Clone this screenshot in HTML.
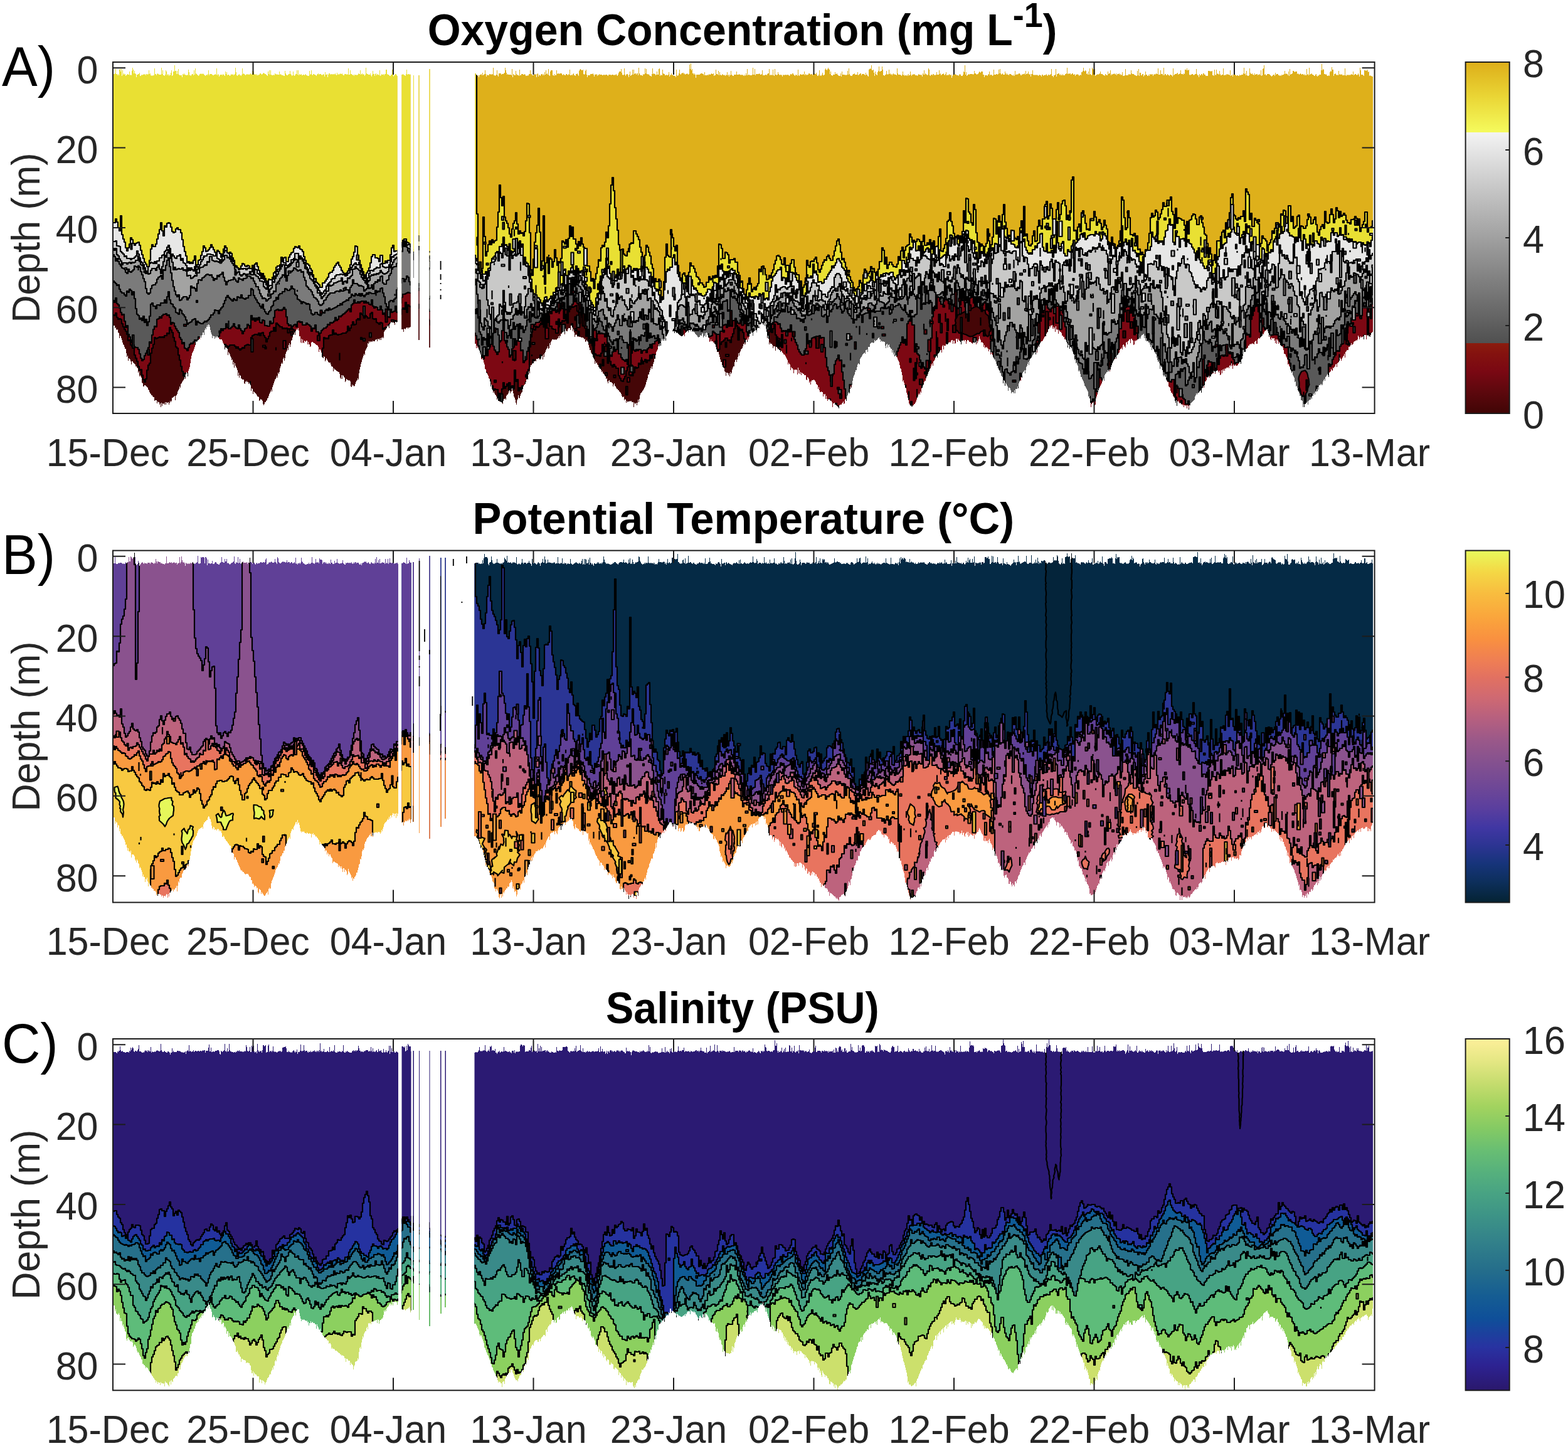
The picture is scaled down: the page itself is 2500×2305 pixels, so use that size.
<!DOCTYPE html>
<html lang="en"><head><meta charset="utf-8"><title>Oxygen, temperature and salinity time series</title>
<style>html,body{margin:0;padding:0;background:#fff}svg{display:block}text{font-family:"Liberation Sans", sans-serif}</style></head><body>
<svg xmlns="http://www.w3.org/2000/svg" width="2500" height="2305" viewBox="0 0 2500 2305">
<rect width="2500" height="2305" fill="#fff"/>
<defs>
<linearGradient id="cbA" x1="0" y1="1" x2="0" y2="0"><stop offset="0%" stop-color="#400505"/><stop offset="6%" stop-color="#5c080d"/><stop offset="12%" stop-color="#7a0813"/><stop offset="17%" stop-color="#84120f"/><stop offset="20%" stop-color="#8b1c0e"/><stop offset="20%" stop-color="#505050"/><stop offset="50%" stop-color="#a0a0a0"/><stop offset="80%" stop-color="#f3f3f3"/><stop offset="80%" stop-color="#f5fb5d"/><stop offset="90%" stop-color="#ead636"/><stop offset="100%" stop-color="#ddae1a"/></linearGradient>
<linearGradient id="cbB" x1="0" y1="1" x2="0" y2="0"><stop offset="0%" stop-color="#042333"/><stop offset="5.9%" stop-color="#0d2f5c"/><stop offset="11%" stop-color="#16347a"/><stop offset="16.1%" stop-color="#2c3492"/><stop offset="21.2%" stop-color="#4037a3"/><stop offset="26.9%" stop-color="#5b3f9e"/><stop offset="33.3%" stop-color="#704896"/><stop offset="40%" stop-color="#85518f"/><stop offset="46.1%" stop-color="#9a5889"/><stop offset="51.8%" stop-color="#b45f80"/><stop offset="58.2%" stop-color="#cf6972"/><stop offset="64.1%" stop-color="#e27161"/><stop offset="68.4%" stop-color="#ee7d55"/><stop offset="74.8%" stop-color="#f99040"/><stop offset="81.2%" stop-color="#faa63c"/><stop offset="87.9%" stop-color="#f8bd3f"/><stop offset="94%" stop-color="#f4d845"/><stop offset="100%" stop-color="#e8f95c"/></linearGradient>
<linearGradient id="cbC" x1="0" y1="1" x2="0" y2="0"><stop offset="0%" stop-color="#2a186c"/><stop offset="7%" stop-color="#2d2291"/><stop offset="12.4%" stop-color="#2833a1"/><stop offset="20.4%" stop-color="#0f4f99"/><stop offset="26.8%" stop-color="#155d93"/><stop offset="34.4%" stop-color="#256e8b"/><stop offset="42.7%" stop-color="#33828a"/><stop offset="49%" stop-color="#3c9287"/><stop offset="56.1%" stop-color="#48a383"/><stop offset="61.8%" stop-color="#55b07d"/><stop offset="68.2%" stop-color="#68be73"/><stop offset="74.5%" stop-color="#84ca64"/><stop offset="80.9%" stop-color="#a3d35f"/><stop offset="87.3%" stop-color="#c5dc6e"/><stop offset="93.6%" stop-color="#e4e783"/><stop offset="100%" stop-color="#fdef9a"/></linearGradient>
</defs>
<clipPath id="clipA"><path d="M181 118h2v-1h1v-7h1v8h2v2h1v-2h1v2h1v-9h1v-1h1v4h1v-4h1v11h1v-9h1v7h1v-2h1v2h1v-1h1v3h1v-1h1v-1h1v-1h1v1h2v-5h1v6h1v-1h1v1h1v-7h1v-5h1v3h1v6h1v-4h1v4h1v1h1v5h1v-4h2v-1h2v-2h1v5h2v-2h1v1h1v-1h2v-1h1v1h1v-1h1v2h1v-2h2v1h1v-1h1v-6h1v6h1v-1h1v3h1v1h1v-1h1v1h1v-1h2v-11h1v9h2v2h1v-2h1v-1h1v1h1v1h4v-11h1v10h1v-6h1v8h2v1h1v-2h1v-7h1v2h1v6h1v-2h1v1h1v2h1v-2h1v1h1v-4h1v-4h1v9h1v-1h1v-6h2v-10h1v9h2v5h1v-5h1v5h1v-8h1v9h1v1h4v3h1v-5h1v1h1v-2h1v2h2v1h2v-1h1v1h1v-9h1v4h1v5h2v1h1v-2h1v-1h2v2h1v-8h1v7h1v-10h1v8h1v1h1v1h1v1h1v1h1v-1h1v-2h2v-1h1v1h2v-1h1v1h1v1h1v1h1v1h1v-1h1v-1h1v1h1v-2h1v-6h1v8h1v-2h4v1h1v1h2v-1h2v-1h1v1h1v-10h1v11h1v-2h1v1h1v3h1v-2h1v-1h3v1h1v-2h1v1h1v1h1v1h1v-7h1v4h1v-3h1v5h1v-1h2v1h1v1h1v-1h1v-2h1v1h2v-1h1v2h1v-1h1v-1h1v-10h1v7h1v5h1v1h1v-1h1v-1h1v-1h1v2h2v1h1v-2h1v-10h1v9h1v-1h1v1h1v1h1v1h1v-1h1v-1h1v1h1v-1h1v1h2v-1h1v-1h1v2h1v-1h1v-5h1v5h1v-4h1v4h1v1h1v-1h1v2h1v-2h1v2h2v-1h2v-2h2v1h1v1h1v-1h1v-1h1v-1h1v1h1v1h2v1h1v1h1v1h1v-7h1v4h1v-6h1v7h1v-7h1v7h1v1h3v-1h1v1h1v-3h1v1h1v1h1v-1h1v1h3v-5h1v5h1v-1h1v1h1v1h3v1h2v-8h1v4h1v2h1v1h2v-1h1v-1h2v-5h1v5h1v1h1v2h1v-1h1v-6h1v6h1v1h1v-1h1v-2h2v-6h1v7h1v-7h1v8h1v-2h1v1h2v-1h1v2h2v-1h2v1h1v-1h1v-1h1v2h2v1h3v-8h1v6h1v-1h1v-6h1v7h1v1h1v-2h2v1h2v1h1v1h1v-2h1v-1h1v-1h1v2h1v-1h3v1h1v1h1v-1h1v-1h1v1h1v3h1v-7h1v4h2v-1h1v5h1v-4h1v-2h2v2h1v-1h2v1h1v-1h2v1h1v-1h1v-1h1v2h1v1h1v-4h1v3h1v-1h1v1h1v-1h1v-1h1v1h2v-1h1v2h1v1h2v-2h3v1h1v-1h1v1h1v-10h1v10h2v-7h1v6h2v1h1v1h1v-1h1v2h1v-2h2v1h1v-1h1v1h1v-1h1v-2h1v1h2v-6h1v7h1v-1h1v-1h1v2h1v-1h1v1h1v2h1v-2h1v-11h1v9h1v1h2v1h3v-2h1v3h1v2h1v-3h1v-6h1v5h2v3h1v-3h1v-1h1v3h1v-2h1v1h2v1h1v-8h1v9h1v-1h1v-2h1v1h2v-1h1v2h1v-2h2v-7h2v7h1v1h2v1h1v1h2v-2h2v-8h1v8h1v3h1v-2h2v-2h2v2h1v1h.5v392h-.5v1h-1v-1h-2v5h-1v-3h-1v-1h-4v-1h-1v2h-1v2h-1v6h-1v-4h-1v2h-1v-2h-1v4h-1v2h-1v1h-1v1h-1v2h-1v10h-1v-2h-1v2h-1v-1h-1v4h-1v-3h-1v3h-1v-2h-1v1h-1v-1h-1v4h-1v-3h-2v1h-1v2h-3v-1h-1v2h-1v-1h-1v1h-1v-1h-1v2h-1v-2h-1v4h-1v-1h-1v6h-1v2h-1v2h-1v2h-1v7h-1v-2h-1v3h-1v3h-1v3h-1v4h-1v3h-1v5h-1v4h-1v6h-1v10h-1v-2h-1v3h-1v1h-1v2h-1v3h-1v3h-1v1h-1v-2h-1v1h-1v-2h-1v4h-1v-1h-1v-8h-1v-2h-1v1h-1v-1h-2v-1h-1v-1h-1v3h-1v2h-1v-7h-1v-1h-1v-2h-1v-1h-1v6h-1v-6h-1v6h-1v-2h-1v-6h-1v-3h-2v-1h-2v-1h-1v-1h-1v-1h-2v-2h-1v5h-1v-7h-1v-1h-2v-3h-1v-3h-3v-1h-1v-2h-1v-2h-1v-2h-1v3h-1v2h-1v-7h-1v-1h-1v3h-1v-1h-1v-1h-1v-7h-1v-3h-1v-2h-2v4h-1v-8h-1v-2h-1v-1h-2v-1h-1v-1h-1v-1h-2v-1h-1v-1h-2v1h-1v6h-1v1h-1v-4h-2v-4h-1v4h-1v-6h-2v2h-1v-1h-1v-1h-1v4h-1v-1h-1v-5h-1v6h-1v-7h-1v6h-1v-10h-2v-9h-1v-4h-1v3h-1v-2h-1v2h-1v2h-1v6h-1v-4h-1v3h-1v1h-1v4h-1v4h-1v1h-1v6h-1v4h-1v-6h-1v3h-1v8h-1v-3h-1v4h-1v2h-1v3h-1v7h-1v4h-1v-5h-1v2h-1v8h-1v-2h-1v2h-1v4h-1v3h-1v6h-1v3h-1v-2h-1v8h-1v-3h-1v3h-1v2h-1v1h-1v3h-1v3h-1v3h-1v3h-1v7h-1v-3h-1v3h-1v2h-1v2h-1v3h-1v3h-1v1h-1v3h-1v1h-1v2h-2v3h-1v2h-1v-2h-1v-5h-1v-2h-2v-1h-1v2h-1v1h-1v-6h-1v-1h-2v-2h-1v-2h-1v-1h-1v-1h-1v-1h-1v-1h-1v4h-1v-8h-1v-1h-1v4h-1v-9h-1v-2h-1v-2h-1v2h-1v-3h-2v-2h-1v2h-1v-1h-1v4h-1v-1h-1v-6h-3v-1h-1v-1h-1v-4h-1v-1h-1v4h-1v-8h-1v5h-1v-9h-1v-3h-1v-2h-1v-2h-1v-4h-1v7h-1v-9h-1v4h-1v-8h-1v1h-1v-4h-1v-2h-1v-3h-1v-2h-1v-2h-1v5h-1v-10h-1v-1h-1v-1h-2v3h-1v-7h-1v-2h-1v-2h-1v-3h-1v-2h-4v-1h-1v-2h-2v-2h-2v2h-1v-2h-1v4h-1v-4h-2v-1h-1v4h-1v-6h-1v-3h-1v-4h-1v-5h-1v-3h-1v-1h-1v4h-1v-3h-1v3h-1v4h-1v-2h-1v3h-1v8h-1v-4h-2v4h-1v1h-1v3h-1v-3h-1v6h-1v-1h-1v2h-2v2h-1v1h-1v-1h-1v6h-1v3h-1v3h-1v3h-1v2h-1v2h-1v4h-1v5h-1v7h-1v6h-1v3h-1v3h-1v9h-1v-5h-1v-2h-1v5h-1v6h-1v-3h-1v3h-1v2h-1v1h-1v2h-1v2h-1v1h-1v6h-1v-2h-1v4h-1v2h-1v2h-1v4h-1v2h-1v1h-1v7h-1v-7h-1v1h-1v1h-1v1h-2v5h-1v2h-1v-2h-1v3h-1v3h-1v-4h-1v1h-2v-1h-1v4h-1v-4h-1v4h-1v-2h-1v1h-1v-1h-1v4h-1v-5h-1v7h-1v-6h-1v2h-1v-4h-2v-1h-1v3h-1v-5h-3v1h-1v-6h-2v-1h-1v-2h-2v-2h-1v-1h-1v-2h-1v-3h-1v-1h-1v-3h-1v-1h-1v-1h-1v-1h-1v-1h-2v2h-2v-5h-1v-1h-1v-8h-1v-2h-1v-2h-1v2h-1v-8h-1v2h-1v-7h-1v-1h-1v-2h-2v-3h-1v-1h-1v-1h-1v-1h-1v-2h-2v5h-1v-5h-1v-3h-1v-1h-1v-1h-1v4h-1v-8h-1v2h-1v-6h-1v-7h-2v-3h-1v-3h-1v-1h-1v-3h-1v-4h-1v-3h-1v-3h-1v-1h-1v4h-1v-8h-1v-1h-1v-5h-1v1h-1v-1h-1v-3h-1v1h-1v-4h-2ZM640.5 119h1.5v-1h1v1h1v1h2v1h1v-3h1v-7h1v8h1v-1h2v1h1v-1h1v1h.5v402h-.5v1h-3v2h-1v-2h-2v1h-1v2h-1v-1h-2v5h-1v-4h-2.5ZM757.5 117h1.5v2h1v1h1v1h1v-1h1v3h1v-3h1v-1h2v-1h1v2h1v-4h1v4h1v-1h1v-1h1v-6h1v6h1v4h1v-3h1v1h3v-2h2v1h1v-1h1v1h1v-1h1v-10h1v12h2v1h1v-1h1v-1h1v-7h1v8h1v2h1v-5h4v2h1v-1h3v-1h1v-1h1v-8h1v4h1v4h1v3h1v-1h1v1h5v1h1v-10h1v13h1v-5h1v1h1v1h2v-7h1v5h1v2h1v-1h1v1h1v1h1v-10h1v9h2v-2h3v1h2v-1h1v1h1v2h2v-1h1v1h1v-1h1v-2h2v-6h1v6h2v2h3v-1h1v-1h1v1h1v-1h1v5h1v-5h1v-1h1v5h1v-3h1v1h1v1h1v-2h1v-1h2v2h1v-2h1v2h1v-5h1v4h1v-7h1v6h1v-1h1v2h1v-9h1v10h1v1h1v-7h1v-2h3v8h2v1h1v-3h1v2h2v-8h1v6h1v-1h2v1h1v-1h4v2h1v1h1v-2h1v1h1v1h2v-2h2v1h1v1h1v-2h1v1h1v-8h1v9h2v-1h1v1h1v-2h1v-1h1v3h2v1h1v-3h2v-1h1v2h1v2h1v-8h1v-2h1v-1h1v1h1v1h2v-1h1v7h1v1h1v-1h1v-5h1v-2h1v8h1v4h1v-3h4v-2h4v-1h1v2h1v3h1v-3h2v-1h1v1h1v2h1v-2h1v1h1v-2h1v1h4v1h2v-1h2v1h1v-1h3v1h1v1h1v-2h4v1h1v-1h3v1h1v-1h1v1h1v-1h1v-1h1v2h1v1h1v-2h1v-3h1v-2h3v-4h1v6h1v3h1v1h1v-1h1v-10h1v10h1v2h1v-2h1v-1h2v2h1v3h1v-4h1v-5h1v7h1v-1h1v-1h1v-8h1v8h1v-8h1v7h1v-1h2v2h1v-2h2v3h1v-12h1v9h1v2h1v1h3v1h1v-3h1v1h1v-1h1v-9h1v8h1v-7h1v8h2v1h1v-1h1v2h1v1h2v1h1v-4h1v-9h1v9h1v-1h1v1h2v2h1v-1h1v-5h1v5h2v-9h1v-1h1v12h1v-2h1v1h2v-9h1v6h1v1h2v2h2v-1h1v1h2v-1h1v-4h1v7h1v-3h1v1h1v-3h1v2h1v1h2v1h3v2h1v-12h1v9h1v1h1v-1h1v-3h1v-6h1v7h1v1h1v-2h2v-1h2v2h1v-1h1v2h1v-1h2v-1h1v1h1v1h1v-1h1v-15h1v7h1v-9h1v11h1v-2h1v7h2v2h1v-2h1v2h1v5h1v-5h6v-1h1v-1h3v1h2v2h1v-5h1v5h4v-1h1v1h1v-2h1v1h2v-1h1v-1h1v1h2v-1h1v4h1v-1h2v-9h1v7h2v1h1v-6h1v7h1v-5h1v4h1v1h2v-2h1v1h1v1h1v-1h1v1h1v1h1v-2h1v1h1v-5h1v5h1v-1h1v3h1v-3h1v1h1v-7h1v6h1v1h1v1h2v-2h4v-5h1v5h3v-1h1v1h2v1h1v-1h2v1h1v1h1v-2h1v2h1v-1h1v-3h1v3h1v-10h1v10h1v-1h2v1h4v-1h1v-11h1v11h2v-9h1v10h1v-2h5v-1h1v1h1v1h2v-1h1v-6h1v8h4v-1h2v1h1v-2h1v-1h2v-7h1v10h1v-1h1v1h1v-1h1v1h1v-9h1v9h1v1h1v-11h1v9h2v1h1v-1h1v-4h1v3h1v1h1v1h1v-1h2v1h1v2h1v-3h1v1h1v-1h1v1h1v-1h2v1h1v-1h2v1h1v1h1v-1h1v-2h2v1h1v-2h2v2h1v1h1v1h1v-2h1v1h1v-1h1v2h1v-10h1v9h1v1h1v-2h1v-1h1v1h3v-1h1v1h1v-5h1v6h1v-2h1v1h1v1h1v-1h2v-2h2v1h1v1h1v-1h2v2h1v-2h2v-1h1v1h2v-2h1v3h1v2h2v-2h1v-7h1v9h1v-1h1v1h1v-2h1v-3h1v4h2v-1h1v-8h1v-2h1v2h1v1h1v-2h1v-2h1v2h1v1h1v7h1v-4h1v6h2v1h1v-2h3v-4h1v3h2v-1h1v2h1v1h1v1h3v-4h1v5h1v-8h1v5h4v1h1v-1h1v1h1v-1h1v-6h1v6h1v-10h1v9h1v2h1v1h3v-2h1v-1h2v-1h1v2h4v-4h1v5h1v-1h1v-1h1v-1h2v3h1v-2h4v1h1v1h1v-4h1v3h2v2h1v1h1v-11h1v-1h1v-1h1v1h1v-6h1v8h2v-1h1v5h1v5h1v-7h1v4h1v1h1v1h1v-5h1v-2h1v-7h1v8h2v-1h2v-7h1v5h1v9h2v1h1v-2h2v-6h1v5h1v1h1v-1h1v-7h1v7h1v-1h1v2h1v-1h1v2h1v-2h1v-1h1v2h1v-1h1v1h2v1h1v-11h1v8h1v2h4v1h1v1h1v-2h1v-5h1v6h1v-1h1v2h1v-1h2v1h1v-2h1v2h1v-3h1v2h2v-6h1v5h1v2h1v-2h2v-1h1v1h1v-1h1v2h3v1h1v-1h1v-2h1v1h3v1h1v-1h1v3h1v-5h1v2h1v-7h1v7h1v-2h1v1h1v1h1v1h1v-1h1v-10h1v2h1v9h1v1h1v-2h2v1h1v-2h2v2h1v-1h1v1h1v-1h1v-4h1v4h3v-7h1v6h1v-1h1v3h1v-1h1v-1h2v-1h1v2h1v1h1v-2h1v-3h1v5h2v-1h1v1h1v-2h1v1h1v1h1v-1h1v5h1v-3h1v-2h1v-1h1v1h2v-1h1v1h1v1h3v1h1v-2h1v-1h1v1h1v2h3v-2h1v-5h1v1h1v-11h1v15h1v-4h1v6h1v-1h1v-1h1v-1h1v1h1v-1h5v1h1v-1h1v-5h1v4h2v1h1v1h1v-1h2v-2h1v-2h1v1h1v1h1v-2h3v5h2v4h1v-3h4v1h1v-2h1v-1h1v-4h1v6h1v-1h2v1h1v1h1v-1h1v-9h1v8h3v-1h2v1h1v-1h1v-7h1v6h1v-7h1v7h1v2h1v-1h1v-1h1v2h3v-5h1v3h1v2h1v-2h1v2h2v1h1v-2h3v1h1v1h2v1h1v-2h1v2h1v-8h1v6h2v-1h1v1h1v-1h1v-1h2v1h1v2h2v-2h1v1h1v-1h2v-1h1v2h1v-6h1v5h2v-1h1v-3h1v4h1v1h1v-1h1v4h1v-4h2v-6h1v7h1v1h1v-1h1v1h1v-1h1v1h1v-1h1v1h1v1h1v-1h1v-1h1v1h2v2h1v-3h2v2h1v-1h2v-1h1v1h1v-2h1v2h1v1h1v-2h2v1h1v-1h1v-1h1v-8h1v11h2v2h1v-3h2v-1h1v-9h1v12h1v-4h2v-1h2v2h1v1h1v-2h1v2h2v-2h1v2h3v-2h2v-1h1v-9h1v10h1v-1h1v1h1v-1h2v2h1v-1h1v-1h2v2h2v-1h1v3h1v-2h2v-1h1v1h2v2h1v-1h1v-1h1v1h1v-5h2v-2h1v-5h1v5h1v1h1v-2h1v1h1v5h1v-1h1v2h1v-5h1v5h1v-10h1v9h1v1h1v1h1v-12h1v2h1v1h2v-1h1v11h1v-1h1v-1h2v-1h1v1h1v-1h1v-1h1v-3h1v4h3v1h1v1h2v1h1v-3h1v1h1v1h2v-6h1v4h1v-1h2v-5h1v8h1v-2h1v1h1v-1h2v-1h1v1h1v1h1v-2h1v3h1v-2h3v-1h1v2h1v-1h1v2h1v-1h1v-4h1v6h3v-1h1v-10h1v10h4v-2h1v1h1v-1h1v1h1v-7h1v5h1v1h3v1h1v1h2v1h2v-8h1v7h1v-10h1v11h1v-5h2v4h2v-2h2v4h1v-2h2v-6h1v5h2v2h2v-2h1v2h1v-3h1v1h1v-1h1v1h1v-1h1v3h1v-2h1v-1h1v1h1v-1h1v-1h1v1h2v-9h1v10h3v-7h1v6h3v2h1v-12h1v12h1v-2h2v2h2v-2h1v1h1v1h1v1h1v-2h2v1h2v2h1v-13h1v11h1v-1h1v-1h3v-1h1v-1h1v3h1v-1h2v-1h1v-5h1v6h3v1h1v-2h1v1h1v-7h2v1h1v-3h1v3h2v-1h1v8h1v1h1v-1h2v-1h2v1h1v1h1v-1h1v-1h2v-8h1v8h1v2h2v3h1v-5h1v2h2v-2h2v2h1v-3h2v2h2v2h4v-8h3v1h1v-1h1v1h1v-1h1v7h2v1h1v-10h1v8h1v1h1v-9h1v7h1v-1h1v1h1v1h1v-6h1v5h1v2h2v-1h2v-10h1v11h2v-1h1v1h1v-2h1v1h1v-1h1v1h2v1h1v-8h1v9h1v-1h1v-1h1v3h1v-3h1v-2h1v1h1v1h1v1h1v1h1v-1h2v1h2v-2h1v1h2v-1h3v-2h1v-9h1v10h1v-1h1v3h1v-7h1v7h1v1h2v-1h1v-11h1v7h1v2h2v-1h1v2h2v1h1v-3h1v2h2v-1h2v2h1v-1h2v-1h1v2h1v-8h1v9h1v-1h1v-10h1v-1h1v-5h1v15h1v-1h1v2h2v-2h4v1h1v1h1v1h1v1h1v-1h1v-1h1v-1h2v2h1v-5h1v3h1v-1h3v2h2v1h1v-1h1v1h1v-2h1v1h1v-1h2v-1h1v-5h1v5h1v-1h1v1h2v2h1v-6h1v7h1v-11h1v9h1v-1h2v-1h1v-4h2v1h1v1h1v-1h3v4h1v-1h1v1h1v1h1v-1h1v-1h1v1h1v1h1v-1h2v1h1v1h1v-2h1v2h2v-10h1v9h1v-1h1v2h1v-12h1v11h1v-1h2v-1h1v2h2v1h1v1h2v-2h1v-1h1v3h1v1h1v-2h1v1h1v-2h3v-7h1v-10h1v10h1v-2h1v1h1v7h2v1h1v-1h1v2h1v1h2v-1h1v1h1v-6h1v-2h1v1h1v-7h1v4h2v10h1v-3h2v-1h1v2h1v1h1v-1h1v1h1v-7h1v6h1v-1h1v1h2v-1h1v2h4v-11h1v11h1v1h1v-2h1v1h1v-1h1v1h1v-1h1v1h1v-1h1v-1h1v1h2v-5h1v6h1v-1h1v-1h2v1h1v1h1v-1h1v-2h1v2h1v3h1v-14h1v4h1v7h3v1h1v1h1v-9h2v1h1v-1h1v1h1v-2h1v4h1v-1h1v7h1v-1h1v1h2v1h2v407h-1v1h-1v1h-1v3h-1v3h-1v-1h-2v-2h-1v1h-1v-1h-1v7h-1v-7h-3v7h-1v-5h-1v1h-2v1h-1v-2h-1v2h-1v3h-1v-4h-1v-2h-1v6h-1v2h-1v-1h-1v1h-1v1h-2v1h-1v3h-1v1h-1v1h-1v-3h-1v3h-1v2h-1v1h-2v5h-3v2h-1v1h-1v9h-1v-6h-1v3h-1v1h-1v2h-1v2h-1v3h-1v-3h-1v-2h-1v5h-1v2h-1v1h-1v1h-1v6h-1v-5h-1v1h-1v3h-1v1h-1v2h-1v-1h-1v5h-1v-1h-1v-2h-1v4h-1v1h-1v1h-1v7h-1v-3h-1v-2h-1v2h-1v2h-1v1h-1v6h-1v-3h-1v2h-1v2h-1v6h-1v-2h-1v2h-1v-2h-1v2h-2v7h-1v-4h-1v7h-1v-4h-1v5h-1v-1h-1v5h-1v-3h-1v2h-1v3h-2v5h-1v-2h-1v3h-2v1h-1v1h-1v6h-1v-5h-1v2h-2v2h-2v5h-1v-5h-1v5h-1v-10h-1v-1h-2v-7h-2v-4h-1v-3h-1v-2h-1v-4h-1v-3h-1v1h-1v-8h-1v1h-1v-7h-1v-2h-1v-2h-1v-6h-1v2h-1v-3h-1v-2h-1v-4h-1v-2h-1v-3h-1v1h-1v-8h-1v-3h-1v-2h-1v-3h-1v-1h-2v-6h-1v-4h-1v-2h-2v-1h-1v-1h-1v-3h-1v-2h-1v3h-1v-5h-1v-2h-1v7h-1v-7h-1v6h-1v-4h-1v-4h-2v1h-1v-1h-1v-1h-1v4h-1v-2h-1v-6h-1v3h-1v-6h-1v-3h-1v-3h-2v2h-2v1h-1v2h-1v3h-1v-1h-1v3h-1v1h-1v1h-1v1h-1v2h-1v-1h-2v2h-1v7h-2v-5h-1v1h-1v1h-1v4h-1v-1h-2v-1h-1v1h-1v1h-1v-1h-1v1h-1v2h-2v3h-1v1h-1v1h-2v5h-3v3h-1v3h-1v5h-1v1h-1v7h-1v-3h-2v2h-1v1h-1v2h-1v1h-3v-2h-1v2h-2v-2h-1v7h-1v-5h-1v-4h-1v5h-1v-2h-1v1h-1v4h-1v-2h-1v1h-3v2h-1v-1h-1v4h-1v-3h-1v3h-1v-2h-1v6h-1v-5h-1v7h-1v1h-1v-7h-1v3h-1v-2h-1v-2h-1v1h-2v1h-1v4h-1v-4h-1v-1h-1v4h-2v1h-1v1h-1v3h-2v2h-1v-3h-1v2h-1v1h-1v-1h-1v5h-1v2h-2v6h-1v4h-1v-3h-1v3h-1v1h-1v7h-1v-4h-1v1h-1v1h-1v2h-2v1h-1v2h-1v-2h-1v3h-1v2h-1v5h-1v1h-1v1h-1v1h-1v1h-1v1h-1v1h-1v3h-2v7h-1v-6h-1v-1h-1v5h-1v-5h-1v1h-1v-1h-2v3h-1v-4h-1v1h-1v-2h-1v1h-1v-2h-1v-1h-1v1h-1v-2h-1v-2h-1v1h-1v7h-1v-9h-1v4h-1v-3h-1v-5h-1v-1h-1v-2h-1v-3h-1v-2h-2v-3h-1v-5h-1v-1h-1v-1h-1v-7h-2v-2h-1v-2h-1v-4h-1v-1h-1v-2h-1v2h-1v-2h-1v-8h-1v-5h-2v-2h-1v5h-1v-9h-1v-3h-1v1h-1v-3h-1v-4h-1v-5h-1v-1h-1v-2h-1v-1h-1v-4h-1v-1h-1v-2h-1v4h-1v-8h-1v3h-1v-4h-1v-3h-2v-2h-1v-1h-1v1h-1v-5h-1v4h-1v-8h-1v4h-1v-7h-1v1h-1v1h-2v2h-1v4h-1v-2h-1v2h-2v1h-2v2h-1v-1h-1v2h-1v-1h-1v6h-1v1h-1v-7h-1v-1h-1v-2h-2v7h-1v-6h-2v2h-1v1h-1v5h-1v-4h-1v1h-1v8h-1v-3h-1v2h-1v-4h-1v1h-1v7h-1v-3h-1v2h-2v2h-1v4h-1v1h-1v2h-1v1h-1v1h-1v5h-1v-3h-1v3h-1v1h-1v2h-1v2h-1v2h-1v3h-1v3h-1v4h-1v3h-1v-3h-1v3h-1v-2h-1v3h-2v2h-1v1h-1v2h-1v9h-1v-4h-1v2h-1v3h-1v3h-1v2h-1v2h-1v2h-1v2h-1v3h-1v3h-1v4h-1v3h-1v3h-1v10h-1v1h-1v-5h-2v1h-2v2h-1v5h-1v-7h-1v-7h-1v-4h-1v1h-1v-8h-1v-2h-1v-2h-1v-2h-1v-2h-1v-1h-1v-4h-1v-3h-1v-2h-1v-2h-1v-3h-2v-5h-1v-4h-1v-2h-1v2h-1v-9h-1v-2h-1v-3h-1v1h-1v-7h-1v2h-1v-8h-1v-2h-1v-3h-1v-2h-1v-4h-1v-2h-2v3h-1v-6h-2v4h-1v-7h-1v-2h-1v-3h-1v-2h-1v1h-1v-4h-2v-2h-2v-4h-1v-2h-2v-1h-1v-2h-1v6h-1v-7h-1v1h-1v-1h-1v-5h-1v9h-1v-7h-1v2h-1v-3h-1v3h-1v-6h-1v1h-2v3h-1v-2h-1v4h-1v1h-1v4h-1v1h-1v2h-1v4h-2v1h-1v2h-1v2h-1v2h-1v1h-2v1h-1v2h-1v2h-1v4h-1v-2h-1v3h-1v8h-1v-5h-1v8h-1v-4h-1v1h-1v1h-1v2h-1v1h-1v2h-1v2h-1v1h-1v1h-1v3h-1v7h-1v-5h-1v3h-1v3h-1v2h-1v5h-1v5h-1v-5h-1v2h-1v1h-1v2h-1v7h-1v-1h-1v6h-1v-1h-1v2h-1v3h-1v8h-1v-3h-1v4h-3v7h-1v-5h-1v5h-1v-2h-3v2h-1v-5h-1v-3h-1v-1h-2v5h-1v-7h-1v-2h-1v-2h-1v-2h-1v5h-1v-8h-1v-1h-1v5h-1v-10h-1v-1h-1v-1h-1v-4h-1v-1h-1v-3h-1v-2h-1v-2h-1v-4h-2v-3h-1v-4h-1v-3h-2v-2h-1v-2h-1v-3h-1v-2h-1v-3h-1v4h-1v-8h-2v3h-1v-4h-1v-1h-1v-2h-1v1h-1v-1h-1v2h-1v-5h-1v3h-1v-6h-1v-1h-1v-1h-1v1h-1v-4h-1v-2h-1v-4h-1v5h-1v3h-1v3h-1v-4h-1v6h-1v-4h-1v1h-4v2h-1v-1h-1v-1h-1v-1h-3v-2h-1v-1h-2v2h-1v4h-1v-6h-2v2h-1v-2h-1v1h-3v6h-1v-4h-1v-1h-1v-1h-1v-1h-1v-2h-1v5h-1v-5h-2v7h-1v1h-1v-5h-2v5h-1v-6h-2v1h-1v3h-1v-1h-1v1h-2v2h-1v1h-2v-1h-1v3h-3v6h-1v-7h-1v2h-1v10h-1v-4h-2v2h-1v2h-1v1h-1v1h-1v6h-1v-3h-1v1h-1v2h-1v3h-1v2h-1v1h-1v7h-1v-4h-1v2h-1v3h-1v3h-1v1h-1v3h-1v2h-1v3h-1v3h-1v1h-1v3h-1v4h-2v2h-1v4h-1v2h-1v3h-1v1h-1v7h-1v-2h-1v5h-1v-2h-1v2h-1v3h-1v2h-1v3h-1v3h-1v2h-1v2h-2v2h-2v2h-2v-2h-1v1h-1v-2h-1v-2h-1v-5h-1v-4h-1v-5h-1v-3h-1v-7h-1v-1h-1v-4h-1v-4h-1v-4h-1v2h-1v-10h-1v-5h-1v-5h-1v-1h-1v-5h-1v-5h-1v-2h-1v-2h-1v-3h-1v-1h-1v-3h-1v1h-1v1h-1v-6h-1v3h-1v-7h-1v4h-1v-6h-2v-2h-1v-1h-1v-4h-1v1h-1v4h-1v-6h-1v1h-1v6h-1v-4h-1v-6h-2v-1h-1v1h-1v-1h-1v-1h-1v2h-1v-4h-2v-3h-1v1h-1v1h-1v2h-2v1h-1v1h-1v-2h-1v4h-1v1h-1v-1h-3v1h-1v1h-1v5h-3v8h-1v-4h-1v1h-2v6h-1v-2h-1v1h-1v1h-1v1h-1v2h-1v2h-1v1h-1v2h-1v9h-1v-1h-1v-1h-1v2h-1v4h-1v5h-2v3h-1v4h-1v2h-1v3h-1v5h-1v6h-1v5h-1v-2h-1v4h-1v7h-1v-2h-1v2h-1v3h-1v2h-1v7h-1v-3h-1v1h-1v6h-1v1h-1v-4h-1v2h-1v1h-1v2h-3v1h-1v5h-1v-2h-1v-1h-1v-1h-1v-1h-1v-1h-2v-3h-1v1h-2v6h-1v-8h-1v-2h-2v-1h-1v-2h-1v1h-1v-1h-1v3h-1v-3h-1v-5h-1v5h-1v-8h-1v1h-1v-1h-1v4h-1v-7h-2v-1h-1v1h-2v-3h-1v-5h-1v3h-1v-6h-1v-1h-1v-1h-1v-3h-1v-2h-1v-1h-1v-1h-1v1h-3v2h-1v5h-1v-5h-1v2h-1v-6h-1v-2h-1v-1h-1v5h-1v-1h-1v-7h-3v-2h-2v-1h-1v-1h-1v4h-1v-5h-1v3h-1v-6h-1v5h-1v-9h-1v11h-1v-7h-1v-1h-2v1h-1v-1h-1v6h-1v-6h-1v-2h-2v-2h-1v5h-1v-9h-1v-1h-1v-2h-1v3h-1v-7h-1v-2h-1v-2h-1v-2h-1v-2h-1v-1h-2v-2h-1v-1h-1v-2h-1v-1h-1v2h-1v-3h-2v-2h-1v1h-1v-2h-1v-2h-2v6h-1v-7h-3v3h-1v-5h-1v-2h-3v-2h-1v3h-1v-9h-1v-5h-1v4h-1v-10h-1v-5h-1v-4h-1v-1h-1v1h-1v-2h-1v-1h-1v-2h-1v-1h-1v2h-1v2h-1v6h-1v-2h-1v1h-1v-1h-1v2h-1v6h-1v-4h-1v1h-2v1h-1v1h-1v6h-1v-5h-2v-3h-1v5h-2v5h-1v4h-1v-3h-1v7h-1v-4h-1v1h-1v7h-1v-3h-1v3h-1v-1h-1v4h-1v3h-1v1h-1v1h-1v3h-1v2h-1v5h-1v-4h-1v6h-1v4h-1v4h-1v-4h-1v1h-1v3h-1v7h-2v2h-1v3h-1v5h-1v2h-1v-3h-1v7h-1v-5h-1v3h-1v-3h-1v-1h-2v5h-1v-6h-1v-1h-1v-5h-1v-1h-1v-1h-1v-3h-1v-5h-2v-4h-1v-4h-1v-4h-1v-4h-3v-4h-1v-4h-1v-4h-1v-1h-1v-2h-2v-2h-3v-3h-1v3h-1v1h-1v-6h-1v-1h-1v-4h-1v-3h-1v-1h-1v7h-1v-6h-1v4h-1v1h-1v2h-1v-7h-1v1h-1v3h-2v-1h-1v3h-2v1h-1v-1h-1v-2h-1v-1h-1v-1h-1v-1h-1v-2h-1v-1h-2v-1h-1v1h-1v-4h-1v1h-1v2h-1v-2h-2v4h-1v-3h-1v1h-1v1h-1v1h-1v1h-1v5h-1v-3h-1v1h-1v1h-1v1h-2v-1h-2v-1h-1v-1h-1v-1h-1v-1h-1v-1h-1v1h-1v-2h-1v-1h-1v3h-1v-3h-3v-1h-1v-1h-1v-1h-1v-2h-1v2h-1v2h-1v3h-1v2h-1v2h-1v2h-1v7h-1v-4h-1v1h-1v3h-1v-3h-1v3h-1v-2h-1v3h-1v7h-1v-4h-1v5h-1v-3h-1v3h-1v5h-1v2h-1v2h-1v5h-1v6h-2v5h-1v3h-1v4h-1v4h-1v-4h-1v3h-1v3h-1v3h-1v4h-2v6h-1v3h-1v3h-1v4h-1v3h-1v2h-1v2h-1v2h-1v1h-1v2h-1v1h-1v1h-1v3h-1v6h-1v5h-1v-4h-1v5h-1v4h-1v-4h-1v1h-1v1h-1v-2h-1v7h-1v-8h-3v-2h-1v1h-1v-1h-1v1h-3v1h-1v-2h-1v3h-1v-5h-1v-1h-1v2h-1v-6h-1v1h-2v-2h-1v-3h-1v-2h-1v-1h-1v-1h-1v-2h-2v-2h-2v-2h-1v-2h-1v-1h-1v-4h-1v2h-1v3h-1v-5h-1v-1h-1v-1h-3v-3h-1v1h-1v4h-1v-3h-1v-5h-1v1h-1v-4h-1v-1h-1v-2h-1v-1h-1v-1h-1v-3h-1v1h-1v-3h-1v-2h-2v-2h-1v-1h-1v-3h-1v-1h-1v-3h-1v1h-1v-3h-1v4h-1v-7h-1v-2h-1v-2h-1v-4h-1v-1h-1v-2h-1v-4h-2v-4h-1v-4h-1v-5h-1v-1h-1v-2h-1v2h-1v1h-1v-5h-1v1h-1v-2h-1v-1h-4v-1h-3v-1h-1v1h-1v-1h-1v-2h-1v-1h-1v1h-1v3h-1v-7h-1v-5h-1v3h-1v-6h-1v-3h-2v7h-1v-3h-3v2h-1v3h-2v-1h-1v-3h-1v9h-1v-5h-1v1h-2v1h-1v2h-2v4h-1v-1h-1v4h-1v-3h-1v3h-1v1h-1v1h-1v1h-1v-1h-2v1h-1v-1h-3v2h-1v2h-1v5h-1v-3h-1v8h-1v1h-1v-4h-1v3h-1v1h-1v2h-1v3h-1v2h-1v6h-1v-4h-1v8h-1v-6h-1v1h-1v3h-1v2h-2v-2h-2v1h-3v4h-1v-1h-1v1h-2v3h-2v1h-1v2h-2v3h-1v10h-1v-3h-1v5h-1v8h-1v-1h-1v1h-1v4h-1v3h-1v1h-1v1h-1v2h-1v4h-1v5h-1v1h-1v2h-1v3h-1v4h-1v-1h-1v-4h-1v6h-1v2h-1v7h-1v-3h-1v-5h-1v-3h-1v-2h-1v-5h-1v-4h-1v-4h-1v5h-2v3h-1v-5h-1v2h-1v3h-1v2h-2v2h-1v6h-1v-2h-1v1h-2v3h-1v5h-1v-2h-1v-1h-2v-1h-2v-1h-2v-4h-1v2h-1v-5h-1v-2h-1v-1h-1v-2h-1v-3h-1v2h-1v-4h-1v-2h-1v-7h-1v3h-1v-8h-1v-4h-1v-1h-1v-4h-1v-2h-1v-2h-1v-1h-1v-5h-1v-1h-1v-7h-1v-3h-1v-4h-1v-3h-1v2h-1v-1h-1v-7h-1v-3h-1v-3h-1v-2h-1v-3h-2v-3h-1v4h-1v-7h-1.5ZM659 120h1v323h-1ZM667.5 120h1v422h-1ZM684.5 110h1v444h-1Z"/></clipPath>
<g clip-path="url(#clipA)" stroke="#000" stroke-width="2.2" stroke-linejoin="round">
<rect x="180" y="99" width="2011.6" height="560" fill="#deb01b" stroke="none"/>
<path d="M160 69h600v272h2v80h2v2h2v6h2v-1h2v-82h2v31h2v31h2v-7h2v-11h2v-6h2v6h2v-8h2v5h2v-3h2v-1h2v-21h2v-24h2v-43h2v20h2v13h2v-15h2v33h2v6h2v4h2v7h2v10h2v5h2v-13h2v-9h2v-4h2v-13h2v18h2v16h2v-5h2v4h2v-1h2v5h2v-7h2v-17h2v-28h2v1h2v46h2v59h2v9h2v-26h2v-27h2v-15h2v-12h2v-27h2v38h2v61h2v-15h2v-72h2v109h2v-34h2v-9h2v26h2v-25h2v2h2v13h2v-9h2v-19h2v13h2v12h2v-6h2v2h2v-7h2v-28h2v2h2v3h2v-7h2v12h2v-14h2v-20h2v17h2v-15h2v19h4v8h2v7h2v-11h2v7h2v-13h2v10h2v5h2v10h2v10h2v10h4v9h2v15h2v-4h2v5h2v-4h2v-9h2v-10h2v-12h2v2h2v-21h2v-4h2v2h2v-7h2v-16h2v9h2v-19h2v-35h2v-30h2v-12h2v21h2v27h2v18h2v18h2v23h2v9h2v3h2v-5h2v8h2v2h2v1h2v-7h2v-5h2v-7h2v-2h2v1h2v-20h4v5h2v4h2v5h2v12h2v8h2v9h2v8h2v-12h2v-16h2v3h2v8h2v6h2v13h2v7h2v18h2v-2h2v5h4v-4h2v18h2v15h2v-5h2v-24h2v-39h2v-21h2v18h2v2h2v1h2v-37h2v6h2v14h2v7h2v-9h2v32h2v11h2v9h2v3h2v-9h2v-2h2v5h2v1h2v-2h2v-5h2v-15h2v5h4v4h2v6h2v7h2v1h2v3h2v6h4v3h2v4h2v-1h2v-7h4v-9h2v5h2v-2h2v-4h2v3h2v-4h2v3h2v-18h2v-35h2v1h2v6h2v16h4v-10h2v1h2v3h2v12h2v-4h6v-2h2v6h4v16h2v5h2v11h2v-2h2v12h2v9h2v5h2v-12h2v-10h2v-6h2v6h2v13h2v-4h2v-3h2v4h2v-6h2v-4h2v-23h2v4h2v-8h2v-1h2v4h2v10h2v8h2v-1h2v-6h2v4h2v-8h2v-5h2v-9h2v-6h2v-7h2v-1h2v2h2v5h2v7h2v1h2v-11h2v15h2v7h2v9h2v-10h2v-12h2v-6h4v12h2v9h2v3h4v13h2v-3h2v24h2v-14h2v-4h2v-11h2v-28h2v8h2v3h2v-9h2v-1h2v1h2v-4h2v-3h2v9h2v11h2v4h2v-5h2v-6h2v-5h2v-4h2v1h2v-6h2v-2h2v5h2v3h4v-7h2v-8h2v-8h2v-8h2v-3h2v9h2v12h2v12h2v-2h2v6h2v8h2v11h2v2h2v2h2v6h2v3h2v8h2v6h2v-3h2v-1h2v-3h2v-10h2v4h2v8h2v-21h2v-9h2v3h2v8h2v-4h2v-3h2v-8h2v4h2v-1h2v6h2v4h2v-5h2v-4h2v-12h4v-22h2v4h2v22h2v-11h2v18h2v-6h2v-4h4v4h2v3h4v1h2v-5h2v-12h2v6h2v-15h2v-6h2v17h2v-12h2v-6h2v-2h2v-1h2v-17h2v5h2v8h2v-3h2v3h2v-1h2v-4h2v1h2v3h2v20h2v-20h2v-10h2v16h4v-4h2v3h2v-8h2v15h2v-10h2v-3h2v9h4v-1h2v-15h2v-12h2v35h2v1h2v-5h2v-6h2v-10h2v-27h2v-2h2v-12h2v14h2v7h2v12h2v5h2v1h2v-3h2v6h2v-5h2v2h2v-9h2v-33h2v19h2v-39h2v1h2v21h2v3h2v14h2v4h2v-33h2v8h2v37h2v15h2v1h2v6h2v-4h2v3h2v13h2v-12h2v-5h2v-23h2v19h2v13h2v-7h2v-12h2v-30h2v1h2v24h2v-21h2v-2h2v3h2v10h2v-21h2v-16h2v28h2v10h2v13h2v-2h2v2h2v-10h2v7h2v4h2v2h2v2h2v-5h2v13h2v-27h2v-11h2v25h2v-48h2v47h2v-3h2v11h2v7h2v1h2v-3h2v-13h2v-8h2v17h2v-1h2v-23h2v-10h2v9h2v5h2v-16h4v-23h2v-5h2v28h2v-5h2v-19h2v7h2v17h2v5h2v-5h2v-15h2v-11h2v26h2v-7h2v-17h2v-5h2v-1h2v9h2v22h2v-7h2v8h2v-13h2v-51h2v-5h2v86h2v-1h2v15h2v-20h2v-5h2v12h2v-30h2v-3h2v7h2v13h2v10h2v-1h2v2h2v-18h2v2h2v-2h2v-12h2v9h2v13h2v-5h2v-4h2v6h2v10h2v-4h2v-11h2v8h2v6h2v20h2v12h2v-10h2v-9h2v10h2v1h2v19h2v-14h2v-3h2v-7h2v-16h2v-54h2v5h2v28h2v19h2v-3h2v-27h2v11h2v27h4v2h2v-4h2v17h2v-13h2v22h2v-1h2v9h2v-4h2v4h2v3h2v-11h4v-11h2v-15h2v-25h2v-7h2v6h2v-2h2v-9h2v3h2v12h2v-3h2v-6h2v-7h2v-11h2v6h4v-5h2v4h2v-9h2v-5h2v23h2v5h2v22h2v-32h2v24h2v-9h2v1h2v1h2v2h4v8h2v34h2v-40h2v20h2v-22h2v-1h2v-6h2v-3h2v1h2v7h2v9h4v-12h2v-2h2v11h2v7h2v11h2v2h2v13h2v16h2v-9h2v10h2v18h2v-8h2v-9h2v13h2v-35h6v-7h2v-7h2v-3h2v12h2v-24h2v10h2v-15h2v-11h2v-24h2v-6h2v33h2v2h2v5h2v2h2v-4h2v2h2v-4h4v-9h2v17h2v-52h2v5h2v4h2v40h2v-10h2v21h4v-13h2v3h2v4h2v2h2v36h2v-5h2v-12h2v4h2v1h2v3h2v16h2v-10h2v-3h2v-5h2v-14h2v4h2v-8h2v-9h4v2h2v5h2v-21h2v2h2v-8h2v1h2v16h2v-4h2v-20h4v25h2v-8h2v19h2v-2h2v-2h2v-15h2v-2h2v36h2v-19h2v1h2v3h4v-4h2v-10h2v-6h2v2h2v11h2v-1h2v-6h2v-4h2v12h2v12h2v5h2v-9h2v-5h2v-3h2v6h2v-27h2v17h2v2h2v-1h2v-13h2v-9h2v9h2v13h2v-6h2v-18h2v5h2v11h2v-10h2v8h2v-2h2v-3h2v3h2v8h2v4h4v2h2v-7h4v-1h2v-4h2v3h2v11h2v-10h2v20h2v-6h2v-5h2v-5h2v-15h4v32h2v-7h4v-2h2v-9h2v-2h2v5h19.5v344h-2051.5Z" fill="#e9e033"/>
<path d="M160 355h24v-6h2v5h2v9h2v5h2v-24h2v30h2v7h2v5h2v9h2v5h2v-5h2v-6h2v-10h2v3h2v6h2v3h2v-3h2v-1h2v-1h2v5h2v8h2v7h2v6h2v6h2v3h2v4h4v-10h2v-18h2v-7h2v3h4v-4h2v-8h2v-8h2v-7h2v-11h2v13h2v8h2v-16h2v2h2v-6h2v-1h2v1h2v6h2v7h2v2h2v-1h2v-5h2v-2h2v3h4v5h2v11h2v11h2v8h2v7h2v11h2v-2h2v3h2v-2h2v2h2v-5h2v-7h2v18h2v-4h2v-7h2v-1h2v-7h2v-6h2v-9h2v3h2v6h2v-1h2v-2h2v-3h2v-5h2v4h2v4h2v4h2v4h2v-7h2v2h2v3h2v6h2v-5h2v-8h2v-5h2v3h2v8h2v1h2v-2h2v2h2v7h2v4h2v8h2v1h2v3h2v2h2v-1h2v-4h2v-4h2v1h2v3h2v1h2v-2h2v1h2v4h4v-5h4v-2h2v-2h2v6h2v6h2v4h2v6h2v-5h2v4h2v4h2v4h2v7h2v-10h2v1h4v-4h2v-7h2v-2h2v-7h2v-2h4v-2h2v-12h2v6h2v-5h2v-1h2v7h4v-7h2v-4h2v-3h2v-1h2v-6h2v-3h2v1h2v1h2v-3h2v5h2v1h2v3h2v8h2v6h2v5h2v1h2v2h2v5h2v3h2v7h2v7h2v-1h2v6h2v2h2v2h2v4h4v-7h4v-3h2v-3h2v-3h2v-6h2v-2h4v-3h2v-5h2v-3h2v-3h2v-2h2v5h2v3h2v5h2v3h2v2h2v4h2v-5h2v-3h2v-4h2v-6h2v-9h2v-4h2v-7h2v-10h2v1h2v14h2v8h2v7h2v6h2v5h2v5h2v5h2v-8h2v-3h2v-5h2v-8h2v-10h2v-3h4v5h4v1h2v5h2v-10h4v13h4v-4h2v3h2v-4h4v-9h2v-11h2v-4h2v10h2v-1h4v-1h2v-4h2v-5h2v-3h2v-4h2v-2h4v5h2v1h2v2h2v5h2v3h2v5h2v1h2v-2h2v-4h2v-21h2v8h2v5h2v-2h2v35h2v-1h2v-17h2v-1h2v-1h2v-1h2v1h2v3h2v7h2v-8h2v15h2v-9h2v-1h2v4h4v1h2v-2h2v-1h2v-1h2v5h2v3h2v-11h2v3h2v2h2v3h2v3h2v1h4v-1h2v-4h2v18h2v2h2v-18h2v2h2v-3h2v-2h2v7h2v-4h2v-1h2v-2h2v1h2v-7h2v5h2v4h2v10h2v3h2v9h2v-1h6v-4h2v7h2v-12h2v-1h2v-8h2v-7h4v-4h2v-5h2v-2h2v4h2v-12h4v-4h2v-11h2v13h2v-1h2v3h2v6h2v4h2v-3h2v3h2v-2h2v-4h2v6h2v-17h2v10h2v-12h2v10h2v-5h2v33h2v-12h2v8h2v2h2v6h2v10h2v9h2v17h2v6h2v1h2v2h2v3h2v1h2v3h2v5h4v6h2v-15h2v-1h2v8h2v-3h2v-2h2v-4h4v-6h4v-7h2v-1h4v-5h2v1h2v-2h2v-21h2v-2h2v10h2v8h2v-15h2v1h2v-6h2v-3h2v10h2v-3h2v-7h2v10h2v-2h2v3h2v-3h2v-1h2v4h2v14h2v5h2v10h2v5h2v10h2v3h2v4h2v4h4v-15h2v-7h2v-1h2v-18h2v-2h2v-17h4v-2h2v-13h2v13h2v-4h2v12h2v8h2v3h2v-6h2v2h2v-5h2v-9h2v5h2v5h2v-5h2v-8h2v-2h2v27h2v-22h2v-2h2v-4h2v2h2v6h2v3h2v-6h2v3h2v-3h2v13h2v-12h4v-3h2v1h2v1h2v-2h4v3h2v6h2v-1h2v7h2v11h2v-6h2v14h2v4h2v-3h2v9h2v12h2v-4h2v-1h2v-15h2v-12h2v-17h2v-4h2v2h2v-5h4v-15h2v-5h2v16h2v-4h2v18h2v5h2v6h2v-1h2v12h2v-2h2v3h2v-2h4v-1h2v-3h2v-7h2v10h2v5h2v-2h2v4h2v4h2v3h2v-2h2v3h2v1h4v-2h2v-4h2v-5h4v1h2v18h2v-23h2v-7h2v1h2v12h2v-11h2v-29h2v6h2v-8h2v11h2v6h2v-5h4v1h2v-2h2v-2h2v-2h2v3h4v5h2v2h2v3h2v10h2v8h2v1h2v6h2v3h2v8h2v-4h2v7h2v-13h2v6h2v1h2v-1h2v3h2v-4h2v1h2v4h2v-9h2v4h2v-2h2v-3h2v11h2v-2h2v-1h2v3h2v-13h2v-7h2v-10h2v-7h2v-2h2v-3h2v-4h2v-2h4v-4h2v21h2v-5h2v1h2v10h2v-10h2v6h2v-8h2v-4h2v-3h2v1h2v2h2v5h2v5h2v3h2v9h2v-6h2v19h2v-1h2v2h2v-6h2v-29h2v5h4v-3h2v3h2v-22h2v14h2v-3h2v6h2v12h2v-1h4v3h2v-1h2v-6h4v-4h2v-4h2v-3h2v-3h2v-7h2v3h2v-4h2v-4h2v-6h2v-1h2v4h2v3h2v7h2v2h2v3h2v7h2v6h2v5h2v2h2v8h4v8h2v4h2v4h2v-10h2v5h2v-3h4v-6h2v-3h2v2h2v-6h2v-4h2v1h2v-3h2v-6h2v5h2v2h2v1h2v-11h2v-6h2v10h2v-1h2v-4h2v3h2v-2h2v-3h2v-1h2v1h2v2h2v-3h2v-1h4v7h2v5h2v-3h2v-4h2v-1h2v-8h2v3h2v-18h4v5h2v6h2v-12h2v-10h2v-10h2v4h2v-3h2v-12h2v3h2v14h2v-1h2v-7h2v3h2v17h2v-20h2v11h2v-2h2v-4h2v-2h2v2h4v33h2v-25h2v-20h2v21h4v-9h2v1h2v14h2v-1h2v-2h2v-2h2v-1h2v5h2v-24h2v-3h2v-1h2v5h2v-9h2v2h2v-4h2v2h2v10h2v3h2v-14h2v9h2v-18h4v15h2v-17h2v1h2v12h2v3h2v-1h2v6h2v-4h2v20h2v-2h2v17h2v-7h2v-1h2v-10h2v3h2v4h2v-3h2v6h2v-9h2v-6h2v5h2v-2h2v-4h2v8h2v-15h2v1h2v12h2v-39h2v16h2v-2h2v2h2v-2h2v2h2v2h2v-3h2v8h2v-5h2v9h4v1h2v4h2v1h2v-3h2v3h2v-24h2v-3h2v17h2v-4h2v13h2v5h2v4h2v2h2v-2h2v2h2v-7h4v-6h2v3h2v-7h2v-1h2v-14h2v-1h2v22h2v6h2v1h2v-5h2v7h2v-1h2v1h2v-4h2v11h2v-19h2v12h2v-50h2v34h2v10h2v3h2v-12h2v-3h2v19h2v4h4v-10h2v3h2v1h2v-10h2v-3h2v2h2v-3h2v-2h2v-3h2v-2h2v-7h2v-2h2v6h2v-7h2v11h2v-2h2v-4h2v-1h2v-1h6v2h2v-7h2v4h4v2h2v9h2v-3h2v-8h2v-1h2v4h2v5h2v9h2v7h2v11h2v-20h2v3h2v5h2v12h2v-12h2v-3h4v-5h2v-26h2v30h2v-6h2v-5h2v9h2v-3h2v6h4v-13h2v20h2v-1h2v4h2v6h2v-5h2v13h2v16h2v-15h2v-9h4v-9h2v-2h2v1h4v-6h2v-23h2v8h2v3h2v4h2v-12h2v15h2v-4h2v2h2v-2h2v6h2v-12h2v-10h2v-1h2v-9h2v-9h2v10h2v-1h2v28h2v4h2v-19h2v6h4v17h2v-13h4v-1h2v4h2v9h2v-7h2v-4h2v6h2v1h2v5h2v3h2v6h2v12h2v-15h2v11h2v3h2v5h4v5h2v4h4v-4h2v-8h2v6h2v2h2v17h2v-5h4v1h2v-23h2v-5h2v-12h2v-20h2v19h2v-6h2v-2h2v-1h2v-10h2v-5h2v6h2v-8h2v-6h2v-2h2v9h2v2h2v-17h2v5h2v27h2v-9h2v-5h2v-5h2v8h2v-20h2v15h2v1h2v13h2v14h2v-15h2v4h2v-11h2v12h6v23h2v2h2v-20h2v2h2v12h2v-5h2v9h2v-11h2v1h2v-5h2v3h2v-17h2v-3h2v-4h2v2h2v1h2v-7h2v-12h2v11h2v-3h2v-15h2v-1h2v-5h2v23h2v5h2v-1h2v2h2v1h2v9h2v-9h2v7h2v-21h2v15h2v5h2v15h2v-25h2v7h2v15h2v-7h2v2h2v-16h2v15h2v-1h2v3h2v-8h4v4h2v1h2v5h2v-16h2v5h2v2h2v-4h2v5h2v-2h2v1h4v-14h2v-3h2v7h2v-4h4v6h2v-2h2v-12h2v12h2v-1h2v7h4v-1h2v4h2v2h2v-1h2v-4h2v4h2v3h2v-3h2v4h2v-2h2v-1h4v7h2v-6h2v3h2v1h2v-1h2v-2h2v-1h2v6h2v-10h2v-6h2v3h2v12h19.5v307h-2051.5Z" fill="#e7e7e6"/>
<path d="M160 385h24v-1h2v8h4v1h2v8h2v2h2v2h2v4h2v-1h2v4h6v2h2v-2h4v-2h2v-2h2v-8h2v5h2v6h2v6h2v2h2v3h2v5h2v5h2v1h2v-8h2v-5h2v-2h2v1h2v1h2v-3h2v3h2v-4h4v-5h4v-4h2v-1h2v-5h2v-2h2v-5h2v-3h2v5h2v14h2v-5h2v3h2v3h2v1h2v-4h4v-2h2v9h2v-3h2v7h2v1h2v3h2v9h2v-5h2v4h2v-4h2v3h2v2h2v-7h2v11h2v-7h2v-4h2v-3h2v-5h2v-3h2v-4h2v-2h4v-3h6v1h4v2h4v-2h2v6h2v1h2v2h2v-1h2v-5h2v-6h2v-4h2v1h2v3h2v1h2v4h2v5h2v2h2v2h2v9h2v-1h2v2h2v3h2v-1h2v-1h2v1h2v-1h4v2h2v-2h2v-1h2v1h4v5h2v-10h2v6h2v1h2v6h2v1h2v2h2v5h2v-8h2v9h2v5h2v4h2v7h2v-5h2v-1h4v-10h2v-3h2v-2h2v-7h2v-4h4v-6h2v-9h2v3h2v2h4v4h2v1h2v-2h2v-2h2v-6h4v-2h2v-8h6v4h4v3h2v2h2v5h2v4h2v4h2v3h2v7h2v-2h2v4h2v3h2v7h2v6h2v2h2v2h2v5h2v3h2v3h2v-2h2v-3h2v-2h2v-6h2v-3h2v-2h2v-2h2v-4h2v-1h4v-4h2v-2h6v-1h4v1h4v2h2v-1h2v-3h2v-1h2v-5h2v-4h2v-3h2v-2h2v-2h2v3h4v-4h2v9h2v7h2v5h2v5h2v-1h2v7h2v-7h2v-7h2v-5h4v1h2v-3h2v-1h2v-2h2v1h4v-6h2v-1h2v5h2v1h2v1h2v-1h4v-4h2v-5h2v-8h2v1h2v-3h2v-1h2v-1h2v-3h2v-4h2v-7h2v-4h2v-4h2v3h2v-2h2v7h2v-1h2v-1h2v5h2v8h2v3h2v3h2v-7h2v-2h2v-6h4v13h2v-1h2v17h2v-1h2v-11h6v-2h2v5h2v10h2v4h2v-7h2v-1h2v-9h2v-1h2v10h4v-1h4v23h2v-5h2v-2h2v-10h2v-8h2v3h2v1h2v1h2v-3h2v7h6v6h2v3h2v7h2v-17h4v-2h2v-4h2v5h2v-4h2v8h4v-7h2v-13h2v13h2v2h2v9h2v5h2v8h2v-4h2v8h2v-1h2v-6h2v4h2v-5h2v-9h2v-12h2v-1h4v-2h2v-13h2v-2h2v15h2v-14h2v2h2v1h2v-26h2v22h2v4h2v3h4v-1h2v-5h2v10h2v-5h2v-2h2v3h2v-2h2v-2h2v-8h2v11h4v15h2v-2h2v4h2v1h2v14h2v11h2v8h2v7h2v8h2v1h2v8h2v-2h2v9h2v-8h2v2h2v4h2v2h2v-11h2v8h4v1h2v3h2v-10h2v-6h2v8h2v-12h2v-5h2v-7h4v4h2v6h2v-15h2v3h2v-20h2v3h2v18h2v-19h2v-5h2v2h2v-3h2v6h2v-2h2v-5h2v3h2v6h2v-1h2v3h2v6h2v3h2v6h2v10h4v6h2v6h2v10h2v1h2v6h2v-1h2v-7h2v-7h2v-13h2v-7h2v-14h2v-4h2v-5h2v-4h2v-8h2v15h2v2h2v2h2v7h2v6h2v-10h2v-1h2v1h2v-13h2v10h4v-5h2v-5h2v-5h2v21h2v-15h4v-13h2v2h2v17h2v-3h2v15h2v-10h2v2h2v-3h2v5h2v-7h2v5h2v-1h2v-5h2v6h4v2h2v8h2v-2h2v4h2v13h2v-5h2v12h2v2h2v3h2v6h2v4h2v2h2v11h2v4h2v6h2v19h2v-8h2v2h2v1h2v-1h2v-1h2v-3h2v-16h2v-12h2v-15h2v-3h2v-2h2v-7h2v-4h2v2h2v6h2v-1h2v-1h2v2h2v-4h2v1h2v-2h2v2h2v3h2v8h2v-1h2v-2h2v7h4v4h2v-4h2v-2h2v-5h2v-4h2v5h2v-12h2v13h2v-15h2v1h2v-2h2v12h2v-7h2v-21h2v-7h2v4h2v-8h2v15h2v-9h2v-11h2v9h2v-10h2v4h4v5h2v-7h2v3h2v6h2v10h2v21h2v-9h2v5h2v4h2v3h2v6h4v8h2v-13h2v10h2v-4h4v16h4v6h2v6h2v4h2v-1h2v-14h2v7h2v-24h2v10h2v2h2v-6h2v-2h2v-5h2v-2h2v-4h2v-6h2v-17h2v12h2v-5h2v1h2v-3h2v-1h2v-1h4v2h2v2h2v-3h2v-1h2v-11h2v11h2v-1h2v13h2v-2h2v-3h2v-2h2v-3h2v21h2v-5h2v9h2v-11h2v-4h2v-20h2v18h2v-3h2v-6h2v-7h2v-5h2v5h4v5h2v-1h2v8h2v1h2v6h2v-1h4v4h2v1h2v-8h2v-2h2v-4h2v-3h2v1h2v-16h2v-4h2v-2h4v2h2v5h2v18h2v-5h2v6h2v2h2v-4h2v8h2v4h2v-4h2v7h2v3h2v5h2v4h2v-12h2v3h2v-2h2v-6h2v-2h2v-6h2v-2h6v-5h2v1h2v4h6v3h2v-1h2v-7h2v-11h2v7h2v1h2v1h2v-6h2v3h2v-2h2v4h2v-3h2v-5h2v-3h2v6h2v4h2v1h2v28h2v-26h2v-16h2v-8h2v12h2v-3h2v-9h2v9h2v-8h2v3h2v-16h2v-13h2v7h4v3h4v9h2v-14h2v9h2v-5h2v-2h2v-14h2v10h2v-1h2v2h2v3h2v1h2v1h2v16h2v-15h2v-3h2v2h2v2h2v-1h2v-4h2v12h2v-3h2v2h2v3h4v-14h2v-23h2v19h2v9h2v-3h2v-5h2v7h2v-10h2v4h2v-1h6v-8h2v-5h2v-19h2v18h2v-19h2v17h2v9h2v-3h2v-14h2v19h2v7h2v3h2v-9h2v26h2v-6h2v1h2v-9h2v2h2v7h2v-12h2v7h2v-7h2v-17h2v34h2v-10h2v-7h2v-10h2v1h2v-1h2v-1h2v-9h2v-3h2v2h2v6h2v6h2v4h2v-7h2v1h2v-2h2v3h2v1h2v-3h2v-1h4v14h2v1h2v2h2v-30h2v-2h2v23h2v9h2v-7h2v1h2v10h2v19h2v-12h4v-3h2v-4h2v-1h2v1h2v11h2v19h2v-35h2v7h2v3h2v1h2v3h2v-2h2v2h2v1h2v-14h2v-4h2v7h2v28h2v-33h2v3h4v2h2v28h2v1h2v-27h2v-4h2v1h2v-3h2v5h2v3h4v-26h2v4h2v32h2v-40h2v5h2v-3h2v13h2v-14h2v2h2v9h2v1h2v-4h2v5h2v-7h2v-2h2v3h2v-3h2v-5h2v3h2v-2h2v2h2v-3h2v-6h2v6h2v5h2v-4h2v4h4v6h2v13h4v2h2v-7h2v-6h2v2h2v-1h2v31h2v-23h2v-8h2v3h2v-28h2v25h2v-10h2v3h2v6h2v7h2v-5h2v2h2v4h2v-2h2v1h2v7h2v5h2v-2h2v15h2v-6h2v2h2v-25h2v38h2v-2h2v-4h2v-21h4v-1h2v1h2v1h2v-6h2v1h2v9h2v4h2v-23h2v17h2v7h2v-6h2v16h2v12h2v3h2v-28h2v12h2v1h2v1h2v20h2v9h2v-29h2v-10h2v-13h2v5h2v-4h2v-8h2v-4h2v13h2v6h2v-6h2v1h2v11h2v2h2v6h2v7h2v5h2v6h2v-5h2v4h2v1h2v6h2v-4h2v-3h2v4h2v-3h2v-12h2v-4h4v-3h2v13h2v-3h2v-7h2v31h2v-54h2v4h2v27h2v-8h4v-13h2v16h2v-4h2v-1h2v-14h2v6h2v-4h2v4h2v-4h6v11h2v-16h2v14h2v-16h2v-16h2v4h2v-7h2v-11h2v11h2v-6h2v19h2v-2h2v14h2v2h2v-35h2v17h2v13h2v-6h2v16h2v8h2v-19h2v-9h2v-6h2v-5h2v27h4v4h2v-6h2v-8h2v1h2v3h2v34h2v-1h2v-38h2v-18h2v-3h2v9h2v-2h2v6h2v1h2v-1h2v4h2v4h2v-2h2v2h2v-31h2v22h2v-1h2v35h2v4h2v22h2v-6h2v11h2v5h2v5h2v-6h2v-8h2v-3h2v-7h2v-1h2v-1h2v-5h2v25h2v-32h2v-5h2v-14h2v1h2v-2h4v-1h2v-8h2v-6h2v4h4v3h2v-4h2v-15h6v-12h2v16h2v-21h2v16h2v9h2v-13h2v21h2v2h2v-4h2v1h2v3h4v-1h2v2h2v-5h4v-2h2v19h2v-11h2v13h2v-10h2v-6h2v3h2v-4h2v-6h2v6h2v-19h2v15h2v-6h2v-3h2v8h2v-11h19.5v298h-2051.5Z" fill="#c9c9c8"/>
<path d="M160 396h22v3h2v-3h2v10h2v2h2v5h2v3h2v6h2v-3h6v2h2v-2h2v-1h2v2h2v-2h2v1h2v-1h2v-3h4v-7h2v9h2v5h2v1h2v6h2v-2h2v9h2v-3h2v4h2v-1h2v-5h2v-3h6v3h2v-5h2v-4h2v7h2v7h2v-11h2v-8h2v-10h2v3h2v-7h2v-5h2v6h2v8h2v6h2v12h2v-4h2v4h2v-1h2v-1h2v1h4v-2h2v4h2v-1h2v2h2v8h2v-1h4v5h2v-1h2v-2h2v-2h2v1h2v-5h4v-8h2v-1h4v-2h2v-2h2v1h2v-6h2v1h2v-9h4v6h2v1h2v1h2v-1h2v1h2v1h2v-1h2v1h2v-2h2v-2h2v-7h4v4h2v-1h2v3h2v4h2v3h2v3h2v6h2v7h2v-2h2v-1h2v5h2v2h2v-2h2v-2h2v1h2v3h2v-3h4v-4h2v5h4v-8h2v8h2v2h2v1h2v3h2v4h4v1h2v8h2v2h2v2h4v5h2v-5h2v-2h2v-10h2v1h2v-6h2v-4h2v-3h2v-5h2v-3h2v-4h2v-3h4v20h2v-15h2v-1h2v-1h2v-2h2v-3h2v-2h2v-3h2v-2h2v1h2v2h2v-8h2v5h2v-1h2v4h2v4h2v8h2v1h2v6h2v3h2v6h2v2h2v2h2v4h2v4h2v3h2v8h4v4h2v5h2v-3h2v-2h2v-3h2v-4h4v-10h2v2h2v-1h2v-1h2v-3h4v-1h2v-1h2v-1h4v-5h2v10h2v-4h2v-1h2v3h2v-8h2v1h2v-3h2v-2h2v-10h4v-4h2v3h2v1h2v2h2v6h2v5h2v3h2v2h2v4h2v2h2v-4h2v-2h2v-7h2v-2h2v1h2v-2h2v1h2v-2h2v1h2v-2h2v-4h2v3h2v2h2v1h2v-1h2v-1h2v-2h2v-9h2v3h2v-5h2v-4h2v-4h2v-2h2v-2h2v6h2v-14h2v-8h2v-3h2v-8h2v9h2v-8h2v10h2v2h2v1h2v-1h2v6h2v8h2v-1h2v-6h2v2h2v-12h2v5h2v8h2v-1h2v19h2v-3h2v-11h6v6h2v9h2v-2h2v4h2v-3h2v-2h2v7h2v-4h2v4h2v-3h2v3h2v1h2v11h2v-5h2v-2h2v4h2v1h2v-7h2v-1h2v2h2v-5h2v4h2v8h2v-8h2v-1h2v17h2v-5h2v-12h2v-6h2v11h2v-7h2v4h6v3h2v2h2v-3h2v-6h2v7h2v12h2v2h2v7h2v3h2v-1h2v-6h2v-9h2v34h2v9h2v14h2v8h2v1h2v3h2v-4h2v-2h2v-3h2v-2h2v-17h2v3h2v2h2v-27h2v19h2v15h2v4h2v-3h2v3h2v-3h2v-8h2v-6h2v-1h4v-2h2v-9h2v3h2v14h2v8h2v2h2v-10h2v-17h2v-3h2v-9h4v5h4v14h2v5h2v6h2v-1h4v4h2v-1h2v3h2v-6h2v-3h2v5h6v-1h2v-6h2v-7h2v6h2v-8h2v-5h2v-2h2v-5h4v5h2v-5h2v-1h2v-7h2v-1h2v7h2v-16h2v-2h2v7h2v-8h4v1h2v-8h2v9h2v6h2v-3h2v-5h2v12h2v3h2v4h2v10h2v8h2v8h2v1h2v6h2v-1h2v8h2v2h2v-9h2v-9h2v-9h2v2h2v-11h2v-3h2v4h2v12h2v-4h2v14h2v5h2v-4h2v12h2v2h2v-11h2v-5h2v-9h2v-10h2v7h2v-3h2v-2h2v7h2v-1h2v8h2v3h2v5h2v-1h2v-17h2v3h2v4h2v1h2v-4h2v-2h2v-3h2v-7h2v9h2v-9h2v-6h2v6h2v-7h2v1h2v17h2v-3h2v-1h2v21h2v-10h4v7h2v-2h2v4h2v2h2v6h2v4h2v16h2v-2h2v-5h2v19h2v6h2v-8h2v-3h2v9h4v-1h2v-18h2v-14h2v-13h2v-5h2v-2h4v1h2v2h2v1h2v3h2v-11h2v21h2v-2h4v-7h2v-2h2v4h2v1h2v6h2v10h2v-10h2v1h2v4h2v-6h2v-5h2v-1h2v-12h2v8h2v4h2v-11h2v-4h2v1h2v-5h2v9h2v-5h2v-18h2v-8h2v5h2v-1h2v-6h2v3h2v-3h2v-2h2v-5h6v-5h2v6h2v5h2v3h2v4h2v15h2v2h2v-2h2v10h2v4h2v5h2v15h2v-7h2v-12h2v10h2v-2h2v4h2v9h4v9h2v3h2v4h2v2h2v-9h2v-5h2v-9h2v6h2v-3h2v-8h2v-4h2v-3h2v-5h4v-7h2v-2h2v-7h2v6h2v-3h2v-1h4v-7h2v-1h2v6h2v-5h2v6h2v-6h4v-7h2v17h2v2h2v1h4v2h2v4h2v-4h2v14h4v-3h2v-7h2v-14h2v21h2v-10h2v-4h2v2h2v-10h2v2h2v-1h2v7h2v1h2v-2h6v2h4v5h2v8h2v-13h2v-3h2v-7h2v-4h2v-3h2v-1h2v2h4v-7h2v-5h2v12h2v5h2v3h2v4h4v-4h2v4h2v7h2v-3h2v6h4v4h2v3h2v-16h2v9h2v-5h2v3h2v-9h2v2h2v-1h2v2h2v-5h2v-1h2v-7h2v7h2v-5h2v-6h2v17h2v-6h2v-3h2v3h2v-2h2v2h4v-7h2v3h2v1h4v-7h2v-1h2v-2h2v5h2v-1h2v5h2v12h2v-14h2v-4h2v-3h4v-5h2v-9h2v25h2v-22h2v-4h2v-1h2v-14h4v7h2v5h2v3h2v-2h2v-2h2v-4h2v1h2v24h2v-12h2v1h2v-7h2v-10h2v4h2v7h2v-14h2v29h2v-27h2v3h2v7h2v-5h2v12h2v-15h2v12h2v1h2v1h2v3h2v-7h2v2h2v-5h2v7h2v-1h4v-5h2v-5h2v-4h2v3h2v-14h2v5h2v9h2v6h2v-4h2v6h2v15h2v-17h2v3h2v2h2v1h2v-5h2v15h4v-14h2v10h2v16h2v-22h2v1h2v7h2v-6h2v2h2v-13h2v20h2v-8h2v-1h2v17h2v1h4v6h2v-3h2v4h2v4h2v-9h2v-1h2v-2h2v1h2v-3h2v-15h2v8h2v-4h2v3h4v-3h2v3h2v-16h2v19h2v3h2v-5h2v2h2v-13h2v2h2v30h2v2h2v-9h2v24h4v6h2v10h2v-11h2v-22h2v-7h2v5h2v-6h2v6h2v15h2v-25h2v-7h2v-1h2v-4h2v10h2v-8h2v-1h2v-5h2v5h2v-5h2v6h2v-1h2v-3h2v11h2v-12h2v-6h2v15h2v-3h2v-2h2v10h2v18h2v-4h2v-16h2v5h2v7h2v-13h2v12h2v8h2v-3h2v-9h2v-4h2v-6h2v-18h2v-5h2v15h2v24h2v-16h2v-10h2v8h2v-10h2v4h2v-3h2v2h2v-2h2v-2h2v-6h2v1h2v10h2v9h2v1h2v-3h2v7h2v-2h2v-2h2v19h2v-5h2v-10h2v-9h2v-1h2v5h2v-16h2v11h2v-13h2v8h2v-4h2v-14h2v28h2v-10h4v21h2v-13h2v3h2v-3h2v-2h2v-6h2v1h2v-13h2v7h4v6h2v17h2v-8h2v-2h2v-4h2v-4h2v7h2v-2h2v8h2v-13h2v2h2v-7h2v13h2v-2h2v-4h2v5h2v-5h2v11h2v9h2v22h2v7h2v11h2v19h2v5h2v16h2v1h2v-16h2v-2h2v15h2v-13h2v11h2v-16h2v3h2v25h2v4h2v-21h2v13h2v10h2v-15h2v11h2v-2h4v-5h2v-4h2v-7h2v-6h2v-11h2v-15h2v-3h2v17h2v-8h2v-20h2v3h2v22h2v-16h2v-12h2v-6h2v-6h2v-2h4v2h2v11h2v-16h4v5h2v-4h2v38h2v-31h2v1h4v4h2v3h2v2h2v7h2v3h2v-5h2v13h2v-2h2v-2h2v-6h2v11h2v-20h2v-2h2v-8h2v-2h2v-28h2v-23h2v16h2v-5h2v13h2v2h2v-17h2v-20h2v23h4v-4h2v9h2v9h2v-36h2v19h2v5h2v7h2v8h2v-10h2v2h2v-6h2v-9h2v11h2v-26h2v34h2v-1h2v-12h2v-3h2v-14h2v9h4v12h2v-3h2v3h2v4h2v-1h2v-1h2v4h2v8h2v7h2v1h2v14h2v3h2v40h2v-23h2v6h2v6h2v-1h2v41h2v-3h2v-55h2v2h2v-8h2v-4h2v-7h2v-3h2v-2h2v18h2v-7h2v-22h2v-1h2v7h2v4h2v-4h2v-4h2v-1h2v5h2v-7h2v-7h2v4h2v2h2v-4h2v2h2v-3h2v9h2v-1h2v-5h2v-6h2v-1h2v-8h2v-13h2v-16h2v26h2v-6h2v3h2v-1h2v-6h2v1h2v1h2v1h2v3h2v9h2v-9h2v-5h2v-7h2v5h2v-11h2v16h2v-7h2v7h2v-2h2v-13h2v7h2v7h19.5v261h-2051.5Z" fill="#a3a3a2"/>
<path d="M160 406h22v3h2v7h2v-4h2v5h2v4h2v3h2v3h2v1h2v1h2v5h2v2h2v-7h2v4h2v1h2v-2h2v-2h2v-6h2v1h2v1h2v-2h2v2h2v7h2v5h2v6h2v5h2v11h2v7h2v2h2v-2h2v-7h2v-5h2v-1h4v-3h2v-6h2v-3h2v-1h2v-2h2v6h2v-15h2v1h2v-8h2v-8h2v-4h2v14h2v10h2v12h2v10h2v7h2v6h2v3h2v-3h2v9h2v-1h2v-3h2v-2h6v5h2v-3h2v-4h2v-15h2v3h2v-1h2v2h2v4h2v-12h2v-6h4v1h2v-4h2v-1h2v-2h2v-2h2v-1h2v1h2v1h2v-1h2v4h2v5h2v-3h2v1h2v-6h2v2h2v-3h2v-1h2v-3h2v8h2v6h2v6h2v-5h2v-2h4v-1h4v-4h2v3h2v3h2v2h2v-7h2v2h4v2h2v-3h4v-1h2v-3h4v1h2v3h2v-1h2v5h2v4h2v5h4v5h2v6h2v4h2v4h2v-1h2v1h2v4h2v-2h2v-2h2v-1h2v-6h2v-1h2v-4h2v1h2v-12h2v-3h2v-2h2v-4h2v-2h2v-4h2v1h2v3h2v6h2v-9h2v-5h4v-1h2v-2h2v-4h2v1h2v2h2v2h2v-1h2v-1h2v4h2v-1h2v9h2v5h2v9h2v2h2v3h2v1h2v3h2v5h2v4h2v1h2v2h2v3h2v5h2v2h2v-1h2v-2h2v-5h2v-1h2v-4h2v-3h2v-2h2v-2h8v-2h2v-1h4v1h2v-3h2v2h4v-1h2v-5h2v4h4v5h2v-9h2v-3h2v-9h2v6h6v2h2v2h2v-1h2v1h2v1h2v7h2v-2h2v-2h2v-6h2v6h2v-1h2v-5h2v7h2v-9h2v-3h2v1h2v-4h2v2h2v-7h2v-1h2v11h2v2h4v-6h2v-1h2v-7h2v-3h2v-7h2v-3h2v-1h4v-5h2v-2h2v-8h2v-10h2v1h2v-13h2v5h2v-5h2v6h2v6h2v3h2v-6h2v9h2v4h2v4h2v-8h2v2h2v-15h2v5h2v19h2v-3h2v10h2v-3h2v2h2v2h2v5h2v-3h2v1h2v32h2v-21h2v-1h2v1h4v4h2v-8h2v9h2v-7h4v6h2v-1h2v2h2v1h2v-5h2v4h2v5h2v-8h2v10h4v-4h2v4h2v-1h2v19h2v5h2v-9h2v-13h2v1h2v-3h2v8h2v-3h2v3h2v3h2v-1h2v-6h2v-9h2v24h2v15h2v10h2v21h2v6h2v5h2v-19h2v3h2v2h2v8h2v1h2v3h2v-4h2v5h2v-14h2v-2h2v4h2v2h2v-3h2v-2h4v-23h2v22h2v2h2v-1h2v14h2v-5h2v-10h4v-6h2v-2h2v-9h2v10h2v-7h2v-2h2v9h2v-5h2v2h2v8h4v-14h2v-4h2v1h2v-6h2v11h2v-5h2v12h2v-12h2v4h2v-3h2v9h2v-1h2v17h2v-15h2v-1h2v2h2v-9h2v-2h2v-1h2v-3h2v-2h2v-1h2v-2h2v-3h2v-2h2v-14h4v6h2v1h2v-4h2v-5h2v-7h2v37h2v-34h2v-5h2v2h2v-3h2v-7h2v13h2v-12h2v9h2v2h2v1h2v4h2v2h2v8h2v4h2v3h2v1h2v13h2v8h2v7h2v2h2v-1h2v4h2v2h2v-10h2v-8h4v-2h2v-1h2v9h2v7h2v-3h2v15h2v-5h2v1h2v4h2v7h2v-8h2v-5h2v-5h2v-8h2v7h2v10h4v-16h2v9h2v-4h2v3h2v7h2v-14h2v17h4v-7h2v-2h2v2h2v-3h2v1h2v-6h2v-9h2v11h2v-1h2v3h2v-8h2v1h2v5h2v-15h2v5h2v15h2v-5h2v8h4v2h2v-1h2v-10h2v18h2v-2h2v10h2v10h2v-3h2v10h2v-2h2v-1h2v1h2v-9h2v4h2v5h2v-11h2v-10h2v-5h2v-5h2v-7h4v-3h2v6h2v4h2v2h2v8h2v-11h2v-1h2v1h2v-1h2v2h2v3h2v-3h2v3h2v5h2v-2h2v2h2v-5h2v-1h4v-8h2v-1h2v-5h2v-9h2v9h2v-7h2v-1h2v-4h2v7h2v-4h2v-11h2v-9h2v-3h2v1h2v-13h2v4h2v-1h2v-5h2v4h2v-1h2v-1h2v4h2v-2h2v4h2v2h2v14h4v3h2v8h2v2h2v6h2v11h2v-5h2v4h2v-12h2v6h2v1h2v2h2v10h2v2h2v5h2v2h2v7h2v4h2v-3h2v-2h2v-4h2v-4h2v9h2v-17h2v-2h2v-8h2v-5h2v-3h2v-6h2v-2h2v-5h2v-4h2v-2h2v3h2v4h2v-5h4v1h2v-4h2v5h2v-5h2v-8h2v7h2v4h2v5h2v1h2v3h2v3h2v-4h2v8h2v5h2v-2h2v2h2v-2h2v-19h2v14h2v-1h2v-2h2v-6h2v-2h2v9h2v-8h2v7h2v-8h2v2h2v1h2v1h2v-4h2v8h4v20h2v-10h2v-19h4v-3h2v-2h2v-3h2v-1h2v-8h2v5h2v4h2v9h2v-17h2v3h2v13h2v-4h2v-2h4v14h2v-1h2v-6h2v7h2v5h4v-7h4v-5h2v11h2v-3h2v-5h2v3h2v-1h2v-1h2v-6h2v-1h4v3h2v1h2v5h2v-7h2v-6h2v-1h2v3h4v1h2v1h2v8h2v-6h2v-2h2v-2h2v-8h2v-6h2v7h4v8h2v-2h2v-4h2v2h2v-6h2v5h2v-1h2v-3h2v-3h2v-16h2v24h2v-3h2v-9h2v5h2v-10h2v8h2v3h2v5h2v-7h2v-13h2v11h2v12h2v-26h2v-4h2v10h2v-4h2v14h2v-7h2v-9h2v9h2v-18h2v17h2v4h2v5h2v-1h4v-1h2v-2h2v-2h2v6h2v-25h2v24h2v-14h2v3h2v5h2v-4h2v9h4v-18h2v-4h2v4h2v6h2v11h2v-7h2v-1h2v4h2v17h2v-20h2v1h2v9h2v-10h2v-7h2v4h2v3h2v5h2v4h2v12h2v-9h2v12h2v-20h2v5h2v-2h2v-2h2v8h2v-13h2v7h2v13h2v10h2v7h2v8h2v5h2v8h2v26h2v-18h2v15h2v8h2v6h2v-12h2v-9h2v-6h2v-10h2v1h2v-6h4v7h2v-4h2v9h2v4h2v1h2v8h2v-21h2v5h2v24h2v-17h2v7h2v11h2v-17h2v1h4v-8h2v-4h2v-2h2v-10h2v-8h2v1h2v13h2v-28h2v-8h4v-2h2v6h2v-3h2v3h2v-21h2v9h2v-10h2v17h2v-21h2v22h2v5h2v2h2v19h2v-16h2v3h2v-10h2v12h2v-6h2v10h2v11h2v6h2v6h2v9h2v11h2v14h2v-1h2v1h2v3h2v7h2v3h2v-2h2v6h2v2h2v-27h2v14h2v-9h4v-6h2v2h2v7h2v2h2v1h2v2h2v-6h2v4h2v-6h2v-2h2v-34h2v18h2v-3h2v4h2v-2h2v-2h4v-20h2v4h2v-2h2v5h2v-1h2v-5h2v-10h2v5h2v-35h2v22h2v-19h2v-2h2v1h4v2h2v2h2v-5h2v4h2v6h2v-35h2v12h2v11h2v22h2v9h2v4h2v-3h2v-4h2v-13h2v23h2v-7h2v-8h4v1h2v-7h2v14h4v3h2v3h2v9h2v-17h2v32h2v20h2v-3h2v13h2v11h2v-2h2v21h2v1h2v-9h2v1h2v-12h2v-11h2v23h2v-14h4v-1h2v11h2v-7h2v5h2v-6h2v8h2v4h2v10h2v9h2v-10h2v-15h2v31h2v-7h2v-33h2v-7h2v-11h2v-3h2v-21h2v-16h2v8h2v6h4v-7h2v-4h2v-2h2v17h2v-3h2v-2h2v13h2v-19h2v2h2v7h2v-9h2v7h2v7h2v-4h2v3h2v4h2v5h2v10h2v6h2v-40h2v36h2v-3h4v-4h2v4h2v6h2v-13h2v-2h2v-8h2v-10h2v-24h2v-5h2v-6h2v2h2v-11h2v-7h2v-1h2v-14h2v12h2v-2h2v-19h2v40h2v-2h2v-20h2v20h2v-14h2v7h2v41h2v-22h2v1h2v7h2v-20h2v20h2v-18h2v15h2v-1h2v6h2v2h2v-12h2v8h2v5h2v2h2v5h2v-1h2v10h2v-5h2v4h2v3h2v-3h2v9h2v-11h2v11h2v5h2v14h2v-15h2v14h2v-11h2v15h2v2h2v-1h2v-4h2v-9h2v4h2v-6h2v-9h2v-5h2v5h4v-31h2v28h2v-6h2v-11h2v17h2v-7h2v-3h2v2h2v-2h2v3h2v-3h4v-4h2v-5h2v-2h2v-2h2v3h2v-5h2v-26h2v18h2v-5h2v-28h2v19h4v-1h2v-5h2v-3h2v-3h2v-3h2v-3h2v5h4v-3h2v39h2v-3h2v-42h2v2h2v-4h2v-4h2v3h4v13h2v-2h2v-16h2v-3h2v12h19.5v237h-2051.5Z" fill="#7b7b7b"/>
<path d="M160 448h22v2h2v2h2v3h2v-1h2v7h2v4h2v2h4v3h2v2h2v-8h2v2h2v-5h2v2h2v7h2v-5h2v11h2v16h2v9h2v2h2v6h2v-2h2v4h2v-7h2v10h2v-5h2v10h2v-6h2v-9h2v-19h2v-2h2v5h4v4h2v-6h4v1h2v-4h6v-5h2v5h2v-10h2v-8h2v13h2v6h2v1h2v4h2v2h2v7h2v1h2v2h2v-8h2v2h2v5h2v2h2v3h2v5h2v7h2v-2h2v-1h2v-1h2v-3h2v-1h2v-1h2v10h2v-6h2v2h2v1h2v1h4v-2h2v-2h2v1h2v-2h2v-2h2v-3h2v-4h4v-3h2v-5h2v1h4v5h2v-6h2v-3h2v-2h2v-5h2v-5h2v-5h2v-3h2v3h2v2h2v2h2v2h2v-4h2v2h2v1h2v-6h2v1h2v1h2v-5h2v5h2v1h2v1h2v-2h4v-4h4v-11h2v2h2v9h2v4h2v3h2v4h2v2h2v4h2v3h2v-6h2v8h2v4h2v3h2v1h2v-4h2v-2h2v-6h2v-2h2v-7h2v-1h2v-5h2v3h2v-7h2v-2h4v-3h4v-5h2v1h2v2h4v-2h2v-5h2v4h2v1h2v8h2v2h2v6h2v1h2v2h2v4h2v-3h2v1h2v1h2v2h2v-1h2v1h2v9h2v6h2v2h2v-1h2v-3h4v3h2v1h2v1h2v-6h2v1h2v1h2v-4h2v-2h2v2h2v-4h2v3h2v-1h2v-1h2v-1h2v-1h2v-1h2v-2h4v-3h2v2h2v-4h2v-1h2v-1h2v-2h2v1h2v-4h2v-1h2v-5h2v2h2v1h2v-4h2v2h2v1h2v-3h2v4h2v-4h2v3h2v2h2v-3h2v-3h2v2h2v-3h2v1h2v1h6v-5h2v3h2v-2h2v1h2v-5h2v-1h2v8h2v6h2v11h2v5h2v5h2v-13h2v-2h4v2h2v-4h2v-2h2v-13h2v-3h2v-1h2v-7h2v-7h4v5h2v-4h2v-5h2v2h2v7h2v5h2v12h2v-1h2v2h2v-9h2v4h2v-6h2v-4h2v5h2v4h2v5h2v4h2v2h2v3h2v2h2v-1h2v-4h2v4h2v8h2v-2h2v-3h2v5h2v-3h2v3h2v-1h8v1h2v5h2v-2h2v-2h2v6h2v-2h4v8h2v-3h2v2h4v-10h2v28h2v-2h2v-15h2v-4h2v5h2v-9h2v3h2v9h2v10h2v-11h2v-2h2v-5h2v7h2v-8h2v15h2v22h2v4h2v17h2v-12h2v4h2v-2h2v9h2v-7h2v-3h2v-3h2v-9h2v1h2v2h2v-5h2v-1h2v10h2v11h2v-2h2v-16h2v-21h2v24h4v9h2v-4h2v-9h2v13h2v-14h2v-11h2v11h2v-5h2v-3h2v24h2v-25h2v8h2v-4h2v10h2v-4h2v-6h2v-10h2v-1h2v-4h4v-5h2v4h2v2h2v1h4v-3h2v-4h4v16h2v-14h2v-2h2v2h2v-2h2v-3h2v-4h2v-2h2v3h2v-2h4v-3h2v-7h2v1h2v-8h2v5h2v-6h2v3h2v-5h2v-5h2v24h2v-22h2v1h4v-19h2v19h2v2h2v-13h2v9h2v1h2v5h2v-1h2v-10h2v18h2v-6h2v37h2v-22h2v10h2v25h2v-15h2v8h2v8h2v-2h2v-2h2v-5h2v-10h2v5h2v1h2v7h2v6h2v1h2v-8h2v12h2v5h2v6h2v3h2v4h2v-7h2v1h2v-3h2v13h2v-13h2v-4h4v6h2v4h6v9h2v-6h2v-20h2v20h2v-5h2v-2h2v-2h2v4h2v-2h2v-5h2v6h2v-9h2v1h2v1h2v-6h2v-14h2v1h2v22h2v-8h2v7h2v-2h2v-1h2v5h2v-1h2v-5h2v6h2v6h2v4h2v-3h2v2h2v2h2v13h2v-7h4v8h2v7h2v-5h2v8h2v-16h2v-9h2v-25h2v-8h2v-1h2v-1h2v1h2v2h2v-1h2v6h2v4h2v-9h2v5h2v3h4v-3h2v4h2v-3h2v3h2v-2h4v3h2v-4h2v-3h4v-3h2v-2h2v1h2v-3h4v-9h2v-3h2v3h2v7h2v-11h2v-7h2v-9h2v8h2v-12h2v-1h4v-2h2v18h2v-2h2v-30h2v9h2v2h2v-3h2v4h2v3h2v4h2v10h2v5h2v15h2v-14h2v12h2v5h2v-1h2v4h2v-4h2v-1h2v16h2v-6h2v9h2v-1h2v6h4v1h4v-3h2v14h2v-12h2v-2h2v1h2v-11h2v-3h2v-7h4v-2h2v-9h4v1h2v-4h2v-3h2v-7h2v5h2v-4h2v4h2v-13h2v4h2v10h2v-1h2v-7h2v9h2v-3h2v2h2v3h2v7h2v-1h2v1h2v4h2v-3h2v5h2v-6h2v-6h2v-12h2v13h2v-1h2v-1h2v-5h2v1h2v-2h2v-3h2v2h2v1h2v-7h2v1h2v15h2v1h2v-3h2v-1h2v13h2v-10h2v-9h2v2h2v-4h2v-6h2v-3h2v1h2v7h2v-3h2v-1h2v5h2v6h2v-3h2v-10h2v6h2v1h2v7h2v3h2v1h2v-18h2v29h2v-6h2v1h2v-8h2v4h2v-7h2v3h2v12h2v-13h2v-1h2v-1h4v-8h2v17h2v-13h2v2h2v-4h2v5h2v-2h8v-5h2v-1h2v2h2v-1h2v1h2v-1h2v-2h2v12h2v-2h2v-12h2v2h4v-2h4v-3h2v2h2v4h2v3h2v2h2v-9h2v12h2v3h2v4h2v-10h2v17h2v-8h2v1h2v-3h2v-1h2v-31h2v5h2v1h2v17h2v-8h2v-2h2v2h2v-6h2v-2h2v7h2v-5h2v3h2v18h2v-10h2v-2h2v-17h2v2h2v1h2v3h2v-4h2v2h2v5h2v-15h2v12h2v2h2v-3h2v1h2v-7h2v-1h4v-18h2v19h2v-8h4v24h2v-19h2v-7h2v16h2v9h2v-5h2v-7h2v-2h4v-4h2v-9h2v15h2v12h2v-12h2v24h2v1h2v-13h2v-10h2v3h2v-1h4v2h2v-11h2v5h2v19h2v18h2v14h2v17h2v11h2v14h2v-2h2v2h2v5h2v13h2v9h2v33h2v-37h2v-1h2v6h2v1h2v3h2v-5h2v-1h2v-15h2v17h2v-21h2v7h2v-8h2v-11h2v-30h2v16h2v25h4v1h2v-2h2v-21h4v3h2v-10h2v-2h2v-32h2v10h2v-5h2v17h2v-44h2v5h2v-6h2v-9h2v9h2v-7h2v3h2v-14h2v13h2v5h2v-8h2v12h2v-5h2v6h2v-3h2v16h2v-9h2v-1h2v-3h2v16h2v-1h2v7h2v4h2v25h2v14h2v-5h2v-7h2v20h2v-2h2v11h2v-2h2v7h2v1h2v1h2v8h2v8h2v-23h2v23h2v-4h2v12h2v-1h2v-4h2v-2h4v-15h2v8h2v-12h2v4h2v2h2v-2h2v-11h2v-12h2v4h2v-1h2v9h2v-18h2v9h2v-16h2v11h2v-8h2v-4h2v-6h2v-6h2v-32h2v5h2v-35h2v24h2v-7h2v-13h2v2h2v5h2v-7h2v2h2v8h2v-9h2v7h2v11h2v6h2v4h2v-7h2v22h2v-14h2v16h2v1h2v-37h2v64h2v-17h2v9h2v2h2v3h2v-17h2v29h2v2h2v-8h2v15h2v5h2v2h2v8h2v10h2v-15h2v18h2v-1h2v1h2v13h2v1h2v-4h4v9h2v-17h2v-1h2v-4h2v10h2v-14h2v4h2v-4h2v-2h2v29h2v-2h2v-7h2v-5h2v2h2v-3h4v9h2v-7h2v-17h2v1h2v-10h2v-4h2v-37h2v-7h2v14h2v3h2v-1h2v4h2v-7h2v5h2v14h2v-8h2v2h2v-10h2v-26h2v63h2v-31h2v9h2v-8h2v-1h4v8h2v-3h2v6h4v2h2v-1h2v8h4v-1h2v-5h2v2h2v10h2v-21h2v15h2v-2h2v-23h2v-40h2v-2h2v-1h2v7h2v-19h2v13h2v-16h2v-17h2v18h2v-11h2v5h2v17h2v8h2v-23h2v9h2v4h2v4h2v22h2v-4h2v8h2v-18h2v-6h2v27h2v-14h2v6h2v8h2v6h2v1h2v-13h2v16h2v-12h2v12h2v4h2v-8h4v18h2v6h2v-5h2v3h2v5h2v-1h2v7h2v6h2v12h2v-2h2v1h2v-4h2v-16h2v-1h2v23h4v-44h2v4h2v26h2v-1h2v-4h2v1h2v-6h2v-8h2v6h4v3h2v1h2v-6h2v-2h2v-9h2v3h2v-2h2v2h2v-4h2v17h2v-3h2v-36h2v9h2v-1h2v-2h2v-14h2v6h2v-6h2v-19h2v6h2v-2h2v-4h2v1h2v-3h2v-9h2v2h2v-11h2v1h2v-9h2v1h2v34h2v-3h2v-29h2v1h2v-16h2v11h2v2h2v4h2v-5h2v-1h2v-4h2v-5h2v13h19.5v225h-2051.5Z" fill="#595959"/>
<path d="M160 479h22v3h2v-7h2v9h2v2h2v5h2v7h2v4h2v-1h2v11h2v10h2v-3h2v14h2v4h2v5h2v4h2v4h2v3h2v1h4v3h2v7h2v7h2v4h2v-2h2v-6h2v-4h2v-4h2v-5h2v-9h2v2h2v-13h2v-9h2v-5h2v1h2v-12h2v-1h2v-3h2v2h2v-4h2v-2h4v-1h2v3h2v-1h2v4h2v11h2v-3h2v1h2v5h2v4h2v3h2v3h2v8h2v3h2v7h2v-2h2v9h2v1h2v3h2v-5h2v-5h2v-2h2v1h2v-3h2v-3h2v7h2v-7h2v-5h4v2h2v1h2v-3h2v8h4v1h2v2h2v-3h2v1h4v-3h2v-1h2v-5h2v1h2v-2h2v-6h2v-6h2v3h2v-3h4v-8h2v6h2v2h4v-2h2v-2h2v-4h2v5h2v2h2v1h2v-6h2v6h2v3h2v5h2v-4h2v-4h2v-1h2v-6h2v2h2v4h2v-20h2v7h2v-3h2v5h2v-5h2v3h2v-4h2v8h2v1h2v-5h2v1h2v8h4v1h4v-8h2v4h2v-1h2v-9h2v-11h2v-1h2v-1h2v2h2v-1h2v1h2v-2h2v-3h2v3h2v12h2v11h2v3h2v-1h2v2h4v-2h2v-1h2v4h2v-8h2v-1h2v2h2v-1h2v5h6v-3h2v2h2v1h2v2h2v8h2v-5h2v1h2v-6h2v11h4v4h2v-2h2v-4h2v-2h2v-2h4v-2h2v-4h2v1h2v-4h2v1h2v-1h2v-2h2v-6h2v5h2v-2h2v-5h2v1h2v-2h2v-2h2v-1h2v-2h2v-2h2v-2h2v-2h2v5h2v-11h2v-2h2v-6h2v5h4v-2h2v2h2v-2h2v-1h4v3h2v-3h2v3h2v-1h2v3h2v1h2v-8h2v10h2v3h2v-2h2v1h2v4h4v-6h2v6h2v7h2v-2h2v5h2v1h4v1h2v-13h2v5h2v-1h2v-1h2v-8h2v10h2v-1h2v-8h2v-6h2v-9h2v-5h4v-1h2v-1h2v-1h2v1h4v8h4v5h2v-5h2v-2h2v-10h2v-4h2v10h2v7h2v9h2v3h2v-3h2v3h2v5h2v3h4v3h2v3h2v-5h2v5h2v12h2v3h2v-32h2v16h2v9h2v-4h2v3h2v-1h2v1h2v4h2v-3h2v6h2v9h2v-3h2v1h2v3h4v2h2v-3h2v18h2v-13h2v-3h2v3h2v6h2v-10h2v11h2v-1h2v2h2v2h2v-1h2v-8h2v4h2v6h2v10h2v9h2v6h2v3h2v3h2v-7h2v-8h2v10h2v-11h2v-3h2v-4h2v-19h2v22h2v6h2v3h2v4h2v-4h2v-16h2v-2h2v-16h2v-21h2v37h2v4h2v6h2v4h2v12h2v-3h2v-10h2v-16h4v10h2v-7h2v-2h2v3h2v15h2v-1h2v20h2v-3h2v-2h2v-13h2v-6h2v-10h2v-11h2v-10h2v-2h2v-4h2v-3h6v-2h2v-5h2v10h2v-15h2v-1h2v7h2v-7h2v-3h2v-2h2v4h2v-5h4v-1h2v4h2v-4h2v2h2v-4h2v-9h2v9h2v1h2v1h2v-1h2v9h2v-11h2v-3h2v1h2v-4h2v-15h2v11h2v-6h2v9h2v2h2v-2h2v1h2v5h2v11h2v9h2v10h2v5h2v9h2v6h4v-1h2v12h2v-8h2v-5h2v-6h2v-4h2v4h2v-1h2v1h4v5h2v-13h2v23h2v2h2v17h2v2h2v-7h2v-8h2v7h2v-3h2v-4h2v11h4v6h2v3h2v1h2v2h2v-3h2v8h2v-10h2v-2h2v-6h2v-18h2v13h2v2h2v-3h2v2h2v-2h4v6h2v-4h2v-1h4v4h2v-6h2v-2h2v-5h2v6h2v-7h4v-4h2v-1h2v-2h2v6h2v3h2v4h2v6h2v-6h2v-3h2v13h2v2h4v-1h2v10h2v-5h2v5h2v-16h2v-9h2v-11h2v-14h2v8h2v-2h2v-7h2v-2h2v4h2v7h2v6h2v-2h2v7h4v-1h2v-4h2v4h2v5h4v-3h2v-1h2v6h2v-4h2v1h2v24h2v-23h2v-16h2v5h2v-1h2v-1h2v-7h2v2h2v2h2v12h2v3h2v-5h2v-14h4v-9h2v-1h2v-1h2v5h2v-11h2v9h2v-11h2v11h2v-9h6v1h2v3h2v1h2v-6h2v3h2v3h2v-4h2v4h2v13h2v6h2v-8h2v14h2v-6h2v4h2v5h2v1h2v-1h2v6h2v-3h2v-2h2v2h2v3h2v-5h2v3h2v-11h2v-11h2v-3h2v-2h2v-4h2v-2h2v-2h4v1h2v3h2v-1h2v7h2v6h2v-2h2v1h2v-1h2v6h2v-8h2v4h2v-11h2v11h2v6h2v6h2v5h2v4h2v7h2v4h2v3h2v2h4v-7h2v-3h2v-24h2v16h2v-5h2v8h2v-12h2v-1h2v-1h2v3h2v-2h2v1h2v-4h2v4h2v-1h4v16h2v16h2v15h2v6h2v7h2v10h2v-9h2v-3h2v-15h2v-6h2v-3h2v-6h2v9h2v-1h2v19h2v13h2v14h2v14h2v12h2v-1h2v-5h2v6h2v-1h2v2h2v-1h4v-13h2v2h2v-2h2v1h2v-4h2v4h2v-1h2v-16h2v8h2v-4h2v-2h2v-2h2v4h2v-16h2v11h2v-15h2v6h2v8h2v-7h2v1h2v-6h2v-5h2v1h2v-2h2v-2h2v-2h2v-5h2v-2h2v-3h2v-7h2v-8h2v-1h2v-7h2v-5h2v-5h2v-4h2v-9h2v10h2v-6h2v9h2v-34h2v-4h2v-3h2v3h2v6h4v43h2v-13h2v16h2v2h2v8h2v13h2v-9h2v7h2v3h2v-1h4v8h2v-36h2v-20h2v-34h2v-10h2v-7h2v4h2v-19h2v1h2v6h2v5h4v-5h2v-4h2v1h2v2h2v5h2v1h2v-7h2v7h2v3h2v-4h2v23h2v-16h2v1h2v-6h2v-19h2v12h2v-1h2v11h2v12h2v-28h2v36h2v-34h2v-8h2v7h2v9h2v4h2v-3h2v13h2v1h2v-1h2v-10h2v-1h2v-3h2v-2h2v13h2v-10h2v12h2v22h2v7h2v30h2v27h2v17h2v5h2v9h2v2h2v21h2v4h2v7h2v25h2v-17h2v-16h2v9h4v-6h2v1h2v-8h4v-4h2v-5h2v-4h2v-5h2v-22h2v5h2v13h2v-13h2v-5h2v14h2v-11h2v-4h2v10h2v-15h2v-5h2v-12h2v-4h2v-25h2v-7h2v15h2v-39h2v-20h2v7h2v-4h2v-9h2v-2h2v7h2v2h2v4h2v-6h2v-2h2v11h4v-8h2v11h2v1h2v-9h2v-1h2v5h2v14h2v8h2v35h2v-4h2v30h2v31h2v-15h4v1h2v18h2v1h2v4h2v2h2v4h2v5h2v7h2v13h2v3h2v4h2v-8h2v-20h2v10h2v-2h2v-4h2v3h2v-17h2v2h2v2h2v-38h2v14h2v3h2v10h2v-4h2v33h2v-18h2v6h2v-67h4v28h2v-3h2v-41h2v21h2v-2h2v-11h2v-33h4v-29h2v17h2v-15h2v-7h2v-12h2v11h2v-1h2v11h2v-14h2v19h2v-13h2v20h2v18h2v20h2v16h2v7h2v1h2v-6h2v6h2v5h2v3h2v-5h2v5h2v2h4v-5h2v-4h2v13h2v-5h2v14h2v6h2v7h2v1h2v8h2v-8h2v-7h2v4h2v-12h2v13h2v1h2v-4h4v26h2v-16h2v1h2v3h2v5h2v-4h2v9h2v6h2v2h2v7h4v-5h2v7h2v4h2v3h2v-1h2v-1h2v2h2v-6h2v-4h2v-42h2v25h2v-9h2v-13h2v-15h2v5h2v-12h2v-7h2v2h4v14h2v-6h2v2h2v5h2v-21h2v10h2v-10h2v-4h2v-1h2v2h2v-2h2v1h2v-5h2v-1h2v3h4v6h2v3h2v7h2v-2h4v-12h2v25h2v-17h2v-4h2v-2h2v-7h2v-30h2v3h2v-1h2v4h2v-28h2v-6h2v-7h2v-7h2v-1h2v-3h2v12h2v32h2v10h2v-25h2v7h2v4h2v-2h2v19h2v-16h2v9h2v-1h4v-4h2v-3h2v6h2v1h2v6h2v4h2v-14h2v19h4v5h4v-1h2v20h2v6h2v11h2v16h2v29h2v19h2v-2h2v18h2v-17h2v18h2v-20h2v10h2v-9h2v-24h2v26h2v-1h2v1h2v2h2v1h2v1h2v1h2v-6h2v2h2v1h2v1h2v-2h6v5h2v-17h2v-16h2v-21h2v-26h2v4h2v-3h2v-8h2v-4h2v-3h2v-6h2v-1h2v1h2v-8h2v-3h2v-10h2v2h2v-13h2v1h2v-16h2v5h2v-2h2v-9h2v-1h2v-6h2v2h2v-1h2v-1h2v-28h2v34h2v-3h2v-19h2v6h2v-3h2v-4h2v51h2v-46h2v3h2v-6h2v-9h2v-4h2v10h19.5v217h-2051.5Z" fill="#7d0813"/>
<path d="M160 502h22v1h2v-4h2v7h2v3h2v-1h2v1h2v7h2v5h2v4h2v3h2v5h2v10h2v-1h2v8h2v2h4v14h2v5h2v5h2v8h2v6h2v-1h2v9h2v7h2v4h2v-5h2v-14h2v-8h2v-3h2v-16h2v-8h2v-6h2v-11h2v2h2v-1h2v-1h2v-1h2v1h2v-1h2v1h2v-3h4v-4h2v1h2v-10h2v4h2v4h2v8h2v6h2v9h2v2h2v11h2v8h2v10h2v8h2v7h2v8h2v4h2v6h2v-3h2v-1h2v1h4v-8h2v8h2v7h2v-10h4v1h2v1h2v-1h2v-6h2v-3h2v1h2v-4h2v-2h2v-1h2v-5h2v-3h2v-2h2v-2h2v-1h2v-4h4v-3h2v-4h2v-4h2v-12h2v-8h2v2h2v4h2v-3h2v-2h8v2h2v3h2v-2h2v3h2v2h2v-2h2v-2h2v1h2v-4h2v-1h2v-1h2v1h4v-12h2v-3h2v-1h2v-1h4v1h2v-3h2v4h2v-4h2v-1h2v5h2v3h2v7h2v-5h2v-4h2v-6h2v-2h4v-6h2v6h2v-13h2v2h2v2h2v2h4v3h2v-1h2v1h2v-1h2v1h4v1h2v-3h2v3h2v1h2v3h2v9h2v14h2v12h2v5h2v5h2v-3h4v4h2v3h6v3h2v2h2v1h2v-1h2v-1h2v3h2v1h2v4h2v-3h2v-7h2v-25h2v-17h2v2h2v-1h2v1h2v-5h2v-1h4v-8h2v7h2v-2h2v2h2v1h2v-1h4v-1h2v-1h6v-2h2v-9h2v7h2v-4h2v-5h2v-5h2v5h2v-1h2v-7h2v-2h2v2h2v-11h2v2h2v1h2v5h2v-4h2v2h2v2h4v-7h2v-2h2v10h2v1h2v-1h2v6h2v1h2v2h2v-3h2v1h2v10h2v-2h2v-1h2v-1h2v-2h2v-2h2v-2h2v-5h4v3h2v-2h2v2h2v-1h2v-7h2v-4h2v-8h2v-2h2v2h2v-11h2v16h2v-12h2v2h2v1h2v8h2v-13h2v14h2v-5h2v10h2v-12h2v-6h2v6h2v3h2v10h2v-2h2v5h2v3h2v-1h2v2h2v7h2v1h2v9h2v-6h2v2h2v10h2v-9h2v-1h2v15h2v-18h2v12h2v2h2v3h2v-2h4v-2h2v8h2v-1h2v4h2v-13h2v1h2v19h2v-3h2v3h2v19h4v-17h2v2h2v-1h2v3h2v5h2v6h2v-7h2v6h2v-1h2v-11h2v4h2v9h2v7h2v7h2v12h2v9h2v-2h2v4h2v-12h2v7h2v9h2v-5h2v10h4v7h2v-2h2v1h4v17h2v-11h2v9h2v-16h2v-10h2v9h2v-3h2v-4h2v3h2v1h2v3h2v-4h2v5h2v-30h2v18h2v-3h2v18h2v-5h2v3h2v-6h2v7h2v-4h2v-9h2v-8h2v-12h2v-36h2v-16h2v-12h4v1h2v-6h2v2h2v-1h2v-3h2v-3h2v2h2v-8h2v-4h2v17h2v-16h2v-2h2v16h4v4h2v1h4v6h4v-10h2v-4h2v-3h2v-3h2v1h2v-1h2v-10h2v14h2v-18h2v-4h2v-3h4v-1h2v-1h2v-1h2v9h2v2h4v-11h2v19h2v14h2v3h2v13h2v-10h2v17h2v4h2v-7h2v11h2v13h4v2h2v1h2v-1h2v2h2v-5h2v-14h2v11h2v-8h2v-3h2v13h2v5h2v9h2v6h2v3h2v-4h2v3h2v3h4v12h2v4h2v4h2v1h2v-4h2v-4h2v-9h2v-6h2v-5h2v-5h2v7h2v13h2v-1h2v-9h2v2h2v-1h2v-7h2v2h2v-7h2v6h2v-4h2v-3h2v5h2v-4h2v1h2v-9h2v5h2v-6h4v5h2v-1h2v-3h2v-15h2v18h2v2h2v5h2v-1h2v-1h2v8h2v2h2v-2h2v5h6v3h2v4h2v-5h2v-8h2v9h2v2h2v-3h2v3h2v1h2v1h2v-6h2v-1h2v-7h2v-1h2v8h4v3h2v-2h2v5h2v-2h2v8h2v-6h2v-3h2v-1h2v1h2v-1h2v-2h2v-3h2v-9h2v-3h2v-7h2v-16h2v-2h2v-3h2v14h2v1h2v-11h2v1h2v-4h2v-1h2v-2h2v-3h4v4h2v-1h2v4h2v-9h2v-5h2v-8h2v-4h2v-1h2v5h4v3h2v-2h2v5h2v10h2v5h2v-1h2v2h2v-4h2v10h2v7h2v2h2v12h2v-5h2v4h2v-4h2v2h4v2h2v-2h2v2h2v-2h2v-2h2v-28h2v-11h2v-8h2v9h2v-6h2v-7h2v17h2v4h2v2h2v17h2v13h2v26h4v-2h2v13h2v-5h2v-2h2v5h2v-2h2v3h4v4h2v1h2v6h2v-2h2v1h2v5h2v-12h2v7h2v2h2v11h2v-11h2v11h2v8h2v-3h2v6h2v3h2v2h2v-24h2v29h2v-5h2v6h2v3h2v-4h2v9h2v-3h2v-2h4v-14h2v-4h2v13h2v4h2v-1h2v3h2v-12h2v12h2v-8h2v4h2v4h2v8h2v-6h2v-3h2v1h2v-8h2v10h2v-3h4v-2h2v1h2v1h2v15h2v-17h2v-2h2v1h2v3h2v-2h2v3h2v2h2v-5h2v5h2v-1h2v-3h4v-1h2v2h4v2h2v-2h2v-1h2v-3h2v5h2v-3h4v-11h2v2h2v6h2v1h2v3h2v-16h2v2h2v15h2v1h2v-3h2v3h2v5h2v3h2v-9h2v3h2v-2h4v-3h2v5h2v-1h2v-6h2v-10h2v16h2v2h2v4h2v-4h2v-4h2v9h2v-17h2v21h2v-14h2v2h4v-1h2v2h2v1h2v1h2v3h2v-4h2v-27h2v25h2v11h2v-13h2v5h2v-6h2v6h2v5h2v-2h2v-5h4v-5h2v8h2v-11h2v5h2v-1h2v-2h2v1h2v-34h2v30h2v7h2v-1h2v3h2v-16h2v-13h2v48h2v-22h2v-45h2v2h2v41h2v-2h2v1h2v1h2v4h2v1h2v-8h2v-6h2v14h2v-7h2v4h2v3h2v-10h2v9h2v-8h2v2h2v6h2v-3h2v-1h2v2h2v-2h2v-6h2v3h2v4h2v2h2v-3h2v4h2v17h2v-16h2v-14h2v8h2v2h4v-2h2v-2h2v-13h4v18h2v1h2v1h2v-25h2v-2h2v28h2v1h2v3h2v-4h2v-4h2v5h2v17h2v-3h2v-1h2v-24h2v12h2v-2h2v3h2v12h2v-19h2v-4h2v4h2v-2h2v-1h2v7h2v-3h2v-3h2v3h2v-6h2v8h2v-1h2v-9h2v2h2v2h2v11h2v-7h2v26h2v-26h2v3h2v-3h2v-10h2v1h2v2h2v5h2v2h2v-5h2v8h2v2h2v-27h2v25h2v3h2v-6h2v-4h2v-1h2v17h2v-5h4v1h2v-5h2v-6h2v8h2v-2h2v4h2v-1h2v8h2v-11h2v15h2v-24h2v15h2v-5h2v-18h2v5h2v17h2v-13h2v2h2v2h2v4h2v-5h2v-30h2v-9h2v39h4v-1h2v4h2v-27h2v20h2v-16h2v18h2v9h2v-3h2v3h2v-3h4v-8h2v8h2v14h2v-9h2v-6h2v-7h2v8h2v-2h2v-7h2v3h2v-3h2v5h2v3h2v-3h2v6h2v-3h2v-13h2v10h2v7h2v-27h2v17h2v-2h2v-1h2v7h2v7h2v13h2v2h2v-29h2v1h2v4h2v6h2v-15h2v-5h2v31h2v-34h2v18h2v7h2v-3h2v-4h2v5h2v-1h2v-4h2v7h2v1h2v-7h4v6h2v12h2v6h2v-24h2v4h2v-2h2v4h2v-1h2v1h2v-1h2v-5h2v7h2v-4h2v5h2v-14h2v6h2v-11h2v1h2v24h2v1h2v4h2v-18h2v3h2v-4h2v-11h2v10h2v6h2v-7h2v-19h2v11h2v2h2v13h2v-2h2v-2h2v5h4v-4h2v-12h2v15h2v12h2v-18h2v15h2v-27h2v13h2v-21h2v15h2v-4h2v24h2v-14h2v20h2v-15h2v-7h2v-3h2v8h2v3h2v11h2v2h2v-13h2v-1h2v1h2v-6h2v26h2v-14h2v2h2v-16h2v-11h2v22h2v-1h2v-2h2v-4h2v7h2v-13h2v-4h2v9h2v1h2v4h2v-2h2v-7h2v8h2v-5h2v5h2v-4h2v7h2v19h2v-9h2v9h2v-21h2v21h2v-3h2v-15h2v-5h2v-5h2v3h4v2h4v1h2v1h2v1h2v-2h2v5h2v-6h2v1h2v-1h2v-1h2v3h2v2h2v-2h2v-15h2v6h2v-5h2v4h2v4h2v2h2v-1h2v-18h2v24h2v-47h2v44h2v-8h2v-2h2v12h2v-4h2v6h2v-6h4v-6h2v1h2v-18h2v6h2v-9h2v25h2v6h2v-7h2v-13h2v15h2v-5h2v-16h2v5h2v3h2v2h2v19h2v-4h2v-1h2v-2h2v3h2v-14h2v12h19.5v43h-2051.5Z" fill="#450607"/>
<path d="M1521.5 526.5l1.5-4.5l-1-2.5l1-2.5l1-2l-1-3.5l.5-3l2-2.5l1.5-4l3.5-1l3.5-2l4-2l3-1l3.5-1.5l3-2.5l2.5-.5l3.5-2l4-1l2.5 1.5l3.5 3l2.5 1.5h4.5l1 5.5l2.5 2l2 1.5l.5 5l.5 1.5v3.5l1 4l-.5 2l2 4v4l-2 1.5l-.5 5l-2 2.5l-2-1l-1.5-2l-2.5-3.5l-2-2.5l-3 1l-3 3.5l-2.5-.5l-2.5 1.5l-3.5 2l-2 1l-4 .5l-2.5-1l-3.5-2l-3.5-1l-3.5-1.5h-4.5l-3-4.5Z" fill="#450607"/>
<path d="M2071 600.5l1-2.5l2-4l1.5-2l5.5-1.5l3 4l1 3.5l.5 3l1 3l.5 4.5v2l.5 2.5l-1.5 3.5l-1 3l-1 5l-2 3l-.5 3.5l-5 1l-.5-1.5l-2-3l-.5-4.5l-1-3l-1.5-4l.5-1v-5l-1-6Z" fill="#7d0813"/>
<path d="M400.5 540h3v21h-3zM579 539.5h3v4h-3zM427 468.5h4v3.5h-4zM589 530.5h3v7h-3zM579 488h3v15.5h-3zM844 497h2.5v16.5h-2.5zM896 517h5v13h-5zM963 560.5h5v7.5h-5zM937.5 494h5v16.5h-5zM919.5 502.5h5v19.5h-5zM960.5 573h2v10h-2zM1008.5 538.5h2v3h-2zM906 452.5h4v16.5h-4zM869.5 511.5h2v18.5h-2zM1004.5 583.5h5v15.5h-5zM848.5 546h4v3h-4zM798.5 628h3v13h-3zM1164.5 450h3v4.5h-3zM1253 529h3v6.5h-3zM1283.5 559.5h5v5h-5zM1233.5 496h2v4.5h-2zM1290.5 545.5h3v8h-3zM1153 526.5h2v3h-2zM1336.5 621h5v6.5h-5zM1309 549h3v12h-3zM1250.5 541.5h3v6h-3zM1420 485.5h4v8h-4zM1182.5 510.5h3v8h-3zM1023.5 492.5h2.5v16.5h-2.5zM1031 503.5h3v5.5h-3zM2156 514.5h2v3h-2zM1714 534h2.5v29.5h-2.5zM2122 531h4v23.5h-4zM1450 459.5h5v3h-5zM1838 454h2v5h-2zM1689 502.5h4v22.5h-4zM1671.5 506.5h3v3h-3zM1459 594.5h4v3h-4zM2006.5 452.5h2v11.5h-2zM1516.5 486h3v10.5h-3zM2102 516h5v31.5h-5zM1489.5 566h5v3h-5zM1475.5 468.5h5v14h-5zM1456.5 587h2v19.5h-2zM2031.5 514h3v19.5h-3zM2157.5 520.5h3v10h-3zM1532 530.5h2v18.5h-2zM1590 557.5h3v3h-3zM1747 560h4v14h-4zM1529.5 490h3v10.5h-3zM1621 530.5h2.5v25.5h-2.5zM2158.5 438.5h4v13h-4zM1531.5 506h2.5v24h-2.5zM2147.5 495h5v3h-5zM1473.5 458h2.5v8.5h-2.5zM1551.5 538h5v8h-5zM1499.5 515.5h2.5v15h-2.5zM1579.5 543.5h5v17.5h-5zM1749.5 491.5h3v32h-3zM2055 474h5v24h-5zM1620 568.5h3v8h-3zM1460 553h5v3h-5zM1564.5 491h2v5.5h-2zM1863.5 577h5v16.5h-5zM1851 508h3v5h-3zM1708 519h3v19.5h-3zM1767 540.5h2.5v42h-2.5zM2149 547h3v3h-3zM1940 489h3v18h-3zM1744 578h5v42h-5zM2118.5 538.5h2.5v29.5h-2.5zM1804 466.5h2v3h-2zM1653.5 539h4v3h-4zM1837.5 505h2.5v27.5h-2.5zM1510 508.5h2v18.5h-2z" fill="#595959"/>
<path d="M350.5 416.5h2.5v3h-2.5zM313 479h2v3h-2zM998.5 460h4v7.5h-4zM984.5 528h2.5v5.5h-2.5zM812.5 468.5h3v18h-3zM836 456h2v4.5h-2zM805.5 395.5h3v10.5h-3zM834 441h5v3h-5zM800 406.5h2v4.5h-2zM917 435h2v6h-2zM765 453.5h5v4.5h-5zM928.5 433.5h2.5v6h-2.5zM830 521h2v3h-2zM846.5 522.5h2.5v7h-2.5zM973 468.5h4v3h-4zM776.5 523h4v33.5h-4zM873.5 496.5h2v17.5h-2zM1001.5 508h3v12.5h-3zM898.5 482.5h2v25.5h-2zM984.5 451.5h2.5v8h-2.5zM977 479h2v3h-2zM1348.5 547.5h2.5v3h-2.5zM1391 449.5h3v8h-3zM1127 473.5h2v11h-2zM1186.5 503.5h2v8h-2zM1242 481h3v14h-3zM1087 451.5h5v17.5h-5zM1283 521h2.5v5.5h-2.5zM1397.5 445h4v31.5h-4zM1136 501.5h2v12.5h-2zM1030.5 515.5h2v28.5h-2zM1223 490.5h5v23.5h-5zM1350 532h5v10h-5zM1279 485.5h2v6.5h-2zM1074.5 469h2v9h-2zM1295 487h3v13h-3zM1383 465h5v10.5h-5zM1377.5 471h4v3h-4zM1393 505.5h5v15.5h-5zM1425 509h4v3h-4zM1391 531.5h2v7h-2zM1361.5 474.5h3v4.5h-3zM1025.5 516.5h3v8h-3zM1209.5 496h2v4.5h-2zM1400.5 445.5h4v18.5h-4zM1323.5 527.5h3v26h-3zM2079.5 455.5h2v6h-2zM2111.5 536.5h3v5.5h-3zM1964 443h5v28.5h-5zM1551.5 434h2v3h-2zM1717.5 463.5h2v13.5h-2zM2143 400.5h3v5h-3zM1540.5 384h3v3h-3zM1928.5 434.5h2.5v8h-2.5zM1780 447h2v18.5h-2zM1602.5 382.5h2.5v15h-2.5zM1723.5 412.5h2v11.5h-2zM1760.5 428h3v3h-3zM1511 421.5h2v5.5h-2zM2018 448h2v3h-2zM1501 430h4v18.5h-4zM2017.5 430.5h4v42h-4zM1455 436h3v25.5h-3zM1733.5 571h2v23.5h-2zM1960.5 550h2.5v3h-2.5zM1759.5 465.5h4v3h-4zM2095.5 462.5h3v8h-3zM2102 587h2v3h-2zM1719.5 412.5h4v3h-4zM1704.5 413.5h2v18.5h-2zM1870.5 455.5h2v5.5h-2zM1941 520.5h3v3h-3zM2165 413h4v3h-4zM2082.5 406h3v14.5h-3zM1858 488h2v18h-2zM1540.5 373.5h2v7h-2zM1919.5 566h2v5h-2zM1766 579.5h2v3h-2zM1849 447h3v4h-3zM1980 556.5h5v9.5h-5zM1902.5 486.5h2.5v3.5h-2.5zM1732 435.5h3v13.5h-3zM2009.5 415.5h4v3h-4zM2082.5 474.5h2.5v11.5h-2.5zM1945 450.5h3v3h-3zM1710.5 444h2v3h-2zM2156 490h5v20h-5zM1693 445h2v8h-2zM1758.5 545h2v12.5h-2zM1510 433h5v5h-5zM2187.5 422.5h3v4h-3zM1661.5 426h2.5v4.5h-2.5zM2089 419.5h3v16.5h-3zM2179.5 497.5h5v7.5h-5zM1876.5 484h2.5v3h-2.5zM1668.5 425h2.5v3h-2.5zM2175.5 472.5h3v3h-3zM1945 445.5h3v13.5h-3zM1484.5 447.5h3v4.5h-3zM2089 483.5h3v3h-3zM1489 414.5h2v10h-2zM1713 568h3v3h-3zM1850.5 538.5h3v42h-3zM2050.5 407h2.5v4h-2.5zM1544.5 405.5h3v42h-3zM1897 514h3v28h-3zM1735 434.5h5v11h-5zM1924 490h4v7h-4zM1608.5 421h2v8h-2zM1762 431.5h4v12h-4zM1538 386h3v32.5h-3zM1879.5 490h2v3h-2zM1831.5 443h2.5v4.5h-2.5zM1795 426h2.5v7h-2.5zM1974.5 459.5h2v18.5h-2zM2087 628h4v3h-4zM2070 619.5h2v4h-2zM2084 401h5v15h-5zM1521 424.5h2v13h-2zM1696.5 417.5h4v5.5h-4zM2052 519.5h4v12.5h-4zM1646 550h5v10.5h-5zM2074.5 465.5h2v3h-2zM1970 389.5h2v7h-2z" fill="#a3a3a2"/>
<path d="M293 517h4v3h-4zM510.5 494.5h3v6h-3zM575 538h2v3h-2zM422.5 553h2v3h-2zM614.5 492.5h3v21h-3zM451.5 543h4v13h-4zM458.5 524.5h3v6h-3zM419 550.5h4v3h-4zM464 528.5h3v6h-3zM349.5 527.5h2.5v3h-2.5zM956 580.5h2v7.5h-2zM861 566h2v5h-2zM925.5 496h2v6h-2zM889.5 483h3v13.5h-3zM923 473.5h2.5v42h-2.5zM846.5 517h4v7h-4zM965 594h3v5h-3zM978.5 598h3v4h-3zM912 464h4v3h-4zM788 523h2.5v7h-2.5zM807 542.5h2v3h-2zM1003 593h5v4.5h-5zM916.5 505h2v5.5h-2zM921.5 528h2v6.5h-2zM849.5 573.5h2.5v5.5h-2.5zM998 616h2.5v13.5h-2.5zM1000 602h4v7h-4zM916.5 524h3v3h-3zM869.5 523h5v17h-5zM968.5 546.5h2v32.5h-2zM911 516h2v6h-2zM946 526.5h5v13.5h-5zM1344.5 581.5h2v3h-2zM1153 573.5h4v11.5h-4zM1355 536h3v4.5h-3zM1383 492h5v3h-5zM1136 518h3v4.5h-3zM1405 520.5h4v3.5h-4zM1142.5 533h5v24h-5zM1332 545h2.5v7.5h-2.5zM1406.5 532.5h5v3h-5zM1238.5 494h2v3h-2zM1362.5 545h2.5v11.5h-2.5zM1156.5 545.5h2v8h-2zM1436.5 507.5h3v3.5h-3zM1354.5 613h4v14h-4zM1238.5 539.5h5v3h-5zM1157 565h5v3h-5zM1473.5 525.5h4v7h-4zM1627 554h2v4h-2zM2174 482.5h5v8h-5zM1954.5 549h3v18.5h-3zM1655 514.5h3v16.5h-3zM1528.5 475.5h3v5h-3zM1545 486h3v9h-3zM2018.5 483h2v18.5h-2zM1482.5 512h5v4h-5zM1522.5 465h3v23.5h-3zM1479.5 541.5h4v19h-4zM2161.5 499.5h4v4h-4zM1543 499.5h2v12.5h-2zM2112 554.5h2v4h-2zM1476.5 574.5h4v27h-4zM1770.5 563h2.5v19h-2.5zM1683.5 488h5v27h-5zM1452.5 495h2.5v3h-2.5zM1937.5 549.5h4v3h-4zM2012 507h3v11.5h-3zM2082.5 605.5h2v17h-2zM1917 572.5h3v42h-3zM2009.5 510.5h2v3h-2z" fill="#7d0813"/>
<path d="M459.5 432h4v3h-4zM235.5 556.5h2.5v9.5h-2.5zM211 534h2.5v21h-2.5zM294 595h5v6h-5zM892 491.5h2v3h-2zM971 552h4v3h-4zM800 494.5h2.5v6.5h-2.5zM900 460h2.5v4h-2.5zM940 498.5h4v38.5h-4zM762.5 478.5h3v26.5h-3zM923 492.5h2.5v5.5h-2.5zM770 553h4v14h-4zM1005 487h2.5v3h-2.5zM945.5 539h2v32h-2zM817.5 540h2.5v13.5h-2.5zM990 585.5h5v11h-5zM1138.5 489h2v3h-2zM1245 467.5h3v6.5h-3zM1330.5 544h2v10.5h-2zM1149.5 469.5h3v3h-3zM1172 507.5h2v12h-2zM1086 519.5h2.5v16.5h-2.5zM1052 519.5h3v3h-3zM1179.5 501h3v3.5h-3zM1409 452.5h4v3h-4zM1399.5 520.5h3v3h-3zM1406.5 496.5h2v4.5h-2zM1147 500h5v21.5h-5zM1238 537h2v16h-2zM1401.5 452h3v14.5h-3zM1140.5 514h4v4h-4zM1401 514.5h2v3h-2zM1151.5 498h2.5v10h-2.5zM1324.5 597.5h2.5v18.5h-2.5zM1096.5 522h5v3h-5zM1228.5 487h4v15h-4zM1551 419.5h5v3h-5zM1806.5 495.5h5v6.5h-5zM1830.5 468.5h5v11.5h-5zM1505.5 474.5h3v3h-3zM2016.5 446.5h3v3h-3zM1704.5 453h2v3h-2zM1644 509h3v26h-3zM1737.5 500.5h3v3h-3zM1548.5 447.5h3v16h-3zM2055 432.5h4v12h-4zM1622 475h3v10.5h-3zM2053.5 477h3v7.5h-3zM2110.5 473.5h5v20.5h-5zM2027.5 479.5h2v17h-2zM1639 489h4v4.5h-4zM1785.5 484h5v17.5h-5zM1465.5 577.5h3v6.5h-3zM1638 521h2v10h-2zM2176.5 440.5h3v3h-3zM2188 439.5h2.5v15.5h-2.5zM2168.5 505h2.5v3h-2.5zM1650.5 547.5h2v12h-2zM2103.5 585.5h2v11h-2zM1645 492h3v5.5h-3zM1970 452.5h3v6.5h-3zM1901 613h3v5h-3zM2139.5 524h3v24h-3zM1588.5 444h3v8.5h-3zM1855.5 506h5v12h-5zM1958 536h2.5v5.5h-2.5zM1732 442.5h4v16h-4zM2029 482h4v3h-4zM1734 422h4v8.5h-4zM1867 480h4v7h-4zM1861.5 554.5h4v23h-4zM1615.5 582h4v9h-4zM1607 490.5h3v17.5h-3zM1577 408.5h3v40h-3zM1782 442.5h5v3h-5zM2152.5 516.5h4v3.5h-4zM1888 516h5v22h-5zM2098.5 615.5h2v6.5h-2zM2028.5 459.5h4v3h-4zM1451 426h4v7h-4zM1976 488.5h2.5v23.5h-2.5zM1867.5 442.5h2.5v3h-2.5zM1721 437.5h4v3h-4zM1630 548.5h3v7.5h-3zM1819.5 472h3v9.5h-3zM1878.5 475.5h5v13h-5zM2077 499.5h2v7h-2zM1703.5 509.5h4v4h-4zM1882.5 638.5h2v4.5h-2zM2076.5 521h5v19.5h-5zM2062 582.5h2v7.5h-2zM2147 469.5h2v4.5h-2zM1889.5 504h4v6.5h-4zM2184.5 457h2v24.5h-2zM2014.5 464h3v3h-3zM1599.5 498.5h3v12h-3zM1641 473.5h3v3h-3zM1537.5 479.5h4v3h-4zM1539.5 482h4v18.5h-4zM1923 591h4v8.5h-4zM1543.5 463.5h4v3h-4zM1880 619.5h5v13h-5zM1858.5 502h5v12.5h-5zM2174.5 483h3v5h-3zM1581.5 539h3v3h-3zM1715 456h4v3h-4zM2133 451h2v17h-2zM2036 488h2.5v5.5h-2.5zM1566.5 462h3v9.5h-3zM1591 576h3v13h-3zM2016.5 454h4v4h-4zM1592 476.5h3v4.5h-3zM1938 492.5h3v13.5h-3zM1894.5 543.5h2.5v11h-2.5zM1626 435.5h4v3h-4zM1825.5 488.5h3v3h-3zM1470 612.5h3v5.5h-3z" fill="#7b7b7b"/>
<path d="M472.5 418h4v7.5h-4zM374.5 431h2v7.5h-2zM208.5 388h2v9.5h-2zM568.5 406.5h3v8h-3zM199 427h3v3h-3zM229.5 431.5h2.5v3h-2.5zM547.5 459.5h3v3h-3zM826.5 539h5v5h-5zM853 470h3v35.5h-3zM828 485.5h2v14.5h-2zM959.5 429.5h3v5h-3zM777 532h2v20.5h-2zM800 345h3v6h-3zM976.5 432.5h3v19h-3zM866.5 479.5h2v42h-2zM822 380h3v25.5h-3zM775.5 419.5h3v3h-3zM852.5 391.5h4v3.5h-4zM989 427.5h2.5v16.5h-2.5zM923 466h4v16h-4zM976.5 447h3v7h-3zM957 440h2v26.5h-2zM838.5 503.5h2v3.5h-2zM851 416.5h5v9.5h-5zM957 455.5h3v13h-3zM930 425.5h3v8h-3zM964.5 431h2v6h-2zM786 410h5v3h-5zM801.5 354.5h2.5v11h-2.5zM1096 488.5h2.5v31.5h-2.5zM1138 463h5v13h-5zM1212 485.5h3v6.5h-3zM1055 503.5h2v3h-2zM1197.5 498.5h2v22.5h-2zM1061 513h2.5v13.5h-2.5zM1377.5 434.5h5v9h-5zM1355.5 462h3v9.5h-3zM1071.5 508h5v3h-5zM1416 442.5h2v27h-2zM1258.5 434h5v14h-5zM1027.5 464h2.5v5h-2.5zM1323 481h3v4.5h-3zM1339.5 483h5v3h-5zM1108.5 468.5h3v12h-3zM1268.5 463h2v12h-2zM1301 483.5h3v3h-3zM1344.5 449.5h5v8h-5zM1222.5 518h3v8h-3zM1283.5 448.5h5v3h-5zM1210.5 484.5h2v6.5h-2zM1221.5 495.5h4v9h-4zM1072.5 458.5h3v14h-3zM1261 494h5v7h-5zM1292 481.5h3v3h-3zM1213.5 469.5h3v13.5h-3zM1035.5 440.5h2.5v14.5h-2.5zM1270 461h2v7h-2zM1145 461h3v13h-3zM1389.5 432h2v12.5h-2zM1198.5 478.5h2.5v15h-2.5zM1408 436h4v4h-4zM1094 448h2v4.5h-2zM1038.5 450.5h4v6h-4zM1366.5 461h4v29h-4zM1135.5 459h2v23.5h-2zM1022.5 409h3v17.5h-3zM1220.5 450h4v14h-4zM1433 461.5h5v11.5h-5zM1067.5 486.5h2v18h-2zM2059 528h2.5v3h-2.5zM1858 437h3v23h-3zM1982 377h2v12.5h-2zM1689 429h2v3h-2zM1586.5 480h3v3h-3zM1725 448.5h3v25h-3zM1874 368h3v3h-3zM2028 480.5h5v3h-5zM1535.5 373h2.5v5h-2.5zM1736.5 522.5h5v42h-5zM1952.5 403h3v5.5h-3zM1916.5 395.5h2v3h-2zM1676 375.5h5v3h-5zM2121.5 406h2v28.5h-2zM1532.5 394.5h4v4h-4zM1700 414.5h2v9h-2zM1982 520.5h3v4h-3zM1574 368h2v7.5h-2zM1772 468.5h5v30.5h-5zM1634 555.5h2v10h-2zM1998.5 377.5h4v34.5h-4zM2007 417.5h3v3.5h-3zM1451.5 442h3v7h-3zM1953 524h3v3.5h-3zM1819 489h4v3.5h-4zM1514.5 374.5h2.5v18h-2.5zM1578.5 403.5h2.5v4h-2.5zM2011.5 465.5h5v4.5h-5zM2039.5 390.5h2v13.5h-2zM1534 392h2.5v5h-2.5zM1856 347.5h3v3h-3zM1912.5 523.5h5v24h-5zM1769.5 401.5h2.5v6.5h-2.5zM1972 372h3v3h-3zM1483.5 422.5h2v11.5h-2zM1818.5 515h2v11.5h-2zM2063 500h5v4.5h-5zM1843 407h2.5v5.5h-2.5zM2179 449.5h3v40h-3zM1858 426.5h3v11h-3zM2099 413.5h4v9h-4zM1788.5 462.5h3v11.5h-3zM1759 512.5h2v5.5h-2zM1952 412h5v9.5h-5zM1513 454h2v6h-2zM1599.5 383.5h3v18h-3zM1634 492h3v3h-3zM2035 357.5h3v6.5h-3zM1932 536h5v3h-5zM1990 360h2.5v3h-2.5zM2002 408.5h5v6h-5zM2067.5 423.5h5v12.5h-5zM1767.5 416.5h4v3h-4zM1711 383h2.5v28.5h-2.5zM2160.5 364.5h3v3h-3zM2051.5 365.5h2.5v3h-2.5zM2109.5 553.5h2v13.5h-2zM1488 456h2v7.5h-2zM1876.5 573h2.5v4h-2.5zM1839.5 507h3v3h-3zM1824 456h4v3h-4zM2054.5 456.5h3v3h-3zM1809 387h3v5h-3zM1807.5 463.5h4v3h-4zM1717 479.5h3v15h-3zM2185 446.5h3v3h-3zM2129 381h2v6h-2zM1527 394.5h2.5v20h-2.5zM1915 346.5h3v3h-3zM2177 465.5h3v12.5h-3zM1779.5 416.5h3v5.5h-3zM1925.5 426h2.5v5.5h-2.5zM1715 548h2v7.5h-2zM1574 372.5h4v4h-4zM1665 329h4v17.5h-4zM1521 380h2v10.5h-2zM1915.5 398.5h4v3h-4zM2170 446h3v13.5h-3zM2100.5 523h3v8h-3zM1826.5 438.5h2v3h-2zM1867.5 399.5h5v9h-5zM1664.5 426h3v7.5h-3zM1480 399h2v3h-2zM2143 492.5h2v4h-2zM1451 456h4v9h-4zM2027.5 471h3v14h-3zM2099.5 508h2v4.5h-2zM1706.5 522h3v19h-3zM1676 399.5h2.5v3h-2.5zM1757 369.5h2.5v5h-2.5zM1699 415h2v3h-2zM1600.5 360h2v5h-2zM2086 397h2v28.5h-2zM1998.5 401h4v12h-4zM2107 506h3v36h-3zM1869 423.5h2v6.5h-2zM1767 412.5h3v41.5h-3zM1824.5 437.5h2v3h-2zM1465 396.5h2v3h-2zM2067 561h2v3h-2z" fill="#c9c9c8"/>
<path d="M506 535h4v8h-4zM788 606h3v3.5h-3zM838 597.5h2v3.5h-2zM949.5 540h3v3h-3zM886.5 512.5h2.5v4.5h-2.5zM890 508.5h2v10.5h-2zM840 593h2v11h-2zM928.5 500h3v19.5h-3zM895.5 482h2.5v6.5h-2.5zM811 610h2.5v12h-2.5zM817.5 559h5v15h-5zM1002 550.5h4v32h-4zM1176.5 521.5h2v20.5h-2zM1301 536h5v19h-5zM1335 617.5h3v3h-3zM1263.5 528.5h4v8h-4zM1339 629h3v6h-3zM1164 495h3v23.5h-3zM1246 533h2v21h-2zM1579 534.5h4v6.5h-4zM1496.5 501h2.5v13h-2.5zM1459 578h2v25.5h-2zM2144.5 523h3v18h-3zM1790.5 527.5h4v11h-4zM1519 518.5h5v11.5h-5zM1574 472h2v3h-2zM1796.5 494.5h4v18.5h-4zM2147 516.5h2v14.5h-2zM2146 543.5h4v5h-4zM1493 538.5h2v29.5h-2zM1450.5 571.5h2v6h-2zM1466 604.5h5v8.5h-5zM2042 532.5h2v18.5h-2zM1641.5 553h2v19h-2zM1808 507.5h2v26h-2zM1661 502h3v3h-3zM1509 530h2v19h-2zM1929.5 584.5h2v15h-2zM2174.5 534.5h2v6.5h-2zM1924.5 585h2v15.5h-2zM1787.5 490.5h2.5v3h-2.5zM1568 526h2.5v9.5h-2.5zM2185 485.5h2v22.5h-2zM2056.5 564h2v5.5h-2zM1934 578h3v15h-3zM1614.5 606h5v3h-5zM1810 520h5v11h-5zM1478 587.5h3v11.5h-3zM1494 554h4v9.5h-4zM1666.5 496.5h5v39.5h-5zM1653 547h2.5v10h-2.5zM1474 593h2v3h-2zM1503.5 486.5h2.5v3h-2.5zM2181.5 531.5h5v4.5h-5zM1802 513h4v10h-4zM1767.5 575.5h3v13.5h-3zM2145 530h3v12h-3z" fill="#450607"/>
<path d="M783 482.5h3v3h-3zM931 396h5v27h-5zM784 489.5h3v42h-3zM910.5 402.5h4v19.5h-4zM932.5 429h4v4h-4zM920.5 428h2v6.5h-2zM898.5 392.5h4v3h-4zM841.5 343.5h4v3h-4zM811.5 388.5h2v42h-2zM921 400.5h4v3h-4zM817.5 381h4v15.5h-4zM771.5 386h3v3h-3zM894.5 417.5h3v21.5h-3zM967 395.5h3v26h-3zM973.5 417h2v4.5h-2zM880 484h3v3h-3zM938.5 459.5h4v6h-4zM959.5 457.5h2.5v3h-2.5zM890 433.5h3v25.5h-3zM946.5 447h2v13h-2zM932 442h4v6.5h-4zM822 362h2v3h-2zM982.5 467.5h2v16.5h-2zM966 411.5h3v3h-3zM920.5 436.5h2.5v11h-2.5zM852 396.5h5v30h-5zM863.5 423.5h3v5h-3zM938.5 457.5h2.5v9.5h-2.5zM827.5 468.5h3v15.5h-3zM917 396h2.5v3h-2.5zM843.5 424h2v17.5h-2zM953 452.5h2v9h-2zM1005.5 497h5v15h-5zM799.5 421.5h5v3h-5zM1051 448h3v10.5h-3zM1409.5 451.5h3v4.5h-3zM1388 464.5h5v3h-5zM1363.5 472.5h5v11h-5zM1022 424.5h2v8h-2zM1118 490h5v7.5h-5zM1218.5 490h3v3h-3zM1038.5 479.5h3v28.5h-3zM1081.5 510h2v5.5h-2zM1108.5 484.5h3v15.5h-3zM1090 451h2.5v10h-2.5zM1121 518h4v7.5h-4zM1357.5 484.5h3v23.5h-3zM1415 457.5h2v12h-2zM1378 453h4v10.5h-4zM1179 471h3v12.5h-3zM1095 442.5h2v22.5h-2zM1098 440.5h4v28.5h-4zM1140 480.5h5v3.5h-5zM1253 474.5h5v9h-5zM1093.5 474h2v29h-2zM1053.5 509.5h5v3h-5zM1331 459.5h2.5v3h-2.5zM1300.5 486.5h5v3h-5zM1300 471.5h3v7.5h-3zM1113 451h2v3h-2zM1160 424h3v3h-3zM1069 366h2v8h-2zM1190.5 491.5h3v12h-3zM1876.5 489h4v37h-4zM2179.5 385.5h2v21h-2zM1983.5 414.5h2v12h-2zM1678.5 349h5v25.5h-5zM1612 367.5h5v16.5h-5zM1959.5 482h2v9.5h-2zM1933.5 460.5h2v29.5h-2zM1957.5 350.5h3v12h-3zM1909.5 533h4v9h-4zM1891 485h5v3h-5zM1545 411.5h2.5v3.5h-2.5zM2136 400.5h3v42h-3zM2047.5 500h4v8h-4zM1993 364.5h3v12h-3zM2149 459h3v29.5h-3zM2103 436h4v13h-4zM1552 428.5h3v24.5h-3zM2157.5 386h5v9.5h-5zM1675 380h3v16h-3zM2130.5 443h3v9.5h-3zM1538 376.5h3v3h-3zM2184 439h4v13h-4zM1703 362h3v20.5h-3zM1645 449h3v6.5h-3zM1706.5 453.5h5v16.5h-5zM1752 491.5h3v14.5h-3zM1450 439h3v9h-3zM1933 465h2.5v11h-2.5zM1940 448.5h3v3h-3zM1632 430h3v3.5h-3zM1926.5 414.5h5v3h-5zM1548.5 448.5h5v3h-5zM1459 428.5h3v3h-3zM1752.5 370h2v3h-2zM1482.5 451h5v3h-5zM2184 372h5v3h-5zM2144.5 359h2v15h-2zM1922.5 393.5h2v10.5h-2zM1592 451.5h3v20.5h-3zM1693 439.5h2v5h-2zM1592 484.5h3v23h-3zM1688 393h5v3h-5zM1565 448.5h4v3h-4zM1553.5 394h3v3.5h-3zM1639.5 472h4v21.5h-4zM1821 467.5h5v12.5h-5zM1723 559.5h2v3h-2zM2019.5 454h3v3h-3zM2110.5 380h3v12.5h-3zM1799.5 383h2v35.5h-2zM2015.5 405.5h2v18.5h-2zM1989.5 455h5v3h-5zM1668 388h2v8.5h-2zM1920 382.5h3v27.5h-3zM1588.5 503.5h3v11.5h-3zM1857 464h2v3h-2zM1801 442.5h2.5v11h-2.5zM1868 538h2v5h-2zM1844.5 352.5h2v21h-2zM1560.5 388.5h2v23.5h-2zM1868.5 521.5h2v26h-2zM1615.5 433h3v15h-3zM1602 411.5h2v9h-2zM1666 360.5h5v3h-5zM1962.5 326h4v39.5h-4zM1542 353h2.5v3h-2.5zM1609 445h4v5h-4zM1842.5 376h3v5.5h-3zM2093 371.5h2v14.5h-2zM1775.5 428h5v6h-5zM1937.5 427.5h2v18h-2zM2035.5 366.5h2v24h-2zM1932.5 440h2v6.5h-2zM2047 344h2.5v17h-2.5zM1976 509.5h2.5v12h-2.5zM1903 477.5h4v24h-4zM1668.5 356h3v10h-3zM1910.5 395h2v16h-2zM2046.5 444.5h3v26.5h-3zM1643 464h2v21h-2zM1649.5 426h3v13.5h-3zM1466 456.5h2v10.5h-2zM1778.5 463h4v3h-4zM2142.5 377.5h4v4.5h-4zM1520.5 427h3v18h-3zM2083.5 488.5h2.5v7.5h-2.5zM2177 357.5h2v5.5h-2zM2136.5 446h2v12h-2zM1672.5 362.5h2v3.5h-2zM2141 352h2v3h-2zM1596 365h5v34.5h-5zM1820.5 447h3v3h-3zM1514.5 375.5h4v3h-4zM1899 539h2.5v7h-2.5zM1600 421h5v8.5h-5zM1564 442h2.5v8h-2.5zM1968 469.5h2.5v5h-2.5zM1731 419h2.5v10h-2.5zM1947 512.5h4v3h-4zM1688.5 352.5h5v24.5h-5zM1813 431.5h2v3h-2zM1491 393h5v17.5h-5zM1640 501.5h3v42h-3zM1724 340h3v6h-3zM1515.5 446.5h2.5v3h-2.5zM1978 454.5h3v3h-3zM1595 458.5h5v15h-5zM2123.5 364h3v3h-3zM1740 471h3v3.5h-3zM2116 465.5h5v11h-5zM2160 351h2.5v8h-2.5zM1828.5 488.5h2.5v3h-2.5zM1972.5 463.5h3v13.5h-3zM1990 409.5h4v17.5h-4zM2150 380.5h2v3h-2z" fill="#e7e7e6"/>
<path d="M764.5 417.5h2.5v17h-2.5zM989.5 398h3v36h-3zM1026.5 417.5h2v28.5h-2zM1162 416h2v3.5h-2zM1352 431h2.5v3h-2.5zM1194 443h2v10h-2zM1253 423h5v10h-5zM1352 436.5h2v3h-2zM1093.5 440h2v7.5h-2zM2005.5 350h2.5v3.5h-2.5zM1687.5 347h2v3h-2zM1703.5 346.5h3v3h-3zM1592 344h2v10h-2zM1739 348.5h5v3h-5zM2085 341h2.5v3h-2.5zM1705.5 336h2v3h-2zM2050 345.5h3v10.5h-3zM1860.5 319h3v9h-3zM1926 402.5h2v8h-2z" fill="#e9e033"/>
<path d="M325 407v3.5M599.5 463.5v8M440 553.5v5M220.5 422.5v8.5M474 462v3M445 450.5v3M587.5 453.5v3M629.5 468.5v3M364.5 511v12.5M541.5 562.5v12M399 607.5v14M788 419.5v3M971 514v9.5M760.5 377.5v14M891.5 493.5v7M890.5 419.5v14M947 542v14M784.5 463v14M774 518v3M837.5 567.5v8M939 544.5v3M991 553v3M820.5 571.5v4.5M1003.5 388.5v14M941 540v3M820 365.5v11M985 451v9M995.5 499.5v3M764 539.5v3M1006.5 504.5v11M801 576v3M848 565v3M964 545.5v4M935 429.5v10M816 403v3M866 439v3M769 429.5v12.5M1005 525v3M1007.5 469v5.5M958.5 442.5v3M922.5 439.5v14M776.5 492.5v14M830 417.5v14M875 406v3M869.5 457v11.5M811 455v4M854.5 454.5v14M1356 562.5v12M1224 507.5v14M1143 542v14M1129 509.5v7.5M1023.5 427v13.5M1065 462.5v6M1122.5 474v3M1191 503v12.5M1310 465.5v14M1170.5 455.5v14M1294 507.5v3M1164.5 435.5v5.5M1018.5 456v14M1387 439.5v3M1136.5 441.5v9M1382 531v3M1117.5 503v3M1013.5 454v3M1149.5 411.5v3M1424 512.5v3M1304.5 461v14M1320.5 405.5v3M1080.5 503.5v13.5M1370.5 519.5v14M1299.5 462.5v9M1142 468.5v14M1244 544v9M1216.5 424.5v14M1351 489.5v9M1394 510.5v3M1285 577.5v3M1365.5 519.5v3M1254 549.5v14M1214 498v10M1070.5 393.5v4.5M1019 536.5v14M1262 538.5v5.5M1033.5 459.5v3M1240.5 487v3M1393.5 515v3M1086.5 446v4.5M1023 569.5v8M1416.5 473.5v3M1445 409v14M1985.5 376.5v14M1577.5 487.5v14M2149.5 519v3M1609 519v9M2056 431.5v3M1616.5 414v13.5M1963.5 575.5v5.5M1582.5 451v3M1709 477.5v3M1765 471v14M1836 478v8M1888 365v3M1566.5 483v8.5M1862.5 331.5v14M1533 392v3M1605.5 558.5v3M1984.5 541.5v3M1508.5 401v13.5M1650.5 522v14M2151.5 424.5v13M1507.5 499v14M1976.5 476.5v14M1606.5 570v14M1585.5 478v5M1579.5 491.5v6M1478 563v3M2096.5 570v11M2149 519v3M2068.5 536v3M1759.5 494.5v14M1473 516v9.5M1484 574.5v5M1563.5 506v13M1792 470v3.5M1861.5 592.5v4.5M1808.5 465.5v3M1940.5 470.5v4.5M1755.5 574v10M1730 372v3M1857 572v14M1803 447v3M1766.5 407v4M1658.5 395v14M1742.5 468v3M1449 623.5v13.5M1985.5 439v5.5M1620.5 536v3M1684.5 381.5v14M1939 563v6M1444 613v5M1654.5 423.5v8M2176.5 394.5v7M2093.5 462v3M1471.5 450v3M1970.5 505v14M1506 468v12.5M1954.5 393.5v14M1787 452.5v7M2038 354.5v14M2115.5 473v10M1818.5 422v8M1462 620v14M2078.5 624.5v7.5M1596.5 560.5v8.5M1493 405.5v14M1493 528v10.5M2019.5 475v3M1574 446.5v6.5M1756.5 563.5v14M1718 541v3M1959 515v5M1470.5 468v3M2150 371.5v3M1802.5 485.5v5M1790 359v8.5M1746.5 398.5v4M1838.5 551v14M1542 419.5v14M2058.5 503.5v3M1818 427.5v5.5M1816 487v7.5M1877.5 396.5v3M1914.5 377.5v14M1758 390.5v9M2032.5 383v4M2152.5 399v3M2160 416.5v4M2117.5 566v8.5M1861.5 472v3M2172 389.5v14M1886 491.5v14M1678 413.5v14M1660.5 484v6.5M1483 509v12.5M2116 406.5v14M2167 420v3M1447.5 472v14M1739 468.5v6M1744.5 531.5v11.5M1468 398.5v14M1526 488.5v5.5M2037.5 485.5v7.5M2020 407v14M1912 402.5v4.5M1679.5 504.5v14M1715 476v3M1559 431.5v3M1797 409.5v10.5M2075 442v4.5M1848 556v14M1797.5 336.5v3.5M2058 508v9.5M2066 557.5v4M2092.5 388v7M1808 488.5v14M1623 409v14M1940.5 459.5v14M1916.5 410v7.5M2160 345v14M2113.5 428v3M1893.5 411.5v3M2088 388v12M2022.5 417.5v3M1475 438v3.5M2092 474v3M1462 570.5v10M2080.5 460.5v14M1540 495.5v12M2172.5 422.5v8.5M1743 483v14M1608.5 505v3M1748 442v14M1620 435.5v14M1776.5 508v7M1538.5 465v3M1561.5 390v5.5M2041 519.5v3M1469.5 480v6M2114.5 502v3M2135 477v12.5M1637 491v5M1972.5 400v3M1618 580.5v3M1657 456.5v5.5M1876.5 613v14M2013.5 491v6.5M1513.5 479.5v14M1882 501.5v3M1639 483.5v14M2135.5 564.5v14M1876 434v11M1785 401.5v14M1540.5 450.5v14M1983.5 494v14M1727.5 467v4.5M2161 480v5M1702 545.5v3M2023.5 528v4.5M1466 437.5v3" fill="none"/>
</g>
<path d="M702.6 416V430M702.6 437V446M702.6 451V453M702.6 461V463M702.6 470V477" stroke="#000" stroke-width="1.8" fill="none"/>
<clipPath id="clipB"><path d="M181 898h2v-10h1v10h1v1h3v-1h1v-1h1v1h1v-1h3v1h1v1h1v-1h1v1h2v-1h1v-2h1v2h1v-1h1v-1h2v-8h1v7h2v-8h1v1h1v2h1v1h1v-2h1v-1h1v-7h1v7h1v10h1v3h1v-1h1v-1h1v-5h1v3h1v5h1v-2h1v-1h1v-2h2v-1h1v2h1v1h1v-2h1v1h3v1h1v-2h4v2h1v-2h1v-1h1v1h2v1h1v1h1v-2h1v1h1v-7h1v4h1v3h1v-3h2v1h3v2h3v1h3v1h1v-2h2v-11h1v11h3v-1h1v-1h1v1h2v-1h1v2h1v-1h2v-1h1v1h1v1h1v-1h2v3h1v-2h2v-1h1v-9h1v10h1v-2h1v-9h1v6h1v3h1v1h1v-1h1v2h1v4h1v-5h1v1h1v1h1v-1h1v1h1v-1h1v1h1v-2h1v1h2v-1h1v-1h1v2h1v1h1v-1h1v1h1v-2h2v-1h1v-10h1v12h1v1h1v-1h2v-10h1v1h1v-1h3v1h1v9h1v-10h2v2h1v11h1v-9h1v6h3v1h1v-1h2v-4h1v5h3v-2h1v-1h2v2h1v1h2v1h2v-2h1v-1h1v-1h1v-8h1v8h2v1h2v-6h1v4h2v-4h1v7h1v-1h1v1h1v1h1v1h1v-1h1v-1h1v-1h2v-1h1v-1h1v-8h1v11h1v1h1v-3h1v1h2v-9h1v10h1v-1h1v-6h1v7h1v1h1v-2h1v-1h1v-1h1v2h5v-1h1v3h1v-2h3v-8h1v7h2v1h1v2h1v-2h3v2h1v1h1v-2h1v-1h1v2h1v-1h3v-1h1v-1h2v1h2v-1h2v1h1v-1h1v-4h1v-2h1v10h1v-1h2v-2h1v-1h1v1h1v-1h1v-1h1v1h1v1h3v-1h1v-5h1v5h1v1h1v2h1v-11h1v2h1v6h1v1h1v1h2v-1h1v-1h1v-1h1v1h1v-1h1v1h2v1h1v-1h1v-3h1v4h1v-1h3v2h1v-1h1v-1h2v2h2v-1h1v-1h1v2h1v-9h1v10h1v-1h1v2h1v-2h2v-1h1v2h1v-2h1v-8h1v6h1v1h1v2h2v1h1v1h3v-1h3v-2h1v2h2v-1h1v-1h1v-9h1v9h1v1h2v1h1v-2h1v-6h1v6h1v-1h1v1h1v-1h1v2h1v-8h1v2h3v1h1v6h1v-2h1v-1h2v2h1v-2h1v2h1v1h1v-1h1v1h1v-2h1v1h1v1h1v-7h1v5h2v2h3v-5h1v4h1v-1h2v-6h1v6h1v1h2v1h1v-1h3v-1h1v-4h1v5h1v1h1v1h2v-3h1v1h1v-1h3v1h1v-1h2v1h1v-2h1v2h1v1h1v-1h1v-2h1v2h1v-2h2v2h1v-1h3v2h1v1h2v-2h1v3h1v-3h1v-1h2v-1h1v-1h1v1h1v-1h1v2h1v1h1v-1h1v-1h1v2h1v1h2v-2h1v-1h1v2h3v1h1v-2h1v-6h1v7h1v-10h1v9h2v-4h1v5h1v-7h1v7h2v-1h1v-1h1v1h3v2h1v-8h1v7h1v-1h1v1h1v-7h1v8h1v-2h1v-7h1v7h2v1h1v-1h1v-1h1v-8h1v11h1v-1h3v-1h2v2h1v398h-1v4h-1v-5h-1v8h-1v-7h-2v4h-1v-4h-1v-1h-1v3h-1v4h-1v-3h-2v5h-1v-3h-1v5h-1v-2h-1v2h-1v2h-1v1h-1v1h-1v1h-1v2h-1v4h-1v3h-1v4h-1v-2h-1v4h-1v2h-1v-3h-1v1h-1v-1h-2v2h-1v-1h-1v-1h-1v1h-1v1h-1v-1h-1v1h-1v6h-1v-7h-1v6h-2v-4h-1v2h-1v1h-1v2h-1v1h-1v1h-1v2h-1v3h-1v1h-1v3h-1v7h-1v3h-1v-1h-1v3h-1v8h-1v5h-1v-1h-1v8h-1v1h-1v5h-1v4h-1v4h-2v4h-1v2h-1v1h-1v3h-1v-1h-1v4h-1v-6h-1v2h-1v-5h-1v-2h-1v-2h-1v-2h-1v-4h-1v8h-1v2h-1v-6h-1v-2h-1v-1h-1v4h-1v-6h-2v6h-1v-5h-1v-4h-1v3h-1v-3h-2v-2h-1v3h-1v-5h-1v-1h-2v-1h-2v-1h-1v-1h-1v1h-1v2h-1v-8h-1v-1h-1v-2h-1v-3h-2v3h-1v-4h-1v-2h-1v3h-1v-6h-1v-1h-1v2h-1v-5h-1v-2h-1v-1h-1v-1h-1v-1h-1v-2h-2v-3h-1v4h-1v-7h-1v-1h-1v-2h-1v-1h-1v-2h-1v1h-1v-2h-1v-2h-1v1h-1v-3h-1v2h-1v-1h-1v6h-1v-6h-2v-1h-1v1h-2v-1h-1v-1h-1v2h-1v-1h-2v-1h-1v-2h-1v1h-2v-1h-1v2h-1v-2h-1v-5h-1v-5h-1v-4h-1v1h-1v-5h-1v7h-1v-4h-1v1h-1v3h-1v2h-1v2h-1v5h-1v-2h-1v1h-1v3h-1v3h-1v9h-1v-3h-1v2h-1v2h-1v2h-1v3h-1v2h-1v3h-1v2h-1v6h-2v4h-2v3h-1v2h-2v7h-1v5h-1v-1h-1v3h-1v3h-1v1h-1v2h-1v2h-1v4h-1v3h-1v3h-1v2h-1v3h-1v2h-1v4h-1v8h-1v1h-1v-2h-1v2h-1v9h-1v-5h-1v2h-1v1h-1v2h-1v2h-2v-1h-1v-2h-1v-1h-1v-2h-1v3h-1v-6h-1v-1h-1v-1h-1v7h-1v-2h-1v-7h-1v1h-1v-3h-1v-1h-2v2h-1v-4h-1v-2h-1v1h-1v-6h-2v-5h-2v-1h-1v-2h-1v-2h-4v1h-1v-1h-1v-1h-1v-2h-2v-1h-1v-2h-1v1h-1v-2h-1v-3h-1v-2h-1v-2h-1v-3h-1v-2h-1v-3h-1v-1h-1v-3h-1v-1h-1v4h-1v-9h-1v-1h-1v-1h-2v-6h-1v-5h-2v-1h-1v-2h-1v-1h-1v-2h-1v-1h-1v-1h-1v-2h-1v-1h-1v-3h-1v-2h-1v2h-2v-6h-1v-3h-2v-2h-1v2h-1v-3h-1v-1h-1v1h-1v2h-1v-2h-2v1h-1v-4h-1v-1h-1v4h-1v-2h-1v-4h-1v-6h-1v-4h-1v-1h-1v-3h-1v-1h-1v2h-1v4h-2v2h-2v2h-2v3h-1v7h-1v-3h-1v1h-1v1h-2v2h-1v-1h-1v2h-1v2h-1v3h-1v4h-1v1h-1v2h-1v2h-1v2h-1v1h-1v3h-1v4h-1v5h-1v5h-1v7h-1v6h-1v2h-1v9h-1v-4h-1v3h-1v3h-1v1h-1v2h-2v1h-1v1h-1v3h-1v2h-1v6h-3v2h-1v6h-1v-2h-1v7h-1v9h-1v-9h-1v3h-1v1h-1v2h-2v3h-1v-4h-1v2h-1v1h-1v1h-1v2h-2v6h-1v-4h-1v6h-1v-5h-1v-1h-1v2h-1v2h-1v-1h-2v3h-1v-3h-1v-1h-1v2h-1v-3h-2v-1h-3v3h-1v-3h-1v2h-1v-5h-1v-2h-3v-3h-2v-2h-2v-3h-1v-1h-1v-2h-1v-2h-1v6h-1v-8h-1v-6h-1v3h-1v-1h-1v5h-1v-8h-2v-4h-1v3h-1v-7h-1v-3h-1v-3h-1v-2h-1v2h-1v-7h-1v-1h-1v-4h-1v-2h-1v5h-1v-3h-1v-2h-1v-5h-1v-2h-1v-1h-3v5h-1v-11h-1v3h-1v-2h-2v-5h-1v4h-1v-5h-1v-5h-1v1h-1v-5h-1v-3h-1v-2h-1v-2h-1v-3h-1v1h-1v-3h-1v-1h-1v-8h-1v4h-1v-9h-1v-1h-1v4h-1v-8h-2v-2h-1v4h-1v-10h-2ZM640.5 898h1.5v-1h1v-1h1v1h2v1h1v1h1v-10h1v10h1v-1h2v-5h1v3h1v1h1.5v409h-.5v6h-1v-5h-1v-2h-1v2h-1v2h-1v-2h-1v2h-2v-1h-1v2h-1v1h-1v5h-1v-6h-1v1h-1.5ZM756.5 898h1.5v-1h5v2h1v-1h1v1h2v-1h1v1h1v-6h1v5h1v-8h1v-7h1v5h4v2h1v9h1v2h1v-4h1v-1h2v-9h1v6h1v4h1v2h1v-1h1v1h1v-1h1v-1h2v-6h1v6h2v1h2v1h1v-1h2v1h1v-2h2v-1h1v-7h1v2h1v1h1v2h1v-8h1v11h1v-1h1v1h3v-1h1v2h2v-2h1v1h1v-1h1v1h2v1h1v-10h1v11h1v1h1v-1h1v-1h1v1h1v1h1v-1h1v-2h1v-6h1v6h1v2h1v-2h4v2h1v-1h1v-1h2v-3h1v3h1v1h1v1h1v3h1v-11h1v6h1v1h2v-1h1v1h1v1h1v1h1v-1h1v-2h1v-1h1v2h2v4h1v-4h1v-1h1v-1h1v-5h1v6h2v-10h1v5h1v6h2v-1h1v-5h1v5h1v-1h1v1h3v1h1v-1h1v1h1v-1h1v-1h1v1h1v2h1v-1h3v-10h1v10h2v1h1v-1h1v-1h1v1h1v-8h1v9h1v-1h1v1h1v-2h1v1h2v2h1v-2h1v1h1v-1h1v1h2v-8h1v7h1v1h1v1h2v-1h1v-1h2v-1h1v-1h1v1h1v1h2v1h1v-2h1v1h1v1h1v-1h1v-4h1v-3h1v9h1v-1h1v-8h1v9h1v-9h1v1h1v6h2v-1h1v-5h1v8h1v-11h1v8h1v1h1v2h1v-2h1v2h1v2h1v-4h2v1h2v-1h1v-2h1v2h1v-2h1v2h1v1h1v-1h1v-1h1v2h1v-2h1v-1h1v-9h1v5h1v4h1v1h1v2h1v-1h1v1h1v-1h1v1h2v1h3v-1h2v-2h1v1h1v-2h3v2h2v1h1v1h1v-2h1v-1h1v-1h4v1h1v-1h1v-4h1v5h2v-1h1v1h2v2h1v-1h1v-6h1v5h1v-7h1v9h1v-1h1v1h1v-7h1v4h1v3h2v-1h1v-2h1v1h1v-1h2v-1h1v-8h1v1h1v6h1v2h1v2h1v1h1v1h1v-1h2v-2h1v2h1v-2h2v1h1v-1h1v-10h1v10h1v1h1v-1h1v1h1v-1h1v1h2v-1h1v2h1v-2h1v3h1v-1h2v1h1v-2h1v-2h1v-5h1v5h4v1h1v-1h2v-1h1v1h1v3h1v-2h1v3h1v-3h1v-6h1v7h1v-1h1v-1h1v2h2v-1h1v-8h2v4h1v-5h1v3h2v1h1v-1h2v-8h1v13h2v2h2v1h1v-1h2v-5h1v-1h1v5h1v1h1v-8h1v9h1v-1h2v-1h1v-11h1v11h2v-1h2v2h2v1h1v-2h2v2h2v1h2v-2h1v1h1v-1h1v-1h1v-1h1v1h1v1h1v-1h2v1h1v1h1v-2h1v2h1v-9h1v9h3v-1h1v-2h2v-7h1v6h1v3h2v1h4v1h1v1h1v-3h1v1h2v-2h1v-1h2v2h1v1h1v4h1v-12h1v7h1v1h1v-1h1v-1h2v4h1v-4h1v-1h1v3h1v-1h1v-1h1v1h1v1h2v1h2v1h1v-2h1v-1h1v-1h1v1h2v-1h1v-1h1v2h2v1h1v-6h1v6h1v-7h1v6h2v1h2v-1h1v-1h1v-1h1v2h2v1h1v-1h2v1h1v-1h1v-1h1v-1h1v1h2v-1h1v-9h1v9h1v1h1v1h1v-1h2v-6h1v3h1v5h1v-1h1v-1h3v1h1v1h1v-2h1v1h2v-10h1v9h1v1h1v-2h1v2h1v1h1v-1h2v1h1v-7h1v6h1v-1h1v1h2v-1h2v-7h1v7h1v2h1v-1h1v1h1v1h2v-2h2v1h1v-2h1v-1h1v2h3v-10h1v6h1v5h1v-1h2v1h1v-2h3v-1h1v2h1v-6h1v7h1v-9h1v9h1v1h1v-1h1v-1h1v-8h1v-10h1v14h1v5h1v1h2v-1h1v-1h1v-6h1v4h1v5h1v-3h1v-1h4v1h1v1h1v-1h1v-2h1v1h4v2h2v-1h1v1h1v-2h1v-1h1v-7h1v8h1v1h1v-2h1v-8h1v11h1v-1h1v-1h1v-3h1v4h1v-8h1v7h2v1h1v-7h1v2h1v-2h1v1h1v5h1v-1h2v2h1v-2h1v1h1v2h1v1h2v-1h2v-1h2v-1h2v-7h1v6h1v1h1v-1h1v-1h2v1h3v2h1v-1h1v2h3v-1h1v1h1v-1h1v1h2v-2h1v1h1v-1h1v2h2v1h2v-3h1v-1h2v1h1v1h1v2h1v-1h1v-1h2v-1h1v-7h1v6h2v-1h1v-5h1v-1h1v8h1v2h1v-1h1v-1h2v-1h1v1h2v-10h1v10h1v-1h1v-6h1v10h1v-2h1v1h2v-1h1v-1h1v-2h1v3h2v1h1v-2h1v2h1v1h1v-2h1v1h1v-2h1v2h1v-1h1v1h2v1h1v-1h1v-1h2v-1h3v1h1v-8h1v7h1v1h2v1h2v1h1v-1h1v-10h1v10h4v1h1v-1h1v-2h1v1h2v1h1v-2h1v4h1v-5h1v-6h1v8h1v-10h1v4h1v-2h2v2h1v-3h1v1h1v1h1v5h1v-1h1v1h3v1h1v-6h1v6h1v-1h1v-1h1v2h1v-1h1v1h1v1h1v1h1v-2h1v2h3v-1h1v-2h1v2h1v-1h2v-1h1v1h2v-1h1v1h1v-1h1v2h1v1h2v1h2v-2h2v-2h2v2h1v-1h1v1h1v1h1v-1h2v1h1v-1h1v1h1v1h1v-1h1v-1h1v-1h1v1h2v-2h1v2h1v-1h1v-1h1v2h1v1h1v-1h2v-6h1v6h1v-2h1v1h1v2h5v-1h1v-5h1v9h1v-4h2v-1h1v1h2v-4h1v4h1v-10h1v8h1v1h3v1h2v-1h1v2h2v-2h2v2h1v1h1v-2h1v-4h1v3h1v-1h1v-7h1v8h1v-4h1v-2h1v6h3v-6h1v6h1v-1h1v-9h1v15h1v-5h2v1h2v-1h1v1h1v-1h1v-1h1v1h1v3h1v-4h3v2h1v-1h1v-9h3v2h1v-1h1v-2h1v4h2v8h2v-2h1v-11h1v10h1v-9h1v10h2v-1h2v2h1v-2h1v-8h1v8h1v2h1v1h2v-1h3v3h1v-11h1v8h2v1h2v1h1v-4h1v3h2v1h2v1h1v1h1v-2h1v-1h1v-1h1v-1h1v-5h1v4h1v1h1v-1h1v5h1v-5h2v-10h1v10h1v-1h1v3h1v1h1v-1h1v-1h2v-1h2v-1h2v1h1v-10h1v12h1v1h2v-1h1v-1h3v-12h1v13h1v1h1v-1h2v-2h1v2h1v-6h1v5h1v1h1v-9h1v6h1v4h1v-2h2v1h1v-4h2v1h1v-1h1v-1h2v1h1v3h2v2h1v-1h1v-1h1v-1h1v1h2v1h1v-1h2v-1h1v-8h1v6h1v-1h2v1h1v-1h1v-8h1v2h1v7h1v4h1v1h1v1h1v-1h1v-2h1v-7h1v9h1v-1h2v1h1v-11h2v-1h1v-5h1v5h1v1h1v-1h2v10h1v-6h1v-9h1v7h1v1h4v-5h1v12h1v-1h1v1h1v1h3v1h1v1h1v-3h1v-1h2v1h1v-1h1v1h1v1h1v1h1v-2h1v-1h1v2h1v-1h1v-4h1v4h2v1h1v-1h1v-1h1v-6h1v10h2v-2h1v1h1v-1h1v-1h2v1h1v-4h1v5h1v-1h1v-2h1v-1h1v2h2v-10h1v11h1v1h1v3h1v-6h3v2h1v1h1v-8h2v-1h4v-2h1v2h1v8h3v1h1v-9h1v-7h1v8h1v-3h1v1h1v-1h2v9h1v1h1v-1h1v1h1v1h1v-1h1v1h1v-2h2v-1h1v2h1v1h1v-1h1v1h1v-1h1v-1h1v-4h1v-2h1v1h1v-6h1v7h1v-4h1v2h1v7h1v-1h2v-1h1v1h1v2h2v-1h1v1h1v4h1v-3h1v-1h1v-1h1v-7h1v-1h1v6h1v2h1v2h1v-3h1v-1h1v2h1v-2h1v2h1v-1h1v-5h1v4h2v1h1v1h4v-1h1v-5h1v7h1v1h1v-3h1v1h1v1h1v-1h1v1h1v-2h1v-1h1v1h1v-1h4v-7h1v9h3v-1h1v-1h1v-5h1v6h1v-1h2v2h4v-9h1v7h1v3h1v-1h1v-1h1v1h1v1h1v1h2v-1h1v1h1v-12h1v11h1v-2h1v-1h1v2h2v1h2v-2h2v2h3v-1h2v-1h3v-1h1v1h1v1h1v-10h2v-1h3v1h2v-8h1v17h2v-1h1v2h1v-8h1v8h1v3h1v-2h1v-2h1v-1h2v-1h1v2h1v-1h2v1h2v1h1v-1h1v-6h1v6h1v-8h1v10h2v-1h1v-1h1v-1h1v-10h1v11h3v-1h1v1h1v-1h1v1h1v-1h2v2h3v-8h1v-2h1v-5h1v6h1v-4h1v5h1v-2h1v10h1v1h2v-1h2v-2h2v1h1v-10h1v12h1v1h1v-2h1v-2h1v2h1v-1h1v2h1v-1h2v-1h2v1h1v1h3v-2h2v1h2v-2h1v3h1v-3h2v-1h1v1h1v2h2v1h1v-8h1v6h1v4h1v-16h1v11h1v1h1v1h1v-5h1v5h1v-7h1v7h1v-2h1v1h1v-1h4v-5h1v10h1v-1h1v-1h1v-2h1v-6h1v6h4v2h1v-2h1v-1h1v-1h1v1h1v2h1v-9h1v-1h1v2h1v1h1v1h2v1h1v5h1v1h1v-1h1v-1h1v-1h1v1h1v-1h2v2h1v2h1v-2h1v1h1v1h1v-1h1v-13h1v5h2v1h1v-9h1v12h1v5h3v-2h1v-1h1v-5h1v-1h1v1h1v1h1v-1h2v6h1v1h1v-2h2v2h1v-4h1v4h2v1h1v-11h1v4h1v3h1v2h1v1h1v-2h1v2h1v-1h1v1h1v-2h1v-1h1v-1h1v-8h1v9h1v-4h1v5h1v-1h4v1h1v1h1v3h1v-5h1v-9h1v8h1v1h1v1h1v3h1v-8h1v6h1v1h1v-10h1v10h1v-1h1v-2h1v4h1v-1h1v-6h1v5h1v-1h1v-1h2v2h1v-1h1v2h3v-1h1v-1h2v-6h1v-9h1v8h2v-1h1v1h1v-1h1v6h2v1h1v1h1v-11h1v9h1v2h1v1h2v-1h2v1h1v-1h1v-6h1v1h1v1h1v1h1v-1h1v-1h1v7h1v-1h3v1h4v-1h1v-2h2v2h3v-1h1v1h1v1h1v-2h2v-4h1v4h1v1h2v-1h1v-7h2v8h1v-1h1v-1h1v3h3v-1h2v-1h2v-5h1v6h1v414h-1v3h-1v2h-1v8h-1v-3h-1v-1h-1v4h-1v-5h-1v5h-1v-7h-3v2h-1v1h-3v-2h-1v1h-2v6h-1v-5h-1v1h-1v4h-1v-3h-1v1h-1v1h-1v1h-2v2h-1v2h-1v6h-1v-5h-1v2h-2v6h-1v-3h-1v1h-1v7h-1v-6h-1v2h-1v1h-1v2h-1v1h-2v3h-1v2h-1v2h-1v2h-1v1h-1v3h-2v7h-1v-5h-1v6h-1v-1h-1v-3h-1v2h-1v2h-1v2h-2v1h-1v1h-1v2h-1v-1h-1v4h-1v1h-2v2h-1v1h-1v6h-1v-4h-1v4h-1v-3h-1v2h-1v5h-1v-1h-1v2h-1v-2h-1v5h-1v1h-1v1h-1v3h-1v5h-1v-4h-1v6h-1v-7h-1v11h-1v-4h-1v7h-1v-5h-1v1h-1v2h-1v2h-2v3h-1v4h-1v2h-1v-3h-1v1h-1v4h-1v-1h-1v1h-1v4h-1v-1h-1v-2h-1v8h-1v-6h-1v3h-2v3h-1v-4h-2v3h-1v-8h-1v-3h-1v-1h-1v1h-1v-9h-1v2h-1v-6h-1v-3h-1v-3h-1v-4h-1v-3h-1v-2h-1v-4h-1v-2h-1v-2h-1v-2h-1v-1h-1v-5h-1v-1h-1v2h-1v-9h-1v-2h-1v-6h-1v5h-1v-8h-1v-2h-1v-4h-1v-1h-1v-3h-1v-4h-2v-5h-1v-2h-1v6h-1v-7h-1v4h-1v-6h-1v-3h-1v-1h-2v-2h-2v-2h-2v-2h-1v3h-1v-3h-1v-1h-1v5h-1v-5h-1v-1h-1v-2h-1v-2h-2v3h-1v-1h-1v-6h-3v8h-2v-3h-2v1h-1v4h-1v4h-1v2h-1v-4h-1v4h-1v-2h-2v5h-1v-3h-1v2h-2v1h-2v2h-3v5h-1v-3h-1v-1h-1v3h-1v-3h-1v1h-1v5h-1v-3h-1v-1h-1v6h-1v1h-1v5h-1v-3h-1v4h-1v3h-1v2h-1v3h-1v7h-1v-1h-2v6h-1v2h-1v-3h-2v1h-2v-2h-1v2h-1v-1h-1v-2h-2v1h-1v5h-1v-6h-1v1h-2v1h-1v3h-1v3h-1v-2h-2v7h-1v-6h-2v1h-2v-1h-1v1h-2v1h-1v1h-1v-1h-1v1h-3v-2h-1v2h-2v7h-1v-2h-1v-1h-3v1h-2v2h-2v7h-1v-7h-1v2h-1v2h-1v1h-1v2h-1v3h-1v8h-1v-6h-1v3h-1v2h-1v1h-1v5h-1v2h-1v-2h-1v1h-1v1h-1v1h-1v5h-1v3h-1v-3h-1v4h-1v-1h-1v1h-1v1h-1v2h-2v2h-1v2h-2v1h-1v3h-1v2h-1v-1h-1v-2h-1v2h-1v2h-1v-2h-1v1h-1v-2h-1v1h-3v-2h-1v7h-1v-6h-1v-1h-1v7h-1v-8h-1v-1h-1v-2h-1v-1h-2v5h-1v-1h-1v-6h-1v-3h-2v-1h-2v-4h-1v-3h-1v-2h-1v-3h-1v2h-1v-8h-1v-1h-1v4h-1v-9h-1v-3h-1v-4h-1v-2h-1v-2h-1v-1h-1v3h-1v-7h-1v-3h-1v-3h-1v-2h-1v-3h-1v-2h-1v-4h-2v-4h-1v1h-1v-3h-1v-6h-1v-2h-1v-2h-1v-1h-1v-2h-1v-3h-1v-2h-2v3h-1v-1h-2v-3h-2v-9h-1v-2h-1v4h-1v-4h-1v-4h-1v-1h-1v-1h-1v6h-1v-6h-1v5h-1v3h-1v-4h-1v1h-2v2h-1v3h-1v-3h-1v2h-1v2h-1v-1h-1v1h-1v-1h-2v3h-1v-3h-1v-1h-1v-1h-1v-4h-1v3h-1v1h-1v2h-3v4h-1v-1h-1v-1h-1v1h-2v1h-1v-1h-1v6h-1v2h-1v2h-1v1h-1v2h-1v1h-1v2h-1v-1h-1v4h-1v-4h-1v9h-1v-3h-1v10h-1v-4h-1v2h-1v3h-1v7h-1v3h-1v-6h-1v3h-1v2h-1v1h-1v7h-1v-7h-1v2h-1v1h-1v5h-1v3h-1v5h-1v-2h-1v1h-1v2h-1v2h-1v9h-1v-3h-1v3h-1v2h-1v6h-1v-1h-1v3h-1v1h-1v4h-1v3h-1v3h-1v3h-1v1h-1v-1h-1v1h-2v1h-2v-3h-1v1h-1v-9h-1v-4h-1v-2h-1v-1h-1v-3h-1v-5h-1v4h-1v-6h-1v-3h-1v-2h-2v-5h-1v-4h-1v-1h-2v-3h-2v-10h-1v2h-1v-6h-1v-6h-1v-4h-1v-2h-1v1h-1v-5h-1v-2h-2v-7h-1v2h-1v1h-1v-6h-1v-1h-1v-2h-1v-2h-1v-3h-1v-4h-1v4h-1v-5h-2v1h-1v-6h-2v-2h-1v-2h-1v-1h-1v2h-1v-5h-1v6h-1v-7h-1v-1h-1v-1h-1v1h-1v5h-1v-6h-1v-2h-1v-1h-1v-4h-1v2h-1v-2h-2v1h-1v1h-2v5h-1v4h-1v-3h-1v8h-1v-4h-1v2h-1v1h-1v2h-1v1h-1v2h-1v2h-1v1h-1v2h-1v6h-1v-2h-1v-3h-1v3h-1v7h-1v-3h-1v2h-1v6h-1v-3h-1v1h-1v2h-1v9h-1v-6h-1v2h-1v2h-1v2h-2v4h-1v1h-1v2h-1v-1h-1v3h-1v2h-1v2h-1v3h-1v2h-1v8h-1v-4h-2v4h-1v1h-1v2h-1v3h-1v2h-1v3h-1v4h-1v1h-1v2h-1v4h-1v2h-1v5h-1v-3h-2v8h-1v-3h-1v1h-1v-3h-1v5h-1v-3h-1v-4h-1v-1h-1v4h-2v-8h-1v-2h-2v-5h-1v1h-2v4h-1v-3h-1v-10h-1v1h-1v-1h-1v1h-1v-7h-1v2h-1v-5h-1v-2h-1v1h-1v-7h-1v-4h-1v-1h-1v-3h-1v3h-1v-7h-1v-4h-1v-2h-1v4h-1v-8h-1v-2h-1v-1h-1v-3h-1v-4h-1v2h-1v5h-1v-4h-1v1h-1v-1h-1v1h-1v-5h-1v5h-1v-1h-1v-8h-1v-2h-1v-1h-1v-2h-1v-3h-1v-2h-1v-2h-1v3h-1v3h-2v1h-1v2h-1v2h-1v-1h-1v7h-1v-8h-1v3h-2v-1h-1v-1h-2v-2h-1v4h-1v2h-1v-8h-1v5h-1v-5h-1v2h-1v1h-1v5h-1v-2h-1v-5h-1v1h-1v3h-1v-7h-1v4h-2v2h-1v-3h-1v-1h-3v-1h-1v1h-1v-1h-1v1h-1v6h-1v-6h-3v2h-1v1h-1v2h-3v5h-1v-4h-1v2h-1v5h-1v-4h-1v8h-1v-6h-1v1h-3v1h-1v2h-1v1h-1v1h-1v2h-1v2h-1v1h-1v4h-1v-2h-1v2h-1v5h-1v1h-1v-3h-1v2h-1v9h-1v-1h-1v1h-1v3h-1v-1h-1v6h-1v-1h-1v4h-1v2h-1v8h-1v-4h-1v1h-1v4h-1v7h-1v-3h-1v4h-1v1h-1v5h-1v-1h-1v6h-1v6h-1v-5h-1v9h-1v-3h-1v1h-2v5h-1v1h-1v3h-1v6h-1v-2h-1v1h-1v1h-1v1h-4v3h-1v-5h-1v-2h-1v-4h-1v-4h-1v-5h-1v-4h-1v-3h-2v-8h-1v-7h-1v-3h-1v-3h-1v-5h-1v-3h-1v-6h-2v-4h-2v-10h-1v-2h-1v2h-1v-5h-1v-3h-1v-3h-3v-3h-1v1h-1v-2h-1v-1h-2v3h-1v-1h-1v-7h-1v1h-1v-4h-1v-1h-1v-1h-1v-1h-2v-1h-1v5h-1v-4h-1v-1h-1v1h-1v-2h-1v-5h-1v2h-1v-2h-1v-1h-2v2h-2v2h-1v3h-1v1h-3v1h-1v1h-2v2h-1v2h-1v2h-2v-2h-1v1h-2v2h-1v2h-1v2h-1v3h-2v2h-1v1h-1v1h-1v1h-1v2h-1v3h-2v7h-1v1h-1v-1h-1v8h-1v-1h-1v1h-1v4h-1v3h-1v1h-1v4h-1v4h-2v8h-1v5h-1v1h-1v9h-1v-4h-1v-2h-1v7h-1v4h-1v2h-1v3h-1v1h-1v7h-1v-2h-1v-2h-2v1h-2v1h-1v2h-1v1h-2v6h-1v-2h-1v-1h-1v-2h-1v2h-1v-2h-1v-2h-2v-1h-1v-1h-1v-1h-1v-1h-1v-1h-2v-1h-1v5h-1v-7h-1v1h-1v-4h-1v-2h-3v-1h-1v-5h-1v2h-2v-1h-1v-2h-1v5h-1v-7h-2v-3h-1v-4h-1v1h-1v-3h-1v-1h-1v-3h-1v-1h-1v3h-1v-5h-2v-1h-1v-1h-1v5h-1v-3h-1v5h-1v-1h-1v-5h-1v-1h-1v3h-1v1h-1v-8h-1v-1h-1v4h-1v-2h-1v-5h-1v-2h-1v-1h-1v5h-1v-6h-1v-1h-1v-1h-3v5h-1v-4h-3v5h-1v1h-1v-6h-1v5h-1v-7h-2v-2h-1v-1h-1v-1h-1v-2h-1v-1h-2v-4h-1v-1h-1v-3h-1v-2h-1v-2h-1v2h-1v-6h-1v2h-1v-5h-1v-2h-1v-1h-1v6h-1v-2h-1v-7h-1v6h-1v-7h-1v-2h-1v-2h-1v1h-2v-2h-2v3h-1v3h-1v-9h-1v2h-1v3h-1v-6h-1v-1h-3v1h-1v-4h-1v-9h-1v-4h-1v-3h-1v2h-1v-9h-1v-3h-1v4h-1v-4h-1v-1h-2v-1h-1v1h-1v2h-1v-1h-1v2h-1v1h-1v9h-1v-5h-1v6h-1v-5h-1v6h-1v-4h-1v1h-3v6h-1v-5h-2v2h-2v3h-2v6h-1v-1h-1v2h-1v2h-1v2h-1v2h-1v2h-1v1h-1v2h-1v7h-1v-4h-2v9h-1v1h-1v-4h-1v3h-1v-1h-1v3h-1v3h-1v5h-1v1h-1v1h-1v3h-1v2h-1v6h-1v4h-1v-2h-1v3h-1v3h-1v1h-1v1h-1v-1h-1v-1h-1v-1h-1v1h-1v4h-1v-6h-1v-2h-1v-2h-1v-2h-1v2h-1v-7h-1v-3h-1v2h-1v-6h-1v-3h-1v-8h-1v-3h-1v-2h-1v-2h-1v-3h-1v-1h-1v-2h-1v-3h-1v5h-1v-1h-1v-7h-2v-1h-1v-1h-1v-1h-1v-2h-1v-3h-1v-1h-1v-3h-1v2h-1v-4h-1v-2h-1v5h-1v-3h-1v2h-1v-1h-1v1h-3v2h-2v5h-2v-7h-1v3h-1v-3h-2v-4h-1v2h-1v-1h-1v-1h-1v-2h-1v-1h-1v1h-2v1h-1v-2h-2v2h-3v2h-1v-1h-2v2h-1v7h-1v2h-1v1h-1v-6h-2v4h-1v2h-1v-6h-2v1h-1v4h-1v-9h-1v-1h-2v7h-1v-8h-1v-1h-1v5h-1v-5h-1v5h-1v-4h-1v-3h-2v-1h-1v1h-1v2h-1v2h-1v1h-1v2h-1v2h-1v5h-1v-2h-1v-1h-1v6h-1v-3h-1v2h-1v1h-1v2h-2v6h-1v-4h-1v2h-1v1h-1v3h-1v5h-1v8h-1v-7h-1v9h-1v4h-1v3h-1v1h-1v8h-1v-1h-1v1h-1v3h-1v3h-1v2h-1v5h-1v2h-1v2h-1v5h-1v4h-1v7h-1v-3h-1v2h-1v4h-2v6h-1v-2h-1v1h-1v2h-1v2h-1v1h-1v3h-1v10h-1v-5h-1v-1h-1v11h-1v-5h-3v3h-1v-5h-1v-1h-2v2h-1v3h-1v-4h-2v7h-1v-7h-1v-1h-1v-3h-1v4h-1v-5h-1v-2h-1v-3h-1v6h-1v-7h-1v2h-2v-4h-1v5h-1v-1h-1v-8h-1v-1h-1v-3h-1v-1h-1v3h-1v1h-1v-3h-1v-6h-2v-1h-1v-4h-1v6h-1v-4h-1v-2h-2v-2h-3v3h-1v-6h-1v-2h-1v-1h-2v-2h-1v3h-1v-6h-1v-2h-2v-3h-1v-1h-2v5h-1v-8h-1v-1h-1v-2h-1v-1h-1v-3h-1v-1h-1v-2h-1v-3h-1v-3h-1v-2h-1v-1h-1v-3h-1v-2h-1v-2h-1v-3h-1v3h-1v-9h-1v3h-1v-12h-1v1h-1v-1h-1v-2h-2v-1h-2v-1h-1v7h-1v-7h-3v2h-1v-1h-1v-1h-1v-3h-1v1h-1v-2h-2v-1h-1v-5h-1v8h-1v-2h-1v-3h-1v-8h-1v-1h-1v-3h-2v1h-1v-3h-1v4h-1v2h-1v-1h-1v2h-1v1h-1v-1h-1v5h-1v-4h-2v2h-1v1h-1v3h-1v-2h-1v8h-1v-7h-1v2h-2v2h-1v4h-1v6h-1v-2h-1v-3h-2v5h-1v-4h-1v-1h-1v2h-3v1h-1v1h-1v10h-1v-6h-1v1h-1v2h-1v2h-1v2h-1v3h-1v8h-1v-5h-1v2h-1v2h-1v2h-1v1h-1v-1h-1v1h-1v1h-1v1h-1v1h-1v-2h-1v2h-1v1h-3v3h-1v1h-1v2h-1v4h-1v-2h-1v7h-1v-5h-1v6h-1v-2h-1v7h-2v4h-1v4h-1v9h-1v-4h-1v3h-1v3h-1v1h-1v9h-1v-4h-1v2h-1v3h-1v1h-1v2h-1v7h-1v-2h-1v1h-1v2h-1v-1h-1v8h-1v3h-1v-8h-1v-1h-1v2h-1v-5h-1v-4h-1v3h-1v-10h-1v-3h-1v3h-1v1h-1v1h-1v5h-1v1h-1v-1h-1v3h-2v2h-1v1h-1v2h-1v3h-1v-2h-1v7h-1v-4h-1v6h-1v-6h-1v2h-1v5h-1v-2h-1v-7h-1v-3h-1v-2h-1v-1h-1v4h-1v-4h-1v-1h-1v-8h-1v-2h-1v-1h-1v-5h-1v-3h-1v-2h-2v-4h-1v-4h-1v-2h-1v-3h-2v-4h-1v2h-1v-9h-1v-4h-1v-4h-1v-4h-1v-4h-1v-3h-1v-2h-1v2h-1v-6h-1v-1h-1v-4h-1v-3h-1v-1h-1v-1h-1v-1h-1v-2h-2.5ZM658.5 896h1.5v414h-1.5ZM668 890h1v438h-1ZM684.5 886h1v451h-1ZM702 889h1.5v429h-1.5ZM709.5 889h1.5v416h-1.5Z"/></clipPath>
<g clip-path="url(#clipB)" stroke="#000" stroke-width="2.2" stroke-linejoin="round">
<rect x="180" y="877.6" width="2011.6" height="560.9" fill="#052a45" stroke="none"/>
<path d="M160 848h598v103h2v11h2v4h2v7h2v14h2v8h2v7h2v-8h2v-17h2v-26h2v-18h2v-14h2v39h2v15h2v6h2v4h2v6h2v7h2v14h2v-6h2v-16h2v-87h2v4h2v105h2v-22h2v27h2v3h2v-12h2v-10h2v-6h2v-1h2v11h2v20h2v30h2v-21h2v-6h2v17h2v23h2v-34h2v-10h2v12h2v-13h2v-4h2v16h2v28h2v29h2v58h2v-75h2v-38h2v-14h2v15h2v36h2v8h2v16h2v-27h2v-38h2v-1h2v1h2v-4h2v-26h2v8h2v38h2v11h2v9h2v12h2v23h2v-16h2v-6h2v-25h2v1h2v8h2v3h2v9h2v8h2v17h2v6h2v-17h2v21h2v15h2v2h2v16h2v-20h2v20h2v5h2v2h2v2h2v1h2v12h2v14h2v14h2v-9h2v-13h2v10h2v-23h4v8h2v11h2v-4h2v-5h2v-20h2v-4h2v-26h2v9h2v-14h2v-6h2v-22h2v37h2v-38h2v-5h2v-38h2v-67h2v-49h2v140h2v30h2v6h2v25h2v17h2v1h2v-4h2v1h2v3h2v-16h2v4h2v-146h2v111h2v12h2v-5h2v3h2v7h2v-17h2v31h2v6h2v15h2v3h2v11h2v-23h2v-46h2v-2h2v-2h2v35h2v29h2v38h2v9h2v-5h2v5h2v12h2v2h2v15h2v8h2v-3h2v-41h2v-14h2v-14h2v5h2v4h2v-9h2v2h2v-3h2v11h2v-7h2v-6h2v22h2v15h2v8h2v-1h2v-8h2v20h2v-18h2v1h2v-1h2v1h2v-7h2v6h2v4h2v-4h2v5h2v-2h2v-2h2v3h2v19h2v-10h2v14h2v-1h2v4h2v-5h2v7h2v7h2v-8h2v14h2v-17h2v-2h2v-19h2v-4h2v-13h2v-9h2v3h2v-7h2v14h2v-19h2v20h2v-23h2v21h2v-8h2v-21h2v9h2v12h2v8h2v9h2v1h2v-14h2v23h2v4h2v22h2v-23h2v23h2v18h2v-7h2v-12h2v-9h2v11h2v-15h2v3h2v-16h2v24h2v-16h2v-1h2v-6h2v-19h2v14h2v-3h2v1h2v16h2v4h2v1h2v7h2v-27h2v17h2v-18h2v1h2v-8h2v-3h2v-7h2v-1h2v10h2v1h2v-4h4v13h2v-23h2v-4h2v5h2v2h2v-12h2v11h2v12h2v10h2v7h2v8h2v4h2v-6h2v-3h2v20h2v17h2v-19h2v-17h2v-18h2v-3h2v6h4v-2h2v-6h2v-1h2v15h2v-6h2v14h2v-12h2v14h2v-3h2v-4h2v-2h2v-15h2v-3h4v1h2v2h2v-4h2v-7h2v-14h2v-5h2v-1h2v6h2v12h2v5h2v10h2v9h2v5h2v7h2v1h2v4h2v-10h2v21h2v-7h2v25h2v6h2v-1h4v-12h2v1h2v-8h2v20h2v-24h2v-24h2v10h2v-2h2v-9h2v-4h2v-6h2v15h2v3h2v1h2v-21h2v14h2v-9h2v11h2v3h2v-5h4v-3h2v-7h6v1h2v3h2v-12h2v23h2v-1h2v-7h2v-1h2v-3h2v-19h2v11h2v-19h2v8h2v-8h4v-9h2v-22h2v5h2v28h2v-17h2v6h2v4h2v-4h2v-2h2v5h4v-9h2v-19h2v25h2v7h2v5h2v1h2v-4h2v14h2v-15h2v2h2v-15h2v16h2v-2h2v-16h2v19h2v3h2v-1h4v-1h2v-20h2v4h2v-2h2v-11h4v-6h2v-8h2v23h2v-2h2v-2h2v8h2v-16h2v28h2v4h2v-29h2v-23h2v-3h2v12h2v3h2v4h2v17h2v-6h2v-24h2v36h2v4h2v12h2v-6h2v-3h2v-10h2v18h2v8h2v-28h2v-17h2v16h2v10h2v3h2v3h2v15h2v-22h2v-9h2v17h2v-4h2v-15h2v-5h2v-7h2v-7h2v1h2v50h2v-8h2v-14h2v8h2v-7h2v4h2v-28h2v11h2v-12h2v20h2v-1h2v-19h2v34h2v-10h2v9h2v-18h2v-41h2v18h2v36h2v11h2v5h2v-7h2v2h2v-18h2v21h2v-4h2v7h4v10h2v-3h2v-2h2v-18h2v13h2v-4h2v-2h2v-20h2v10h2v-10h2v21h2v-9h2v-24h2v30h2v8h2v5h2v1h2v1h2v4h2v-5h2v-6h2v-1h2v-13h2v7h2v-22h2v16h2v11h2v-5h2v-26h2v4h2v-17h2v4h2v-11h2v5h2v30h2v-27h2v-8h2v7h2v3h2v-1h2v-19h2v20h2v-6h2v-11h2v15h2v7h2v-10h2v-2h2v1h2v3h2v16h2v-8h2v4h2v-3h2v-6h2v15h2v16h2v-11h2v-4h2v28h2v-17h2v-1h2v4h2v11h2v4h2v-26h2v11h2v1h2v-6h2v-4h2v-2h2v12h2v-17h2v7h2v19h2v-2h2v2h4v7h2v1h2v-9h2v22h2v2h2v7h2v-4h2v-30h2v-13h2v26h4v-31h2v-28h2v25h2v-5h4v-21h2v13h2v-4h2v-2h2v-20h2v-5h2v-12h2v-16h2v14h2v4h2v-17h2v37h2v5h2v3h2v4h2v5h4v28h2v-36h2v12h2v11h2v2h2v3h2v-18h2v12h2v-19h4v6h2v-24h2v18h2v3h2v26h2v2h2v-33h2v22h2v-8h2v30h2v3h2v-4h2v-6h2v12h2v22h2v-60h2v31h2v17h2v-7h2v-26h2v26h2v-4h2v-7h2v-18h2v2h2v-4h2v7h2v-24h2v-6h2v24h2v-60h2v49h2v-2h2v13h2v6h2v-33h2v23h2v-12h2v22h2v-11h2v21h2v8h2v-52h2v14h2v4h2v9h2v-10h2v15h2v-29h2v7h2v10h2v15h2v21h2v-13h2v14h2v23h2v-42h2v21h2v-5h2v-24h2v1h2v-2h2v12h2v-11h2v8h2v-5h2v-4h2v-9h2v-7h2v13h2v-10h2v-13h2v10h2v-6h2v-29h2v52h2v-23h2v7h2v-8h2v33h2v-9h2v-3h2v-1h2v-24h2v24h2v-21h2v28h2v-26h2v20h2v-9h2v15h2v-3h2v-9h2v9h2v9h2v-11h2v-17h2v28h2v3h2v-6h2v12h2v4h2v-38h2v7h2v3h2v8h2v-3h2v-5h2v-8h4v-40h2v45h2v-24h2v8h2v5h2v3h4v-6h4v-13h2v11h2v9h2v-3h2v3h2v4h2v16h2v-9h2v-6h2v13h2v2h2v-4h2v-19h2v27h2v-25h2v26h2v-5h2v-12h2v-7h2v27h2v6h2v-2h2v-1h2v-3h2v-5h2v-3h2v-5h2v15h19.5v304.5h-2051.5Z" fill="#2b3595"/>
<path d="M160 848h540v71h2v221h2v-14h2v9h2v-1h2v1h2v1h2v7h2v5h2v-1h2v5h2v4h2v8h2v-20h2v-13h2v7h2v36h2v-6h2v-13h2v15h2v12h2v-3h2v4h2v-6h2v4h2v8h2v1h2v-3h2v5h2v-36h2v-32h2v54h2v-40h2v14h2v17h2v-47h2v-17h2v15h2v51h2v-2h2v3h4v6h2v-16h2v27h2v-21h2v-16h2v-42h2v-40h4v35h2v4h2v12h2v16h2v10h2v-9h2v28h2v-7h2v-16h2v-15h2v-1h2v4h2v-3h2v20h2v28h2v-20h2v-1h2v-15h2v-15h2v5h2v-56h2v53h2v23h2v58h2v19h2v6h2v-26h2v-14h2v-44h2v-33h2v-4h2v94h2v23h2v-38h2v-5h2v29h2v25h2v9h2v-6h2v-15h2v-10h2v-5h2v-9h2v-9h2v14h2v-11h2v-10h2v-17h2v-8h2v8h2v7h2v2h2v-58h2v15h2v19h2v9h4v13h2v4h2v24h2v-26h2v-8h2v18h2v-4h2v-10h2v19h2v14h2v3h2v-5h2v12h2v-21h2v22h2v5h2v8h2v-16h2v6h2v-9h2v-7h2v-14h2v-8h2v-40h2v22h2v10h2v-47h2v-11h2v1h2v-18h2v-11h2v-2h2v15h2v1h2v33h2v7h2v22h2v18h2v7h2v-4h2v4h4v-12h2v3h2v7h2v-23h2v-15h2v-22h2v26h2v16h2v-1h2v-15h2v13h2v7h2v1h2v2h2v-2h2v-8h2v11h2v-9h4v11h2v-4h2v30h2v12h4v10h2v7h2v-2h2v4h2v-3h2v-3h2v-22h2v-14h2v-9h2v2h2v6h2v-4h2v-22h2v19h2v-15h2v24h2v-14h2v25h2v-1h2v15h2v-1h2v-13h2v14h2v-13h2v18h2v-6h2v16h2v-15h2v9h2v-2h2v19h2v-16h2v3h2v4h2v2h2v-4h2v7h2v-2h2v4h2v-4h2v-3h2v-9h2v7h2v-8h2v14h2v-14h2v-2h2v-9h2v-6h2v2h2v-31h2v14h2v7h2v-3h2v6h2v-10h2v-4h2v6h2v-4h2v-1h2v8h2v4h2v-13h2v36h2v-15h2v6h2v6h2v3h2v4h4v15h2v3h2v1h2v5h4v-5h2v5h2v-2h2v-1h2v-11h2v-1h2v-1h2v-2h2v-4h2v32h2v-15h2v3h2v5h2v-21h2v-3h2v-3h2v7h2v-9h2v-3h2v-14h2v5h2v-4h2v-6h2v-2h2v-4h2v-2h2v2h2v5h2v1h2v2h2v1h4v-2h2v-1h2v-2h2v4h2v11h2v6h2v6h2v4h2v-1h2v3h2v9h2v1h2v-16h2v-7h2v-5h2v-12h2v2h2v3h2v-2h2v-3h2v-3h2v11h2v6h4v-1h2v3h2v1h2v-2h2v-2h2v-12h2v3h2v-6h2v3h2v-2h2v-22h2v5h2v-15h2v3h2v6h2v-16h2v26h2v-1h2v4h2v6h2v8h2v10h2v-1h2v10h2v3h2v3h2v8h2v3h2v7h2v1h2v-2h2v-4h2v-1h2v-11h2v15h2v-22h2v-3h2v-6h4v-7h2v1h2v-20h2v13h2v14h2v-10h2v-17h2v15h2v7h2v-1h4v-11h2v13h2v-8h4v17h2v-24h2v-3h2v16h2v1h2v-6h2v1h4v-2h2v-6h4v-10h2v-13h4v-2h2v10h2v-8h2v-10h2v-10h2v15h2v-4h2v-2h2v4h2v-5h2v2h2v-1h2v1h2v-9h2v17h4v6h2v24h4v-29h2v5h2v-9h2v6h2v5h2v-1h2v3h2v-3h2v4h2v-1h4v1h2v10h2v-24h2v-12h2v16h2v-1h2v-18h2v10h2v-11h2v21h2v3h4v-21h2v7h2v1h2v4h2v-19h2v-3h2v-1h2v-20h2v24h2v3h2v2h2v-1h2v-1h2v9h2v2h2v16h2v21h2v-18h2v-29h2v17h2v12h2v-21h2v13h2v-6h2v4h2v9h2v-6h2v19h2v-6h2v-18h2v3h2v-4h2v-8h2v-19h2v-7h2v9h2v9h2v26h2v-8h2v-10h2v4h2v-2h2v-1h2v-5h2v2h2v4h2v5h2v4h2v-32h2v34h2v-17h2v9h2v-12h2v26h2v-1h2v10h4v-12h2v11h2v7h2v-19h2v11h2v-16h2v32h2v4h2v-4h2v-1h2v13h2v-26h2v10h2v-9h2v-4h4v-6h2v-16h2v16h2v6h2v1h2v-6h2v8h2v-6h2v1h2v1h2v12h2v-7h2v-4h2v-5h2v20h2v-23h2v-3h2v46h2v-25h2v7h2v-46h2v9h2v-9h2v3h2v-3h2v-1h2v4h2v-23h2v-3h2v-2h2v14h2v-12h2v7h2v-2h2v-2h4v-4h2v13h2v-1h2v-3h2v-8h2v17h2v11h2v-8h2v-4h2v10h2v-6h2v7h2v5h4v29h4v-33h2v22h2v-1h2v-1h2v13h2v-25h2v17h2v2h2v-4h2v-3h2v-1h2v9h4v-25h2v27h2v-2h2v7h2v-1h2v1h2v42h2v-53h2v25h2v-2h2v-4h2v-4h2v-16h2v1h2v-2h2v4h2v-14h4v-8h2v-6h2v-15h2v7h2v11h2v-17h2v4h2v-10h2v-14h2v3h2v-10h2v26h4v-9h2v-10h2v11h2v6h2v-15h2v14h2v-9h2v34h2v-9h4v-5h4v13h2v-24h2v18h2v4h2v-2h2v8h2v1h2v4h2v5h2v-23h2v26h2v25h4v-3h2v1h2v1h2v-3h2v5h2v-8h2v5h2v-15h2v3h2v15h2v-20h2v-1h2v4h2v-3h2v-7h2v-23h2v34h2v-21h2v1h2v-2h4v3h2v-8h2v4h2v1h2v14h2v2h2v-14h2v-29h2v14h2v4h2v-5h2v17h2v-2h2v-16h2v2h2v10h2v3h2v-7h2v43h2v-19h2v1h2v-14h2v-7h2v28h2v-12h2v-1h2v17h2v3h2v-6h2v-11h2v-3h2v-32h2v23h2v-7h2v-3h2v3h2v2h2v-5h2v-16h2v15h2v-6h2v5h2v-4h2v-4h2v-21h2v18h2v4h2v-10h2v-11h2v7h2v18h2v3h2v3h2v-7h2v2h2v17h2v3h2v5h2v6h2v-17h2v24h2v-2h2v1h2v-7h4v-11h2v-9h2v6h2v2h2v-13h2v13h2v12h2v7h2v-14h2v-12h2v-4h2v5h2v-7h2v-3h2v-16h2v12h2v-48h2v80h2v-31h2v18h2v-24h2v4h2v6h2v-4h2v-7h2v6h2v-7h2v7h4v-10h2v17h2v12h2v-31h2v19h2v8h4v3h2v-7h2v-4h2v5h2v7h2v2h2v-9h2v4h2v2h4v-2h2v1h2v-13h2v23h2v-4h2v-1h2v4h19.5v284.5h-2051.5Z" fill="#604097"/>
<path d="M160 1061h22v-3h2v-1h2v-19h2v1h2v-14h2v-30h2v-8h2v-5h2v-11h2v-16h2v-107h12v52h2v183h2v-26h2v-82h2v-127h86v124h2v45h2v17h2v8h2v4h2v3h2v4h2v16h2v-9h2v-10h2v-19h2v2h2v22h2v24h2v-10h2v-6h2v-1h2v35h2v60h2v11h2v3h2v-3h2v9h2v-4h2v-5h2v-2h2v3h2v5h2v-7h2v1h2v-4h2v-8h2v-11h2v-10h2v-30h2v-26h2v-28h2v-27h2v-20h2v-156h12v65h2v103h2v21h2v17h2v25h2v25h2v23h2v28h2v23h2v26h2v13h2v7h4v5h2v-1h2v-2h4v-5h2v-1h2v-6h2v-5h2v-2h2v-4h2v-4h2v-1h2v-3h2v-6h2v-6h2v2h2v3h2v-2h2v5h2v-5h2v-2h2v-1h2v-7h2v3h2v-2h2v1h2v-2h4v5h2v4h2v4h2v4h2v4h2v6h2v3h2v2h2v7h2v-3h2v4h2v9h2v2h2v5h2v3h2v2h2v-5h4v-2h2v-7h2v-2h2v-2h2v-2h2v-4h2v-4h2v-4h2v-4h2v-2h2v-5h2v-2h2v-6h2v10h2v7h2v6h2v1h2v1h2v-1h2v-3h4v-10h2v-9h2v-11h2v-9h2v-13h2v-6h2v-5h2v20h2v17h2v19h2v2h2v7h2v3h2v-3h2v-5h2v-4h2v-6h2v-7h2v-1h2v4h2v2h2v2h2v1h2v6h2v2h2v-1h2v5h2v-2h2v2h4v-4h2v-5h2v-4h2v1h2v2h2v-11h2v2h2v-6h4v-5h2v-5h2v-5h2v-2h2v22h2v-24h2v5h2v4h2v1h2v-5h2v13h2v-7h2v-20h2v3h2v21h2v-2h2v9h2v-4h2v1h2v-1h2v-20h2v19h2v-14h2v3h2v1h2v18h2v1h2v-9h2v5h2v-18h2v-1h2v23h2v14h2v-16h2v-1h2v-7h2v13h2v7h2v-5h2v-6h2v2h2v-25h2v29h2v2h2v15h2v-6h2v-3h2v-8h2v3h2v-4h2v-3h2v3h2v3h2v-7h2v7h2v-2h2v3h2v-1h2v-1h2v-3h2v5h2v2h2v-6h2v7h2v4h4v3h2v7h2v-1h4v-6h2v-8h2v-2h2v-8h2v-5h2v-14h2v19h2v-4h2v-14h2v3h2v-1h2v1h2v5h2v-8h2v-11h2v8h2v-1h2v10h2v3h2v-3h2v-2h2v-1h2v-9h2v18h2v-9h2v6h2v-3h4v-1h2v6h2v-1h2v8h2v14h2v13h2v15h2v14h2v-4h2v-6h2v37h2v-22h2v-18h2v-5h2v22h2v11h2v19h2v13h2v-23h2v-9h2v-9h4v-7h2v-16h2v-10h2v22h2v-1h4v-4h2v-11h2v2h2v-5h2v2h2v-1h2v-2h2v-9h2v5h2v-9h2v-3h2v-10h2v11h2v1h2v-10h2v10h2v-10h2v5h2v12h2v6h2v-4h2v6h2v9h2v7h2v6h2v-2h2v8h2v5h2v3h2v-10h2v-2h2v10h2v-3h2v-4h2v-17h2v-18h2v-16h2v13h2v-8h4v-1h2v-2h2v11h2v17h2v2h2v-16h2v7h2v-6h2v-2h2v-9h2v3h2v4h2v-13h2v1h2v10h2v-7h2v-18h2v7h2v-12h2v28h2v-1h2v-1h2v7h2v1h2v-3h6v3h4v-4h2v2h2v-5h2v-2h2v3h2v4h2v7h2v11h2v16h2v4h2v2h2v11h2v10h2v3h2v9h2v7h2v20h2v9h2v-14h2v9h2v-2h2v-6h2v10h2v-3h2v1h2v-40h2v-18h2v-9h2v-8h2v-2h4v-3h4v2h4v-3h2v5h2v-9h2v15h2v3h2v2h2v-5h2v5h2v3h2v2h2v4h2v-4h2v4h2v-3h6v-4h2v-8h2v1h4v-4h2v2h2v-13h2v2h2v-4h2v-6h2v-3h2v-1h2v3h4v-6h2v-3h4v-6h2v2h2v3h2v-3h2v9h2v14h2v-7h2v1h2v10h2v4h2v10h2v4h2v16h2v-16h2v1h2v12h2v3h2v-11h2v11h4v-2h2v-3h2v-1h2v4h2v-5h2v19h2v2h2v-18h2v-4h2v1h2v-6h2v-3h2v-7h2v-4h2v-5h2v-1h2v-4h2v-4h2v-3h2v-1h4v-7h2v4h2v-3h2v7h2v-1h2v-2h2v-1h2v-1h2v-8h2v15h2v-13h2v13h2v13h2v-4h2v7h2v4h2v-1h2v8h2v2h2v-4h2v-6h2v-5h2v-2h2v-5h2v-8h2v1h2v-6h2v-3h2v-3h2v16h2v9h2v-10h2v7h2v-4h2v1h2v11h2v-9h2v-9h2v-1h2v-5h2v-3h2v-5h4v-6h2v-1h2v-2h4v-1h2v10h4v4h2v4h2v5h2v5h2v11h4v1h2v11h2v4h2v1h2v1h4v1h2v-5h2v-3h4v3h2v-9h2v-1h2v-4h2v-5h2v-7h2v3h2v-8h2v7h2v10h2v-2h2v-5h2v-8h2v6h2v-2h2v-3h2v1h2v8h2v-11h2v-3h2v8h2v-8h2v4h2v6h2v-4h2v-4h2v2h2v-2h2v-1h2v-9h2v-3h2v-4h2v-17h2v2h2v2h2v-2h2v-2h2v-16h2v-10h2v15h2v-4h2v10h2v-1h2v-3h2v3h2v-5h2v6h2v-4h2v22h2v-7h2v1h2v15h4v-20h2v3h2v2h2v-12h2v22h2v-9h2v-6h2v-3h2v5h2v6h2v4h2v6h2v-5h2v-6h2v-2h2v5h2v-3h2v-5h2v6h2v-12h2v8h2v4h2v2h2v-18h2v12h2v-22h2v4h2v9h2v11h2v-1h2v-4h2v-2h2v-1h2v21h2v1h2v-34h2v30h2v-14h2v23h2v-2h2v-3h4v2h2v2h2v-37h2v22h2v-2h2v11h2v1h2v-1h2v-3h2v-9h2v-9h2v-1h2v3h2v-14h2v9h2v-2h4v-4h2v13h2v-12h2v-4h2v17h2v-21h2v14h2v12h2v-8h2v3h2v3h2v-4h2v8h2v8h2v4h2v-4h2v25h2v-15h2v21h2v4h2v2h2v11h2v14h2v-22h2v-6h2v-21h2v7h2v-16h2v19h2v-5h2v-4h2v4h2v-16h2v4h2v16h2v-29h2v3h2v-3h2v5h2v-4h4v-3h2v-1h2v14h2v-1h4v8h4v-13h2v-2h2v-1h2v9h2v-13h2v-3h2v34h2v-25h2v7h2v-34h2v1h2v4h2v4h2v-6h2v-9h2v2h2v6h2v-37h2v9h2v17h4v-3h2v-12h2v14h2v-2h2v2h2v2h2v5h2v-17h2v-10h2v12h2v17h2v-4h2v1h2v9h2v-1h2v3h2v5h2v-12h2v26h4v-15h2v15h2v-8h2v8h2v30h2v-40h2v20h4v-3h2v2h2v-2h2v3h2v-6h2v-8h2v9h2v20h2v9h2v-11h2v-14h2v35h2v-28h2v14h2v2h2v-18h2v3h2v7h2v-25h2v-2h2v-4h2v8h2v-2h2v-4h2v-3h2v-8h2v-10h2v9h2v-3h2v-3h2v-32h2v-10h2v25h2v16h2v-4h2v-11h2v2h2v5h2v3h2v-3h2v8h2v2h2v-9h2v45h2v-33h2v-2h2v4h2v-2h4v-13h2v18h2v-4h2v6h2v5h4v-1h2v12h2v3h2v5h2v1h4v20h2v-4h4v5h2v-8h2v-7h2v-2h2v-6h2v-4h2v7h2v9h2v-16h2v1h2v-8h2v-1h2v-2h2v1h2v-5h2v-4h2v9h2v-3h2v-3h4v2h2v5h2v8h2v-7h2v-20h2v-1h2v-3h2v12h2v-8h2v19h2v11h2v-24h2v-1h2v19h2v-4h2v-1h2v13h2v-16h2v-2h2v8h2v-10h2v21h2v-11h2v1h2v2h2v3h2v-6h2v-11h2v-3h2v3h2v4h2v-5h2v-10h2v3h2v1h2v-2h2v-16h2v12h2v2h2v1h2v-1h2v-10h2v6h2v5h2v5h2v-2h2v-13h2v2h2v36h2v-8h2v1h2v-3h2v3h2v14h2v2h2v16h2v2h2v9h2v2h2v4h2v-3h2v-10h2v-6h2v-8h2v2h2v1h2v-10h2v-2h2v-15h2v30h2v-4h2v-5h2v-11h2v-14h2v1h2v-2h4v-21h2v11h4v10h2v-23h2v18h2v-10h2v-1h2v14h2v-2h2v-3h4v-6h2v3h2v-9h2v15h2v2h2v9h2v-9h4v-3h2v-5h2v17h2v-3h2v-6h2v-5h2v7h2v1h2v-21h2v29h2v-4h2v-3h2v-2h2v2h2v-2h2v3h2v-3h2v-4h2v-1h19.5v283.5h-2051.5Z" fill="#8a528e"/>
<path d="M160 1138h22v-5h2v4h2v3h4v3h2v-13h2v24h2v5h2v10h2v6h2v-2h2v-4h2v-3h2v-7h2v-6h2v9h2v2h2v1h2v-2h2v4h2v9h2v6h2v9h2v3h2v2h2v6h2v3h4v-8h2v-14h2v-10h2v-5h2v1h2v-2h2v-8h2v-2h2v-10h2v-6h2v8h2v6h2v-7h2v-6h2v-4h4v-3h2v7h2v5h2v-2h2v1h2v-4h2v-1h2v4h2v3h2v5h2v9h2v7h4v15h2v10h2v1h2v-4h2v8h2v4h6v-1h2v-4h2v-2h2v-2h2v-3h2v-2h2v-7h2v-3h2v-2h2v2h2v7h2v-8h2v-5h2v5h2v-2h2v10h2v-1h2v5h2v-3h2v5h2v3h2v-2h2v-3h2v-8h2v2h2v1h2v1h2v6h2v7h2v4h2v3h2v4h2v7h2v-4h4v3h2v-1h2v-1h2v-1h2v-2h2v-3h6v-2h2v1h2v1h2v4h4v4h2v-3h2v1h4v3h2v5h2v3h2v8h2v1h2v-2h2v-2h2v-2h2v-5h4v-3h2v-5h2v-6h2v-2h2v-3h4v-5h2v-10h2v-1h2v5h2v-1h2v4h2v-3h2v-1h2v-3h2v4h2v-7h2v-7h2v2h2v-1h4v4h2v1h2v3h2v7h2v4h2v3h2v5h2v5h2v-2h2v12h2v-6h2v7h2v3h2v7h2v2h2v2h2v4h2v-2h2v-5h2v-1h2v-5h2v-3h2v2h2v-8h2v-1h2v-3h2v-3h2v-5h2v-3h2v-7h2v2h4v5h2v2h2v7h2v-3h2v8h2v-5h2v-3h2v-3h2v-3h2v-8h2v-10h2v-4h2v-3h2v-2h2v3h2v-2h2v19h2v8h2v3h2v6h2v4h2v-4h2v-1h2v-6h2v-10h2v-1h2v-2h2v3h2v3h2v-1h2v3h2v1h2v4h2v3h2v1h2v-1h2v-1h2v-2h2v-2h2v1h2v-6h2v-2h2v-1h2v-3h2v-1h2v-5h2v-1h2v1h2v-13h2v-8h2v-1h2v21h2v-13h2v-6h2v4h2v1h2v-2h2v10h2v-7h2v10h2v-5h2v-1h2v-1h2v8h2v-3h2v8h2v-1h2v-19h2v11h2v-10h2v2h2v-1h2v23h2v-6h2v3h2v-5h2v-4h2v5h2v1h2v14h2v-16h2v4h2v8h2v-7h2v7h2v-5h2v13h2v-10h2v11h2v6h2v-4h2v1h2v-6h2v-3h2v-2h2v-1h2v2h2v-5h2v5h2v-3h2v-2h2v5h2v-4h2v1h2v-1h2v-2h2v2h2v2h2v1h2v8h2v-1h2v-1h2v4h2v1h2v14h2v-8h2v-2h2v4h2v-10h2v-6h4v-11h2v-22h2v19h2v-4h2v3h2v-3h2v7h2v-13h2v3h2v-2h2v3h2v3h2v14h2v1h2v-17h2v-1h4v10h2v-14h2v8h2v-4h2v-3h2v14h2v-1h2v-5h4v-7h2v13h2v9h2v18h2v16h2v25h2v-21h2v3h2v28h2v-16h2v-17h2v-2h2v61h2v-29h2v16h2v7h2v-20h2v-8h2v-5h2v2h2v-5h2v-1h2v-1h2v-2h2v-6h2v-1h2v1h2v-18h2v23h2v-13h2v-4h2v-10h4v-7h2v27h2v-7h2v-3h2v-17h2v5h2v3h2v-11h2v2h2v-3h2v-12h2v12h2v10h2v5h2v3h2v7h2v2h2v13h2v2h2v8h2v1h2v6h2v-9h2v-5h2v11h2v-8h2v-2h2v-10h2v-4h2v-18h2v11h2v-5h2v1h2v10h2v3h2v6h2v-11h2v25h2v-17h2v1h2v4h2v-12h2v-2h2v12h2v-1h2v-8h2v17h2v-21h2v11h2v3h2v1h2v-36h2v36h2v-1h2v-1h2v5h2v-2h2v-2h2v-7h2v7h2v-11h2v-3h4v-6h2v-2h2v1h2v8h2v3h2v8h2v-9h2v25h2v5h2v7h4v27h2v2h2v-18h2v17h2v6h2v7h2v-1h2v-3h2v3h2v-3h2v1h2v-1h2v-1h2v-30h2v-12h2v-7h2v-2h2v-1h2v-1h2v-7h2v-15h2v-1h2v20h2v4h2v-1h2v-8h2v20h2v-4h2v15h2v-19h2v10h2v-4h2v4h2v-4h2v2h2v-2h2v-2h2v-7h2v1h2v-3h2v-9h2v-3h2v-1h2v2h2v-3h2v-8h2v4h2v-2h2v-8h2v7h2v-3h2v-16h2v2h2v-7h2v-4h4v-6h2v11h2v5h2v11h2v-8h2v6h2v5h2v-4h2v5h2v14h2v8h2v-6h2v16h2v2h2v3h2v-4h2v1h2v4h2v6h2v1h2v3h2v-5h6v5h2v-3h2v1h2v-7h2v-1h2v-8h2v1h2v-5h2v-10h4v-1h2v1h2v-7h2v-3h2v-4h2v-6h2v-3h2v2h2v2h2v-7h2v10h4v3h4v-1h2v-7h2v1h2v-1h2v8h2v2h2v6h2v6h2v1h2v5h2v3h2v-4h2v6h2v-6h2v-8h4v-4h2v-4h2v-5h2v-5h2v1h2v-5h2v2h2v9h2v-3h2v5h2v-3h2v1h2v5h2v2h2v-7h2v-5h2v1h2v-7h2v-4h4v-1h2v-1h2v-4h2v-8h2v9h2v4h2v5h2v-4h2v10h2v5h2v-9h2v11h4v14h2v1h2v1h2v1h2v7h2v3h2v-3h2v-3h2v-5h2v-1h2v-1h2v-2h2v-8h4v2h2v-1h2v-4h2v-10h2v11h2v-2h2v-2h2v-1h2v2h2v-3h2v4h2v-2h2v1h2v4h2v-8h2v2h2v7h2v-14h2v4h2v-3h2v-1h2v5h2v-8h2v6h2v-2h2v-3h2v-3h2v-12h2v-8h4v7h2v-5h2v-4h2v-1h2v-13h4v13h2v-5h2v5h2v-5h2v4h4v-1h2v3h2v-1h2v4h2v5h6v-7h2v-3h2v5h2v6h2v-5h2v-2h2v-8h2v-9h2v9h2v11h2v6h2v10h2v-20h2v4h2v-1h4v8h2v4h2v-6h2v17h2v-15h2v1h2v12h2v-13h2v-1h2v-1h2v-5h2v-1h2v11h2v5h2v-4h2v2h4v6h2v-2h2v-26h2v12h2v-16h2v39h4v4h2v-4h2v-2h2v-7h2v-2h2v-1h2v3h2v2h2v-4h2v9h2v-26h2v-9h2v49h2v29h2v11h2v-4h2v3h2v-15h2v-21h2v-15h2v3h2v-34h2v-3h2v8h2v-12h2v8h2v-2h2v2h2v3h2v-4h2v7h2v21h2v7h2v13h2v4h2v8h2v22h2v7h2v4h2v3h2v1h2v-3h2v-17h2v-13h2v-8h2v-12h2v-14h2v10h2v-17h2v-4h2v10h2v-22h2v4h2v16h2v-26h2v12h2v-7h2v20h2v-15h2v6h2v-4h2v2h2v29h2v-12h2v-1h2v8h2v-4h2v-13h2v3h2v-8h2v-8h2v16h2v10h2v12h2v20h2v1h2v-24h2v-12h2v-5h2v-3h2v-1h2v3h2v-1h2v7h2v-16h2v6h2v6h2v-3h2v1h2v-24h2v6h2v22h2v3h2v9h2v-7h2v-6h2v2h2v7h2v28h2v-19h2v-6h2v3h2v-2h2v-9h4v-3h2v3h2v20h2v-22h2v-2h2v-11h2v5h2v13h2v-26h2v1h4v-3h2v2h2v17h2v14h2v-10h2v-15h2v20h2v-3h2v2h2v14h2v-15h2v11h2v-15h2v13h2v2h2v-7h2v-8h4v-15h2v1h2v3h2v2h2v1h2v-26h2v4h2v32h2v16h2v9h2v-15h4v-7h2v-1h2v11h2v22h2v2h2v-6h2v10h4v3h4v-3h2v1h2v-21h2v27h2v-16h2v-5h2v6h2v3h2v2h2v-9h2v17h2v5h4v5h2v26h2v-11h2v3h2v1h2v-1h2v2h2v-18h2v-8h2v6h2v-1h2v-24h2v-7h2v-33h2v26h2v-10h2v-13h2v8h4v6h2v-13h2v3h2v7h2v-30h2v25h2v-7h2v7h2v-8h2v1h2v-5h2v9h2v-8h2v-4h2v17h2v-2h2v-13h2v3h6v-9h2v17h2v-2h2v-17h2v1h2v32h2v-19h2v-7h4v-3h2v4h2v-4h2v-22h2v21h2v-5h2v2h2v13h2v-10h2v-3h2v5h2v-12h2v2h2v16h2v1h2v-8h2v-20h2v16h2v-3h2v-10h2v2h2v5h2v-6h2v6h2v-4h2v2h4v6h2v-4h2v-14h2v22h2v10h2v-8h2v-3h4v16h2v19h2v-12h2v13h2v7h2v9h4v6h2v-4h2v-3h2v-2h2v4h2v-12h2v-25h2v26h2v1h2v2h2v13h2v-18h2v6h2v-15h2v-1h2v5h2v-4h2v-2h2v-17h2v7h2v7h2v-12h2v-9h2v21h2v-8h2v-4h4v7h2v-4h2v1h2v-21h2v15h2v-1h2v7h4v6h2v-13h2v-8h2v-10h2v16h2v-1h2v4h2v-3h2v-8h2v12h2v-13h2v-2h2v4h2v12h2v-3h2v1h2v2h2v-3h2v-4h2v-2h2v2h2v-5h19.5v260.5h-2051.5Z" fill="#bd637d"/>
<path d="M160 1173h22v3h2v-5h2v-4h2v4h2v-4h2v9h2v5h2v2h2v4h2v2h2v-1h2v8h2v-4h2v-1h2v2h2v-3h4v-1h2v-5h2v3h2v4h2v3h2v4h2v4h2v3h2v5h2v3h2v-7h2v-4h6v-6h2v6h2v-2h2v-4h2v2h2v-4h2v3h2v-10h2v-2h2v-7h2v-3h2v-9h2v5h2v3h2v9h2v1h2v1h4v2h2v-4h2v-4h2v-5h2v12h2v-2h2v7h2v12h2v-2h2v5h2v3h2v1h2v5h2v-2h2v2h2v-2h2v-3h2v-2h2v-1h2v-6h2v2h4v-7h2v1h2v-18h4v16h2v-1h2v-5h2v-4h2v5h2v-2h2v4h2v4h2v1h2v4h2v-4h2v-4h2v-2h2v8h2v-7h2v4h2v3h2v10h2v2h2v3h4v2h2v3h2v-1h2v-1h2v1h2v2h2v-1h2v-2h4v-5h2v-2h2v-2h2v1h2v-1h4v4h2v5h2v2h2v-6h2v4h2v9h2v-2h2v11h2v1h2v-3h2v2h2v-3h2v6h2v-5h2v-5h4v-5h2v-6h2v-4h2v-1h2v-4h2v-4h2v-4h2v-6h2v-2h2v3h2v3h2v-2h2v-1h2v-3h2v2h2v-1h2v-6h2v-3h2v6h2v-2h2v-3h2v9h6v4h2v6h2v4h2v3h2v1h2v7h2v3h2v-2h2v11h4v5h2v3h2v4h2v2h2v-6h2v2h2v-3h2v-10h2v1h2v-2h2v-4h2v-1h2v-2h2v-2h2v-3h4v-1h2v7h2v-5h2v1h2v3h2v4h2v1h2v-3h4v-1h2v-2h2v-5h2v-3h2v-8h2v3h2v-1h4v-1h2v5h2v-2h2v9h6v9h2v-1h2v-7h2v-3h2v-1h4v1h2v-3h2v2h2v1h2v-3h2v2h2v1h4v5h2v-3h2v2h2v-4h4v-5h2v-2h2v-1h2v-5h2v-7h2v18h2v-19h2v3h2v-8h2v-8h2v-7h2v-7h2v21h2v-13h2v-4h2v8h2v2h2v-2h2v3h2v-7h2v10h2v-2h2v1h2v5h2v-3h2v-3h2v8h2v-1h2v-7h2v3h2v-14h2v10h2v-9h2v23h2v3h2v1h2v-12h2v9h2v-1h4v8h2v-3h2v-2h2v1h4v2h2v-3h2v9h2v-3h2v4h2v6h2v-4h2v1h2v-6h2v-2h2v3h2v-7h2v2h2v-1h2v3h2v6h2v-3h2v-3h2v4h2v-4h2v5h2v2h2v-13h2v2h2v8h2v3h2v6h2v-1h2v1h2v4h2v5h2v3h2v1h4v6h2v4h2v7h2v12h2v19h2v17h2v-23h2v3h2v-7h2v-1h2v2h2v-1h2v-3h2v-7h2v24h2v-3h2v1h2v-1h2v3h2v-8h2v-2h6v-7h2v23h2v-6h2v5h2v-20h2v-11h2v2h2v-6h2v-4h2v-5h2v3h2v17h2v-4h2v-7h2v21h2v-8h2v-21h2v4h2v51h2v-16h2v17h2v-6h2v-21h2v-8h4v-3h2v6h2v-12h2v4h2v-2h2v-2h2v-5h2v-4h2v-6h2v11h2v-10h2v-6h2v7h2v-15h2v-8h2v25h2v-7h2v-3h2v-17h2v11h4v-9h2v5h2v-6h2v-6h2v8h2v11h2v13h4v6h2v2h2v3h2v9h2v10h2v-8h2v8h2v-4h2v-10h2v13h2v4h2v-12h2v-5h2v-15h2v-16h2v57h2v-30h2v8h2v6h4v-5h2v21h2v3h2v-8h2v-4h2v-11h2v3h2v-6h2v-2h2v4h2v9h2v-1h2v2h2v-2h2v1h2v3h2v-1h2v9h2v-9h2v4h2v1h2v-10h2v-1h2v5h2v-9h2v3h2v-3h2v-5h2v10h2v-7h2v5h2v3h2v3h2v-7h2v8h2v11h2v-1h2v7h2v8h2v7h2v4h2v2h2v1h2v8h2v-4h2v1h2v4h4v8h2v-6h2v-1h2v-1h2v-16h2v-4h2v-11h2v-13h2v-1h2v-7h2v3h2v3h4v15h2v5h2v-9h2v-12h2v18h2v1h2v-3h2v-5h2v5h2v-2h2v-6h2v-7h2v4h2v-1h2v2h2v-18h2v11h2v-13h2v5h2v-20h2v-1h2v2h2v11h2v-11h2v2h2v-1h2v-13h2v2h2v-3h2v1h4v-6h2v-14h2v2h2v9h2v-3h2v8h2v-1h2v2h2v8h2v3h2v5h2v7h2v3h4v10h2v5h2v-5h2v6h2v-2h2v7h2v6h2v1h2v11h2v-4h2v-5h2v8h2v-4h2v1h2v3h2v-3h2v-10h2v-11h2v2h4v-3h2v-6h2v-4h2v-1h2v-7h2v-3h2v-6h2v-8h2v-4h2v9h4v-5h2v-2h2v6h2v6h2v1h2v-1h2v-3h4v-7h2v6h2v10h2v2h4v3h2v3h2v5h2v4h2v1h2v-5h2v-3h2v-3h2v-5h2v-10h2v-1h2v-5h2v-1h2v5h2v-8h2v8h2v6h2v1h2v6h2v-1h2v-1h2v-1h2v5h2v-4h2v-3h2v-1h2v-2h2v-4h6v3h2v3h2v-3h2v-2h2v3h2v3h2v-3h2v1h2v5h2v-1h2v2h2v4h2v-1h2v3h2v1h2v5h2v4h2v1h2v4h2v-12h2v2h4v-8h2v9h2v-10h2v-2h2v12h2v-5h2v-8h2v-9h2v6h2v2h2v-5h2v4h2v4h2v-6h2v-1h2v-2h2v-2h2v7h2v-10h2v-2h2v5h2v1h2v2h2v2h2v1h2v-2h2v-4h2v1h2v-2h2v-3h2v2h2v-6h2v-17h4v-1h2v-12h2v15h2v-9h2v-1h2v17h2v-12h2v-4h2v11h2v-7h2v-4h2v3h2v1h2v-13h2v19h4v-1h2v-1h2v-4h2v-13h2v-2h2v17h6v-1h2v4h2v2h6v2h2v2h2v2h2v-22h2v28h2v-8h2v1h2v3h2v-3h2v4h2v-8h2v7h2v-4h2v-13h2v6h2v7h4v5h2v4h2v1h2v-1h2v7h2v-6h2v6h2v-4h2v-41h2v12h2v23h2v11h2v-1h2v15h2v-21h2v9h2v3h2v-20h2v7h2v-4h2v11h2v-1h2v-2h2v2h2v79h2v135h332v-106h2v-6h2v-5h2v-4h2v3h2v1h6v-24h2v14h2v4h2v1h4v-8h2v4h2v4h2v-3h2v4h2v-1h2v-4h2v-15h2v7h2v13h2v9h2v6h2v-11h2v-4h4v-5h2v2h2v-6h2v10h2v12h2v-14h2v-25h2v4h2v-10h2v-17h2v-13h2v-9h4v-8h2v-20h2v16h2v-20h2v3h2v-9h2v9h2v20h2v10h2v9h2v-6h2v15h2v9h2v-10h2v-2h2v38h2v-13h2v-2h4v5h2v20h2v-9h2v4h4v3h2v-30h2v38h2v1h2v7h2v19h2v-12h2v-16h2v13h2v-2h2v13h2v-6h2v8h2v-11h2v13h2v1h2v2h4v-10h2v-4h2v-20h2v16h2v3h2v-7h2v-4h2v16h2v4h2v-15h2v-1h2v-8h2v5h2v6h2v-4h4v-5h2v1h2v1h2v-3h2v-4h2v9h2v-15h2v-9h2v8h2v-28h2v18h2v-11h2v-4h2v-1h2v2h2v1h2v-26h2v21h2v-11h2v-11h2v-3h2v-1h2v-9h2v-4h4v6h2v-11h2v-3h2v-15h2v13h2v-5h2v4h2v-6h4v5h2v14h2v-16h2v3h2v-4h19.5v234.5h-2051.5Z" fill="#e8745f"/>
<path d="M160 1189h22v6h2v-5h2v3h2v3h2v1h2v2h2v2h2v-1h2v1h2v4h2v1h2v3h2v1h2v-1h2v-2h2v-1h2v-3h2v1h2v-4h2v-3h2v8h2v5h2v3h2v6h2v6h2v5h2v-8h2v-1h4v-3h2v-4h2v5h2v-1h2v-1h2v-1h2v-2h2v1h2v-1h2v-3h2v-5h2v-1h2v-3h2v-1h2v-3h2v1h2v10h2v7h2v4h2v2h2v3h2v7h2v2h2v7h2v-3h2v-2h2v-5h2v-1h2v-1h4v1h2v-1h2v-1h2v-2h2v-1h2v-2h2v3h2v-5h4v-2h2v-1h2v-1h2v-3h2v4h2v-2h2v-3h2v1h2v-1h2v1h2v-2h2v3h2v12h2v-1h2v-16h2v1h2v-3h2v-3h2v4h2v-6h2v-3h2v3h2v1h2v2h2v7h2v1h2v4h2v3h4v3h2v3h2v-7h2v3h2v-3h2v-1h2v-2h4v-2h2v-1h2v-1h2v3h2v3h2v1h2v4h2v2h2v3h2v7h2v2h2v-3h2v3h2v8h2v4h2v3h2v-5h2v-3h2v2h2v-3h2v-10h2v2h2v-13h2v8h2v-8h2v-4h2v3h2v-7h2v-6h2v-3h2v-3h2v1h2v5h2v2h2v-5h2v-2h2v-1h2v2h2v-12h4v1h6v2h2v2h2v7h2v3h2v3h2v4h2v4h2v7h2v2h2v6h2v-1h2v8h2v3h2v1h2v2h2v4h2v4h2v-1h2v-5h2v-3h4v-3h2v-5h2v1h2v-4h2v2h2v-2h2v4h2v-5h2v1h2v3h2v-2h2v2h2v-2h2v-1h2v1h2v-1h2v-3h2v-2h2v-6h2v-3h2v-2h2v-5h2v4h2v1h2v-2h2v2h2v3h2v3h2v2h2v-1h2v3h4v-1h2v-3h2v-3h2v-2h2v-1h2v4h2v-3h2v2h2v-4h4v2h2v3h2v-3h2v-1h2v2h2v-1h2v1h4v2h2v-11h2v-3h2v-4h2v-2h2v9h2v-15h4v-4h2v-7h2v-12h2v-8h2v21h2v-13h2v-4h2v8h2v4h2v9h2v-7h2v15h2v-15h2v-2h2v1h2v5h2v-3h2v4h2v1h2v-1h2v2h2v2h2v-16h2v8h2v-3h2v20h2v3h2v4h2v-6h2v2h2v-1h2v6h2v1h2v-2h4v3h2v-1h2v-2h2v-2h2v3h2v4h6v-4h2v1h2v7h4v-3h2v2h2v2h2v-2h2v1h2v-2h2v2h2v-3h4v-2h2v7h2v1h2v-3h2v-4h2v3h2v1h2v2h2v9h2v3h2v-12h2v27h2v12h2v13h2v9h2v17h2v-1h2v8h2v3h2v11h2v-17h6v-2h2v-3h2v-7h2v-2h2v-1h4v5h2v1h2v-1h2v6h2v3h2v-3h2v-1h2v2h2v3h2v-1h2v-7h2v-2h2v4h2v-9h2v-3h2v-6h2v-11h2v-5h2v-4h2v-13h2v24h2v-7h2v9h2v1h2v4h2v-27h2v3h2v46h2v-15h2v18h2v-2h2v-21h2v-4h2v-5h2v6h2v-3h2v-4h2v-9h2v-2h2v-2h2v6h2v-4h2v-3h2v8h2v-10h2v-4h2v-6h2v-7h2v-4h2v13h2v-7h2v-3h2v-17h2v20h4v-9h4v-2h2v-4h2v9h2v3h2v10h4v6h2v7h2v17h2v3h2v4h2v-5h2v-2h2v-1h2v-1h2v17h2v-8h2v-3h2v3h2v3h2v-13h2v15h2v-11h2v14h2v5h2v1h2v4h2v14h2v-6h2v-19h2v14h2v-4h2v-1h2v-7h2v5h2v5h4v1h2v-1h2v-2h2v-1h2v7h2v-5h2v-5h2v12h2v-13h2v12h2v2h2v10h2v-4h2v-26h2v30h2v1h2v-1h2v8h4v-11h2v12h2v-1h2v3h2v-7h2v9h2v1h2v-4h4v6h2v4h2v-2h2v-3h2v3h2v3h2v-5h4v5h2v-4h2v-1h2v4h2v3h2v-12h2v-12h2v-15h2v4h2v-11h4v2h6v5h2v8h2v5h2v-3h2v1h2v3h2v-2h2v2h2v-5h2v1h2v-1h2v-1h2v-1h4v-5h4v-11h2v-4h2v-10h2v7h2v-2h2v2h2v1h2v-8h2v6h2v-6h2v-6h2v2h2v-7h2v1h2v-3h2v-3h2v-6h2v2h2v-9h2v-4h2v9h4v8h2v3h2v-1h2v3h2v1h2v1h2v7h2v10h2v-6h2v1h2v-2h4v12h2v1h2v8h2v-1h2v-2h2v3h2v-1h2v-5h2v7h2v-1h2v-1h4v-2h2v-2h2v2h2v-7h2v-2h2v-4h4v-7h2v1h2v-15h2v9h2v-3h2v-5h2v-2h2v-1h2v-8h2v8h2v-3h2v1h6v3h2v1h4v2h2v5h2v5h2v-1h2v7h2v-1h2v5h2v2h2v-6h2v-2h2v-3h2v-2h2v-1h2v-2h2v-13h2v-3h2v3h2v4h2v3h2v6h2v-2h4v-2h6v7h2v-5h2v1h2v-3h2v-1h2v-1h2v1h2v10h2v-15h2v2h2v5h2v-2h2v4h2v2h4v-22h2v18h2v-14h2v2h2v16h2v7h2v-3h2v5h2v-4h4v-1h2v2h2v-5h2v-6h2v9h2v-2h2v1h4v-4h2v2h2v-1h4v-9h2v4h2v4h4v-3h4v2h2v-1h2v-1h6v-9h4v3h2v-4h2v5h2v-2h2v4h2v2h2v-5h2v-4h2v56h2v68h2v76h775.5v20.5h-2051.5Z" fill="#f99a40"/>
<path d="M160 1218h22v-4h2v4h2v3h2v3h4v1h2v3h2v-2h2v-1h4v1h2v4h2v-1h4v-7h2v6h2v3h2v4h2v3h2v2h2v6h2v2h2v4h2v2h2v5h2v1h2v-2h2v1h2v1h2v-5h2v-8h2v2h2v-1h2v2h2v-4h2v3h2v1h2v-7h2v4h2v-14h2v5h2v-2h4v-3h2v5h2v2h2v10h2v-2h2v7h2v5h2v2h2v1h2v4h6v-3h2v-1h2v-1h2v-1h2v3h2v7h2v-4h2v-1h2v-7h2v5h2v-3h2v-5h2v2h2v7h2v11h2v6h2v6h2v-3h2v-2h2v-6h2v-2h2v-5h2v-3h2v-8h2v-5h2v1h2v-6h2v-4h4v-1h4v2h4v-1h4v-2h2v-2h2v-3h2v-1h2v1h2v7h2v4h2v-5h2v-3h2v10h2v9h2v7h2v8h4v-10h2v-2h2v-6h2v-5h2v-3h2v-2h2v-4h2v-3h2v4h2v3h2v2h2v3h2v5h4v9h2v2h2v7h2v-2h2v-8h2v-5h6v-4h2v-3h2v-5h2v-3h4v-6h4v-5h4v1h4v3h4v-6h2v-1h2v-7h2v3h2v4h2v-1h4v2h2v3h2v1h2v-1h2v-2h2v5h2v3h2v3h2v1h2v1h4v4h2v-2h2v8h2v6h2v3h2v4h2v6h2v3h2v-5h2v-3h2v-3h2v-4h2v-2h2v-2h2v2h2v-3h2v3h2v-2h2v-1h2v2h2v4h2v-1h2v4h2v1h2v2h2v-2h2v-13h2v-4h2v-6h2v-1h2v4h2v-7h2v-2h2v-2h2v-1h2v-4h4v-1h2v5h2v3h2v2h2v2h2v2h2v-2h2v-1h2v1h4v-3h2v-2h2v2h2v2h8v-1h4v-8h2v11h2v8h2v5h2v6h2v-4h2v-2h2v-6h4v3h2v2h4v-10h2v-7h2v-8h2v-3h2v-15h2v6h2v-3h2v-7h2v12h2v-3h2v4h4v63h2v134h2v39h1551.5v20.5h-2051.5Z" fill="#f8c941"/>
<path d="M160 1458h78v-40h2v-32h2v-9h2v-5h2v-8h2v3h2v-2h2v-5h2v-2h2v-1h2v-5h2v4h4v-2h4v-2h2v1h2v6h2v8h2v6h2v13h2v11h2v-2h2v-4h2v-4h2v-3h2v-1h2v-4h2v11h2v-12h2v-1h2v-5h2v15h2v24h2v25h2v22h60v-27h2v-78h2v-3h2v-3h2v-1h2v1h2v8h2v-7h2v1h4v2h2v2h4v1h2v5h2v1h2v-3h2v1h2v-5h2v1h4v-9h2v7h2v-4h2v2h2v12h2v3h2v1h2v12h2v-5h2v-5h2v-7h2v-1h2v-4h4v-5h2v-2h2v-3h4v-6h2v-4h2v-5h6v42h2v85h54v-46h2v-66h2v5h2v-6h2v3h2v-3h2v-1h2v-2h2v-3h2v6h4v1h2v-2h4v-2h2v3h2v-1h2v-2h2v2h2v8h2v-7h2v-3h2v-2h2v1h2v2h2v5h2v-7h2v-14h2v-8h2v1h2v-5h2v-4h2v-2h2v-4h2v-10h2v6h2v1h2v4h4v1h2v1h2v23h2v20h2v20h2v23h2v23h2v23h2v18h34v-101h2v-62h2v-8h2v-1h2v3h2v-9h2v7h2v-1h2v128h2v44h1553.5v20.5h-2051.5Z" fill="#f99a40"/>
<path d="M160 1458h92v-40h2v-5h2v-1h6v-4h2v1h2v-6h2v8h2v5h2v42h722v-50h2v-1h2v1h2v2h2v-1h4v-1h4v-7h2v2h2v5h2v1h2v-2h2v-1h2v1h2v1h2v1h2v28h2v21h194v-97h2v-45h2v-4h2v-1h2v-7h2v7h2v-12h2v-3h2v-1h2v-5h2v-6h2v-2h2v-6h2v7h2v3h2v-3h2v8h2v4h2v3h2v5h2v1h2v-15h2v19h2v3h2v2h2v-2h2v-15h2v7h2v-3h2v-2h2v5h2v10h2v10h2v11h2v-8h2v3h2v-6h2v-25h2v35h2v7h2v9h2v-2h2v2h2v7h2v-14h2v-11h2v4h2v-17h2v-14h4v1h2v2h2v-1h2v3h2v3h2v-2h2v-9h2v6h2v-3h2v3h2v4h2v-6h2v-7h4v-2h2v3h2v-3h2v2h2v4h2v-3h2v7h2v-19h2v14h2v-7h2v2h2v2h2v-8h2v9h2v1h2v2h6v-6h2v-8h2v-1h2v5h2v-2h2v14h8v5h2v-4h2v7h2v-5h4v1h2v-1h2v-3h2v-2h2v1h2v2h6v36h2v86h2v31h775.5v20.5h-2051.5Z" fill="#e8745f"/>
<path d="M160 1458h1150v-20h2v-18h2v-11h2v-4h2v-18h4v4h2v-10h2v1h2v-3h2v8h2v5h2v-13h2v3h2v-13h2v-2h2v-6h4v-13h2v4h2v-7h2v1h2v-11h2v11h2v2h2v-1h2v-4h2v1h2v-12h2v10h2v-9h2v13h2v-4h2v37h2v60h2v19h46v-103h2v16h2v49h2v38h626v-80h2v-8h2v7h2v-5h2v3h2v4h2v-5h2v18h2v7h2v4h4v16h2v-9h2v-11h2v-22h2v-1h2v-1h2v8h2v-3h2v-1h4v21h2v-16h2v3h2v-9h2v-5h2v56h2v29h99.5v20.5h-2051.5Z" fill="#bd637d"/>
<path d="M253.5 1283l.5-2.5l1-3.5l4-2l3.5-2l3.5-.5l2-.5l5.5-.5v4l2 2l-1 5.5l2.5 2.5v6.5l-.5 2.5l-.5 5.5l-3.5 2.5l-2.5 2l-1.5 2l-2 3l-1.5 4.5l-2 3.5l-2.5-3.5l-2.5-2.5l-4-3.5v-3.5l-.5-3l2-2l-1-2.5l-.5-4l.5-4l-1-3Z" fill="#e6f75a"/>
<path d="M182.5 1255l5-1.5l1.5 4.5l.5 3l1.5 4l2 2.5l.5 3.5l2.5 4.5l1 2.5l.5 4l-.5 4.5l-.5 2l-.5 2.5l1 3.5l-.5 4l-.5 4l-.5-4l-1.5-2.5l-2-2.5l.5-4l-1.5-1l1-3.5l-1.5-2.5l.5-4.5l-2.5-3l-4-3v-8l-1.5-1l-.5-4Z" fill="#e6f75a"/>
<path d="M289.5 1324.5l4-4l1.5 4l1.5 1.5l2 3l.5-2l1-4.5l2.5-1.5l1-5l4.5 2l-1.5 4l1.5 2v4l-.5 5l-1 .5l-2 4.5l-2 2.5l-1.5 3.5l-3 1.5l-1 5.5l-1.5 3l-1-3l-2-4.5l-2-3l-1-4.5v-2.5l.5-3.5l.5-5Z" fill="#e6f75a"/>
<path d="M344.5 1299.5l3.5-2.5l2 4l2 2l1.5-1l.5-4.5l1-2l1.5-4l2 2.5l.5 2l1.5 4.5l5.5-1.5l3-2l2.5-.5l.5 1.5l-1 3.5v6h-2.5l-2.5 1.5l-2 4l-1 2.5l-1.5 3.5l-1 3.5h-4.5v-3.5l-2-3.5l-2-5h-3.5l-2 .5l-.5-5l-.5-3Z" fill="#e6f75a"/>
<path d="M404.5 1283l5.5 .5l2.5 2l4 1l1 4l3 2v4.5l1.5 3v6.5l-2.5-1.5l-3-3.5l-1.5 2.5l-2 1.5l-5-1.5l-3 1v-4l.5-3v-3.5l-.5-2l-.5-4v-3.5Z" fill="#e6f75a"/>
<path d="M429.5 1292l6.5-1l-1 4.5v2.5l-1 3l-3.5 2.5l-.5-1.5l.5-5Z" fill="#e6f75a"/>
<path d="M760 1322.5l3.5 3.5l3 6l1 2.5l4 1.5l1.5 .5l-4 8.5l3.5 6l-.5 3l2.5-1.5l1.5 2.5l-1 .5l-1 10l-.5 4.5h2.5l3 3.5v5l1.5-5.5l1.5 9.5l1.5 5l-2.5-1l4-7l.5 1.5l-1.5-9l.5-2l4.5-3.5l-2 2.5l5.5-5l-1-3.5l1-1.5l3-9.5l.5 4.5l2.5-8.5l3.5 2l1.5-5.5l-.5-1.5v-5l-3-5.5l1-.5l3 2l1-8l5 .5l.5 9.5l1-3.5l1.5 .5l3 6l1-3.5l7.5 1l-1.5-8.5l2.5 5.5l-2.5 7.5l3.5 2l2-.5l-3 3.5l2.5 3.5l-2.5 9l-1-5l4 4.5l-3.5 3l4 4l-4 5.5l-1.5 6.5h-1l-2.5-.5l-1 6l-5.5-5l-3 2.5l3.5-7.5l-1.5 7l-3 1l-5 4l-.5 .5l-.5 9.5l-5-2l2.5-2.5l-7.5 8.5l-.5-2.5l-6-3.5v4.5l-1-2.5l-5 2.5l1.5-6.5l-5-4.5l1.5 2l-2 .5l-.5-9.5l2 1l-5-5.5l-1-7l-.5 4v-1l-1-4.5l2-7l-2.5-4l-2.5 1.5l-1.5-5.5l-3-3.5l1 1l-2.5-11l-1.5-.5l2-5l-3-3Z" fill="#f8c941"/>
<path d="M847 1283l5.5-3.5l.5 5.5l1.5 3l.5 1l-.5 4.5l1.5 .5l1.5 5v4l1 3l-1.5 2l-3 4.5l-3.5-2.5l-2.5-1l-.5-3v-8.5l-.5-1.5l-.5-3v-3l.5-4Z" fill="#f8c941"/>
<path d="M891.5 1271.5l4-3.5l2 2l2.5-5h.5l4.5-6l3 2l-.5-2.5l2-6.5l4 4.5l2.5 2.5l2.5 1.5v.5l-1 7.5l1.5 2.5l-2.5 2.5l-3.5 3l-2 1v1l-4.5 6.5l-1.5 2.5l.5-2.5v4.5l-1.5 2.5l-.5 2.5l-1 6l-2 1l.5 8.5l-.5-1l-7 2.5l-3.5 3v-6.5l1.5-.5l2-5l1.5-2.5l-1-1l1.5-3.5l.5-5.5l-1-3l-1-.5l-1.5-4.5l2-4.5l-3-5Z" fill="#f8c941"/>
<path d="M953 1304.5l3.5-1l1.5-4.5l2 6.5v-1.5l3.5 6.5l2 1l1 2.5l2 5.5l-1.5 2.5l1 4.5h4l-1 6.5l1 .5l1.5 3l1 5l3-1.5l.5 7.5l3 2l-1-.5l2 3.5l3.5 6l1 1l-1.5 5l4.5 1.5l1 5l-2.5-.5l3 7l1-1.5l-1 7l.5 3l-2 3l-5.5 3l-1-6.5l.5-4l-.5 .5l-2.5-6.5l1-1l-.5-1.5l-4-6l1-3l-3.5-3l-.5-6l-2-1l-1-5.5h-.5l-1.5-4.5l-3-4l-2 1l.5-4.5l-4.5-4v-3l-3-6.5l-1.5-2l.5-3.5l-.5-2.5l-2.5-3.5l-1-1.5Z" fill="#f8c941"/>
<path d="M960.5 1258l5.5-2l-.5 1.5l2 5.5l1 2.5l-2.5 1l-2 2l-1.5-3l.5-2.5l-1.5-4.5Z" fill="#f8c941"/>
<path d="M1158.5 1369l-.5-5.5l-1.5-1.5l.5-1.5l-.5-2.5l.5-4v-7h1.5v-5.5l-2.5-2l.5-4.5v-1.5l1-5.5l1.5 1l2.5-4.5l1-1l2-6l1.5 5.5l2.5 1l1 4.5l1.5 5.5v4l-.5-1l.5 8l-1-1.5v6.5h1l-.5 6.5l-2-.5v5l-1 1.5l1 6.5h-3l-1 4.5l-1 3l-1.5 1.5l-2.5-4.5Z" fill="#e8745f"/>
<path d="M1482.5 1290.5v2.5l2 5.5v5.5l-1 2.5l1.5 .5l2 1.5l-.5 5.5l1.5 4.5l-2.5 1.5l3.5 4.5l-1 3.5l2.5 1l-2 2l1.5 4.5l.5 6l3.5 1.5l-1.5 3l2.5 4l-2 .5l1 7.5l-3.5 .5l-.5 6l.5 1.5l.5 2l-3 1v6l-1.5 5.5l-.5-2l-1 5l-3.5 5.5l-1.5-1l2 8l-3-2.5l-1.5 8.5l-1.5-.5l.5 6.5l-1.5 2l-2 4l-2.5 2.5l-1 3l-.5 3l-2-.5l-3 1l-1.5 7.5l-5.5-3l-1.5 2.5l-3.5 2l-1-7.5l-.5-1.5v-5l-4.5-1.5l1.5-.5l-2-6.5l1 1v-7l.5-3.5l2.5 .5l1-7l-1-2.5l3.5-1v-3l3.5-5l2-.5l-.5-7l4 .5l1-6v-3l1.5 1l2-7l-2 1l2-3.5l-.5-3.5l1.5-6v-2.5l3-5l-1.5-3l1.5 .5l1.5-2l1-5l1.5-4v-3l-2-4l3-1.5l1-2.5l.5-4.5l-1.5-6l2 .5l1-7l1 1l.5-3.5Z" fill="#bd637d"/>
<path d="M1485.5 1262l3.5-6.5l-1-3l3-5l2.5 1.5l4.5-1.5l2 5.5h.5l1.5 2l4 2l3 6l1.5 2.5l1-2.5h2.5l6-2l4-2.5l2-3l2.5-5.5l1-1l3-2l2-1.5l4.5 5l2-.5l1.5 2l2 5.5l4.5 .5l2.5-.5l2.5-2.5l1 2h4.5v4.5l5 1.5l4 4l3-1.5l3-5l1.5 3.5l1.5 5.5v-2.5l3.5 7.5l-2.5 1.5l1 4.5l.5 3l-.5 4l3 .5v4l-2-.5v6.5l.5 4l-.5 3l-2.5-2.5l-3.5-2.5l-4-2.5v-4l-2-1.5l-4 .5l-2.5 2l-5.5-3l-3.5-1v-2.5h-1.5l-3-6.5v4l-3.5 1l2 3.5v6l-2.5-1l-.5 3v8.5l-4.5-2l-2.5 4l.5-6.5l-4.5-4l.5 1.5l-1-2l-6.5 2.5v-2.5l-5 2l.5-6l-5 .5l-2-8l-1.5-1.5l-2-3l-.5 .5l-3.5-3.5l-.5-4l-3.5 4.5l-1.5-1l.5 6.5l-5 1.5h-.5l-5.5-4.5l-.5-3l-3-5l.5-2l-3-.5v-5Z" fill="#f99a40"/>
<path d="M1447 1293l2-4l.5-2l2-5.5l5.5 4.5l.5 .5l1.5 5l-.5 2.5v4l1 2l.5 2.5l-2 2v5l-1 2.5l-.5 3.5l-6.5-4v-2l-1.5-2.5l1-5l-1.5-3l-1-1.5Z" fill="#f99a40"/>
<path d="M1653.5 1273.5l1-4.5l2-2.5l1-5l3 1l3.5-4.5l2.5 1l4.5-3l2.5 1l4.5-.5l2 1.5l2.5-.5h3.5l5 3.5l4.5 1.5l3.5-1l.5 1l-2 7l.5-2l1 8.5l.5-1l-.5 3l2.5 2l-1 6.5l1 1l-2.5 6.5h-8.5l-4 3l-1-1l-5.5 2l-2.5-.5l-3.5 1.5l-5.5-1l-2-3.5l-5 3l-1.5 .5l-1-1l-5 .5l-.5-3.5l-1.5 .5l.5-1.5l2-8l-.5-3l-1.5-1.5l2.5-5l-1.5-.5Z" fill="#e8745f"/>
<path d="M1656.5 1282h.5l1-4l3.5-5v1l3.5-3.5h2.5l3.5 6l3-3.5l3.5-2.5l6-.5l4 1.5h6l2-3.5l3 4l-3-1l2.5 7.5l1.5-1l-1 3.5l-5.5 2h-2l-5 5.5l-1-3.5l-3 6h-5l-3.5-5.5l-4-.5l-5 4.5v1l-4.5-1.5l-2.5 5l-3-3l2.5-5.5Z" fill="#f99a40"/>
<path d="M1786.5 1302.5l.5-4l-.5-.5l1.5-3l-2-1.5l1-7l.5-3.5l.5-4h2.5l-.5-4.5l1-2l1-3l.5-1l1-3.5l.5-5.5v-2l2-1.5l3.5-4.5l-.5-1.5l1.5-3.5l3.5 2.5l4.5-1l.5 1.5l2.5 5l4.5 .5v4.5l4.5 3.5l4.5-.5l1.5 2l5.5 1.5l.5-2.5l.5 3.5l.5-2.5l2.5 4l-1 4.5l3 6.5l.5-.5l-2 4l-.5 1.5l2 3v1.5l1.5 4l-1.5 6.5v1.5l1.5 3.5l-2.5 5.5l-1 3.5l1-.5l1.5 4.5l.5 3.5l-3 3.5l2 2l-2 4l3 2.5l-3 3l-2 2.5l-2-2l-5.5-1l-1-2l-3.5 3.5l-3.5 1.5l-3.5-2.5h-2.5l-4.5 2l-.5-4.5l-4 .5l-2.5 4.5h-3l-5-3.5l-1.5-.5l-4.5 1l-3 .5l-1-4l3.5-1.5l-3-6l2.5-3l-2-3l1-2.5v-6l.5-3Z" fill="#e8745f"/>
<path d="M1795 1271.5l3-2l1.5-3.5h5l3.5 3l1 1.5l-1.5 4l.5 2v5l-1 3l-1 4.5l-.5 3l-5 2h-3.5l-2-3l-.5-2.5l-.5-4.5l-.5-1.5v-5l1.5-4Z" fill="#f99a40"/>
<path d="M1602 1387l1-3.5l2-4l1-4l-.5-3l4-2l2-3.5l1 3.5l.5 4l.5 5l-1 2l-2 4l-1.5 4.5l-2.5-3.5Z" fill="#e8745f"/>
<path d="M1724.5 1374l2-3.5l2.5-1.5l1.5-4l2 5.5l4 3.5l-1 3.5l.5 .5l-1.5 3.5l-.5 4.5l-2.5-1.5h-3.5l-2-4l-1-3.5Z" fill="#e8745f"/>
<path d="M1756.5 1367.5v-3l2-4l2.5-1l1-2.5l2.5-4l3-1l1.5 3l-.5 4.5l-.5 1.5l-3 3.5l-1.5 4.5l-.5 1l-3 2l-2.5 2v-2.5Z" fill="#e8745f"/>
<path d="M1667.5 853.5v8.5l-.5 3.5l-.5 3l1 3.5v3l.5 1.5l-.5 5v1l.5 5l-1 1.5v3.5l.5 3v9l-.5 2.5l1 4l-.5 3.5v2.5l-.5 3.5v6l1 3.5l-1 1l.5 4l-.5 3l.5 3l.5 3.5v3.5l-.5 3v6l.5 3.5l-1 1l.5 5v2l.5 3.5v3l-.5 2.5l-.5 4l1 1.5v4l-.5 3.5v1.5l1 4.5l-.5 2l-.5 4l.5 2.5v6.5l.5 3l-.5 2.5v2.5l-.5 2.5v10l1 4l-.5 3l-.5 3v6l.5 3v2l.5 3l-.5 3l.5 4l-.5 2.5v3.5l-.5 2.5l.5 3v2.5l-.5 3.5l.5 4l.5 2.5l-1 2.5l1 4l-1 3l1 1.5v9l-1 4l1 3.5l-.5 2.5v3.5l1 3v7l-.5 2.5l1 4.5v5l1.5 4l2 4.5l1.5 3l1-3v-3l.5-3v-3l1-3l1-2.5l-.5-4.5l1-2l.5-3l.5-4v-4.5l1-2l.5-3.5l.5-4v-1.5l1.5-4v.5l.5 2l.5 4v6l1.5 1.5l.5 3.5v8l1 3.5v6l4 2.5l2.5 2.5l2-4.5l1.5-4l3-2v6l-.5 4l.5 3l1 3v3l.5 2l-.5 3.5l1.5-2l-1-4l1.5-3l.5-4l.5-2v-7.5l.5-3l1-3v-5l.5-4v-2l.5-5l-1-3l1.5-3v-2l-.5-3l.5-4v-3.5l1-3v-5.5l-.5-2.5v-3.5l.5-3l-.5-3.5l1-1.5v-3.5l-1-3v-5.5l.5-3.5l.5-4.5l-.5-1v-4.5l.5-2.5l-.5-2v-8l.5-2.5l-.5-2.5l.5-3l-.5-4v-10.5l.5-3v-4l-.5-2.5v-5.5l1-4l-.5-3l-.5-3.5v-3l1-2l-.5-2.5v-4.5l-.5-2.5v-14.5l1-4.5v-3l-.5-3v-3l-.5-3l1-3v-12l-1-2.5l.5-3.5v-3l.5-3v-6.5l-.5-2l.5-2.5l-.5-4.5v-6l.5-1.5l.5-4v-3.5l-.5-2.5v-6l-.5-2l.5-4.5l.5-2.5v-3l-.5-2l.5-5v-3l-4 1.5h-2.5l-4-1l-2.5 .5l-3.5 .5h-3l-3.5-1l-3 1h-3l-4-.5l-2.5-.5l-3 .5Z" fill="#04243a"/>
<path d="M1874.5 1368.5l.5-2.5l-.5-3l.5-5l.5-1.5l1.5-6.5l-2.5-2v-.5l2.5-6.5l-.5 1l-.5-3.5l1.5-8.5l3-1h-.5v-8.5l1 4.5v2.5l1.5 3l3 6l-1.5 3.5l1.5 6l2-2l.5 5v4l.5 2l-1 5.5v3.5h2v2l2.5 1l-2-7.5l1.5 .5l1.5-1.5l2.5-4v-1.5l-.5-5l-1 .5l1 8l.5-.5l-1.5 6.5l2.5-.5l-1 2l2.5 8l-3-2l1.5 4l-1.5 7l1.5 2.5l-1 4.5l-2.5 1.5l.5 .5l-1 5l.5 4.5l-5-1.5l-2.5 4l-2.5-1l-1.5-5l.5-4.5l-3-4.5l-2-2l-3-1.5h-1v-3.5l2-5.5l-.5-3.5Z" fill="#e8745f"/>
<path d="M1797.5 1268.5l4.5 2.5l3 2l1 2v2l-.5 3v3l1 3.5v5l-.5 3l-3-1.5l-5 1l-1-.5l1.5-6l-1.5-3l1.5-.5l-1-6l1-3l-1-1Z" fill="#f99a40"/>
<path d="M352 1286.5h2.5v5.5h-2.5zM542.5 1208.5h2.5v8h-2.5zM313.5 1226h2.5v10.5h-2.5zM276.5 1146h3v3.5h-3zM419 1333h2.5v9h-2.5zM418 1255h2v4h-2zM393.5 1269.5h2v3h-2zM601 1281.5h3v5.5h-3zM624.5 1236.5h2v13.5h-2zM470 1182h3v21h-3zM185.5 1165.5h4v9.5h-4zM256 1370h5v3h-5zM241 1218h3v3h-3zM917 1229h2v3h-2zM767 1298.5h5v3h-5zM808 1240h2.5v11h-2.5zM830.5 1330.5h4v24h-4zM938 1259h2.5v9.5h-2.5zM763 1294h4v42h-4zM839.5 1375.5h5v3h-5zM890.5 1303h3v3h-3zM879 1306.5h4v16.5h-4zM967.5 1378h2v11h-2zM936.5 1313.5h4v3h-4zM820.5 1341.5h5v10.5h-5zM947 1256h3v3h-3zM909.5 1288h5v17h-5zM995.5 1235.5h2v14.5h-2zM927.5 1281.5h2v42h-2zM876.5 1266.5h3v29.5h-3zM930 1296h3v28h-3zM884 1297h5v3h-5zM989 1367h3v32h-3zM966.5 1303h3v3h-3zM795 1190.5h2v4h-2zM1008.5 1344.5h5v3.5h-5zM796 1307.5h3v13h-3zM999.5 1219.5h2.5v3h-2.5zM1005.5 1394.5h2v3h-2zM923 1264h5v7h-5zM978 1313h5v6h-5zM825.5 1385h2v3h-2zM969 1319h3v22.5h-3zM959.5 1349.5h4v6h-4zM963.5 1202h3v31h-3zM1298 1295.5h5v3h-5zM1423 1294h3v3h-3zM1019.5 1316.5h3v27h-3zM1215 1277.5h5v3h-5zM1244.5 1268.5h4v4h-4zM1275 1282h2v12.5h-2zM1039.5 1261.5h3v8.5h-3zM1162 1323.5h5v30h-5zM1295.5 1312.5h3v6h-3zM1356.5 1355h3v13.5h-3zM1435.5 1239h4v7.5h-4zM1188.5 1293h4v3h-4zM1388.5 1244.5h2v4.5h-2zM1254 1259.5h5v10h-5zM1302.5 1324.5h2.5v12h-2.5zM1190 1280h5v3h-5zM1312.5 1327h2v3h-2zM1266 1282h2v24.5h-2zM1240.5 1274.5h3v3h-3zM1599.5 1371.5h2v3.5h-2zM1989 1303.5h3v3.5h-3zM1718 1358h2.5v7h-2.5zM1571 1235.5h3v3h-3zM1851 1341h5v10h-5zM1783 1293.5h3v24h-3zM1876.5 1208h5v4h-5zM1741 1164h3v5.5h-3zM1761 1319.5h2v27h-2zM1689 1239h5v24h-5zM1697.5 1285.5h3v7h-3zM1802.5 1301h3v11h-3zM1925.5 1285h2.5v7h-2.5zM1733 1274h3v11.5h-3zM2180 1224.5h2.5v32h-2.5zM1754 1368h3v11h-3zM1670.5 1276.5h2.5v3.5h-2.5zM1718 1244.5h2v13h-2zM1664.5 1271.5h2v6h-2zM1650 1237.5h3v7h-3zM2028.5 1259h3v7h-3zM1776.5 1352h2v6h-2zM1733.5 1330.5h2v3h-2zM2127 1257.5h2.5v29h-2.5zM1941.5 1281.5h3v3h-3zM1608.5 1309.5h3v17h-3zM1966 1346.5h4v8.5h-4zM1919 1317.5h2.5v3h-2.5zM1880.5 1285h5v15.5h-5zM1795 1319.5h2.5v10.5h-2.5zM1970 1287.5h3v10h-3zM1650 1328.5h3v15.5h-3zM2064.5 1282.5h5v13.5h-5zM2150 1268h2v38.5h-2zM1834.5 1294.5h2.5v3h-2.5zM1701.5 1269.5h4v16h-4zM1679.5 1208.5h3v20.5h-3zM1661.5 1250.5h2v3h-2zM1824.5 1289.5h3v12.5h-3zM1721.5 1332h4v18h-4zM2079 1309h3v3.5h-3zM2080 1279.5h4v10h-4zM1850 1309.5h2v15h-2zM1773 1323h3v3h-3zM1834 1284.5h3v25h-3zM1727 1260h2.5v13.5h-2.5zM1902.5 1221.5h3v3h-3zM1791.5 1323.5h2v3h-2zM2026.5 1222.5h5v42h-5zM1593 1312.5h3v3h-3zM2015 1250h2v12.5h-2zM1869.5 1295.5h2.5v3h-2.5zM2092.5 1390.5h5v13.5h-5zM1809.5 1283.5h2v18h-2zM1655.5 1314.5h2v8.5h-2zM1751.5 1386h2.5v3h-2.5zM1878 1395h5v3h-5zM1732.5 1325h2.5v3h-2.5zM2030.5 1239.5h2v8.5h-2zM1757.5 1369h2v3.5h-2zM1847.5 1208h4v3h-4zM2031.5 1270.5h3v38.5h-3zM1778 1247.5h2v14h-2zM1969 1260.5h2v3h-2zM2187.5 1243.5h3v22h-3zM1756.5 1298.5h2v3h-2zM1666.5 1261h2v11.5h-2zM1661 1258h3v3.5h-3zM1885 1275h3v5h-3zM1639.5 1268.5h3v23.5h-3zM1642 1314.5h2.5v29h-2.5zM1927 1264.5h5v8h-5z" fill="#e8745f"/>
<path d="M502 1225h3v3h-3zM819.5 1164.5h5v12h-5zM796.5 1415.5h3v8.5h-3zM854.5 1207h5v16h-5zM925 1229.5h2v5h-2zM964.5 1296h2v13h-2zM967.5 1270.5h2v13h-2zM915.5 1205.5h2v19h-2zM893.5 1295h3v14.5h-3zM994.5 1323.5h3v11.5h-3zM990.5 1275h2.5v42h-2.5zM961.5 1331.5h2v3.5h-2zM967 1214.5h2v14h-2zM958 1228.5h4v42h-4zM861 1214.5h2v3h-2zM894 1314h3v9h-3zM777 1360h2.5v17.5h-2.5zM879.5 1224.5h5v8h-5zM985.5 1296h2.5v3h-2.5zM914 1231.5h2v3h-2zM813 1391.5h3v4.5h-3zM826.5 1383.5h2.5v3h-2.5zM978 1246h2v20h-2zM1009.5 1302h3v7.5h-3zM844 1227h2v3h-2zM877.5 1256h2v9h-2zM984.5 1397.5h2v6.5h-2zM978 1222.5h4v7.5h-4zM1264.5 1344.5h2.5v3h-2.5zM1259 1321.5h5v15h-5zM1302.5 1315.5h2.5v3h-2.5zM1283.5 1355h3v19h-3zM1358.5 1302.5h5v3h-5zM1385.5 1302h4v4.5h-4zM1059 1264.5h4v3h-4zM1318.5 1344.5h2v17h-2zM1292 1252h3v3h-3zM1326 1348h4v10.5h-4zM1365.5 1319h2v23h-2zM1029.5 1266h2.5v14.5h-2.5zM1165.5 1240.5h5v31.5h-5zM1103 1254.5h2.5v11h-2.5zM1368 1332.5h2v18.5h-2zM1288 1336h5v3h-5zM1230 1280.5h3v14.5h-3zM1187 1320.5h2v9.5h-2zM1025 1217.5h2v3h-2zM1132.5 1317.5h3v9h-3zM1202 1275.5h4v8h-4zM1409.5 1320.5h3v7h-3zM1018.5 1206h3v5.5h-3zM1135 1283.5h3v8.5h-3zM1048.5 1243.5h2.5v3.5h-2.5zM1417 1307h2v8h-2zM1128 1244h2v3h-2zM1897.5 1272h3v9.5h-3zM1928 1218h2v3h-2zM1623 1163h4v8h-4zM1951 1187h4v13.5h-4zM1589.5 1223h5v3h-5zM1578 1306h2v19.5h-2zM1821.5 1235h3v3h-3zM2109 1200h4v8h-4zM1891 1181h2v7.5h-2zM1796.5 1205.5h2v9h-2zM1477 1280.5h2v23h-2zM1544.5 1300h2.5v7.5h-2.5zM2164 1190h2v23.5h-2zM1527 1288.5h2v6.5h-2zM1477 1284h2.5v3h-2.5zM1640.5 1235h2v6h-2zM1929 1352h3v31h-3zM1508.5 1245.5h3v3h-3zM1442.5 1378.5h4v8.5h-4zM1786 1213.5h3v11h-3zM1876 1192.5h3v19h-3zM1463.5 1298h4v3h-4zM1519 1264h2v10h-2zM1730.5 1191h3v6h-3zM1700.5 1205h5v7h-5zM1463.5 1269.5h3v3h-3zM1545 1296.5h4v10.5h-4zM2111 1229h2.5v25h-2.5zM2128 1191.5h2v14h-2zM2186.5 1288.5h3v22h-3zM2079.5 1225.5h2.5v4h-2.5zM1593.5 1159h2.5v3h-2.5zM1734.5 1184.5h2.5v8.5h-2.5zM1567.5 1296.5h3v9h-3zM1642.5 1237h3v11.5h-3zM1527.5 1247h3v15.5h-3zM2080 1240.5h4v4h-4zM1460.5 1200h2v3.5h-2zM1723.5 1172h2.5v4h-2.5zM1829 1199h5v42h-5zM1444 1203h3v3h-3zM1571 1239.5h2v22.5h-2zM1807 1222h5v34.5h-5zM1796 1210.5h3v6.5h-3zM1602 1213h2v8.5h-2zM1574 1262.5h2v3h-2zM2114.5 1373.5h2v3.5h-2zM1890 1176.5h3v3h-3zM1556 1241h2v7h-2zM1853.5 1178h4v7.5h-4zM1567 1219.5h2v18h-2zM1486.5 1285.5h2.5v38h-2.5zM2022.5 1295h5v21h-5zM2124.5 1192h4v6h-4zM1585.5 1235h2.5v3h-2.5z" fill="#bd637d"/>
<path d="M266 1174h4v11.5h-4zM202.5 1185h2v4.5h-2zM290 1374h3v3h-3zM240.5 1380h5v21h-5zM289.5 1349h2v13h-2zM448 1258.5h4v3h-4zM540.5 1338h2v18h-2zM341.5 1187h3v3h-3zM775 1315.5h3v4.5h-3zM786 1297.5h5v42h-5zM790 1197h2v11.5h-2zM958 1289.5h5v18.5h-5zM828.5 1221h2v3h-2zM1002 1428.5h3v4.5h-3zM954.5 1297h2v4.5h-2zM778.5 1325h2.5v17.5h-2.5zM1001.5 1372h3v3h-3zM985.5 1383h2v24.5h-2zM837 1371.5h5v26.5h-5zM835.5 1228.5h2.5v3h-2.5zM783.5 1327.5h2v23h-2zM809 1386h3v4h-3zM858.5 1267h2v3h-2zM929 1315.5h3v3h-3zM854 1270h2.5v33.5h-2.5zM1234.5 1318h2v3h-2zM1249.5 1289h5v24.5h-5zM1371.5 1329h5v11.5h-5zM1286.5 1332.5h4v31.5h-4zM1287.5 1347.5h2.5v3.5h-2.5zM1077 1294h4v20h-4zM1084.5 1297.5h4v14h-4zM1256 1314h5v16h-5zM1051 1328h2v6.5h-2zM1031 1246h2v31.5h-2zM1376 1308.5h3v7.5h-3zM1398.5 1271h2v7.5h-2zM1363 1329.5h2.5v15.5h-2.5zM1283.5 1279h2.5v3h-2.5zM1115.5 1314.5h4v3.5h-4zM1335.5 1230.5h2v3h-2zM1347 1408.5h2v18.5h-2zM1147.5 1341h3v3h-3zM1277 1330.5h2.5v8h-2.5zM1370 1300h2v4h-2zM1413 1282h3v3h-3zM1286 1263.5h2v7.5h-2zM1246 1289h4v5.5h-4zM1181.5 1272.5h5v3h-5zM1413.5 1301h2.5v5.5h-2.5zM1435 1317h2v25h-2zM2011.5 1244.5h2v17h-2zM1694 1268.5h4v12h-4zM2100 1377h2v17.5h-2zM1580.5 1318h3v10.5h-3zM1543.5 1299.5h4v13h-4zM1556.5 1233.5h3v16h-3zM2015 1305h4v3h-4zM1838 1285h2v22.5h-2zM2123.5 1262h2v8h-2zM1967.5 1357.5h3v6h-3zM1860 1379.5h3v6h-3zM1578.5 1309.5h4v11h-4zM1929 1358h2.5v7h-2.5zM2107.5 1367.5h3v13h-3zM1894.5 1413.5h3v5h-3zM1580 1264.5h5v9.5h-5zM1570 1311h3v20h-3zM2060.5 1309h2v10h-2zM1714.5 1263.5h3v17h-3zM1705.5 1285h2v3h-2zM2104.5 1379h2v7.5h-2zM1766 1311h5v9.5h-5zM2118 1343h2.5v3h-2.5zM1466.5 1387.5h2.5v20.5h-2.5zM2138.5 1280.5h3v3h-3zM2176 1305.5h2.5v4h-2.5zM1465 1332h3v6.5h-3zM1788.5 1303h2v8.5h-2zM1781 1246h5v11h-5zM2016 1312h3v6h-3zM1476 1346h2v21.5h-2zM2185.5 1272.5h2v5.5h-2zM1560 1240h3v9.5h-3zM2068 1280.5h5v42h-5zM2146 1240h2v6h-2zM1458 1383h3v19h-3zM2005.5 1233.5h2.5v10h-2.5zM1764.5 1301.5h2.5v17h-2.5zM2159.5 1306h2v5.5h-2zM2148.5 1306h2v27h-2zM2068.5 1337.5h3v3.5h-3zM2162.5 1273.5h3v10h-3zM1534.5 1284h2.5v3h-2.5zM2145 1311h2v36h-2zM2097 1312.5h3v38h-3zM1720 1330h3v18.5h-3zM1847.5 1336h2v17.5h-2zM2034 1267h2v5h-2zM1883.5 1347.5h2.5v42h-2.5z" fill="#f99a40"/>
<path d="M417.5 1369h2.5v6h-2.5zM434.5 1381h2.5v3.5h-2.5zM319.5 1217.5h2.5v8.5h-2.5zM239 1229.5h2.5v14h-2.5zM790.5 1285h2v3h-2zM823.5 1409h4v8h-4zM987 1370h4v23h-4zM995 1373.5h2v11.5h-2zM828 1331h5v8.5h-5zM842.5 1372h3v3h-3zM788 1353.5h2.5v5h-2.5zM854.5 1284.5h3v3h-3zM974 1362h2.5v3h-2.5zM842.5 1354.5h3v9h-3zM908.5 1246h3v7.5h-3zM940.5 1280h2v5h-2zM910 1263h5v16h-5zM813 1354h3v3h-3zM974 1363h2v3h-2zM847.5 1328.5h5v15h-5zM971 1358.5h2v3h-2zM980.5 1278h3v6h-3zM879 1277.5h2.5v12.5h-2.5zM1006.5 1367h2.5v10h-2.5zM886.5 1264.5h2v15.5h-2zM1007.5 1354h2v8.5h-2zM894 1316.5h2.5v5.5h-2.5zM937 1279h4v12.5h-4zM781.5 1304.5h2v3.5h-2zM929.5 1266h3v7h-3zM1003.5 1397h2v5.5h-2zM1011.5 1421.5h5v6.5h-5zM1299.5 1322.5h4v12.5h-4zM1151 1321h3v4.5h-3zM1366.5 1298.5h2v3h-2zM1175.5 1322.5h5v25.5h-5zM1290 1258.5h2.5v3h-2.5zM1281.5 1320.5h4v4.5h-4zM1298 1348.5h4v4.5h-4zM1434.5 1265.5h3v3.5h-3zM1185 1314.5h4v3h-4zM1177.5 1303h3v6.5h-3zM1493 1255.5h4v3h-4zM1555 1284.5h2.5v3h-2.5zM2150 1331.5h2.5v3h-2.5zM1535.5 1273.5h3v4.5h-3zM1453.5 1419h2.5v12h-2.5zM1476.5 1341h2v7.5h-2zM1978 1344.5h2v4h-2zM1999.5 1259h3v3.5h-3zM1550.5 1294h5v33.5h-5zM1996 1318.5h2.5v7.5h-2.5zM1480 1265.5h3v3h-3zM1952.5 1342h4v31h-4zM1490.5 1254.5h3v10h-3zM1508 1316.5h3v4h-3z" fill="#f8c941"/>
<path d="M901.5 1209h2v8.5h-2zM941.5 1228h4v3h-4zM966 1255h2v3h-2zM984.5 1165.5h2.5v3h-2.5zM896.5 1203h2v10h-2zM858 1173.5h5v14.5h-5zM799.5 1234h2v11h-2zM958.5 1261h5v9h-5zM808 1155.5h2v4h-2zM912 1193.5h4v3h-4zM975 1131.5h4v15.5h-4zM833.5 1225.5h2v3.5h-2zM986.5 1176h2v3h-2zM796.5 1107.5h2.5v3h-2.5zM968 1292.5h3v16h-3zM836.5 1193.5h2v3h-2zM862 1278h2v34h-2zM895 1164.5h2v10h-2zM886 1237.5h5v9h-5zM890 1214.5h2v3h-2zM894.5 1242.5h5v3h-5zM802 1222.5h5v7h-5zM923 1186h2.5v12.5h-2.5zM980 1106.5h2v21.5h-2zM811.5 1270.5h2.5v11.5h-2.5zM853 1210h5v3h-5zM895 1169.5h5v3h-5zM969 1132h2.5v3.5h-2.5zM952.5 1219h3v3h-3zM1333 1246.5h5v3h-5zM1115 1307.5h3v3h-3zM1053 1241h4v22.5h-4zM1111 1229.5h2.5v3h-2.5zM1154 1189h2v3h-2zM1085 1234.5h3v9h-3zM1379.5 1229h2v27h-2zM1118 1294h2v3h-2zM1073.5 1191h2.5v4h-2.5zM1038.5 1180.5h3v11.5h-3zM1064.5 1246h2.5v10.5h-2.5zM1213.5 1221.5h4v5.5h-4zM1036 1187.5h4v5.5h-4zM1212.5 1243h2.5v7h-2.5zM1068 1226h2.5v3h-2.5zM1018 1195h2.5v16.5h-2.5zM1302.5 1223.5h4v4h-4zM1075.5 1217.5h2v10.5h-2zM1247 1204h2v3h-2zM1018 1193h5v3h-5zM1127 1247h2v3.5h-2zM1045 1239h2.5v8.5h-2.5zM1289.5 1206.5h2v7h-2zM1065.5 1228h2v3h-2zM1062 1194h3v8.5h-3zM1390.5 1215.5h4v3h-4zM1069.5 1215h3v6h-3zM1215 1256.5h2v6.5h-2zM1943.5 1252h2.5v18.5h-2.5zM1791.5 1239.5h3v3h-3zM1958 1362.5h3v3h-3zM1635.5 1191.5h3v3h-3zM1820.5 1255.5h3v5.5h-3zM2133 1301h2v3h-2zM1543 1281.5h3v3.5h-3zM2112.5 1371.5h4v5h-4zM2061 1248h3v5h-3zM2103 1202.5h2.5v4h-2.5zM1819.5 1249h2v10h-2zM1780.5 1320.5h3v6.5h-3zM2126 1277.5h2v42h-2zM1848.5 1322h3v5h-3zM1784.5 1251.5h3v39.5h-3zM1697.5 1203h3v3h-3zM2095.5 1327.5h2.5v24h-2.5zM1665 1219h3v12.5h-3zM1818 1194h4v23.5h-4zM1827 1194h2.5v5h-2.5zM1586.5 1271.5h2.5v26h-2.5zM1835 1307.5h5v3h-5zM1648 1342.5h2v4.5h-2zM1795 1202h2.5v3h-2.5zM1720.5 1171h3v3h-3zM1493 1180.5h2.5v3h-2.5zM2104 1305.5h2.5v16h-2.5zM1659 1305.5h2v14h-2zM2176 1187.5h3v3h-3zM2010 1306.5h2v3h-2zM1658 1251.5h4v28.5h-4zM1927 1265h3v3h-3zM1810 1233.5h2v3h-2zM2131.5 1258h3v3.5h-3zM1606.5 1365h2v9.5h-2zM2103 1326.5h3v4.5h-3zM1651.5 1212h4v22h-4zM1746.5 1159.5h2.5v36h-2.5zM1841 1258.5h3v3h-3zM1950 1259.5h2v5.5h-2zM1789.5 1318.5h2v12.5h-2zM2060.5 1296h3v3h-3zM2143 1317h2v3h-2zM1471.5 1159.5h2.5v3h-2.5zM1850 1170.5h4v3h-4zM2155.5 1321.5h3v5h-3zM2037.5 1252.5h2.5v8h-2.5zM1819.5 1257h3v4h-3zM1912 1315.5h3v9.5h-3zM1657.5 1208.5h2v14.5h-2zM1965 1295h3v12.5h-3zM1881 1332h2v3h-2zM1850.5 1278.5h3v6h-3zM2172 1272h4v15h-4zM1627.5 1168.5h2.5v14h-2.5zM2073.5 1199h4v19.5h-4zM1818.5 1290.5h4v28.5h-4zM2059 1205.5h4v9h-4zM2000 1292h5v3h-5zM1754 1395.5h3v3.5h-3zM2000.5 1192.5h2v3h-2zM2078.5 1285h3v26.5h-3zM1616 1278.5h2.5v4h-2.5zM2114.5 1184.5h3v3h-3zM1659 1296h2.5v3.5h-2.5zM1851.5 1269h2.5v3.5h-2.5zM1859 1161.5h3v3h-3zM1981 1256.5h3v6h-3zM2168 1253.5h5v19.5h-5zM1523.5 1199h2v3h-2zM1614 1192.5h3v38.5h-3zM1538 1288h3v6h-3zM2106.5 1267.5h2.5v12h-2.5zM1922 1294h4v17h-4zM1904 1161h3v20h-3zM2051.5 1148.5h2.5v18h-2.5zM1881 1176.5h2v12.5h-2zM1675 1242h4v26h-4zM1645 1334h2.5v3h-2.5zM2107 1277.5h5v18h-5zM2132.5 1179h2v3h-2zM1836 1298h2.5v6h-2.5zM1600.5 1262h2v10.5h-2zM1736 1311.5h2.5v7h-2.5zM1896 1353h2.5v16.5h-2.5zM1858 1348h5v17h-5zM1635 1183h5v7.5h-5zM1594 1152.5h5v31.5h-5zM1537.5 1232h2v8h-2zM1899.5 1396h3v4.5h-3zM2079 1171h3v8.5h-3zM2102 1272h3v29.5h-3zM2124 1141.5h3v10h-3zM1896.5 1150h2v7.5h-2zM2052.5 1186.5h3v5.5h-3zM1616.5 1295h2.5v3h-2.5zM1919 1200.5h2.5v3h-2.5zM1506 1238h4v4.5h-4zM1648.5 1299.5h5v14h-5zM1596.5 1356.5h4v30.5h-4zM2094.5 1220.5h2.5v3h-2.5zM1696.5 1267.5h3v9.5h-3zM2077 1270.5h2v19h-2zM1617.5 1256h2v9.5h-2zM1583.5 1303.5h2.5v3h-2.5z" fill="#8a528e"/>
<path d="M823.5 1122.5h3v16h-3zM1381 1216h3v11.5h-3zM1229 1251h3v15h-3zM1113.5 1203.5h2v12.5h-2zM1163 1214.5h2v8.5h-2zM1238 1233h4v14.5h-4zM1231 1211h4v3h-4zM1172 1206h5v3h-5zM1191 1259.5h3v8.5h-3zM1389.5 1236.5h5v6.5h-5zM1148 1226h2v3.5h-2zM1327.5 1185.5h2.5v6.5h-2.5zM1307.5 1206.5h2v16.5h-2zM1364 1268h2v28.5h-2zM1175.5 1185.5h5v3h-5zM1214.5 1249.5h3v15.5h-3zM1438 1212h3v8.5h-3zM1085 1217h5v3h-5zM1095.5 1239h2v12.5h-2zM1034 1212h5v3h-5zM1730 1309h3v24.5h-3zM1567.5 1225h2.5v3h-2.5zM1896.5 1282.5h2v28h-2zM1571 1143.5h3v16.5h-3zM1694 1226.5h3v3h-3zM1873 1282.5h2v4.5h-2zM1979 1315.5h3v3h-3zM1913.5 1178.5h2.5v19.5h-2.5zM1993.5 1168.5h2v7.5h-2zM2055 1207.5h2v20h-2zM2098 1223.5h2v16h-2zM1828 1245h2v3h-2zM1765 1319h2v6h-2zM1784.5 1339.5h3v5.5h-3zM1723.5 1140h2v3h-2zM2117 1233h3v37h-3zM2090.5 1159h2.5v5.5h-2.5zM1860 1256.5h5v8h-5zM1971.5 1202.5h3v18h-3zM1807 1215.5h3v11.5h-3zM2173.5 1157h2v10h-2zM1786.5 1201h3v29.5h-3zM1665.5 1269h3v6.5h-3zM1545 1214h4v4.5h-4zM1669 1223.5h4v3h-4zM1914 1270.5h3v27h-3zM1694.5 1228h2v6h-2zM1926 1184h2v3.5h-2zM1745.5 1189.5h3v3h-3zM1501.5 1188.5h2v3h-2zM1646 1187h2.5v3h-2.5zM1814 1199.5h2.5v42h-2.5zM1743.5 1217.5h2v25.5h-2zM1927 1249h2v4h-2zM1917 1257h2.5v10h-2.5zM1889 1357h5v3h-5zM1450 1188.5h2v4.5h-2zM1769 1169.5h2v3h-2zM1886 1230.5h2.5v12.5h-2.5zM1985 1136h3v10h-3zM1742.5 1283h5v5.5h-5zM1900 1151.5h4v3h-4zM2173 1164h5v29h-5zM1786 1197.5h2v15h-2zM1733.5 1232h3v18h-3zM2121 1224.5h3v6h-3zM1671 1183h2v12h-2zM1521 1215h2.5v7h-2.5zM1739.5 1243h2v4.5h-2zM1713.5 1223h2v4.5h-2zM1856.5 1250.5h4v4h-4zM2087.5 1180.5h5v7.5h-5zM1778 1287h3v17.5h-3zM2118.5 1327.5h3v22.5h-3zM1951.5 1227.5h2v3.5h-2zM1874.5 1356h4v22.5h-4zM2111 1225.5h4v14.5h-4zM1859 1238.5h2v3.5h-2zM1829 1282h2v42h-2zM1748.5 1211h3v19h-3zM2116 1145.5h5v15.5h-5zM1829 1193.5h2v9.5h-2zM1471 1149h2.5v14.5h-2.5zM2145 1214.5h2.5v4.5h-2.5zM1662.5 1271h5v30h-5zM1750.5 1231h2v3h-2zM1984 1146.5h3v17.5h-3zM1584 1180h2v5.5h-2zM1570 1152h3v20.5h-3zM1857 1231h2.5v4h-2.5zM2123.5 1201.5h5v34h-5zM1573.5 1152.5h2v39h-2zM1502.5 1180.5h2v18h-2zM2031 1229.5h2v7h-2zM1878.5 1386h3v3h-3zM1778.5 1249.5h3v18.5h-3zM1930 1295h3v18h-3zM1510.5 1214.5h5v9.5h-5zM1755 1308.5h4v8h-4zM1585.5 1233h5v8h-5zM2121.5 1221.5h2.5v3h-2.5zM1576 1173.5h4v3h-4zM2156.5 1173h2v14h-2zM1655.5 1295h2v3h-2z" fill="#604097"/>
<path d="M1579 1172.5h2v3h-2zM2011.5 1168h4v17.5h-4zM1559 1179h3v16.5h-3zM1679 1170h4v3h-4zM1820.5 1202h3v18h-3z" fill="#2b3595"/>
<path d="M492.5 1219v3M277.5 1328.5v3M304 1347.5v4M454.5 1245v3M575.5 1231v14M222 1343v3M224 1233.5v3M259 1159v11.5M224.5 1334v5.5M221.5 1215v14M393 1335.5v6M288.5 1231v10M328.5 1211.5v8M454 1329.5v3.5M976 1243v8.5M784.5 1260.5v11M928.5 1307v6.5M778.5 1186.5v6M799.5 1245v14M930 1249v4.5M822.5 1139.5v7M888 1311.5v4.5M791.5 1343v8M974.5 1110v5.5M898 1238v9.5M902 1195v5.5M884 1226.5v5.5M955.5 1324.5v14M863.5 1326.5v12M903.5 1219.5v11.5M929.5 1308.5v10M806.5 1335.5v14M930 1286.5v8.5M929 1169.5v3M809.5 1167v5.5M816.5 1382v3M860 1229.5v14M813 1200.5v6M846.5 1325v3M876.5 1243v6.5M946.5 1326v10.5M970.5 1387.5v3M785 1264v3M789.5 1399.5v14M802 1210v6.5M948 1262v3.5M893.5 1254.5v3M908 1260v3M892 1301.5v14M778 1175.5v3M871.5 1297.5v3M1213 1243.5v11.5M1028.5 1316v3M1359.5 1383v8M1186 1248.5v9.5M1050.5 1327.5v5M1369.5 1325v9M1334 1275.5v14M1055 1255.5v14M1021.5 1174v3M1165.5 1347.5v14M1253 1291.5v3M1125 1314.5v7.5M1060 1238v12M1011 1334v3M1059.5 1267.5v14M1015 1316v14M1257 1237.5v4.5M1129.5 1270v3M1376.5 1290v3M1024.5 1158.5v3M1181 1247.5v3M1364.5 1353v5M1198.5 1267.5v14M1181.5 1259.5v14M1213.5 1266v14M1061.5 1258v5M1399 1212v14M1233.5 1331v3.5M1226.5 1272.5v3M1380 1270v4M1420.5 1308v7M1082.5 1284v9.5M1111.5 1223.5v3M1119 1247v3M1265 1280v3M1251.5 1220v9.5M1338.5 1194v3M1117 1275v10M1365.5 1345.5v3M1405 1217.5v11.5M1890.5 1251v14M1472.5 1389.5v10.5M1770 1305.5v6M1856.5 1330.5v3M2070 1308v9.5M1516 1201.5v3M1457 1188.5v3M1583.5 1243v3M1602 1242v4M2147.5 1240.5v14M1828.5 1201.5v3M1868.5 1331v13M1445 1293v10.5M1631.5 1199v4M1566.5 1179.5v12.5M1676 1181v14M1762.5 1359v12M1714.5 1338v3M2004.5 1222v8M1820.5 1208v12M1471.5 1390v13M1734.5 1193.5v3M2160 1316v11M2066 1157.5v14M1545 1301.5v3M2073 1293.5v14M1549 1176v6M1942.5 1277.5v10.5M1781.5 1313v3.5M1714 1272v14M1719 1211.5v3M1628 1232v3M1663.5 1242v3M1641 1335.5v14M2053 1207.5v10M1520 1235v3.5M1923 1375v7.5M1979.5 1339v14M1617 1161.5v9.5M1613 1236v13.5M1929 1345.5v3M1611 1316.5v3M1534.5 1193v14M1482 1188.5v14M2086.5 1399.5v14M2167.5 1195.5v3M1944.5 1296.5v14M2154 1226v6.5M1477 1285.5v3M2063 1334v8M1584 1265v5.5M1955.5 1352v10M1499 1197.5v5M1457 1214.5v14M1905 1163v3M1441.5 1320.5v3M1620 1350v3M1452 1320.5v14M1645.5 1288.5v3M1553.5 1210.5v14M1817 1263v10M1628 1177v7M1709.5 1274.5v9.5M1694 1261.5v14M1856 1117v14M1979 1304v3M1598.5 1315.5v4M1664 1303v9.5M1700.5 1191.5v14M2084 1368v14M1670 1244v14M1761.5 1148.5v5.5M1884.5 1414.5v12.5M1500 1226v8.5M1689.5 1240.5v14M2171.5 1158.5v3M1748.5 1379.5v14M1687.5 1259v9.5M1876.5 1169v4.5M2103 1398v3M2148 1241.5v14M2044 1293v14M1809 1183.5v14M1733 1394.5v4M2061.5 1363.5v5.5M1657 1300v3M2061.5 1247v3M2104.5 1273v4.5M1979.5 1275v3M1571.5 1164.5v7.5M1826 1262v3M1710 1210.5v5.5M1812.5 1202.5v3M1765 1310v11.5M1528 1201v14M1981.5 1288.5v14M1778.5 1242v11M1552.5 1211.5v14M1682 1276.5v7.5M1803 1283v14M1813.5 1278.5v3.5M2042.5 1129v11M1642.5 1250.5v14M2134 1335.5v8.5M1802.5 1237.5v13.5M1730.5 1356v3M1746.5 1184v14M2139 1148v14M1504 1204v11M1460.5 1323.5v3.5M2052.5 1294v4M1881 1288.5v5.5M1742.5 1202v3M1906.5 1297v7.5M1747 1256.5v3M1626 1366v14M2173.5 1224v5M1868 1162.5v6M1812 1317v3M2166.5 1289v14M1550 1194v14M2152 1202.5v3.5M1988.5 1322v12M1829.5 1245.5v3M2167 1137.5v3.5M1728 1156v5.5M1879.5 1396.5v14M1505.5 1202.5v9.5M1830.5 1283.5v14M2175.5 1206v4M1997.5 1236v3.5M1494 1235.5v11.5M1770 1263v14M2078 1305.5v14M1890.5 1334v8.5M2158.5 1163.5v14" fill="none"/>
</g>
<path d="M668.6 894V1038M668.6 1045V1052M668.6 1062V1064M668.6 1078V1094M677 1003V1023M722.8 891V902M744 887V898M736.4 959V961M753.3 1110V1125M702 1138V1165M684.8 1036V1043" stroke="#000" stroke-width="1.8" fill="none"/>
<clipPath id="clipC"><path d="M181 1677h4v1h1v1h1v-3h1v1h1v-2h2v-7h1v6h1v2h2v-1h1v2h3v1h2v-1h4v1h1v-3h1v1h1v-6h1v4h1v-3h1v-2h1v2h1v5h1v1h1v-2h2v1h2v-2h1v-2h1v-6h1v10h3v1h1v1h2v-1h1v1h1v-2h1v-2h1v1h1v1h1v-2h1v3h1v-2h1v-1h1v2h2v-7h1v9h1v-2h1v1h3v-1h1v1h1v-1h1v-1h1v-1h1v1h2v1h2v-1h1v-11h1v10h1v2h1v1h2v-1h1v-1h1v2h2v1h2v-2h2v1h1v1h1v3h1v-3h2v-7h1v6h1v-2h1v2h5v-2h3v1h1v-1h1v1h1v1h2v1h1v-1h1v1h2v-1h1v-1h1v4h1v-4h1v-1h1v-1h1v2h1v-10h1v10h1v-1h1v1h1v1h1v-1h2v-2h1v3h1v-1h1v-1h2v1h2v-1h2v1h2v-1h2v1h1v-1h1v-1h1v1h1v-1h2v4h1v-3h4v-5h1v-5h1v11h2v-6h1v7h2v-1h2v1h1v-1h1v-1h3v-1h3v2h1v4h1v1h1v-6h1v1h1v1h1v-1h1v-1h1v-1h1v-10h1v12h1v-1h1v2h1v-6h1v5h2v-12h1v10h1v2h2v1h3v1h1v-1h2v1h1v-2h1v1h1v-2h2v1h1v-2h1v2h4v1h1v-1h1v1h1v-1h1v-1h1v1h1v-10h1v3h1v6h1v1h2v-1h1v-6h1v8h2v-10h1v2h1v-2h2v9h1v2h1v-1h1v-1h1v3h1v-15h1v10h1v2h1v1h1v-2h1v1h1v-1h1v3h1v-4h1v-8h2v2h1v-1h1v-1h1v12h1v-1h2v-10h1v-2h1v12h1v-2h1v1h1v-1h1v2h1v-2h1v-7h1v8h1v1h1v-1h1v1h2v1h1v-1h1v-1h2v-1h1v1h1v-1h1v2h1v-1h1v-6h2v-1h3v-1h1v3h1v6h3v-2h1v2h2v1h1v-1h1v1h1v-2h1v-1h1v-1h1v2h1v2h1v-2h1v1h1v-4h1v7h1v-3h3v-2h1v-10h1v10h1v1h1v-1h2v-9h1v8h1v2h1v-1h3v2h1v1h1v-2h1v1h2v-2h1v2h2v-1h1v-1h1v1h1v-2h1v2h1v1h1v-2h1v2h1v-2h2v2h1v-3h1v-11h1v13h1v-1h1v2h1v-1h2v-4h1v5h4v-1h1v-1h1v2h2v-8h1v8h1v-1h1v-1h1v1h2v-2h1v2h1v-10h1v11h1v1h3v-2h1v1h1v-1h3v1h2v-2h1v1h1v-10h1v11h1v1h2v-2h1v1h1v-2h1v1h1v1h2v1h4v-2h1v-1h1v-1h1v2h1v-1h1v-1h1v2h1v-2h1v1h1v-1h1v-7h1v4h1v4h2v2h1v-1h2v1h2v-2h1v1h1v-1h1v-1h4v2h2v-1h1v1h1v-7h1v6h1v2h1v-6h1v5h1v1h1v-1h1v1h1v-2h1v-1h1v3h2v-5h1v3h1v1h1v-1h1v-1h1v3h1v1h2v-6h1v5h1v1h1v-1h1v-3h1v3h1v1h1v-2h1v-1h1v-8h1v13h1v-13h1v10h1v-6h1v6h2v-1h2v2h2v-1h1v-1h1v1h1v1h1v397h-1v5h-1v-4h-1v-1h-2v1h-1v-1h-2v6h-1v-6h-1v4h-1v2h-1v-3h-2v2h-1v2h-1v1h-1v1h-1v2h-1v4h-1v-2h-1v3h-1v-2h-1v7h-1v4h-1v2h-2v2h-2v1h-1v5h-1v-6h-1v-1h-1v6h-1v-5h-2v1h-2v1h-1v1h-1v-1h-1v1h-2v4h-1v-2h-2v1h-1v-1h-1v10h-1v-4h-1v2h-1v5h-2v2h-1v2h-1v6h-1v-2h-1v5h-1v5h-1v10h-1v-3h-1v2h-1v6h-1v12h-1v-2h-1v4h-1v1h-2v1h-1v5h-1v2h-1v5h-1v-7h-1v-1h-1v-1h-1v-2h-1v4h-1v-7h-3v-2h-1v-1h-2v5h-1v-6h-2v-3h-1v-1h-2v-1h-1v1h-1v-2h-2v-2h-2v-1h-1v-1h-1v-1h-1v-1h-3v-2h-1v-1h-3v-2h-1v2h-1v-7h-1v-2h-2v1h-1v-5h-2v-1h-1v-2h-2v-2h-2v-2h-2v-2h-1v-3h-1v-1h-1v-1h-1v-5h-1v2h-1v-1h-1v-3h-1v-2h-1v-3h-1v7h-1v-7h-2v-2h-3v-2h-1v1h-1v1h-1v-3h-1v3h-2v4h-1v-6h-1v1h-1v-3h-1v1h-1v-1h-2v-1h-1v-1h-1v1h-2v-1h-1v3h-1v-4h-1v-4h-1v-5h-1v-6h-3v2h-2v8h-1v-4h-1v-1h-1v5h-1v1h-1v2h-1v2h-1v2h-1v9h-1v-4h-1v4h-1v5h-1v-3h-1v3h-1v3h-1v3h-1v2h-1v3h-1v3h-1v2h-1v2h-1v1h-1v4h-1v2h-1v2h-1v4h-1v3h-1v3h-1v6h-1v-2h-1v4h-1v7h-1v-2h-1v2h-1v7h-2v6h-1v-3h-1v4h-1v2h-1v5h-1v-1h-1v2h-1v3h-1v1h-1v1h-1v3h-1v3h-1v1h-1v3h-1v-4h-1v-1h-1v-1h-1v-1h-1v5h-1v-5h-1v-1h-2v5h-1v-10h-3v-1h-1v-2h-2v-1h-1v-2h-1v5h-1v-7h-1v3h-2v-5h-1v-7h-1v-1h-1v-3h-2v-1h-3v1h-1v-4h-1v-1h-3v-1h-1v-1h-2v5h-1v-8h-1v-1h-1v-3h-2v-3h-1v-3h-1v2h-2v-9h-1v-2h-1v-3h-1v-2h-1v-2h-1v-2h-1v-2h-1v-2h-1v-1h-2v-5h-1v6h-1v-9h-2v4h-1v-8h-1v-2h-1v-2h-1v2h-1v-7h-1v-1h-1v2h-1v1h-1v-7h-1v-1h-1v4h-1v-6h-1v4h-1v-4h-1v1h-1v-2h-1v4h-1v1h-1v-5h-1v-1h-1v-3h-1v3h-1v1h-1v-9h-1v-4h-1v-1h-1v-3h-1v-3h-1v-2h-1v8h-1v-4h-1v2h-1v1h-1v6h-1v-1h-1v2h-1v1h-1v4h-1v-3h-1v3h-1v4h-1v-2h-1v3h-2v5h-1v-3h-1v4h-1v1h-1v1h-1v4h-1v4h-2v4h-1v2h-1v1h-1v5h-1v12h-1v1h-1v6h-1v7h-1v-2h-1v4h-1v4h-1v-1h-1v-3h-1v4h-1v1h-1v2h-1v2h-1v3h-1v2h-1v1h-1v3h-1v7h-1v-4h-1v4h-1v6h-2v5h-1v-1h-2v1h-1v2h-1v1h-1v1h-1v5h-1v-1h-1v-2h-1v7h-1v-6h-1v2h-1v7h-1v-2h-1v-1h-1v-2h-1v-1h-2v-2h-1v8h-1v-5h-1v1h-1v-1h-3v-2h-1v5h-1v-4h-2v-1h-1v3h-1v-3h-1v-2h-1v3h-1v-4h-1v-1h-1v-2h-1v-1h-1v-2h-1v-1h-1v-2h-1v-2h-1v-2h-1v-1h-1v-1h-1v-2h-1v-2h-1v-1h-1v-1h-1v2h-1v-3h-1v-2h-2v-2h-2v-7h-2v-4h-1v-1h-1v-2h-1v-3h-1v-2h-1v1h-1v-3h-1v-4h-1v-3h-1v-2h-1v-1h-1v2h-1v2h-1v-7h-1v-3h-1v2h-1v-1h-2v-2h-1v-1h-1v-3h-1v1h-1v4h-1v-3h-1v-11h-1v-1h-1v-4h-1v-3h-1v-4h-1v2h-1v-7h-2v-5h-1v5h-1v-10h-1v-3h-1v2h-1v1h-1v-2h-2v-7h-1v3h-1v-9h-2ZM640.5 1668h2.5v1h1v1h1v-2h1v8h1v-1h1v-8h1v7h1v-10h1v2h1v2h3v8h.5v413h-.5v3h-1v-6h-1v-3h-1v2h-1v1h-2v1h-2v2h-1v-1h-1v-1h-2v1h-1v-1h-1.5ZM756.5 1678h1.5v-1h2v1h1v-1h1v-1h1v-2h1v-5h1v6h1v1h1v-1h1v1h1v-1h1v-1h1v1h1v-1h1v-8h1v9h1v1h1v1h1v-2h2v-2h1v3h1v-8h1v1h1v-2h1v8h1v-1h2v1h2v-3h1v6h2v2h1v-2h1v-2h1v1h1v-2h1v3h1v-1h1v-1h2v1h1v-1h1v-7h1v7h1v-1h2v1h2v1h2v-1h2v2h1v-1h1v2h1v-4h3v3h1v-4h1v5h1v-2h1v-1h1v1h1v-1h1v1h1v-1h2v-9h1v-2h2v1h1v2h1v-2h2v1h1v10h1v-1h5v-2h2v1h1v-5h1v-3h1v10h1v-2h1v-5h1v4h1v1h1v1h2v-1h1v3h1v-14h1v12h1v-5h1v5h1v-9h1v9h1v-7h1v7h1v-1h3v-1h2v3h1v-2h1v-1h1v2h2v1h1v1h3v-2h1v1h2v1h3v-1h1v1h1v-9h1v6h2v1h1v-1h1v-1h1v1h3v-1h1v-5h5v-1h2v1h1v6h1v1h1v1h1v1h1v-2h1v-1h1v1h3v-1h1v1h1v-5h1v4h1v-8h1v10h1v-1h1v-1h2v-1h2v-8h1v9h1v1h1v1h1v-6h1v6h3v1h1v-2h1v1h1v-2h1v1h1v1h1v-1h2v1h2v-1h2v-1h1v1h1v1h1v-1h5v-1h1v-4h1v6h2v-9h1v8h2v-4h1v4h1v1h1v-1h2v4h1v-2h1v-3h1v5h1v-4h2v2h1v-3h1v-1h2v2h1v-1h1v2h1v-1h1v-1h1v1h1v1h1v-1h1v-2h1v1h1v-1h1v2h1v-1h1v2h1v-2h2v-1h1v1h1v1h1v1h2v2h2v-9h1v6h1v-1h1v1h2v-1h1v2h2v5h1v-5h1v-2h1v-1h1v1h2v1h4v1h3v1h1v-3h1v2h1v-1h1v-1h1v1h1v-2h1v1h1v1h1v1h2v-1h1v1h1v-2h1v1h1v-10h1v10h1v-7h1v9h1v1h1v-1h1v-1h1v1h1v-1h2v-1h2v1h1v-1h1v1h1v1h1v1h1v-1h3v-1h1v-6h1v6h3v1h1v-9h1v9h1v-2h1v1h1v-2h1v2h2v2h1v-7h1v4h1v-5h1v6h1v1h1v-8h1v6h1v1h1v-1h1v1h3v-2h1v-7h1v7h1v1h1v-1h2v1h1v-2h3v-4h1v7h1v-1h1v-1h1v1h4v-1h1v2h2v-2h1v1h2v1h1v-1h3v-1h1v-1h2v2h1v-1h2v2h1v-2h2v-5h1v5h2v1h3v2h3v-8h1v9h1v-2h2v-1h1v-1h1v-8h1v10h1v-1h2v-1h1v-1h1v1h1v-10h1v11h1v1h1v-1h1v-10h1v9h1v1h1v2h1v-3h3v1h1v-2h1v2h1v-1h2v1h2v1h2v-1h1v1h1v-1h2v-1h1v2h1v1h1v-1h4v-8h1v8h1v-2h5v2h1v-2h1v-1h1v1h2v2h1v-2h1v-1h1v2h2v-1h1v2h1v1h1v-2h1v1h1v-1h1v-1h1v-1h1v1h1v1h1v1h1v-1h1v1h1v-6h1v7h1v-1h2v1h2v1h1v-2h2v-2h1v1h1v2h1v1h1v-4h1v1h1v-1h1v2h1v-2h1v1h1v-11h1v4h1v1h1v5h1v1h1v-1h3v1h1v1h1v-1h2v1h1v-2h1v-1h2v-16h1v9h2v-4h1v12h1v3h1v-3h1v2h2v-2h1v1h1v-6h1v8h1v-1h1v-2h1v-3h1v5h1v-7h1v7h2v-1h1v1h1v-1h1v-10h1v1h1v9h2v-6h1v8h1v-3h1v1h1v-9h1v10h1v1h1v-2h3v-2h1v5h1v-13h1v8h2v1h1v-1h1v1h1v-1h1v1h1v2h1v-2h1v1h1v-1h1v2h2v-1h2v-3h1v5h2v1h1v-1h1v-1h1v-1h3v-6h1v-3h1v10h2v-2h5v1h1v2h1v-3h2v1h2v-2h1v2h1v-1h1v1h1v-1h1v1h1v2h1v-3h1v2h1v-1h4v-1h1v3h1v-5h1v5h2v-8h1v1h1v6h1v-2h1v2h1v-7h1v-2h2v1h1v6h1v-2h1v4h1v-1h1v1h1v-6h2v5h1v-2h1v4h2v-1h1v-1h3v-12h1v10h1v-5h1v6h2v1h1v1h1v1h1v-1h1v1h1v-1h2v-11h1v9h2v-5h1v6h1v-1h1v-8h1v-1h2v1h1v2h1v9h2v-2h1v-1h1v2h1v-1h2v2h1v-3h1v1h1v-1h1v-1h1v2h2v1h1v1h1v-11h1v1h2v-1h1v10h1v-1h1v1h1v-13h1v2h1v8h1v-1h1v1h2v2h1v-3h1v1h2v1h3v1h1v1h2v1h2v-2h1v-6h1v-2h1v-1h1v2h2v8h1v-1h3v-1h1v-8h1v10h2v-1h1v-1h1v1h2v1h1v1h1v-2h1v-1h2v2h1v-1h1v1h1v-1h1v1h1v-6h1v3h1v2h1v1h1v-1h1v-1h1v1h1v-4h2v3h2v-1h1v1h1v1h1v-1h1v1h1v1h1v-5h1v4h1v-1h1v2h1v1h3v-2h2v-6h1v5h1v-7h1v7h1v1h1v-1h1v1h1v-4h1v5h1v-1h1v-1h1v-9h1v9h1v-1h1v2h1v-1h2v-8h1v9h1v1h1v-1h1v1h1v-1h1v-1h2v-1h2v1h1v1h2v1h1v1h1v3h1v-5h1v-1h1v1h1v1h1v-3h1v2h1v2h1v-9h1v6h1v-1h1v2h2v1h1v-1h1v-1h1v-1h1v4h1v-4h1v2h3v2h1v-2h1v1h1v-10h1v10h1v-1h1v1h2v-1h1v1h1v-1h1v-1h1v2h1v-2h1v1h2v1h1v-7h1v-10h1v7h1v-1h2v1h1v-1h1v2h1v9h3v-1h1v2h1v-2h2v-1h1v-1h1v2h1v1h2v-1h1v1h1v-6h1v1h2v-2h1v1h2v1h1v5h1v-2h1v-1h2v1h1v1h1v-1h1v1h1v1h2v2h1v-4h2v1h2v-1h2v-1h1v1h1v-1h1v2h1v2h1v-11h2v-1h1v-10h1v7h1v3h1v1h1v9h1v-1h2v2h2v-1h1v1h3v1h1v-1h2v-1h1v-1h1v1h1v-1h1v-1h1v2h1v1h1v-10h1v11h1v-6h1v5h1v-1h2v-15h1v3h1v5h1v-10h1v10h2v8h1v-1h1v1h2v-1h1v-1h1v1h1v2h1v-4h1v-1h2v2h1v2h1v1h1v-3h1v2h1v2h1v-3h1v-11h1v11h6v1h1v-1h1v1h1v-1h1v2h1v-1h1v-5h1v6h2v-9h1v-6h1v7h1v-2h1v-11h1v9h2v9h2v1h1v1h1v-2h1v1h1v1h1v-1h2v-10h1v5h1v5h1v1h1v-1h1v1h3v-1h1v4h1v-9h1v-1h3v1h1v-2h1v7h1v-2h1v2h2v1h1v1h1v-2h1v1h1v-2h3v2h1v-3h1v1h1v1h3v-1h2v1h1v1h2v1h1v-1h1v-2h1v2h1v-2h2v2h1v-1h1v1h1v-2h1v2h2v-8h1v8h6v-9h1v8h1v2h1v-1h1v1h1v-2h1v-1h1v1h1v-9h1v9h1v-1h2v-6h1v7h1v1h1v-1h2v2h1v-1h1v-2h1v-8h1v8h1v2h1v-1h1v-1h3v1h2v-1h3v1h1v-1h1v-7h2v1h1v-1h1v-3h1v11h1v-2h1v2h1v-1h1v-1h1v2h1v-1h3v-1h3v1h1v1h1v4h1v-2h1v-2h1v-2h1v-9h1v13h1v-3h1v-7h1v7h2v-1h1v2h2v1h1v-1h1v-1h1v-1h1v2h1v-9h1v11h2v-2h1v-2h1v2h2v-1h1v2h1v-2h1v2h2v1h2v-6h1v4h1v-1h1v-1h1v2h1v1h1v-3h1v2h1v-1h1v-1h1v2h1v-1h1v1h1v1h1v1h2v-1h1v-2h1v-1h1v1h1v5h1v-5h2v-1h1v2h1v-1h1v1h1v-1h1v-1h1v1h1v1h1v1h1v1h1v-4h1v3h1v-2h1v-8h1v9h1v1h2v-1h1v-9h1v9h1v-1h1v-1h1v-11h1v8h1v5h1v1h1v-2h1v-6h1v11h1v-2h1v-1h2v1h1v-1h3v1h4v-2h1v-1h1v2h1v-10h1v8h1v1h1v-1h1v-9h1v11h1v2h1v-4h1v-1h1v2h2v-1h2v-1h1v-9h1v9h2v-1h1v-10h1v5h1v2h2v1h1v-7h1v7h1v4h1v2h6v-1h2v-1h1v1h2v-1h2v-11h1v12h2v-1h1v-1h1v1h2v-1h2v1h3v-1h1v-9h1v11h1v1h1v-1h2v1h1v-1h2v-1h3v1h1v-1h1v-1h3v2h1v-8h1v-1h2v1h1v-1h1v3h1v4h1v-9h1v9h1v2h1v1h1v-3h1v4h3v-1h1v-1h1v-1h1v1h1v1h1v-2h3v1h1v-2h2v1h1v1h1v-1h1v-4h1v5h1v1h1v1h1v-2h1v1h1v-1h1v-2h1v2h1v-1h1v1h3v1h1v-2h1v4h1v-3h3v2h2v-8h1v6h1v-7h1v8h1v-7h1v6h1v-1h1v1h2v1h1v-1h2v-1h1v2h1v-2h5v2h1v-2h1v1h1v-8h1v7h1v-1h1v-1h3v1h1v2h3v-1h1v1h2v1h1v-1h1v-5h1v3h3v-7h1v7h2v-10h1v12h1v1h1v1h3v-1h1v-7h1v8h1v-1h1v-8h1v-3h1v10h1v-1h2v2h3v-2h1v1h1v-2h1v2h5v-1h2v1h1v-1h2v-7h1v10h2v-2h2v-1h1v2h2v-2h2v-1h1v2h1v-5h1v3h2v5h1v-4h1v-1h1v2h1v2h4v-1h2v-1h1v1h1v-1h1v-1h1v1h2v1h1v-2h1v1h2v-8h2v-1h1v1h2v-1h1v6h1v2h1v1h1v1h1v-2h1v2h2v-1h1v-7h1v9h3v-3h2v1h1v-1h1v2h1v-11h1v-4h1v5h1v1h1v-1h1v-8h1v9h1v2h1v7h1v-9h1v8h1v1h2v-7h1v6h1v-2h1v1h2v1h1v-5h1v3h1v-3h1v4h2v1h1v-1h1v1h2v1h1v-1h2v-2h2v1h1v-10h1v10h1v-5h2v-3h1v9h1v1h1v-1h3v-1h1v411h-1v12h-1v-3h-1v2h-1v1h-1v1h-1v1h-1v4h-1v-6h-1v-1h-1v-2h-1v1h-2v1h-1v1h-1v1h-1v-1h-1v2h-2v1h-1v5h-1v-3h-1v-3h-1v3h-1v-1h-1v2h-1v3h-1v-2h-1v1h-1v2h-1v4h-1v-2h-2v1h-1v2h-3v2h-1v2h-1v2h-1v-2h-1v4h-1v1h-1v2h-1v4h-1v-1h-1v4h-3v5h-2v-1h-1v3h-1v-3h-1v5h-1v1h-2v3h-1v1h-1v1h-1v1h-1v3h-2v1h-1v1h-1v2h-1v1h-1v1h-2v1h-1v2h-1v3h-1v-2h-1v2h-1v2h-1v-2h-1v4h-1v5h-2v-2h-1v2h-1v11h-1v-6h-1v-1h-1v-1h-1v4h-1v5h-1v-1h-1v-4h-1v5h-1v8h-1v-4h-1v7h-1v-5h-1v8h-1v-2h-1v4h-1v-4h-1v1h-1v2h-1v5h-1v2h-1v-3h-1v4h-1v-3h-1v7h-2v-5h-1v1h-2v-1h-1v-1h-1v5h-1v-10h-1v-1h-1v-3h-1v-2h-1v-2h-1v-4h-1v2h-1v-8h-1v-3h-1v-3h-1v-4h-1v-2h-1v3h-1v-8h-1v-2h-3v-8h-1v-2h-1v-4h-1v-1h-1v3h-1v-10h-1v-4h-1v-5h-2v-4h-1v-2h-1v-3h-1v-3h-1v3h-1v-5h-1v-1h-1v3h-1v-7h-1v-1h-1v3h-1v-6h-1v-1h-1v-5h-1v1h-1v2h-1v2h-1v-6h-3v-2h-5v2h-1v-6h-1v-1h-1v-2h-1v-3h-1v1h-2v2h-2v1h-1v1h-1v3h-1v8h-1v-7h-1v1h-1v2h-1v1h-2v1h-1v1h-1v1h-1v1h-1v1h-1v1h-1v1h-1v1h-1v1h-1v-4h-1v3h-1v1h-2v1h-1v7h-1v-6h-1v-1h-1v3h-1v2h-2v7h-3v9h-1v-4h-1v3h-1v2h-1v3h-1v8h-1v-6h-1v2h-1v1h-1v7h-1v-5h-1v2h-1v2h-1v4h-1v-2h-1v2h-1v-6h-1v-2h-1v3h-1v-1h-1v7h-1v-7h-1v3h-1v-2h-1v-1h-2v6h-1v-5h-1v1h-1v2h-1v1h-1v5h-1v-4h-1v1h-1v-1h-2v5h-1v-4h-1v-1h-1v6h-1v-4h-1v-1h-2v1h-1v4h-1v-3h-1v2h-5v2h-2v1h-1v-1h-1v3h-1v-2h-1v6h-1v1h-1v1h-1v2h-1v7h-1v-6h-1v3h-1v5h-2v-1h-1v3h-1v1h-1v3h-2v3h-2v1h-1v3h-1v2h-1v1h-2v8h-1v-4h-3v3h-2v2h-1v2h-2v1h-1v6h-1v-3h-1v2h-1v-4h-3v7h-1v-7h-2v1h-1v3h-1v-4h-1v-2h-2v-2h-1v4h-1v-4h-1v4h-1v-6h-2v-1h-1v-1h-1v-2h-1v4h-1v-6h-1v-1h-1v-3h-1v-2h-1v3h-1v-4h-1v1h-1v-8h-1v-1h-1v-4h-1v-4h-1v4h-1v-10h-1v-2h-1v-3h-1v-2h-1v-1h-1v-3h-1v1h-1v-7h-1v-2h-1v-1h-1v-3h-1v3h-1v-7h-1v-3h-1v2h-2v-3h-1v-7h-1v-6h-1v4h-1v-5h-1v-6h-1v2h-1v-2h-1v5h-1v-8h-2v-3h-1v-1h-1v-2h-1v-1h-1v-2h-1v-1h-1v5h-1v-8h-1v-4h-1v4h-1v1h-1v-4h-1v1h-1v1h-1v1h-1v1h-1v2h-1v1h-3v2h-2v3h-1v-4h-2v1h-1v-1h-1v7h-2v-1h-1v-3h-2v3h-1v-6h-2v1h-1v1h-1v5h-1v-4h-1v4h-1v-1h-2v3h-1v2h-1v6h-1v-4h-1v2h-1v2h-1v2h-1v5h-1v-3h-1v2h-2v8h-1v-3h-1v2h-1v9h-1v-4h-1v1h-1v6h-1v-1h-1v4h-1v-3h-1v2h-1v1h-1v6h-1v-4h-1v4h-1v-1h-1v6h-1v-2h-1v3h-1v3h-1v4h-1v-1h-1v2h-1v2h-1v3h-1v4h-1v6h-1v-1h-1v3h-1v3h-1v10h-1v-2h-1v-4h-1v7h-1v6h-1v-4h-1v1h-1v3h-1v-1h-1v-1h-2v3h-1v-10h-2v-6h-1v-4h-1v-5h-1v2h-1v-4h-1v-3h-1v5h-1v-11h-2v-4h-1v-3h-1v-2h-1v-2h-1v-2h-1v-3h-1v-3h-1v-3h-1v-3h-1v-4h-1v4h-1v-8h-1v-5h-1v-2h-1v-3h-1v-2h-1v3h-1v-3h-1v-8h-1v-2h-2v-2h-1v-2h-1v-1h-1v-3h-1v3h-1v-5h-1v5h-1v-3h-1v-8h-1v-1h-1v-2h-1v-1h-1v-2h-1v-1h-1v1h-1v-4h-1v3h-1v-4h-1v-1h-1v5h-1v-5h-1v5h-2v-8h-1v-1h-1v-2h-1v6h-1v-8h-1v7h-1v-7h-1v1h-1v1h-1v2h-1v1h-1v5h-1v1h-1v1h-1v-2h-1v6h-1v3h-1v5h-1v-2h-2v2h-1v3h-1v1h-1v4h-1v-3h-1v1h-1v2h-2v1h-1v1h-1v4h-1v7h-1v-5h-1v4h-1v2h-1v1h-2v3h-1v1h-1v3h-1v-3h-1v11h-1v-5h-1v5h-1v-1h-1v5h-2v1h-1v8h-1v3h-1v-6h-1v3h-2v9h-1v-2h-1v3h-1v8h-1v-3h-1v3h-1v1h-1v9h-1v-3h-1v1h-2v2h-1v1h-1v2h-1v2h-1v-1h-2v-1h-1v-2h-1v-3h-1v-1h-1v2h-1v-1h-1v-4h-1v-3h-2v-3h-1v-2h-1v-2h-1v-1h-1v-1h-1v-3h-1v-1h-1v-3h-1v-2h-1v4h-1v-8h-1v-2h-1v2h-1v-5h-1v-3h-1v-2h-1v-4h-1v-1h-1v-4h-1v-1h-1v-2h-1v2h-1v-8h-1v-2h-1v5h-1v-6h-1v-1h-1v-2h-1v-1h-1v-1h-2v1h-1v-1h-1v-3h-1v4h-1v-6h-1v2h-1v-6h-1v-1h-1v-1h-1v-1h-1v-2h-2v-1h-1v1h-1v2h-1v2h-1v2h-1v-1h-1v-1h-1v3h-2v1h-1v3h-1v-4h-1v7h-1v-8h-1v-1h-1v-1h-2v4h-1v-2h-1v-3h-1v6h-1v-7h-1v1h-1v1h-4v-1h-1v2h-1v-4h-1v-3h-1v3h-4v-1h-1v-3h-1v4h-1v3h-1v5h-1v-3h-1v1h-1v-4h-1v5h-1v-5h-1v1h-1v1h-1v1h-1v1h-1v5h-1v-4h-1v7h-1v-5h-2v2h-1v1h-1v8h-1v-7h-1v2h-2v2h-1v6h-1v-5h-1v2h-1v1h-1v5h-1v-3h-1v9h-1v-7h-2v6h-1v1h-1v1h-1v9h-1v4h-1v-5h-1v2h-1v3h-1v3h-1v1h-1v3h-1v3h-1v1h-1v7h-1v-1h-1v2h-1v1h-1v3h-1v2h-1v1h-1v6h-1v-1h-1v3h-1v2h-1v3h-1v2h-1v3h-1v3h-1v1h-1v3h-1v9h-1v-6h-1v1h-1v1h-1v2h-2v1h-1v1h-1v-1h-1v-2h-3v-5h-1v2h-1v-10h-1v-6h-1v-4h-1v-4h-1v-4h-1v-4h-1v-2h-1v-5h-1v-4h-1v-6h-1v-3h-1v-5h-1v-3h-1v-4h-1v3h-1v-5h-1v2h-1v-8h-1v-3h-1v-1h-1v-2h-1v-2h-2v4h-1v-6h-1v-4h-1v1h-1v-2h-1v4h-1v-7h-2v-2h-1v-2h-1v-1h-4v1h-1v-2h-1v-1h-2v-1h-1v2h-1v-8h-1v4h-1v-2h-1v1h-1v1h-1v8h-1v-6h-1v4h-1v-3h-2v2h-2v1h-3v7h-1v-6h-1v1h-1v1h-1v7h-1v-1h-2v3h-2v2h-1v1h-1v1h-1v2h-1v8h-1v-5h-1v8h-1v-7h-1v6h-1v1h-2v2h-1v5h-1v1h-1v4h-1v4h-1v2h-1v4h-1v2h-1v4h-1v3h-1v4h-1v2h-1v8h-1v5h-1v-3h-1v1h-1v3h-1v3h-2v6h-2v2h-1v1h-1v-1h-1v2h-1v2h-1v1h-1v1h-2v2h-2v1h-1v2h-1v4h-1v-6h-1v-2h-1v-1h-1v6h-1v-6h-1v3h-1v-5h-2v-2h-2v-1h-1v5h-1v-1h-1v-6h-1v-3h-2v-3h-1v-1h-1v-1h-1v3h-1v-4h-1v-1h-1v-2h-1v-3h-1v10h-1v-3h-1v-7h-1v3h-1v-6h-1v-2h-1v4h-1v-4h-1v-6h-1v-1h-1v-1h-1v-1h-1v4h-1v-5h-3v-1h-1v1h-1v7h-1v-7h-1v3h-1v-5h-1v-1h-1v-2h-1v-1h-1v-1h-1v-3h-1v5h-1v-6h-2v-1h-1v-1h-1v-1h-1v-2h-2v-1h-1v5h-1v-5h-1v1h-2v6h-1v-5h-1v-1h-3v3h-1v-4h-1v-3h-1v-2h-1v4h-1v-6h-1v-1h-1v1h-1v-2h-1v-5h-1v4h-1v-7h-1v3h-1v-7h-1v5h-1v-7h-1v3h-1v-6h-1v-3h-2v-3h-1v-1h-2v-1h-1v6h-1v-7h-2v1h-1v3h-2v-5h-1v5h-1v-7h-1v-2h-1v6h-1v-7h-1v3h-2v-8h-1v-3h-1v-3h-1v-3h-1v-4h-1v-3h-1v-5h-1v5h-1v-7h-1v-3h-2v-5h-1v3h-2v1h-1v-1h-1v2h-1v1h-1v2h-1v1h-1v7h-1v-4h-1v2h-1v-1h-1v1h-2v2h-1v1h-1v-1h-1v2h-1v3h-1v-5h-1v4h-2v1h-1v3h-1v3h-1v4h-1v-2h-1v3h-1v7h-1v-4h-1v1h-1v3h-1v7h-1v1h-1v-4h-1v2h-1v5h-1v1h-1v3h-1v-1h-2v3h-1v3h-1v4h-1v2h-1v8h-1v-2h-1v8h-1v-9h-1v7h-1v4h-2v1h-2v-1h-4v-1h-1v6h-1v-8h-1v-1h-1v-2h-1v4h-1v-11h-1v-1h-1v-6h-1v-2h-1v1h-1v-4h-1v-7h-1v-2h-1v-5h-1v5h-1v-1h-1v-7h-1v-6h-1v1h-2v-1h-1v-1h-3v-2h-1v-2h-1v1h-1v-5h-1v-2h-1v-2h-1v-1h-1v-1h-1v6h-1v-6h-1v6h-1v-5h-2v6h-1v-1h-1v-1h-1v-2h-1v1h-1v3h-1v4h-1v-5h-1v-2h-1v-2h-1v-1h-1v-3h-2v-2h-1v2h-1v-1h-1v-1h-2v-2h-1v7h-1v-5h-1v1h-1v-1h-1v1h-1v1h-1v3h-1v-1h-1v4h-1v-3h-1v2h-2v1h-1v1h-3v-1h-1v-1h-1v1h-1v-2h-1v-1h-1v-1h-1v6h-1v-6h-1v-1h-1v-1h-2v-2h-2v-1h-1v4h-1v-7h-2v7h-1v-1h-1v5h-1v-1h-1v1h-2v2h-1v2h-1v6h-1v-4h-1v2h-3v3h-2v2h-1v1h-1v1h-1v8h-1v-1h-1v3h-1v6h-1v7h-1v-6h-1v6h-1v9h-1v-4h-1v4h-1v3h-1v5h-1v-1h-1v6h-1v-1h-1v4h-1v7h-1v-1h-1v6h-1v2h-1v3h-1v2h-1v1h-1v1h-1v2h-1v1h-1v-1h-1v5h-1v2h-1v3h-1v6h-1v-1h-1v2h-1v1h-1v3h-1v1h-1v6h-1v-3h-1v5h-1v-2h-1v-2h-1v-6h-2v1h-2v-1h-3v1h-1v-1h-1v-2h-1v7h-1v-8h-1v-2h-1v-1h-1v4h-1v-6h-1v-1h-1v-2h-1v4h-1v-7h-2v-2h-1v5h-1v-8h-1v-1h-1v-1h-1v-1h-1v-1h-2v3h-1v-1h-1v-7h-1v-1h-2v-2h-1v3h-1v1h-1v-1h-1v-7h-1v-1h-2v3h-1v-2h-1v-6h-2v-3h-1v5h-1v-6h-1v3h-1v-7h-1v-1h-1v4h-1v-5h-1v-2h-1v5h-1v-8h-1v-1h-1v-2h-1v-1h-1v1h-1v-7h-1v-2h-1v-3h-1v-2h-1v3h-1v-2h-1v-2h-1v-8h-1v1h-1v-6h-1v2h-1v-1h-1v-8h-1v1h-1v2h-1v-7h-2v-1h-1v-1h-2v3h-1v-5h-1v-3h-1v2h-1v1h-1v-1h-1v-2h-4v5h-1v-7h-1v-1h-1v-2h-1v-3h-1v-3h-1v-3h-1v-2h-1v2h-2v5h-1v-4h-1v1h-1v3h-2v-1h-1v2h-1v4h-1v-4h-1v1h-1v3h-1v-3h-1v2h-1v1h-1v1h-2v8h-1v1h-1v-5h-1v1h-1v1h-1v7h-1v1h-1v-5h-1v1h-1v3h-1v-4h-3v2h-1v4h-1v2h-1v-1h-1v2h-1v1h-1v2h-1v7h-1v-4h-1v1h-1v10h-1v-2h-3v2h-1v1h-1v1h-1v2h-1v4h-1v-4h-1v1h-1v4h-2v-3h-3v1h-1v1h-1v2h-1v5h-1v-2h-1v1h-1v2h-1v3h-1v1h-1v3h-1v3h-1v12h-1v-3h-1v1h-1v6h-1v3h-1v-1h-1v4h-1v1h-1v8h-1v-3h-1v1h-1v2h-1v5h-2v1h-1v3h-1v2h-1v4h-1v-2h-3v-2h-1v-2h-1v-3h-1v-3h-1v-2h-1v-4h-1v-1h-2v5h-1v-1h-1v2h-2v2h-1v1h-1v2h-1v2h-1v2h-1v8h-1v-4h-2v1h-1v8h-1v-6h-2v-2h-2v-1h-1v2h-1v-4h-1v-4h-1v-2h-1v-1h-1v-3h-1v-2h-1v-2h-1v-2h-1v-4h-1v-1h-1v-4h-1v-1h-1v-5h-1v-2h-1v-3h-1v-3h-1v-1h-1v-3h-1v-2h-1v-3h-1v-3h-1v-1h-1v-7h-1v-3h-1v-3h-1v-3h-1v-3h-1v-1h-1v2h-1v-3h-1v-6h-1v-2h-1v-2h-1v-3h-1v-2h-1v-2h-2.5ZM658.5 1675h1.5v413h-1.5ZM668 1675h1v429h-1ZM684.5 1675h1v439h-1ZM702 1675h1.5v419h-1.5ZM709.5 1675h1.5v409h-1.5Z"/></clipPath>
<g clip-path="url(#clipC)" stroke="#000" stroke-width="2.2" stroke-linejoin="round">
<rect x="180" y="1656" width="2011.6" height="560.3" fill="#2b1a73" stroke="none"/>
<path d="M160 1931h22v-1h4v6h2v4h2v2h2v7h2v3h2v8h2v5h2v3h2v2h2v-6h2v-4h2v-2h2v-6h2v4h2v1h2v-4h6v1h2v7h2v7h2v2h2v7h2v6h4v-1h2v-12h2v-10h2v-2h4v-6h2v-2h2v-8h2v-6h2v-8h2v-1h2v3h4v9h2v-8h2v-4h2v-5h2v-6h2v8h2v3h2v11h2v-4h2v-3h2v6h2v-8h2v2h2v2h2v7h2v8h2v9h2v6h2v5h2v8h2v3h2v5h2v2h2v-5h2v-2h2v-2h2v-1h2v1h2v-2h2v-4h2v-3h2v-3h2v-5h2v-1h2v3h4v-6h2v-5h2v2h2v7h2v2h2v-6h2v8h2v-2h2v5h2v3h2v-5h2v-3h2v-8h2v-5h2v12h2v2h2v5h2v3h2v4h2v5h2v4h2v1h2v3h2v4h2v-2h2v3h2v-4h2v-3h2v-1h2v-3h2v2h2v-3h4v3h2v4h4v-2h2v-8h2v9h2v4h2v1h2v4h2v-1h2v7h2v6h2v2h2v3h2v-2h2v-4h2v-1h2v-13h2v6h2v-6h2v-9h2v-2h2v-3h2v-4h2v-1h2v-2h2v-2h2v4h8v-6h2v-1h2v-2h2v-3h2v-4h2v1h2v1h2v-3h2v2h2v6h2v1h2v-3h2v11h2v6h2v1h2v7h2v2h2v3h2v6h2v8h2v-3h2v6h2v3h2v2h2v2h2v-3h2v-6h2v-1h4v-5h4v-8h4v-1h2v-5h2v4h2v-9h2v-2h2v-5h2v1h4v-4h2v-3h2v-2h2v-11h2v-8h2v-11h2v3h2v-4h2v6h2v6h2v-1h2v-9h4v1h2v3h2v-3h2v-8h2v-14h2v-9h2v-5h2v-5h2v7h2v10h2v22h2v5h2v14h2v3h2v5h2v3h2v7h2v3h2v1h2v4h2v1h2v-7h2v1h2v1h2v-1h2v-3h2v-3h2v-2h2v-5h2v-3h2v1h2v-2h2v-2h2v-4h2v-8h2v-4h2v-3h4v3h2v-3h2v4h2v4h2v2h2v-11h2v11h2v4h2v1h2v-1h2v-2h2v3h2v-2h2v3h4v3h2v-1h4v-9h2v9h2v1h2v2h2v5h2v-2h2v1h2v3h2v3h2v-2h4v2h2v-1h2v2h2v-1h4v-2h2v-1h2v1h2v1h2v1h2v2h2v-2h2v-6h2v9h2v-3h2v-8h2v8h2v-5h2v5h2v2h2v1h2v-6h2v4h2v5h2v-2h2v1h2v-3h2v6h2v-10h2v16h2v-13h2v2h2v7h2v2h2v13h2v-2h2v-4h2v-5h2v-8h2v-3h2v-5h2v-7h2v-4h2v-4h2v-8h2v-5h2v7h2v-4h2v1h2v3h4v4h2v-13h2v14h2v-3h2v-10h2v-2h2v6h2v9h2v1h2v-10h2v-1h2v4h2v9h2v-2h2v1h2v1h2v8h4v18h2v13h2v10h2v-1h2v4h2v12h2v6h2v5h2v-2h2v3h4v-5h2v2h2v-3h2v1h2v1h2v-1h2v-6h2v2h2v-12h2v-3h2v-4h2v-1h2v-2h2v3h2v-2h2v-15h2v6h2v-6h2v-4h2v-7h2v-3h4v-2h2v-13h2v9h2v-3h2v8h2v4h2v2h2v6h2v-1h2v1h2v3h2v5h2v5h2v-8h2v11h2v14h2v-2h2v20h2v6h2v11h2v-12h2v-7h2v-10h2v-7h2v-11h2v-12h2v-11h2v-11h2v-4h2v5h2v-14h2v10h2v5h2v-1h2v-9h2v6h2v-13h2v4h2v-2h2v-3h2v-1h2v-4h2v2h2v10h2v3h4v-3h2v1h4v2h2v-5h2v17h2v-4h2v-11h2v5h4v1h2v5h2v-7h2v-12h2v10h2v-3h2v11h2v5h2v9h2v8h2v-5h2v11h2v6h2v4h2v3h2v5h2v10h2v13h2v12h2v-1h2v-36h2v-46h2v1h2v3h2v-7h2v-9h2v2h2v7h2v-1h2v1h2v6h2v26h2v4h2v1h2v1h2v-1h2v-1h4v-2h2v-4h2v-6h2v-2h2v5h2v2h2v4h2v5h4v17h2v-10h2v8h2v5h2v-8h2v8h2v-4h2v-4h2v-9h2v8h2v-3h2v-1h2v-5h2v-9h2v-1h2v-10h2v-7h2v-15h2v6h2v7h2v-10h2v13h2v6h2v-2h2v-6h2v-6h2v-2h4v14h2v-1h2v5h2v8h2v6h2v2h2v6h2v4h2v11h2v2h2v-8h2v-5h2v3h2v5h2v3h2v-3h2v-1h4v-4h2v-5h2v-8h2v-4h2v-10h2v10h2v6h2v6h2v6h2v6h2v-2h2v-3h2v-5h2v-6h2v-1h2v-19h2v5h4v-7h4v1h2v3h2v1h2v5h2v-1h4v-4h2v-4h2v-9h2v-1h2v1h2v19h2v6h2v5h2v3h2v10h2v1h2v6h2v-10h2v-5h2v-9h2v-4h2v-3h2v-1h2v-4h2v-2h4v-3h2v6h2v1h2v2h2v5h4v1h2v-4h2v-5h2v-5h2v-4h2v-3h2v-2h2v-3h2v-5h2v-8h2v-7h2v1h2v-10h2v9h2v8h2v8h2v-3h2v17h2v2h2v4h2v6h2v3h2v-13h2v-11h2v18h2v20h2v10h2v7h4v-3h2v-5h2v-4h2v-6h2v-3h2v-6h2v-6h2v-3h2v-3h2v5h2v3h4v4h2v1h2v-8h2v10h2v-7h2v1h2v6h2v-12h2v2h2v11h2v-7h2v-2h2v-12h2v-2h2v11h2v5h4v-3h2v-6h2v-1h2v-5h2v-4h2v-3h2v-9h2v-7h2v-3h2v-9h2v-12h2v7h2v-1h2v10h2v-16h2v-2h2v-1h2v2h2v1h2v7h2v-5h2v7h4v5h2v-1h2v1h2v2h2v-1h4v3h2v1h2v-5h2v-3h2v6h2v-1h2v5h2v5h2v-4h2v-1h2v3h2v-9h2v-3h2v-1h2v-1h2v-1h2v1h2v6h2v3h2v-2h4v1h2v-4h2v-2h2v-5h2v-5h2v-11h2v-14h2v-6h2v11h2v11h2v11h2v5h2v10h2v8h2v-3h2v-5h2v2h2v9h2v6h2v-14h2v12h2v-14h2v12h2v3h4v-3h2v-4h2v-8h4v-1h2v-4h2v-9h2v-4h2v-9h2v-6h4v7h2v13h2v-4h2v-12h2v12h2v-3h2v-3h2v-7h2v6h2v3h2v-2h2v13h2v-8h2v11h2v-4h2v-7h2v-8h2v9h2v13h2v15h2v-1h2v-4h6v-1h2v-4h2v9h2v5h2v-1h2v4h2v4h2v-2h2v-3h2v2h2v-9h2v-2h2v-4h2v-10h2v9h6v-1h2v3h2v-1h2v-1h2v2h2v-8h2v12h2v-1h2v-9h2v13h2v-5h2v-6h2v-6h2v2h2v-3h2v-2h2v-5h2v-5h2v-9h2v-8h2v-6h2v-3h2v5h2v7h2v-1h2v-2h2v-3h2v1h4v-1h6v3h2v1h2v-1h4v2h2v2h2v-1h2v5h2v3h2v4h2v3h2v-9h2v11h2v-6h2v10h2v7h2v-6h2v12h4v1h4v-2h2v-7h2v6h4v-2h2v1h2v1h2v1h2v2h4v2h4v-5h2v9h2v7h2v-6h2v8h2v-2h2v1h2v-5h2v1h2v-8h2v-4h2v-13h2v-3h4v-4h4v2h2v-11h2v4h2v-2h2v-7h2v-4h2v-9h2v-8h2v-8h2v-4h2v-5h2v5h2v11h2v5h2v4h2v6h4v-1h2v1h2v-4h4v8h2v-10h2v-2h2v5h2v4h2v1h2v6h2v-5h2v3h2v-4h2v1h2v5h2v4h2v4h2v1h2v3h4v22h2v7h2v11h2v1h2v-3h4v-2h2v-5h2v1h2v-1h2v-3h2v-7h2v-4h2v-7h2v-3h2v-1h2v-1h2v-6h2v-1h2v-1h2v-6h2v-1h2v-6h2v-1h6v8h2v-3h4v-1h2v7h2v-6h2v3h4v2h2v6h2v6h2v3h2v4h4v2h2v-5h2v-7h2v17h2v3h2v5h4v3h2v-2h2v-2h2v-6h2v-1h2v-6h2v-8h2v2h2v-4h2v-3h2v-3h4v-18h2v11h2v-5h2v-6h2v4h2v2h2v3h2v1h2v3h2v2h2v2h2v-3h2v1h2v7h2v14h2v2h2v-8h2v-7h2v3h2v-2h2v1h2v-4h2v9h2v-1h2v-1h2v-2h2v3h2v1h2v-3h2v2h2v1h2v2h2v1h2v-2h2v-1h2v2h2v-6h2v-1h2v-3h2v-4h2v-2h2v-5h2v4h2v-7h2v4h2v-4h2v-2h2v1h2v5h2v-8h4v7h2v-9h2v9h2v-3h2v5h2v6h2v5h2v8h2v-2h2v-2h2v1h2v4h2v-12h2v10h2v2h2v2h2v2h2v-2h2v5h2v-3h2v2h2v-5h2v-3h2v2h2v-3h2v-2h2v1h19.5v310.5h-2051.5Z" fill="#2532a0"/>
<path d="M160 1954h22v1h2v3h2v4h2v3h2v-1h2v1h2v6h2v-1h2v-1h2v5h2v-3h2v6h2v1h2v2h2v-5h2v-4h2v-2h2v-1h2v3h2v3h2v3h2v6h2v2h2v7h2v-1h2v3h4v-1h4v-4h2v-2h2v-2h2v4h2v-2h2v-1h2v1h2v-6h2v3h2v-8h2v2h2v-7h2v-1h2v-6h2v1h2v4h4v7h2v-1h2v6h2v2h4v1h2v-1h2v1h2v7h2v2h2v3h4v1h2v-1h2v-1h2v1h4v-3h2v-1h2v2h2v-1h2v-3h2v-2h2v-4h4v-5h2v-1h2v-2h2v2h2v-2h2v-1h6v-1h2v3h2v1h2v-1h4v2h2v-6h2v-3h2v-6h2v-1h2v4h4v4h2v3h2v8h2v5h2v1h2v7h2v-4h2v12h2v-7h2v2h4v-2h2v-2h2v-3h2v1h2v-5h2v-2h2v-2h2v3h2v5h2v2h2v1h2v-3h2v2h2v1h2v4h2v4h2v1h2v5h2v4h2v6h2v-5h2v2h2v-2h2v-3h2v-4h2v-3h2v-10h2v1h2v-3h2v-2h2v-2h2v2h2v-5h2v2h2v-1h4v-4h2v-1h2v-4h2v-4h4v-3h2v1h2v-3h2v-2h2v2h2v2h2v2h2v2h2v7h2v3h2v8h4v5h2v7h2v3h2v-1h2v6h2v-1h2v4h2v7h2v4h2v-1h2v-1h2v-2h2v-5h2v1h2v-3h2v-2h2v2h2v-4h2v9h2v-9h2v-1h2v-1h2v4h2v-7h2v2h2v4h2v-2h2v2h2v-2h2v-5h4v-1h2v-7h2v-4h2v-2h2v-4h2v-3h2v-4h2v1h2v3h2v8h2v4h2v3h4v3h4v2h2v1h2v-7h2v-4h2v-6h2v-4h2v3h4v1h2v3h2v-3h2v-1h2v2h2v3h2v-1h4v2h2v-2h2v-5h2v-5h2v-4h2v-1h2v-3h2v-4h2v-7h2v3h2v-6h2v-8h2v-5h2v-4h2v3h2v3h4v-3h2v4h2v5h2v-2h2v10h2v-7h2v2h2v2h2v3h2v1h2v-2h2v4h2v-1h4v1h2v1h2v1h2v-3h2v-3h2v12h2v-1h2v4h4v7h2v-8h2v2h2v2h2v8h2v-8h2v1h2v-2h6v2h4v-1h2v-1h2v7h2v-6h2v1h2v-1h4v4h2v-1h2v3h2v1h2v-2h2v-2h2v1h2v1h2v-1h2v1h2v3h2v-2h2v3h2v-1h2v1h2v5h2v2h2v-3h2v8h2v8h2v-6h2v-1h2v-6h2v-7h2v-2h2v-6h2v-5h2v2h2v-9h2v-12h2v-2h4v4h4v2h2v-2h2v2h2v-3h2v6h2v-1h2v-2h2v2h2v-3h6v-7h2v4h2v3h2v5h2v-5h2v6h2v3h2v8h2v4h2v9h2v15h2v8h2v9h2v7h2v4h2v9h4v-2h2v5h2v-1h2v-1h2v5h2v-3h2v1h2v-6h2v3h2v-7h2v-6h2v-2h2v-4h2v-1h2v-3h2v-5h2v-3h4v-2h2v-2h2v-4h2v-2h2v-7h2v-3h4v-1h2v-3h4v-3h2v3h2v-4h2v9h2v3h4v-2h2v2h2v4h2v5h2v10h2v9h2v4h2v13h2v-1h2v6h2v5h2v-3h2v-3h2v-13h2v-10h2v-10h2v-9h2v-5h2v-9h2v-5h2v-1h2v-2h2v2h2v3h2v2h4v-8h4v5h2v-2h2v-3h2v3h2v-1h2v2h2v-1h4v-2h2v8h2v-5h2v2h2v6h2v5h2v-8h4v-3h2v3h2v-1h2v3h4v2h2v-1h2v1h2v2h2v3h2v6h2v5h2v7h2v7h2v6h2v3h2v7h2v6h2v14h2v10h2v5h2v9h2v11h2v1h2v-1h2v2h4v-1h2v-1h2v3h2v-89h2v-18h2v10h2v6h2v11h2v5h2v-3h2v-1h2v-5h2v8h2v3h2v2h2v-4h2v-1h2v-12h2v11h2v3h2v5h2v4h2v-1h2v5h2v-1h2v-1h4v2h2v-2h2v-2h2v-6h2v-2h4v-2h2v-4h2v1h2v-5h2v-4h2v-3h2v-6h2v-4h4v-9h2v5h2v-1h2v-2h2v-1h2v1h2v-1h2v-1h4v-3h2v2h2v6h2v7h2v3h2v10h2v7h2v5h2v6h2v6h2v5h2v1h2v-5h4v1h2v1h2v-1h2v-5h2v-2h2v-2h2v1h2v5h2v3h2v1h2v-1h2v-7h4v3h2v-4h2v-2h2v-3h2v-1h2v-6h2v-4h2v-1h2v-3h2v-1h2v-5h2v9h2v-12h2v3h2v1h2v-1h2v-6h4v1h2v-4h2v-5h2v11h2v5h2v2h2v7h2v6h2v2h2v5h2v3h4v-6h2v-8h2v-9h2v-2h4v-5h2v2h2v-5h2v-2h2v7h2v2h2v4h2v1h2v3h2v2h2v-5h2v-12h2v1h4v-9h2v2h2v-3h2v-10h2v-4h2v-4h2v-2h2v5h2v-1h2v6h2v7h2v6h2v5h2v8h2v5h2v4h2v6h2v5h2v4h2v1h2v1h2v1h2v5h2v-2h2v-1h2v-5h2v1h2v-3h2v-6h2v5h2v-12h2v-4h2v5h2v-5h2v4h2v5h2v-2h8v-1h2v-1h2v-1h2v-3h2v1h2v-2h2v-4h2v4h2v-4h2v1h2v7h4v-1h2v-3h2v-4h2v-5h2v-4h2v-8h2v-4h2v-2h2v-8h2v-3h2v-7h2v-4h2v-6h2v-1h2v1h2v-1h6v-3h4v4h2v-4h2v-3h2v9h2v2h2v1h2v2h2v1h2v3h2v-2h2v-2h2v3h4v1h2v-10h2v9h4v3h2v2h2v-1h2v-2h2v3h2v-1h4v-2h2v-1h2v6h2v-3h4v3h2v2h2v-2h4v2h2v9h2v-13h2v3h2v-1h2v3h2v-1h2v-2h2v7h2v3h2v1h2v10h2v-2h2v1h2v2h2v3h2v7h2v-6h4v-13h2v8h2v-2h2v-1h2v1h2v-1h2v-9h2v2h2v-2h2v-4h2v-2h2v-4h2v-3h4v-4h2v4h2v-13h2v-6h2v1h4v-11h2v3h2v-1h2v2h4v4h2v3h2v3h2v1h2v1h2v2h2v6h2v-3h2v10h2v4h2v7h2v3h2v3h2v3h2v4h2v2h2v3h4v3h2v2h2v-3h2v-4h2v-5h2v-4h2v3h2v-11h2v-4h2v-1h2v-5h2v-2h4v3h2v-3h2v3h2v-1h2v2h2v2h2v3h2v2h2v2h4v-6h2v-1h2v-1h2v-3h2v-3h2v-5h2v-6h2v-1h2v-6h2v-5h2v-3h2v-3h2v-5h2v7h2v-3h2v-2h2v-1h2v1h2v-3h2v-4h2v1h2v3h2v2h2v-2h4v5h2v-2h4v2h2v5h2v2h2v4h4v2h2v8h2v5h2v-2h2v7h2v3h2v4h4v1h2v6h2v-1h2v-2h2v4h2v-4h2v1h2v5h2v-1h2v1h2v-2h2v-3h2v7h2v2h2v2h2v-4h4v2h2v1h2v-3h2v2h2v-1h2v-6h2v1h2v-6h2v-7h2v1h2v-6h2v-9h2v4h2v-2h2v-7h2v-6h2v-2h2v-4h2v-3h2v-5h2v-7h2v-2h2v-6h2v-2h2v8h2v4h2v4h2v2h2v2h2v1h2v-1h2v-1h2v2h2v5h4v-2h2v4h2v-1h2v5h2v2h4v-3h2v1h2v1h2v2h2v3h2v1h2v-2h2v3h2v7h2v5h2v9h2v8h2v15h2v-7h2v-1h2v-3h2v-2h2v-2h2v1h2v-10h2v3h4v-6h4v-6h2v-8h2v5h4v-1h2v-6h2v-4h2v-2h2v-4h2v-6h2v-3h2v-4h2v5h2v-7h2v1h2v10h2v12h2v1h2v-4h2v10h2v8h2v-2h4v2h2v1h2v4h2v-1h2v-4h2v7h4v6h2v-1h2v1h2v1h2v-4h4v-3h2v-3h2v-5h2v-10h2v-4h2v2h2v-6h2v-6h2v1h2v-2h2v-1h2v-6h4v1h2v-1h2v4h2v3h2v5h2v-2h2v3h2v2h4v2h2v2h2v3h4v-1h2v-1h2v1h2v1h2v3h2v1h2v1h2v-3h4v2h2v6h2v3h2v2h4v-3h2v-2h4v1h2v-4h2v-3h4v-2h2v-6h4v-2h2v-1h2v-2h2v-3h6v-1h2v-2h2v-1h2v-1h2v6h2v5h2v-8h2v-2h2v3h2v5h2v-3h2v7h2v5h2v3h2v-3h2v-3h2v6h2v2h2v1h2v2h2v4h4v1h2v-8h2v9h2v-1h2v3h2v-7h2v-1h2v-3h2v2h19.5v292.5h-2051.5Z" fill="#0f5b96"/>
<path d="M160 1968h22v2h2v2h2v1h2v4h2v3h2v2h2v1h2v1h2v1h2v-1h2v1h2v2h2v-2h2v1h2v-2h4v-1h2v-2h4v2h2v6h2v5h2v5h2v4h2v-1h2v9h2v-3h2v-1h2v-2h2v-6h2v2h2v-4h2v-1h2v1h2v2h4v-5h2v-2h2v2h2v-2h2v-3h2v-5h2v-4h2v2h2v2h2v6h2v4h2v-1h2v4h2v5h2v5h2v3h2v7h2v-1h2v-9h2v4h4v2h2v1h2v-3h2v-2h2v-2h2v-1h2v2h2v-7h2v6h4v-1h2v5h2v-6h4v-3h2v-1h2v-4h2v2h2v-2h2v-1h2v-1h2v-1h2v7h2v-5h2v-3h2v-1h2v-2h2v-2h2v-2h2v-5h2v-1h2v-1h2v3h2v1h2v3h2v3h2v3h2v5h2v4h2v1h2v4h4v-2h6v-1h2v-1h2v-4h2v-1h2v-1h2v-3h2v-2h2v2h2v2h2v3h2v2h4v2h2v3h2v4h2v6h2v2h2v7h2v6h4v-2h2v-3h2v1h2v-5h2v-4h2v-5h2v-5h2v-4h2v-5h2v-5h4v-3h2v-3h2v4h2v2h2v-1h4v-4h2v-2h2v-2h2v-1h2v-5h2v1h2v1h2v-4h2v4h2v1h2v2h2v3h2v5h2v2h2v1h2v6h2v7h4v4h2v5h2v4h4v4h2v2h2v3h4v-2h2v-1h2v-3h6v-2h2v-3h2v2h6v-3h2v-2h2v-2h2v-1h4v4h2v-2h4v-3h2v1h2v-1h2v-7h2v3h2v-4h2v-4h2v-3h2v-2h2v-4h2v1h2v4h2v2h2v4h2v6h2v3h2v-5h2v7h4v-3h2v-3h4v-2h4v-4h6v-2h2v1h2v1h2v2h2v-2h2v4h2v7h2v5h2v-1h2v-3h2v-2h2v-3h2v-4h2v-6h2v2h2v-4h2v-10h2v-11h2v-11h2v-2h2v-17h2v6h2v-1h2v3h2v4h4v8h2v-6h2v3h4v1h2v5h2v-2h2v2h2v-6h2v6h2v2h2v3h2v-1h2v3h2v-2h2v-6h2v6h2v4h2v6h2v-1h2v4h2v-1h2v-1h2v-3h2v3h2v3h2v1h2v-2h2v3h2v3h2v-7h2v-5h2v9h2v-1h4v2h4v-1h2v-2h2v1h4v4h2v-4h2v3h2v4h2v-4h2v-2h2v-1h2v2h2v2h2v-1h2v1h2v1h2v3h2v4h2v1h2v3h2v-1h2v5h2v4h2v-1h2v-6h2v-8h2v-4h2v-6h2v-5h2v-5h4v-7h2v-10h2v-3h2v9h2v-5h2v3h2v-2h2v1h2v1h2v-6h2v8h2v2h2v1h2v1h2v-4h2v2h2v2h2v-9h2v5h2v1h2v4h2v-1h2v3h2v4h2v4h2v10h2v8h2v12h2v16h2v-2h2v16h2v-6h2v16h2v-6h2v6h2v1h6v3h2v-11h2v5h2v-2h2v-4h2v-2h2v-3h2v-5h2v-2h2v-2h2v-5h4v-6h2v-2h2v-2h2v-5h2v-3h4v-5h2v1h2v-1h2v-5h2v2h2v-2h2v-2h4v2h2v2h2v-3h2v7h2v-1h4v5h2v2h2v14h2v9h2v8h2v8h2v1h2v8h2v6h2v-3h2v-13h2v-10h2v-2h2v-10h2v-12h2v-4h2v-6h2v-4h2v-1h4v1h2v3h2v3h2v-6h2v3h2v2h2v-1h2v-4h2v-2h4v3h4v1h2v-1h2v1h2v-1h4v2h2v3h2v1h2v-1h4v-2h2v2h2v-1h2v-2h2v11h2v-7h2v3h2v3h2v4h4v4h2v2h2v5h2v9h2v6h2v9h2v11h2v-4h2v10h2v7h2v11h2v4h2v7h2v-2h2v-1h2v2h4v1h6v-13h2v-17h2v-14h2v-8h2v-3h2v-3h2v-1h2v-1h4v3h2v2h2v1h2v-6h4v3h2v2h2v1h2v1h2v8h4v-1h2v1h2v-1h2v-2h2v-5h2v-1h2v-7h2v1h2v-1h2v-4h2v-1h2v-2h2v-1h2v-3h2v-8h2v-4h2v-1h2v-5h2v-1h2v-4h2v-9h2v8h4v-4h4v-2h4v-1h2v1h2v5h2v2h2v5h2v5h2v9h2v8h2v5h2v3h2v5h2v7h2v5h2v-11h2v2h2v3h4v-3h2v-5h4v-3h2v3h2v7h2v10h2v-3h2v-3h2v-3h2v-2h2v-1h2v-3h2v-4h2v-4h2v-6h2v7h2v-8h2v-7h2v-1h2v2h2v-3h2v-1h2v-2h2v-2h2v-2h2v-1h2v-2h4v-2h2v-1h2v-3h4v13h2v2h2v4h2v6h2v5h2v10h2v6h2v-4h2v-7h2v-7h2v-4h2v-3h2v-4h2v-3h2v-2h2v-2h2v-1h2v2h2v2h2v6h2v3h2v-1h2v4h2v2h2v-19h2v2h2v-8h2v4h2v-8h2v-1h2v-7h2v-1h2v-6h2v-2h2v-5h2v8h2v4h2v6h2v7h2v12h4v9h2v4h2v5h2v3h2v3h4v2h2v7h2v-4h2v-1h2v-1h2v1h2v-6h2v-5h2v3h2v-2h2v-2h2v-4h2v-4h2v2h2v1h2v1h2v2h4v3h4v-3h2v-3h2v1h2v-3h4v-3h2v-11h2v8h2v3h2v-2h2v6h2v-1h2v-7h4v2h2v-4h2v-4h2v-9h2v-7h2v-3h2v-4h2v-6h2v-5h2v-5h2v-11h2v2h2v5h4v-3h2v1h2v-3h2v-2h2v9h2v-2h2v-3h2v4h2v3h2v1h2v1h2v5h2v1h2v-3h2v1h2v-2h2v1h2v1h2v-4h4v5h2v-1h2v-1h2v2h2v2h2v-5h2v-3h2v1h2v1h2v1h2v1h6v4h4v3h2v-2h2v1h2v4h2v1h2v4h4v-2h2v5h2v-2h2v6h4v-1h2v1h2v1h2v7h2v-3h2v7h2v6h2v-7h4v-2h4v-6h2v3h2v-2h2v-5h2v-1h4v-4h2v-4h4v-6h2v-3h2v1h2v-3h2v-7h2v-5h2v-1h2v-5h2v-4h4v1h2v-1h2v-2h2v4h2v3h2v2h2v-1h2v4h4v4h2v2h2v8h2v5h2v6h2v4h2v1h2v1h2v5h2v4h2v2h2v4h2v2h2v4h2v-2h2v-14h2v-1h2v-1h2v10h4v-12h4v-11h2v-1h2v-3h2v-1h2v-3h2v-2h2v3h2v5h2v7h2v-1h4v1h2v2h2v1h2v-8h2v-4h4v-6h2v-2h2v-2h2v-2h2v-12h2v3h2v-5h4v-5h2v-3h2v-2h2v-4h2v6h2v-3h2v1h2v-1h2v-4h2v-1h2v-2h2v1h2v-5h2v3h2v1h2v6h2v4h2v3h6v2h2v7h2v3h2v6h2v3h2v2h2v4h2v2h2v5h2v4h4v3h2v1h4v-2h2v3h4v2h2v-1h2v1h2v-4h2v2h2v3h6v4h2v-4h2v1h2v2h2v-2h2v3h2v-3h2v-4h2v-3h2v-3h2v-10h2v3h2v-5h2v-3h2v-4h2v-6h2v1h2v-6h2v-4h2v-2h2v-6h2v5h2v1h2v-5h2v-2h2v-3h2v2h2v-1h2v2h2v-2h2v-2h2v4h2v1h4v1h2v3h2v-2h2v-6h2v7h2v1h2v-2h2v11h2v-2h2v5h2v3h2v9h2v9h2v6h2v-1h2v15h2v9h2v5h2v-2h2v-3h2v-5h2v-3h2v-1h2v-3h2v-1h2v-1h2v1h2v-2h2v-3h2v-7h2v2h2v-4h4v-1h2v-2h2v-4h2v2h2v-1h2v-2h2v-4h2v2h2v-2h2v-5h2v2h4v-6h2v-3h2v3h2v-7h2v6h2v4h2v7h2v-2h2v3h2v3h2v3h8v6h2v2h2v1h2v-1h2v-2h2v-2h2v-2h2v4h2v-2h2v-1h2v-1h2v-3h2v-9h2v-3h2v3h2v-5h2v-2h2v-4h2v3h2v-3h2v-1h2v-6h2v1h2v-1h2v3h2v-1h4v2h6v6h4v2h2v7h2v4h2v7h2v4h2v8h4v1h2v7h2v-9h2v4h2v1h2v-5h2v-1h4v-9h4v1h2v-4h2v-7h2v6h2v-4h2v-1h2v-1h2v1h2v-1h2v-5h2v-2h2v-3h2v-1h2v-4h2v-1h2v-3h2v-4h2v-1h2v3h2v4h2v2h2v-3h2v-3h2v-9h2v9h2v-7h2v12h2v4h2v1h2v-3h2v8h2v3h2v-2h2v4h2v-1h2v1h2v4h2v-2h2v1h2v4h2v-2h2v-4h2v6h2v-6h2v-2h2v-3h2v-2h2v2h19.5v288.5h-2051.5Z" fill="#26708b"/>
<path d="M160 1994h22v3h2v-1h2v2h2v2h2v-3h2v7h2v3h2v-1h2v4h2v-2h2v1h2v-6h2v7h2v-6h2v4h2v-2h2v2h2v-2h2v3h2v7h2v3h2v6h2v4h4v3h2v2h2v1h2v-1h2v-1h2v-4h2v1h2v-4h2v4h2v-6h2v-2h2v-2h2v1h2v-4h4v-4h4v-8h2v3h2v1h2v2h2v7h2v4h2v1h2v5h2v1h2v4h2v2h2v5h2v-2h2v-1h2v2h2v-1h2v2h2v-1h2v3h2v-2h2v-5h4v1h2v-5h2v2h2v-2h2v3h4v4h2v2h2v2h2v2h2v6h2v-5h2v-7h2v-6h2v-4h2v-2h2v-4h2v-4h2v-4h2v5h2v1h2v-4h2v-5h2v1h4v-1h2v1h2v1h6v1h2v-2h2v5h2v3h2v-1h2v-3h2v-4h2v1h2v-1h2v-1h2v-3h2v1h4v-6h2v7h4v3h2v-2h2v2h2v4h2v1h2v1h2v6h2v2h2v3h2v3h2v4h2v3h2v4h2v-2h2v-1h2v-2h2v-5h2v-10h2v3h2v-4h2v-4h2v-3h2v-3h2v-4h2v-10h2v4h2v1h2v7h2v-8h2v-1h2v-6h2v-3h2v3h2v2h2v1h2v5h4v-2h2v5h2v1h6v8h2v-2h2v4h2v1h2v4h2v-2h2v5h2v5h2v6h2v-2h2v2h2v12h2v-4h2v2h2v-2h2v-4h4v1h2v-5h2v-3h2v1h2v-1h2v-2h2v1h2v-7h2v6h2v-3h2v1h4v-4h2v1h2v2h2v-1h2v-3h2v-1h2v1h2v-5h2v-3h2v-2h2v-3h2v-1h4v2h2v3h2v3h2v2h2v-1h2v-3h2v6h2v-3h2v-1h2v-2h2v3h2v-4h2v2h6v-8h2v6h4v1h2v-1h2v-6h2v6h2v6h2v6h2v3h2v-4h2v-6h2v2h2v-7h2v1h2v-2h2v-5h2v-6h2v-13h2v1h2v-2h2v-1h2v-9h2v-6h2v1h2v-3h2v-1h2v8h2v5h2v5h2v-1h2v7h2v-4h2v-1h2v-1h2v1h6v-2h2v-1h2v3h2v-1h2v-1h2v1h2v-1h2v4h2v2h2v-2h2v3h2v-2h4v-1h2v-1h2v4h2v-3h2v8h2v-5h2v-2h2v1h4v1h2v-2h2v4h2v-1h4v-2h2v3h2v1h2v-3h2v1h2v2h2v1h2v-1h2v-1h2v1h2v-3h2v3h2v1h2v-8h2v7h2v4h2v2h2v3h2v1h2v3h2v2h2v-1h2v-1h2v4h2v-5h2v-8h2v-4h2v-4h2v-4h2v-5h2v-3h2v-1h2v-9h2v-4h2v5h2v-4h2v-3h2v3h2v2h2v3h4v2h2v5h2v-2h2v3h2v-7h2v1h2v8h2v-15h2v2h2v4h2v7h2v-3h2v2h4v6h2v8h2v11h2v15h2v10h2v5h2v7h2v4h2v12h2v-4h2v1h2v-5h6v8h2v-1h2v-2h2v-2h2v-4h2v-4h2v-7h2v1h2v-6h2v2h2v-4h2v-3h2v7h2v-13h2v1h2v-1h2v-8h2v-8h4v-6h2v7h2v-1h2v-4h2v1h2v-2h4v3h4v-1h2v3h2v4h4v-6h2v16h2v6h2v13h2v6h2v11h2v6h2v8h2v3h2v-5h2v-3h2v-13h2v-13h2v-8h2v-14h2v-2h2v-4h2v1h2v2h2v-1h2v4h2v2h2v-2h2v2h2v-11h2v13h2v-2h2v-1h2v-3h4v3h2v1h4v-1h2v-2h4v2h2v-3h2v-2h2v5h10v1h2v2h2v4h2v-10h2v9h2v-2h2v11h2v-5h2v6h2v4h2v17h2v1h2v6h2v5h2v1h2v7h2v8h2v3h2v8h2v6h2v-4h2v3h2v2h2v-2h2v-1h2v4h4v1h2v-7h2v-12h2v-9h2v-9h2v-7h2v-5h2v-4h2v3h2v7h2v3h2v4h2v2h2v2h2v-6h2v-2h2v-4h2v2h2v-1h2v2h2v1h2v7h2v4h2v-5h2v-4h2v-12h2v2h2v-7h2v-1h2v4h2v-15h2v5h2v-2h2v-3h2v-1h4v-1h2v-3h2v-8h2v-8h2v-2h2v1h2v-3h2v-2h2v-3h2v-2h2v-3h2v1h2v3h2v-2h2v5h2v11h4v6h2v12h2v3h2v4h2v5h2v5h4v2h2v-3h4v-2h2v1h4v-1h2v2h2v3h2v4h2v5h2v1h2v2h2v-1h2v-2h2v-6h2v-4h4v-1h2v-6h2v-11h2v3h2v-2h2v-1h2v-5h2v-4h2v-3h2v1h2v-2h2v-4h2v-2h2v1h4v-5h2v-2h4v1h2v5h2v10h4v7h2v6h2v3h2v7h2v4h2v-1h2v-11h2v-3h2v-7h2v-5h2v-4h2v-3h2v-1h2v1h2v-2h2v4h2v9h2v-4h2v3h2v3h4v-4h2v-2h2v-2h2v-4h2v-6h2v-2h2v-5h2v-4h2v1h2v-5h2v-5h2v-2h2v6h2v7h2v2h2v3h2v7h2v4h2v5h2v4h2v8h2v-6h2v10h4v4h2v2h2v2h2v-3h4v-2h2v-5h2v-2h2v1h2v-8h2v3h2v1h2v-8h2v4h2v4h2v-2h2v-2h2v4h2v4h2v-3h2v1h2v-3h2v2h2v-13h2v9h2v-6h2v2h2v-1h2v-2h2v3h4v1h2v-2h2v-3h4v-3h2v1h2v-11h2v-7h2v-4h2v-2h2v-3h2v-7h2v-3h2v-2h2v-10h2v6h4v-2h2v-2h2v-2h2v1h4v5h2v-4h2v3h2v1h2v3h2v2h2v1h2v-2h2v-5h2v5h6v-1h2v-2h2v2h2v3h2v1h2v-3h2v1h2v3h2v-6h4v2h2v1h2v1h2v2h2v-3h2v3h2v3h2v-2h4v9h2v-3h2v1h2v3h2v-2h2v1h2v5h2v2h2v-3h2v1h2v1h2v2h2v5h6v4h2v1h2v7h2v-5h4v2h2v-12h2v14h2v-9h2v-5h2v2h2v-1h2v-5h2v2h2v-4h2v-4h2v-2h2v-6h2v-1h2v-5h4v-4h2v-3h2v-5h2v-8h2v8h2v-2h2v-2h2v-2h2v1h2v2h2v-2h2v4h2v3h2v-1h2v3h2v5h4v18h2v2h2v3h2v5h2v4h2v-2h2v9h2v2h2v-1h4v2h2v4h4v-6h2v1h2v-7h2v-4h2v-3h2v-5h2v-5h2v-3h2v-1h2v4h2v-1h2v6h2v-4h2v9h2v3h2v4h2v7h2v-5h2v-5h2v5h2v-10h4v-5h2v-4h2v-2h2v-6h2v-4h2v-7h4v-5h2v-2h2v-3h2v-2h2v-2h2v-2h2v-1h2v-1h2v-1h2v-1h2v-5h2v2h2v1h2v-2h4v1h4v-2h2v5h2v3h2v5h4v4h2v4h2v2h2v6h2v6h2v5h2v2h2v3h2v5h2v-3h2v4h6v1h2v3h2v1h2v-3h2v9h2v-4h2v-3h2v2h2v3h2v1h2v-1h2v1h2v9h2v-8h2v2h2v-2h2v-3h2v1h2v-1h2v-3h4v-7h2v-1h2v-2h2v1h2v3h2v2h2v2h2v-2h2v2h2v1h2v-5h2v-5h2v-7h2v-4h2v-5h2v-7h2v-4h2v-3h2v-7h2v-6h2v-4h2v1h2v1h2v2h2v1h2v3h2v-1h2v4h2v3h2v2h2v1h2v2h2v3h2v6h2v2h2v12h2v5h2v5h2v4h2v7h2v4h2v4h2v2h2v-5h2v-5h2v2h2v-4h2v-3h4v-9h2v4h2v-2h2v2h2v-7h2v-3h2v-9h2v6h2v-3h2v-1h2v3h2v-4h2v-2h2v-2h4v3h2v-1h2v-3h4v1h4v-2h2v-2h2v-9h2v1h2v-2h2v4h2v4h2v6h2v-2h2v3h2v1h2v1h2v-3h4v7h2v-1h2v-1h2v1h2v-1h2v-1h4v-1h2v-1h2v3h4v-5h2v2h2v-10h2v7h2v-2h2v-4h2v6h2v-4h2v-2h2v-1h2v-1h4v-2h4v1h2v2h2v2h4v4h2v3h2v6h2v4h2v3h2v3h2v6h2v4h2v5h2v2h2v8h2v5h2v-2h2v-1h2v-4h2v-2h2v-2h2v-2h2v-6h2v-3h4v-3h2v-1h2v-6h2v2h2v-5h2v2h2v-5h2v-4h2v1h2v-5h2v3h2v-4h2v-4h2v-5h2v-2h2v-2h2v2h6v5h2v2h2v-8h2v1h2v-2h2v7h2v3h2v5h2v-3h2v6h2v-9h2v2h2v3h2v4h2v-3h2v-2h2v1h2v-7h2v7h2v-7h2v9h2v-10h2v1h2v-2h2v-2h2v1h2v-3h2v-1h19.5v284.5h-2051.5Z" fill="#398a89"/>
<path d="M160 2012h22v-1h2v5h2v1h4v1h2v2h2v2h2v1h2v-1h2v3h2v2h2v-2h2v2h2v3h2v1h2v2h4v9h2v3h2v2h2v8h2v3h2v4h2v4h2v1h2v6h2v-4h2v-6h2v-5h2v-7h2v2h2v-6h4v-2h2v-6h2v5h2v-8h4v2h2v-4h2v-2h2v-3h2v2h2v-3h2v4h2v6h2v5h2v1h2v6h2v1h2v-3h2v11h2v1h2v3h2v-1h2v2h2v-3h2v-4h2v6h2v1h2v6h2v6h2v-9h2v-3h2v-3h2v-2h2v-1h2v4h2v-2h2v5h2v3h2v5h2v1h2v5h2v-4h2v-2h2v-6h2v-2h2v-5h2v-5h2v-6h2v1h2v-8h2v-3h2v3h2v-6h2v4h2v-4h2v3h2v-2h2v-2h2v5h2v-4h2v-2h2v7h2v-2h2v1h4v-4h2v-1h2v9h2v9h2v7h2v1h2v-2h2v-5h2v-6h2v-4h2v-4h2v-4h2v-6h2v3h2v4h2v6h4v3h2v3h2v-1h2v5h2v-1h2v-1h2v4h2v2h2v-4h2v-1h2v-2h2v-4h2v-4h2v-4h2v-2h2v-3h2v-1h2v-4h2v-2h2v-2h2v-2h2v-4h2v2h2v7h2v6h2v-5h2v-2h2v-2h2v4h2v5h2v4h6v9h2v-8h2v1h2v-3h2v1h2v4h2v3h2v5h2v1h2v2h2v-3h2v1h2v-6h2v3h2v5h2v-1h2v2h2v1h4v-1h4v-3h2v1h4v-3h2v2h2v-1h4v2h2v2h2v-7h4v-1h2v3h2v-3h2v1h2v1h2v-4h2v-8h2v3h2v-2h2v-2h2v-5h2v5h2v2h2v-1h2v-2h2v2h4v1h2v1h4v-1h2v-1h2v-1h2v2h4v-1h4v-1h4v3h2v-2h2v3h6v-1h2v6h2v6h2v5h2v-9h2v1h2v8h2v1h2v-7h4v-5h2v-9h2v-11h2v-5h2v7h2v-11h2v-1h2v-3h2v-5h2v-8h2v8h2v1h2v2h2v8h2v-6h6v-1h4v2h2v2h2v1h2v-1h2v2h2v-3h2v3h2v-5h2v4h4v-1h2v3h2v2h2v-5h2v-6h2v10h2v-2h2v2h2v-4h2v1h2v1h2v2h4v-4h2v2h2v3h2v-1h2v5h2v-6h2v1h2v-5h2v1h2v2h2v1h2v3h4v-7h2v7h2v-10h2v-4h2v12h4v3h2v1h2v-4h2v5h2v6h2v4h2v-5h2v6h2v5h2v4h2v7h2v-11h2v1h6v-2h2v2h2v-4h2v1h2v-4h2v-6h2v-2h2v1h2v-4h2v-3h2v-2h2v4h2v7h2v5h2v3h6v-3h4v-1h2v-3h2v-8h2v-12h2v5h2v12h2v10h4v-13h4v3h2v5h2v15h2v-8h2v6h2v5h2v5h2v9h2v-2h2v-1h2v2h2v4h2v-3h4v-3h2v6h2v-9h2v-2h2v-3h2v-3h2v-1h2v-5h2v-3h2v-3h2v-2h2v4h2v-4h4v-3h4v-2h2v-1h2v-5h2v2h2v-3h2v-3h2v5h2v-3h2v-1h2v1h2v-3h2v9h2v-4h2v4h4v2h2v2h2v10h2v9h2v11h4v14h2v7h2v7h2v-8h2v-7h2v-10h2v-12h2v-5h2v-6h2v-7h4v-1h2v2h2v1h2v1h2v2h2v1h2v1h2v-1h2v1h2v2h2v1h2v-1h2v-8h2v8h2v-4h2v7h2v-3h2v1h2v-1h4v-1h2v1h2v2h4v-4h2v-2h2v2h2v6h2v-2h2v4h2v3h4v-2h2v2h2v6h2v3h2v4h2v7h2v7h2v6h2v1h2v2h2v3h2v7h2v3h2v1h2v7h2v-3h2v-2h2v1h6v2h2v-4h2v1h2v-7h2v-8h2v1h2v-5h2v-10h2v7h2v-2h2v-1h4v-9h2v12h2v6h2v-3h2v-1h4v1h2v-9h2v5h2v5h2v3h2v-2h2v2h2v-5h2v-5h2v7h2v-13h4v-11h2v-4h2v7h2v-1h2v-1h2v-9h2v4h2v-4h2v-2h4v-4h2v-3h2v-2h2v-4h2v-4h2v-18h2v11h2v-4h2v-9h2v2h2v1h2v-1h2v7h2v-3h2v13h2v6h2v5h2v6h2v5h2v4h2v6h4v1h2v-2h2v-2h2v5h4v2h2v1h2v-2h2v3h2v5h2v-2h2v1h2v5h2v-6h4v-3h2v-5h2v-2h2v-4h2v-5h2v-2h2v-3h2v-5h4v-3h2v-4h2v-3h2v-1h2v1h2v-2h2v1h2v-10h2v3h2v1h2v1h2v2h2v2h2v-1h2v3h4v11h2v7h2v3h2v12h2v-1h4v-8h2v-4h2v-7h2v-4h2v-5h2v1h2v-1h2v-2h2v-2h2v1h2v1h2v4h6v5h2v-3h2v-3h2v-9h2v9h2v-5h2v1h2v-1h2v-2h2v-2h2v2h2v-9h2v6h2v3h2v-3h2v-2h2v3h2v1h4v5h2v2h2v2h2v3h2v11h2v-2h2v-5h2v6h2v2h2v-5h4v-1h2v-2h4v1h2v-1h2v-5h2v6h2v-6h2v3h2v-2h4v2h2v-1h2v2h2v-4h2v-4h2v2h2v4h2v-2h2v-4h2v-1h2v1h2v-1h4v2h2v9h2v-9h2v-4h4v-3h2v2h2v-11h2v-3h2v-4h2v1h2v-5h2v-4h2v-3h2v-4h4v-2h2v-1h2v-3h4v1h2v1h2v-2h2v5h2v5h2v-7h2v5h2v3h2v-2h4v-4h4v2h2v-2h4v1h2v1h2v-1h2v-1h2v-1h2v-7h2v9h2v-4h2v10h2v-8h2v2h2v-2h2v-1h2v5h2v-6h2v9h2v1h2v-2h2v3h2v1h2v2h2v4h2v-4h2v1h2v1h2v4h2v-1h2v-3h2v4h2v3h2v2h2v3h2v-3h2v8h2v-2h4v2h2v7h2v-4h2v1h2v1h2v-3h2v2h2v-1h2v3h2v-2h2v5h2v6h2v6h2v9h4v-14h2v-15h2v-11h2v-14h2v-4h4v-5h2v1h4v-4h2v-3h2v3h2v-1h2v-9h2v14h2v5h2v-1h2v-7h2v7h2v2h2v2h2v12h2v-3h2v8h2v6h2v3h2v2h2v1h2v5h2v-3h2v4h4v3h2v4h2v-4h2v1h2v-6h2v-2h2v-6h2v-15h2v7h2v-7h2v-7h4v1h2v7h2v-1h2v6h2v3h4v3h2v2h2v-4h2v3h2v7h2v-2h2v5h2v4h2v7h2v7h2v6h2v1h2v-8h2v-12h2v-8h2v-5h2v-9h2v-6h2v-4h2v-5h2v-8h2v-1h2v-2h2v-8h2v-1h2v3h2v3h2v-3h4v-3h2v-3h2v5h2v4h2v4h4v4h2v7h2v-4h2v1h2v1h4v3h2v3h2v6h2v1h2v6h2v-3h2v5h2v-2h2v5h2v-2h2v1h2v3h2v1h2v-1h2v-2h4v9h2v-2h2v-11h2v3h2v2h2v-1h2v-4h2v-4h2v2h2v-1h2v-1h2v1h2v-3h2v-1h2v-2h6v-4h2v-3h2v5h2v2h2v-2h4v-2h4v-1h2v6h2v-7h2v-3h4v-6h4v-3h2v-6h2v-3h2v1h4v-4h2v1h2v-1h2v5h2v4h2v4h2v6h2v4h2v3h2v9h2v1h2v3h2v6h2v1h2v5h2v2h2v1h2v3h2v2h2v1h2v-5h2v-2h2v-4h2v-1h2v-4h6v-2h2v-1h2v-5h2v1h2v2h2v-1h4v-5h2v2h2v-1h2v-3h2v-3h2v-7h2v8h2v-1h4v-4h2v7h2v-10h2v1h2v-2h2v-1h2v-8h2v-2h2v-3h2v2h2v9h2v-11h2v7h2v1h2v3h2v-2h2v-2h2v4h4v-2h2v1h2v-4h2v2h2v2h2v-3h2v4h2v1h2v-1h2v1h2v-2h2v-15h2v12h2v-7h2v13h2v-12h2v7h2v-1h2v-5h2v-2h6v1h2v2h2v4h2v6h2v5h2v3h2v6h2v4h2v1h2v6h2v2h2v3h2v8h2v5h2v2h4v2h2v-2h2v-3h2v-3h2v-4h2v-3h2v-1h2v-2h2v-2h2v8h2v-7h2v-5h2v3h2v-2h2v-3h6v-2h2v-7h2v-1h2v-3h2v-3h2v-2h2v-3h2v-1h2v1h2v-2h2v2h2v-8h2v-4h2v10h4v-8h2v7h2v-1h2v4h4v2h4v-3h2v1h2v2h2v-1h2v-3h2v3h4v-5h2v-1h2v-2h2v-1h2v1h4v-5h2v1h2v2h2v5h2v-4h19.5v256.5h-2051.5Z" fill="#47a384"/>
<path d="M160 2030h22v1h4v-1h2v1h2v8h2v5h2v-3h4v-1h2v6h2v2h2v4h2v7h2v6h4v16h2v3h2v6h2v1h2v4h2v2h2v5h2v1h2v6h2v-2h2v-1h2v-2h2v-4h2v-8h2v-6h2v-3h2v-8h2v-4h2v-4h2v-3h2v-3h2v-4h2v-8h2v2h2v-1h2v3h2v-3h2v4h4v2h2v3h2v5h2v3h2v5h2v9h2v2h2v2h2v4h2v2h2v2h2v4h2v2h2v1h2v-3h2v1h2v-3h2v-2h2v-3h2v3h2v-2h2v-2h2v1h4v-1h2v1h4v-1h2v-1h2v-5h2v-3h2v-1h2v-3h2v-8h2v11h2v4h2v2h2v-3h2v-2h2v-1h2v-5h2v-2h2v-3h4v-4h2v5h4v-1h2v-3h2v1h2v4h4v2h2v3h2v-1h2v4h2v3h2v2h2v-5h2v-3h2v-2h2v-7h2v-2h2v-3h2v-8h2v-1h2v-4h4v3h4v1h2v4h2v10h2v-5h2v4h2v3h2v3h2v1h2v1h2v-5h2v-3h2v-5h2v-2h2v-4h2v-2h2v-5h2v1h2v-1h2v1h2v4h2v-2h2v5h2v-2h2v10h2v2h2v-15h2v2h2v1h2v3h2v2h2v4h2v-1h2v1h4v3h2v4h2v5h2v3h2v-1h2v-6h2v-2h2v4h2v6h2v6h2v1h2v-3h2v-9h2v6h2v-4h2v8h2v3h2v-8h2v4h2v-3h2v-4h2v-4h2v-1h2v-4h2v-1h2v-2h2v-2h2v-1h2v-1h2v-1h2v5h2v1h2v-4h2v-6h2v5h2v-1h2v3h2v-2h4v3h2v-1h2v3h2v-1h2v-2h2v-1h2v2h2v1h2v2h2v1h2v-1h2v-2h2v-1h4v-1h2v-2h2v1h2v-1h2v-3h2v2h2v-5h2v1h2v3h2v-1h6v3h2v-1h2v2h2v4h2v3h2v-2h2v1h2v1h2v-4h4v-1h2v-2h2v2h4v-6h2v-11h2v-13h2v-1h2v-2h2v-2h2v-9h2v-2h2v2h2v3h2v-1h2v2h2v3h2v1h2v1h2v-1h2v2h2v-1h2v8h2v-15h2v10h2v1h2v-2h2v1h2v-3h2v-1h2v5h2v1h2v7h2v-5h2v1h4v-2h4v3h4v2h2v-1h2v1h2v-8h2v9h2v1h2v-4h2v4h4v1h6v-2h2v3h2v-3h2v1h2v-14h2v4h2v2h2v6h2v6h2v-4h2v12h2v-11h2v1h2v11h2v2h2v5h2v2h2v3h2v1h2v5h2v3h2v6h2v4h2v1h2v3h2v-1h2v2h2v-5h2v-2h2v-3h2v1h2v-5h2v-2h4v-11h4v1h2v3h2v2h4v1h2v1h2v-1h4v-3h2v4h2v-9h2v1h2v2h2v2h4v9h2v-6h2v-4h4v1h2v4h2v2h2v-4h2v2h4v-6h2v9h2v-5h2v-3h2v-1h6v-4h2v4h2v-5h2v-2h2v-5h2v1h2v-7h4v2h2v-3h2v-3h2v1h6v-3h2v-1h4v-4h2v-3h4v7h2v-4h2v-1h2v-1h2v4h2v1h2v2h2v1h2v-6h2v9h2v2h2v-1h2v4h2v14h2v7h2v2h2v11h2v9h2v1h2v3h2v-2h2v-12h2v-6h2v-10h2v-5h4v-4h2v1h2v1h2v3h2v1h2v2h2v-5h2v11h2v2h2v-3h2v10h2v-1h2v2h2v-5h4v-2h2v6h2v1h2v-3h2v-2h2v-2h2v3h2v3h2v2h2v2h4v-4h2v3h2v3h2v-1h2v-3h2v8h2v1h2v12h2v-8h2v2h2v-4h4v6h4v-1h2v-1h2v1h2v-1h2v3h2v4h2v4h4v2h2v1h2v-2h2v-3h2v-2h2v6h2v2h2v-1h2v-2h2v-13h2v2h2v-1h2v13h2v-7h2v5h2v1h2v-2h10v2h2v-3h2v-1h2v-1h2v1h2v1h2v-2h2v-1h2v-1h2v-1h2v3h2v-4h2v-9h2v-1h2v-5h2v-4h2v1h2v-1h2v-2h2v-1h4v3h2v-2h2v-1h2v-4h2v-3h2v2h2v-8h2v-6h2v-4h2v-8h2v-6h2v2h2v-12h2v7h2v3h2v-2h2v1h2v6h2v3h2v5h2v6h2v-2h2v13h2v-1h2v4h2v5h2v1h4v-7h2v7h2v2h2v2h2v-3h2v1h2v1h4v1h2v-2h2v1h2v-2h2v1h2v-4h2v5h2v-5h2v-6h2v-2h2v-9h2v4h2v-12h2v7h2v-5h2v-3h8v1h2v-3h4v1h2v-2h2v-3h2v2h2v4h2v6h2v5h2v7h2v2h2v8h2v6h2v3h2v-1h2v-6h2v-2h2v-7h2v2h2v-14h2v4h2v-8h2v-3h2v-1h2v1h2v1h2v-1h2v2h2v5h2v2h2v3h2v2h2v-1h2v-1h2v-2h2v7h4v5h2v-6h2v2h2v-5h2v-1h2v6h2v-2h2v-4h2v-11h2v4h2v-4h2v-3h2v-3h2v-3h2v2h2v3h2v4h4v2h2v3h2v2h2v1h2v-2h4v-2h2v-4h4v1h4v-3h2v1h2v1h2v2h2v-2h2v-2h2v5h2v-1h4v1h4v1h2v-7h2v-1h2v-3h2v3h2v-2h2v-3h2v2h2v4h2v1h2v-1h2v-3h2v6h2v-5h2v-2h2v-7h2v-3h2v-3h4v-3h2v-6h4v-6h4v-2h2v-3h2v2h2v-2h2v2h2v2h2v1h2v3h4v6h2v3h2v-3h2v-4h2v1h2v-10h2v1h2v7h2v-3h6v-1h2v2h2v3h2v-2h2v2h2v1h2v4h2v-6h2v-3h2v-1h2v4h2v-5h4v-11h2v10h2v2h4v2h2v5h2v-1h2v-3h2v5h4v2h2v4h2v-3h2v-3h2v4h2v2h2v3h2v1h2v4h2v-6h2v-5h2v10h2v-2h2v2h2v2h2v-3h2v4h2v-4h2v5h2v-8h2v7h2v5h2v1h2v4h2v7h2v10h2v-11h2v-3h2v-9h2v-10h2v-5h2v-3h2v-6h2v-2h2v-3h2v1h2v-2h2v2h4v-2h2v-1h2v3h2v2h2v4h2v6h2v7h2v15h2v9h2v9h2v3h4v-4h2v-6h2v-4h2v-4h2v-6h2v-1h2v1h2v-1h2v-1h2v-3h2v1h2v-5h2v7h2v-7h2v-5h2v2h4v-5h2v-2h2v1h2v7h2v-1h2v1h2v1h2v3h2v-1h2v-3h2v-3h2v1h2v10h2v-10h2v7h2v6h2v1h2v6h2v6h2v1h2v-8h2v-12h2v-8h2v-1h2v1h4v1h2v4h6v2h2v-5h2v-2h2v1h2v6h2v-5h4v-1h4v-2h2v2h2v-1h2v-1h2v-1h2v1h2v2h2v1h2v5h4v3h2v1h2v2h2v6h2v1h2v-6h2v-2h2v13h2v-10h2v-2h2v-7h2v-1h2v-3h4v-1h2v-1h2v3h2v-2h2v-1h2v2h2v2h2v2h2v-1h2v-5h2v1h2v-4h4v-1h2v4h2v2h2v2h4v-2h2v4h2v2h2v3h2v1h2v2h2v3h2v-2h2v-1h2v3h2v1h2v2h2v4h2v3h2v1h2v3h2v6h2v-10h2v-1h2v-5h2v5h2v5h2v1h2v-2h2v-3h2v-3h2v1h4v2h2v5h2v6h2v-1h2v7h2v5h2v6h2v-7h2v-4h2v-4h2v4h4v-1h2v-5h4v-4h2v-1h2v-3h2v-3h2v-1h2v4h2v-5h2v-4h2v-1h2v-2h2v3h2v-1h2v2h2v1h2v-1h2v-10h2v8h2v-7h2v8h2v4h2v3h2v3h2v2h2v1h2v-9h2v-8h2v-1h2v-4h2v-4h2v-7h2v-4h2v-4h4v-4h2v-1h2v-4h2v2h4v-2h4v-3h4v1h2v-3h2v4h6v2h2v5h2v3h2v2h2v-4h2v3h2v-2h2v-5h2v1h2v2h2v-2h2v3h2v-4h2v2h2v7h2v3h2v2h2v7h2v-3h2v7h2v5h4v2h2v3h2v6h2v3h2v3h2v1h2v2h2v2h2v7h2v2h2v1h2v-1h2v-1h2v-2h2v-5h2v1h4v-5h4v-2h2v-5h2v2h4v2h2v-5h2v-1h4v-2h2v-8h2v7h2v-6h2v-4h2v-2h2v-2h2v-1h4v-5h2v-1h4v2h2v5h2v4h2v-6h2v-1h2v-5h4v1h2v-3h2v-2h2v-2h2v-3h2v-5h2v-4h2v-1h2v1h2v-1h2v-2h2v-2h2v-2h2v-3h4v1h2v2h2v1h2v1h2v1h19.5v238.5h-2051.5Z" fill="#5ebc7a"/>
<path d="M160 2048h22v2h2v1h2v8h2v-4h2v3h2v7h2v11h2v9h2v8h2v1h2v20h2v12h2v4h2v2h2v2h4v1h2v3h2v-2h2v-3h2v2h2v7h2v8h2v11h2v4h2v-9h2v-6h2v-15h2v-5h2v-10h2v-9h2v-9h2v-4h2v-9h2v3h2v-6h2v-1h2v-4h2v-2h4v-2h2v-2h2v1h2v1h2v2h2v5h2v3h2v11h2v9h2v5h2v7h2v2h2v4h2v11h2v8h2v-4h2v3h2v-4h2v-9h2v-7h2v-5h2v-6h2v-8h2v1h4v-2h2v-7h2v-2h2v-2h4v-1h2v2h2v2h2v2h2v4h2v2h2v3h2v4h2v3h2v1h2v-4h4v-5h2v-2h2v-3h2v-4h2v1h2v3h2v4h2v-1h2v1h2v-3h4v1h2v3h2v2h2v-1h2v1h2v-1h2v1h2v4h4v1h2v-6h2v2h2v-3h2v-4h4v-6h2v-5h2v-8h2v2h2v-1h4v-4h2v2h2v2h4v3h2v4h2v6h2v8h2v-3h2v-8h2v-2h2v-2h2v-3h2v-2h2v-6h2v-5h4v4h2v6h4v4h2v-2h2v3h2v-2h2v2h2v3h4v1h2v-4h2v-3h2v3h2v2h2v5h2v8h2v6h2v7h2v2h2v-2h2v2h2v-1h2v1h4v3h2v1h4v3h6v-1h2v7h2v-4h2v-4h2v-14h2v-10h4v-2h2v2h2v-3h2v-6h2v-6h2v-2h2v3h2v-2h2v-1h2v2h2v-3h2v3h2v-3h2v1h4v-1h2v1h2v2h2v-5h2v-1h2v-2h2v-7h2v1h2v-6h2v-1h2v1h2v2h2v1h2v-1h2v-2h2v-1h4v-1h4v-1h2v3h2v5h2v-5h2v4h2v-1h2v5h2v5h4v2h2v3h2v1h2v-1h2v-2h2v-4h2v-1h4v-7h2v3h2v3h2v-3h2v1h2v1h2v-2h2v-1h2v-9h2v-5h2v-6h2v-3h2v-14h2v13h2v-11h2v2h2v2h2v3h2v-7h2v10h2v-2h2v1h2v3h4v-1h2v4h2v-2h2v1h2v4h2v-1h2v-4h2v11h2v-7h2v5h2v-1h2v1h4v3h4v4h2v2h2v-1h2v-1h2v-1h2v1h2v-1h2v4h2v-8h2v9h4v-14h2v7h2v-3h2v13h2v2h2v6h2v-6h4v-4h2v4h2v4h2v-4h2v3h2v3h2v-2h2v-2h2v2h2v2h2v4h2v12h2v7h2v2h2v7h2v9h2v3h2v6h2v7h2v8h2v6h2v6h2v8h2v9h2v1h2v-6h2v-8h2v-14h2v-5h2v9h2v1h2v1h2v11h2v-8h2v-13h2v-6h2v-4h2v-1h2v-5h2v-4h2v-2h2v14h2v14h2v4h2v11h2v-11h2v-7h2v-9h2v-12h2v-6h2v-2h2v-2h2v-6h2v-9h2v-8h2v-7h2v-1h4v-1h2v-2h2v-2h2v-5h2v1h2v-4h2v-4h2v1h2v-2h2v-1h2v-6h2v2h2v-1h2v6h2v2h2v-11h2v-5h2v8h2v1h2v1h4v3h2v-3h2v1h4v-2h2v3h2v-10h2v-2h2v-3h2v-2h2v-2h2v-5h2v2h2v1h2v5h2v1h2v7h2v3h2v16h2v9h2v5h2v3h2v6h2v1h2v1h2v7h2v-6h2v-3h2v-5h2v-2h2v-2h2v-4h2v-1h2v2h2v1h2v3h2v2h2v5h2v2h2v4h2v1h2v7h2v2h2v9h2v2h2v4h2v3h4v5h4v1h2v1h2v-7h2v3h2v2h2v-4h2v-1h2v3h2v-2h2v-2h2v2h2v2h2v-8h2v8h2v-1h2v1h2v-1h4v7h2v-6h2v-14h2v-2h2v-9h2v-5h2v133h88v-73h2v-61h2v-5h2v-2h2v-4h2v-2h6v-3h2v1h2v-4h2v-2h4v-3h2v5h4v-3h2v-1h2v-5h2v-5h2v-3h2v4h2v-7h2v6h2v1h2v5h2v-3h2v-1h2v4h2v5h2v108h2v48h34v-157h2v-2h4v2h2v-7h2v1h2v-1h2v-1h2v-5h2v4h2v-1h2v-1h2v1h2v1h4v6h2v-3h2v8h2v2h2v4h2v3h2v1h2v8h2v4h2v9h2v3h2v-3h2v-2h2v-5h2v-5h2v-3h2v-2h2v-1h2v-6h2v6h2v2h2v-3h2v4h2v2h2v3h2v4h2v-6h2v9h2v-2h2v-1h2v4h2v-2h2v1h2v4h2v-1h2v-1h2v5h2v-2h2v-1h2v6h2v3h2v-5h2v-3h4v-6h2v-13h2v-9h2v-6h2v-3h2v2h4v5h2v1h2v2h2v-1h2v-2h2v-3h2v-2h2v-3h4v-2h2v-3h2v-1h2v-10h2v6h2v4h2v-1h2v-1h2v5h4v-1h2v2h2v-5h4v4h2v-12h2v4h2v-3h2v-1h4v-9h2v7h4v-1h2v3h2v1h2v1h2v1h2v-4h2v2h2v1h2v-5h2v1h2v-2h2v7h2v-7h2v2h4v-3h2v2h2v2h2v4h2v1h2v-3h2v5h2v-9h2v-5h2v5h2v2h4v-5h2v-6h2v2h2v-6h2v-1h2v-5h2v1h2v5h2v-6h2v3h2v2h2v4h2v-3h6v1h2v-6h2v4h2v2h2v-6h2v1h4v1h2v2h2v2h2v2h2v-3h4v1h2v-1h2v-3h2v1h2v1h4v-3h2v3h2v-3h2v6h2v-1h2v-2h2v3h4v-2h2v7h2v-1h2v-6h2v5h2v3h2v5h2v10h4v9h2v3h2v16h2v19h2v7h2v2h2v-3h2v-11h2v-10h4v16h2v9h2v6h2v2h2v4h2v-10h2v-10h2v-4h2v-1h2v12h2v13h2v22h2v16h2v-5h2v-12h2v-12h2v-20h2v-15h4v-6h2v-3h2v-4h2v13h2v-23h2v-8h2v2h2v-4h2v-6h2v-1h2v-4h6v-3h2v1h2v-2h2v1h4v-5h4v-2h2v-2h4v4h2v6h2v-10h2v-2h4v3h2v-1h2v-3h2v15h2v4h4v20h2v10h2v-2h2v5h2v5h2v3h2v10h2v6h2v3h2v4h2v3h2v-13h2v-6h2v-6h2v5h2v10h2v13h2v1h2v-6h2v-4h2v-5h2v5h2v8h2v-2h2v-2h2v-8h2v-7h2v-1h2v-1h2v-4h2v-5h2v9h2v2h2v9h2v-11h2v-4h2v-2h2v-7h2v-7h2v-5h2v-4h2v-9h2v-6h2v-4h2v-7h2v-2h4v-4h2v-4h2v2h2v-4h4v10h2v13h2v9h4v3h2v2h2v-4h2v-13h2v-10h2v-3h2v6h2v7h2v3h2v9h2v13h2v10h2v7h2v7h2v7h2v-2h4v-5h2v-2h2v1h2v5h2v2h2v4h2v-3h2v-2h2v-3h2v-1h2v-10h2v8h2v1h2v-6h2v-4h2v1h4v13h2v3h2v9h2v-6h2v-5h2v1h2v4h2v5h2v-1h2v-7h2v6h2v7h2v2h2v-4h2v-7h2v-4h2v-7h2v-6h2v-4h4v-4h2v-3h2v-3h2v-2h4v8h2v6h2v-6h2v1h2v-1h2v-3h2v-1h2v2h2v-2h2v1h2v4h6v-2h2v-1h2v-2h2v4h2v-2h2v-1h2v-1h2v-3h4v-1h2v-4h2v-8h2v-4h2v-2h2v-4h2v-7h2v-1h2v-3h2v-12h2v1h4v-3h2v-3h2v2h2v3h2v2h2v4h2v2h2v-7h2v6h2v-12h2v7h2v-3h2v11h2v3h2v-3h2v12h2v-6h6v6h2v3h2v2h2v3h2v8h2v7h2v-6h2v6h2v1h2v7h2v3h2v12h2v-7h2v6h2v8h2v-5h2v1h2v-2h2v2h2v2h2v-1h2v-5h4v-2h2v4h2v-1h2v3h2v1h2v-1h2v-2h2v-1h2v-2h2v-1h2v-1h2v-3h4v-2h2v-2h2v-1h6v-4h2v-2h2v-8h2v-4h2v2h2v-5h2v-2h2v-5h2v-5h2v-4h4v-6h2v-4h2v-2h2v-4h2v-4h2v1h4v-4h2v5h2v-6h2v-5h2v-5h2v2h2v-2h2v-1h2v1h2v-2h2v1h4v-5h2v-1h2v4h2v3h21.5v217.5h-2051.5Z" fill="#8cd05f"/>
<path d="M160 2236h80v-64h2v-9h2v-4h2v-6h2v-6h2v-2h2v-1h2v-4h4v-7h2v4h2v-3h2v-3h2v-1h2v3h2v3h2v8h2v9h2v8h2v10h2v13h2v-4h2v-5h2v-7h2v-3h2v-4h2v-2h2v-2h2v-2h2v2h2v-2h2v58h2v23h68v-102h2v-5h2v1h2v-5h2v7h2v-2h2v4h2v-1h2v2h2v-3h2v2h4v4h2v6h2v-3h2v-4h2v-2h2v3h2v6h2v-4h2v-5h2v-3h2v-4h2v8h2v12h2v5h2v10h2v-4h2v-2h2v-6h4v-1h2v-4h2v-4h2v-3h2v-5h2v-2h2v-7h2v-5h2v-4h2v-1h4v121h62v-106h2v-2h2v-1h2v-2h2v2h4v-2h2v-3h2v4h2v-1h2v2h2v-2h2v3h2v1h2v-3h2v-4h2v1h2v1h2v-1h6v7h2v-3h2v1h2v-23h2v-3h2v-3h2v-5h4v1h2v-12h2v3h4v4h2v3h2v-3h4v2h2v48h2v76h2v20h44v-155h2v-5h2v-5h2v-6h2v-3h2v5h2v-1h2v170h136v-50h2v3h2v4h2v3h2v-4h2v-2h2v2h2v-3h2v4h2v-12h2v-2h2v-1h2v-4h2v5h2v5h2v6h2v-7h2v6h2v-2h2v1h2v-5h2v-7h2v-2h2v-11h2v-7h2v-17h2v-23h2v-5h2v-6h2v-6h2v-2h2v1h2v-2h2v-7h2v-6h2v-2h2v-3h2v2h2v-4h4v-8h2v13h2v6h2v4h2v4h2v22h2v119h30v-141h2v-6h2v-3h2v5h2v-5h2v-4h2v8h2v3h2v2h2v15h2v59h2v67h16v-101h2v-7h2v-5h2v-8h4v2h2v6h4v8h2v7h2v5h2v3h2v6h2v3h2v3h2v5h2v3h2v7h2v6h2v-6h2v-1h2v-2h2v-1h2v-10h2v-9h2v6h4v3h4v2h2v-7h2v1h4v-1h2v4h2v-1h2v-2h2v3h2v-2h2v2h2v10h2v-5h2v26h2v47h118v-100h2v-23h2v-3h2v1h6v-6h2v-4h2v-1h2v-5h2v16h2v125h60v-131h2v-5h2v-3h2v-3h2v-1h2v6h2v2h2v1h2v-4h2v7h2v-6h2v9h2v8h2v5h2v2h2v3h4v4h2v6h2v2h2v1h2v5h2v1h2v-2h2v-5h2v2h2v-5h2v1h2v5h2v-6h2v8h2v1h2v8h2v-6h2v12h2v3h2v-1h2v8h2v-2h2v-9h4v6h2v-6h2v-1h2v-7h2v-6h2v4h2v1h2v4h2v-5h2v-6h4v5h2v3h2v2h2v7h2v20h2v58h80v-111h2v6h2v3h2v1h4v4h2v4h2v2h2v3h2v8h2v5h2v-7h2v-11h2v-4h2v-1h2v-1h2v-7h4v-1h2v-1h2v1h2v4h2v1h2v-8h2v-7h2v-5h2v-4h2v-3h2v-1h2v-6h4v-3h2v-3h2v-5h2v-5h2v-6h2v-4h2v4h2v-8h2v-3h4v8h2v3h4v1h2v3h2v-1h2v-2h2v1h2v-3h2v-1h2v-7h2v1h2v6h2v6h4v3h2v-1h2v3h2v-9h2v-3h2v-4h4v-4h2v-1h2v1h2v6h2v-2h2v8h2v3h2v7h2v3h4v17h2v6h2v121h142v-78h2v-1h4v2h2v7h2v5h2v-2h2v-8h2v4h2v2h2v9h2v-14h2v4h4v-1h2v-4h2v-3h2v-2h2v8h2v-13h4v-4h2v-7h2v96h84v-85h2v5h2v-1h2v1h2v1h2v2h2v11h2v4h2v-12h2v10h2v1h2v-5h2v-6h2v4h2v7h2v4h2v-6h2v7h2v2h2v6h2v2h2v2h2v-2h2v-3h2v-1h2v-5h2v-8h2v10h2v-4h2v-6h2v2h2v-4h2v1h2v-1h2v-6h2v-1h2v-9h2v8h2v1h4v-7h2v-12h2v-6h2v1h2v8h2v1h2v10h2v79h104v-84h2v-7h2v-5h2v3h2v3h2v3h2v6h2v4h2v1h2v1h2v-4h2v12h2v2h2v1h2v-9h2v-3h2v8h2v-1h2v-1h2v-2h2v2h4v-2h2v-2h2v1h2v1h2v1h2v-3h2v-1h2v1h2v2h2v4h2v-3h2v-7h2v1h2v-7h2v-6h2v-5h2v-1h2v-3h4v-7h2v-4h4v-4h2v-3h2v-6h2v-6h2v-7h2v2h4v-2h2v-3h2v-2h2v-6h2v7h2v-5h2v-8h2v-9h2v2h2v-1h2v13h2v-8h2v-6h2v5h2v-6h2v-3h2v2h2v-3h2v-4h2v6h19.5v185.5h-2051.5Z" fill="#cce06c"/>
<path d="M1667 1525l.5 3l-.5 2.5l.5 4.5v12l-.5 1.5v3.5l-.5 4l.5 2.5l-.5 3l.5 2v6.5l.5 3v3l-.5 3v10l.5 3l-.5 2.5l.5 2l-.5 4.5l.5 1.5l-.5 4l1 3.5v3l-.5 2v5.5l-.5 3l1 3.5l-.5 2.5v6.5l-.5 3.5v3.5l1 1.5l-1 4.5l.5 2l-.5 3l.5 3l.5 3.5v7l-1 2.5v2l.5 4v5l.5 3.5l-.5 2.5v3l.5 3.5l-1 2.5l1 4.5l-.5 3v2l.5 3.5v3l-1 3l.5 3v6.5l1 2.5l-.5 3.5v14.5l-.5 2l1 4.5l-.5 1.5v7.5l-.5 2v2.5l1 3.5v3l-.5 3.5v2l-.5 3v3.5l1 4v3l-.5 3l-.5 1.5v9l.5 3v9l-.5 5l.5 1l-.5 4l.5 3.5v2l.5 3.5v4l-.5 1l.5 3.5l-.5 4l.5 2l1 3.5v3.5l.5 2l.5 3l1.5 4.5l.5 1.5v4l1 3v4.5l.5 2.5l-.5 3.5l.5 3v2.5l.5 4l1 4v10l.5 2.5l.5-2l-.5-3.5l1-4.5l-.5-3.5v-1l1.5-4v-3.5l.5-3.5v-4.5l2-3.5l-.5-3l1-3l1-4l-.5-3.5l.5-2.5l1-3v-2.5l1.5 2v3.5l1 4.5l1 1.5l.5 5v2l1 4.5l.5 1.5v-3l1-4v-2.5l1-3.5v-13.5l.5-3v-6l1-3l-.5-4v-4l.5-2.5l-.5-1.5l-.5-3v-11l.5-1.5v-2.5l-.5-3.5l.5-3.5v-7l-.5-2l.5-3.5v-3l-.5-3v-3l1-1.5l-.5-4.5v-3l.5-2v-4l-.5-2.5l.5-4v-2.5l-1-2.5l1-3.5v-6.5l-.5-1.5v-4l.5-3l-.5-3v-2.5l.5-3.5v-15.5l-1-2.5l1-2.5l-1-3.5l1-3.5l-.5-1.5l-.5-4.5l.5-3.5l.5-2.5l-.5-1.5v-5l1-1.5l-.5-3l-.5-4l.5-3l-.5-2.5l1-2.5l-1-3.5v-7l.5-2.5l-.5-2v-7l.5-2v-3l-.5-4.5v-6l.5-3v-4.5l.5-3l-.5-4l-.5-2.5v-7l1-2.5l-.5-3l.5-3.5l-.5-1.5l.5-3l-.5-3v-7.5l-.5-1.5l1-4.5l-.5-2l.5-3.5l-.5-2l.5-4l-1-2l1-4l-.5-2.5v-6l.5-4l-1-1.5v-4l.5-3.5l1-2l-.5-3l-.5-3v-2.5l-3.5-1.5l-3 1.5l-3.5-1.5l-2.5 1l-3.5-1l-3 1.5l-2.5-1Z" fill="#2b1a73"/>
<path d="M1973 1525v6l-.5 3.5l.5 3v29.5l.5 3v18.5l-.5 3l.5 3v15l.5 2.5l-.5 3l.5 3.5v2.5l-.5 3v3l.5 3.5v9l-.5 3v2.5l.5 3l-.5 4l.5 2.5l-.5 3l.5 3v3.5l.5 3l-.5 2.5v12l.5 3.5v3l-.5 3l.5 3v5.5l-.5 3.5l.5 3v12.5l.5 2.5v18.5l.5 3l-.5 3v3.5l.5 3v18l.5 3.5l.5 4l-.5 2.5l.5 3.5l-.5 2.5l.5 3.5v3.5l.5 3v3l.5-3.5l.5-3v-4l.5-2.5v-3l.5-3v-4.5l.5-2.5v-9.5l1-2.5v-9.5l.5-2.5v-12.5l.5-3v-2.5l-.5-3.5l.5-3v-6.5l.5-2.5l-.5-3v-7l.5-2v-19.5l.5-3l-.5-2.5v-6l.5-3l-.5-3.5l.5-3l-.5-3v-2.5l.5-4v-57.5l.5-4l-.5-2v-16l.5-3v-3l-.5-3l.5-3l-.5-3v-6.5l.5-3.5l-.5-2v-6.5l.5-3v-6.5l-.5-3l.5-3l-3.5 .5l-3-.5Z" fill="#2b1a73"/>
<path d="M998 1992h4v3h-4zM1065.5 2005.5h2.5v3.5h-2.5z" fill="#26708b"/>
<path d="M1211.5 2007h3v3h-3zM1767 1970.5h2v7h-2zM1205.5 2012h2v3h-2zM1576.5 2010.5h2v4.5h-2zM1211 2060h3v3h-3zM1687 2004h5v17.5h-5z" fill="#0f5b96"/>
<path d="M1109.5 2033.5h2.5v4h-2.5z" fill="#398a89"/>
<path d="M2162.5 2062h3v8.5h-3zM1442.5 2100.5h3v11h-3zM1423.5 2078h4v6h-4zM1190.5 2097h4v3h-4z" fill="#cce06c"/>
<path d="M1010.5 2167.5h2v3h-2zM1774.5 2081h2.5v4h-2.5zM1328.5 2095.5h4v3h-4zM1397 2066.5h3v17.5h-3z" fill="#8cd05f"/>
<path d="M1816 2080h5v5h-5zM1987 2069h3v3h-3z" fill="#47a384"/>
<path d="M890.5 2082.5h5v3h-5z" fill="#5ebc7a"/>
<path d="M978.5 1983.5v3M2106 2083v3M1443.5 1972.5v4M1022.5 2090v3M1494 2100.5v3M1191.5 2089v3M1139 2030.5v3M1070.5 1959v3M2180.5 2003v7M1836.5 2023v3" fill="none"/>
</g>
<rect x="180" y="99" width="2011.6" height="560" fill="none" stroke="#1c1c1c" stroke-width="2"/>
<path d="M403.5 99v20M403.5 659v-20M627 99v20M627 659v-20M850.5 99v20M850.5 659v-20M1074 99v20M1074 659v-20M1297.5 99v20M1297.5 659v-20M1521 99v20M1521 659v-20M1744.5 99v20M1744.5 659v-20M1968 99v20M1968 659v-20M180 108.2h20M2191.6 108.2h-20M180 235.6h20M2191.6 235.6h-20M180 362.9h20M2191.6 362.9h-20M180 490.2h20M2191.6 490.2h-20M180 617.6h20M2191.6 617.6h-20" stroke="#1c1c1c" stroke-width="2" fill="none"/>
<text transform="translate(156.5 132.7) scale(1 1.04)" font-size="61" text-anchor="end" font-weight="normal" fill="#262626">0</text>
<text transform="translate(156.5 260.1) scale(1 1.04)" font-size="61" text-anchor="end" font-weight="normal" fill="#262626">20</text>
<text transform="translate(156.5 387.4) scale(1 1.04)" font-size="61" text-anchor="end" font-weight="normal" fill="#262626">40</text>
<text transform="translate(156.5 514.8) scale(1 1.04)" font-size="61" text-anchor="end" font-weight="normal" fill="#262626">60</text>
<text transform="translate(156.5 642.1) scale(1 1.04)" font-size="61" text-anchor="end" font-weight="normal" fill="#262626">80</text>
<text transform="translate(172 742.5) scale(1 1.04)" font-size="61" text-anchor="middle" font-weight="normal" fill="#262626">15-Dec</text>
<text transform="translate(395.5 742.5) scale(1 1.04)" font-size="61" text-anchor="middle" font-weight="normal" fill="#262626">25-Dec</text>
<text transform="translate(619 742.5) scale(1 1.04)" font-size="61" text-anchor="middle" font-weight="normal" fill="#262626">04-Jan</text>
<text transform="translate(842.5 742.5) scale(1 1.04)" font-size="61" text-anchor="middle" font-weight="normal" fill="#262626">13-Jan</text>
<text transform="translate(1066 742.5) scale(1 1.04)" font-size="61" text-anchor="middle" font-weight="normal" fill="#262626">23-Jan</text>
<text transform="translate(1289.5 742.5) scale(1 1.04)" font-size="61" text-anchor="middle" font-weight="normal" fill="#262626">02-Feb</text>
<text transform="translate(1513 742.5) scale(1 1.04)" font-size="61" text-anchor="middle" font-weight="normal" fill="#262626">12-Feb</text>
<text transform="translate(1736.5 742.5) scale(1 1.04)" font-size="61" text-anchor="middle" font-weight="normal" fill="#262626">22-Feb</text>
<text transform="translate(1960 742.5) scale(1 1.04)" font-size="61" text-anchor="middle" font-weight="normal" fill="#262626">03-Mar</text>
<text transform="translate(2183.5 742.5) scale(1 1.04)" font-size="61" text-anchor="middle" font-weight="normal" fill="#262626">13-Mar</text>
<text transform="translate(62.5 379) rotate(-90) scale(1 1.04)" font-size="61" text-anchor="middle" fill="#262626">Depth (m)</text>
<text transform="translate(3 136.5) scale(1 1.04)" font-size="85" text-anchor="start" font-weight="normal" fill="#000">A)</text>
<text transform="translate(1183.5 71.8) scale(1 1.03)" font-size="68" font-weight="bold" text-anchor="middle" fill="#000">Oxygen Concentration (mg L<tspan dy="-27.5" font-size="54">-1</tspan><tspan dy="27.5">)</tspan></text>
<rect x="2336.6" y="99" width="70.1" height="560" fill="url(#cbA)" stroke="#1c1c1c" stroke-width="2"/>
<text transform="translate(2428 682.5) scale(1 1.04)" font-size="61" text-anchor="start" font-weight="normal" fill="#262626">0</text>
<text transform="translate(2428 542.5) scale(1 1.04)" font-size="61" text-anchor="start" font-weight="normal" fill="#262626">2</text>
<text transform="translate(2428 402.5) scale(1 1.04)" font-size="61" text-anchor="start" font-weight="normal" fill="#262626">4</text>
<text transform="translate(2428 262.5) scale(1 1.04)" font-size="61" text-anchor="start" font-weight="normal" fill="#262626">6</text>
<text transform="translate(2428 122.5) scale(1 1.04)" font-size="61" text-anchor="start" font-weight="normal" fill="#262626">8</text>
<path d="M2406.7 659h-6.5M2406.7 519h-6.5M2406.7 379h-6.5M2406.7 239h-6.5M2406.7 99h-6.5" stroke="#1c1c1c" stroke-width="2" fill="none"/>
<rect x="180" y="877.6" width="2011.6" height="560.9" fill="none" stroke="#1c1c1c" stroke-width="2"/>
<path d="M403.5 877.6v20M403.5 1438.5v-20M627 877.6v20M627 1438.5v-20M850.5 877.6v20M850.5 1438.5v-20M1074 877.6v20M1074 1438.5v-20M1297.5 877.6v20M1297.5 1438.5v-20M1521 877.6v20M1521 1438.5v-20M1744.5 877.6v20M1744.5 1438.5v-20M1968 877.6v20M1968 1438.5v-20M180 886.8h20M2191.6 886.8h-20M180 1014.2h20M2191.6 1014.2h-20M180 1141.5h20M2191.6 1141.5h-20M180 1268.8h20M2191.6 1268.8h-20M180 1396.2h20M2191.6 1396.2h-20" stroke="#1c1c1c" stroke-width="2" fill="none"/>
<text transform="translate(156.5 911.3) scale(1 1.04)" font-size="61" text-anchor="end" font-weight="normal" fill="#262626">0</text>
<text transform="translate(156.5 1038.7) scale(1 1.04)" font-size="61" text-anchor="end" font-weight="normal" fill="#262626">20</text>
<text transform="translate(156.5 1166) scale(1 1.04)" font-size="61" text-anchor="end" font-weight="normal" fill="#262626">40</text>
<text transform="translate(156.5 1293.3) scale(1 1.04)" font-size="61" text-anchor="end" font-weight="normal" fill="#262626">60</text>
<text transform="translate(156.5 1420.7) scale(1 1.04)" font-size="61" text-anchor="end" font-weight="normal" fill="#262626">80</text>
<text transform="translate(172 1522) scale(1 1.04)" font-size="61" text-anchor="middle" font-weight="normal" fill="#262626">15-Dec</text>
<text transform="translate(395.5 1522) scale(1 1.04)" font-size="61" text-anchor="middle" font-weight="normal" fill="#262626">25-Dec</text>
<text transform="translate(619 1522) scale(1 1.04)" font-size="61" text-anchor="middle" font-weight="normal" fill="#262626">04-Jan</text>
<text transform="translate(842.5 1522) scale(1 1.04)" font-size="61" text-anchor="middle" font-weight="normal" fill="#262626">13-Jan</text>
<text transform="translate(1066 1522) scale(1 1.04)" font-size="61" text-anchor="middle" font-weight="normal" fill="#262626">23-Jan</text>
<text transform="translate(1289.5 1522) scale(1 1.04)" font-size="61" text-anchor="middle" font-weight="normal" fill="#262626">02-Feb</text>
<text transform="translate(1513 1522) scale(1 1.04)" font-size="61" text-anchor="middle" font-weight="normal" fill="#262626">12-Feb</text>
<text transform="translate(1736.5 1522) scale(1 1.04)" font-size="61" text-anchor="middle" font-weight="normal" fill="#262626">22-Feb</text>
<text transform="translate(1960 1522) scale(1 1.04)" font-size="61" text-anchor="middle" font-weight="normal" fill="#262626">03-Mar</text>
<text transform="translate(2183.5 1522) scale(1 1.04)" font-size="61" text-anchor="middle" font-weight="normal" fill="#262626">13-Mar</text>
<text transform="translate(62.5 1158) rotate(-90) scale(1 1.04)" font-size="61" text-anchor="middle" fill="#262626">Depth (m)</text>
<text transform="translate(3 915.1) scale(1 1.04)" font-size="85" text-anchor="start" font-weight="normal" fill="#000">B)</text>
<text transform="translate(753.5 850.8) scale(1 1.03)" font-size="68" font-weight="bold" textLength="863.7" lengthAdjust="spacingAndGlyphs" fill="#000">Potential Temperature (°C)</text>
<rect x="2336.6" y="877.6" width="70.1" height="560.9" fill="url(#cbB)" stroke="#1c1c1c" stroke-width="2"/>
<text transform="translate(2428 1370.5) scale(1 1.04)" font-size="61" text-anchor="start" font-weight="normal" fill="#262626">4</text>
<text transform="translate(2428 1236.8) scale(1 1.04)" font-size="61" text-anchor="start" font-weight="normal" fill="#262626">6</text>
<text transform="translate(2428 1103.1) scale(1 1.04)" font-size="61" text-anchor="start" font-weight="normal" fill="#262626">8</text>
<text transform="translate(2428 969.4) scale(1 1.04)" font-size="61" text-anchor="start" font-weight="normal" fill="#262626">10</text>
<path d="M2406.7 1347h-6.5M2406.7 1213.3h-6.5M2406.7 1079.6h-6.5M2406.7 945.9h-6.5" stroke="#1c1c1c" stroke-width="2" fill="none"/>
<rect x="180" y="1656" width="2011.6" height="560.3" fill="none" stroke="#1c1c1c" stroke-width="2"/>
<path d="M403.5 1656v20M403.5 2216.3v-20M627 1656v20M627 2216.3v-20M850.5 1656v20M850.5 2216.3v-20M1074 1656v20M1074 2216.3v-20M1297.5 1656v20M1297.5 2216.3v-20M1521 1656v20M1521 2216.3v-20M1744.5 1656v20M1744.5 2216.3v-20M1968 1656v20M1968 2216.3v-20M180 1665.2h20M2191.6 1665.2h-20M180 1792.5h20M2191.6 1792.5h-20M180 1919.9h20M2191.6 1919.9h-20M180 2047.2h20M2191.6 2047.2h-20M180 2174.6h20M2191.6 2174.6h-20" stroke="#1c1c1c" stroke-width="2" fill="none"/>
<text transform="translate(156.5 1689.7) scale(1 1.04)" font-size="61" text-anchor="end" font-weight="normal" fill="#262626">0</text>
<text transform="translate(156.5 1817) scale(1 1.04)" font-size="61" text-anchor="end" font-weight="normal" fill="#262626">20</text>
<text transform="translate(156.5 1944.4) scale(1 1.04)" font-size="61" text-anchor="end" font-weight="normal" fill="#262626">40</text>
<text transform="translate(156.5 2071.8) scale(1 1.04)" font-size="61" text-anchor="end" font-weight="normal" fill="#262626">60</text>
<text transform="translate(156.5 2199.1) scale(1 1.04)" font-size="61" text-anchor="end" font-weight="normal" fill="#262626">80</text>
<text transform="translate(172 2299.8) scale(1 1.04)" font-size="61" text-anchor="middle" font-weight="normal" fill="#262626">15-Dec</text>
<text transform="translate(395.5 2299.8) scale(1 1.04)" font-size="61" text-anchor="middle" font-weight="normal" fill="#262626">25-Dec</text>
<text transform="translate(619 2299.8) scale(1 1.04)" font-size="61" text-anchor="middle" font-weight="normal" fill="#262626">04-Jan</text>
<text transform="translate(842.5 2299.8) scale(1 1.04)" font-size="61" text-anchor="middle" font-weight="normal" fill="#262626">13-Jan</text>
<text transform="translate(1066 2299.8) scale(1 1.04)" font-size="61" text-anchor="middle" font-weight="normal" fill="#262626">23-Jan</text>
<text transform="translate(1289.5 2299.8) scale(1 1.04)" font-size="61" text-anchor="middle" font-weight="normal" fill="#262626">02-Feb</text>
<text transform="translate(1513 2299.8) scale(1 1.04)" font-size="61" text-anchor="middle" font-weight="normal" fill="#262626">12-Feb</text>
<text transform="translate(1736.5 2299.8) scale(1 1.04)" font-size="61" text-anchor="middle" font-weight="normal" fill="#262626">22-Feb</text>
<text transform="translate(1960 2299.8) scale(1 1.04)" font-size="61" text-anchor="middle" font-weight="normal" fill="#262626">03-Mar</text>
<text transform="translate(2183.5 2299.8) scale(1 1.04)" font-size="61" text-anchor="middle" font-weight="normal" fill="#262626">13-Mar</text>
<text transform="translate(62.5 1936.2) rotate(-90) scale(1 1.04)" font-size="61" text-anchor="middle" fill="#262626">Depth (m)</text>
<text transform="translate(3 1693.5) scale(1 1.04)" font-size="85" text-anchor="start" font-weight="normal" fill="#000">C)</text>
<text transform="translate(966 1630.5) scale(1 1.03)" font-size="68" font-weight="bold" textLength="435.6" lengthAdjust="spacingAndGlyphs" fill="#000">Salinity (PSU)</text>
<rect x="2336.6" y="1656" width="70.1" height="560.3" fill="url(#cbC)" stroke="#1c1c1c" stroke-width="2"/>
<text transform="translate(2428 2171.5) scale(1 1.04)" font-size="61" text-anchor="start" font-weight="normal" fill="#262626">8</text>
<text transform="translate(2428 2048.5) scale(1 1.04)" font-size="61" text-anchor="start" font-weight="normal" fill="#262626">10</text>
<text transform="translate(2428 1925.5) scale(1 1.04)" font-size="61" text-anchor="start" font-weight="normal" fill="#262626">12</text>
<text transform="translate(2428 1802.5) scale(1 1.04)" font-size="61" text-anchor="start" font-weight="normal" fill="#262626">14</text>
<text transform="translate(2428 1679.5) scale(1 1.04)" font-size="61" text-anchor="start" font-weight="normal" fill="#262626">16</text>
<path d="M2406.7 2148h-6.5M2406.7 2025h-6.5M2406.7 1902h-6.5M2406.7 1779h-6.5M2406.7 1656h-6.5" stroke="#1c1c1c" stroke-width="2" fill="none"/>
</svg></body></html>
